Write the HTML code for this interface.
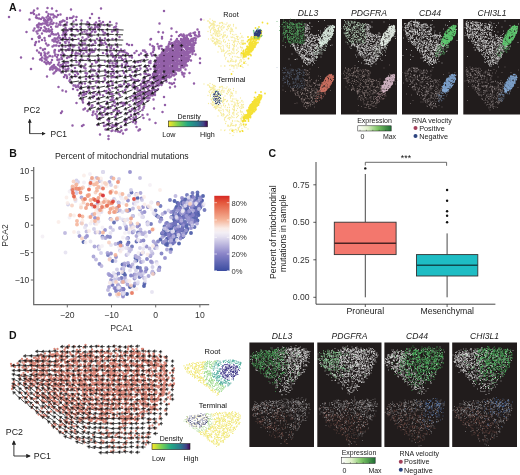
<!DOCTYPE html>
<html><head><meta charset="utf-8"><style>
html,body{margin:0;padding:0;background:#fff;width:520px;height:475px;overflow:hidden}
svg{display:block;font-family:"Liberation Sans",sans-serif;filter:blur(0.3px)}
</style></head><body>
<svg width="520" height="475" viewBox="0 0 520 475">
<defs>
<linearGradient id="vir" x1="0" x2="1" y1="0" y2="0"><stop offset="0" stop-color="#fde725"/><stop offset="0.25" stop-color="#7ad151"/><stop offset="0.5" stop-color="#22a884"/><stop offset="0.75" stop-color="#2a788e"/><stop offset="0.9" stop-color="#414487"/><stop offset="1" stop-color="#440154"/></linearGradient>
<linearGradient id="grn" x1="0" x2="1" y1="0" y2="0"><stop offset="0" stop-color="#ffffff"/><stop offset="0.3" stop-color="#dff0c8"/><stop offset="0.6" stop-color="#7cc464"/><stop offset="1" stop-color="#1f6e34"/></linearGradient>
<linearGradient id="rdbu" x1="0" x2="0" y1="0" y2="1"><stop offset="0.000" stop-color="rgb(215,40,36)"/><stop offset="0.091" stop-color="rgb(228,88,60)"/><stop offset="0.205" stop-color="rgb(236,133,105)"/><stop offset="0.318" stop-color="rgb(245,178,150)"/><stop offset="0.432" stop-color="rgb(250,236,231)"/><stop offset="0.489" stop-color="rgb(243,239,245)"/><stop offset="0.545" stop-color="rgb(228,224,240)"/><stop offset="0.659" stop-color="rgb(183,178,220)"/><stop offset="0.773" stop-color="rgb(138,132,200)"/><stop offset="0.886" stop-color="rgb(98,104,180)"/><stop offset="1.000" stop-color="rgb(59,76,160)"/></linearGradient>
<marker id="ah" viewBox="0 0 6 6" refX="5" refY="3" markerWidth="5" markerHeight="5" orient="auto"><path d="M0 0L6 3L0 6Z" fill="#222"/></marker>
</defs>
<text x="9" y="10.6" font-size="10.5" font-weight="bold" fill="#111">A</text>
<path transform="scale(.5)" d="M262 230h0M165 120h0M352 100h0M188 103h0M385 104h0M143 112h0M223 187h0M196 238h0M185 230h0M281 206h0M222 96h0M384 78h0M325 131h0M190 83h0M222 109h0M238 222h0M301 156h0M199 134h0M220 134h0M100 35h0M144 58h0M140 97h0M128 154h0M254 227h0M265 144h0M218 243h0M321 92h0M289 147h0M78 37h0M90 47h0M362 69h0M324 140h0M241 170h0M226 114h0M217 170h0M312 124h0M186 60h0M225 144h0M235 94h0M246 211h0M100 112h0M104 68h0M107 131h0M194 198h0M287 193h0M221 216h0M272 244h0M189 58h0M194 124h0M123 43h0M130 62h0M194 223h0M120 141h0M267 235h0M201 225h0M201 85h0M98 126h0M206 164h0M362 89h0M191 63h0M213 108h0M282 107h0M146 178h0M381 67h0M192 45h0M157 78h0M189 48h0M170 167h0M95 91h0M193 147h0M278 213h0M224 63h0M365 119h0M368 82h0M225 126h0M164 167h0M338 88h0M259 221h0M166 97h0M166 205h0M185 193h0M104 64h0M134 36h0M308 100h0M176 208h0M337 126h0M120 76h0M231 89h0M174 184h0M221 102h0M143 57h0M267 239h0M147 53h0M333 163h0M188 192h0M99 128h0M143 62h0M324 98h0M97 62h0M151 153h0M223 228h0M256 132h0M162 173h0M103 68h0M285 230h0M242 99h0M391 81h0M225 261h0M215 68h0M126 137h0M357 91h0M224 200h0M184 103h0M191 86h0M235 59h0M332 159h0M308 110h0M261 196h0M171 188h0M221 200h0M158 95h0M307 97h0M186 225h0M120 44h0M366 87h0M82 56h0M238 171h0M178 205h0M374 71h0M291 184h0M105 80h0M128 64h0M232 231h0M201 212h0M244 118h0M160 187h0M202 82h0M323 170h0M132 49h0M170 87h0M159 155h0M151 171h0M235 222h0M176 176h0M355 134h0M77 74h0M104 59h0M267 168h0M185 176h0M371 106h0M315 140h0M319 121h0M239 104h0M176 173h0M114 114h0M277 228h0M246 110h0M194 236h0M96 39h0M303 164h0M318 97h0M173 99h0M294 108h0M113 84h0M269 160h0M297 181h0M276 124h0M171 98h0M161 177h0M197 117h0M166 198h0M316 178h0M231 115h0M147 93h0M230 205h0M315 165h0M247 206h0M75 54h0M195 174h0M209 50h0M272 161h0M253 106h0M225 153h0M210 159h0M218 171h0M167 187h0M387 77h0M223 92h0M225 127h0M301 126h0M225 250h0M89 111h0M252 245h0M373 105h0M323 92h0M138 91h0M216 71h0M202 85h0M134 38h0M178 119h0M122 79h0M220 103h0M214 249h0M199 42h0M210 66h0M172 188h0M168 135h0M293 188h0M190 121h0M116 67h0M115 119h0M306 172h0M295 202h0M369 71h0M211 229h0M209 156h0M157 174h0M133 50h0M314 115h0M232 154h0M129 125h0M144 36h0M343 146h0M263 111h0M308 94h0M89 54h0M300 190h0M156 62h0M270 125h0M112 53h0M126 76h0M153 124h0M252 129h0M151 108h0M241 173h0M132 64h0M292 148h0M164 100h0M100 36h0M347 123h0M251 179h0M238 115h0M331 104h0M261 238h0M177 68h0M151 117h0M250 250h0M347 132h0M103 134h0M93 120h0M200 76h0M205 231h0M178 181h0M286 173h0M385 96h0M256 108h0M278 110h0M178 210h0M301 138h0M177 74h0M296 141h0M249 101h0M238 188h0M122 110h0M122 130h0M178 47h0M311 147h0M324 105h0M265 192h0M345 149h0M122 99h0M224 195h0M177 109h0M92 87h0M208 252h0M272 238h0M196 55h0M144 106h0M292 185h0M105 81h0M241 226h0M297 190h0M222 162h0M182 82h0M270 228h0M236 108h0M281 137h0M210 140h0M197 139h0M105 113h0M225 188h0M235 209h0M90 62h0M165 88h0M267 133h0M228 205h0M105 139h0M241 206h0M127 64h0M275 226h0M261 223h0M226 111h0M160 108h0M109 105h0M314 171h0M225 169h0M158 87h0M183 103h0M112 91h0M211 251h0M280 181h0M139 58h0M332 136h0M264 115h0M147 171h0M114 137h0M156 107h0M150 143h0M374 85h0M256 168h0M298 125h0M281 149h0M294 137h0M165 86h0M283 173h0M236 263h0M234 126h0M363 134h0M79 72h0M165 75h0M271 124h0M184 151h0M137 98h0M318 170h0M246 184h0M367 86h0M235 64h0M184 99h0M250 209h0M212 88h0M153 50h0M309 155h0M214 94h0M133 69h0M162 103h0M251 151h0M251 131h0M200 53h0M300 187h0M136 132h0M285 220h0M153 59h0M242 253h0M248 168h0M247 103h0M230 119h0M139 162h0M325 165h0M218 80h0M230 220h0M190 64h0M254 126h0M249 242h0M186 186h0M258 235h0M187 140h0M213 208h0M187 103h0M78 76h0M224 107h0M275 180h0M342 97h0M206 191h0M338 120h0M219 251h0M184 211h0M90 98h0M302 171h0M231 127h0M267 217h0M274 138h0M169 63h0M171 97h0M99 112h0M191 228h0M216 217h0M223 155h0M218 239h0M150 72h0M167 107h0M219 52h0M205 87h0M170 99h0M240 264h0M281 123h0M173 67h0M330 158h0M173 49h0M341 141h0M219 126h0M133 151h0M225 210h0M88 41h0M97 105h0M244 129h0M250 206h0M212 218h0M125 93h0M206 63h0M140 159h0M111 134h0M149 91h0M299 182h0M272 234h0M99 72h0M119 141h0M246 120h0M304 183h0M243 261h0M269 174h0M120 86h0M212 228h0M228 147h0M233 47h0M341 109h0M85 35h0M130 58h0M215 240h0M367 106h0M306 104h0M214 204h0M332 100h0M279 214h0M232 133h0M101 45h0M364 83h0M128 66h0M201 236h0M144 154h0M108 69h0M339 85h0M226 195h0M108 69h0M214 259h0M152 112h0M221 96h0M96 62h0M185 211h0M213 186h0M228 252h0M276 160h0M239 74h0M131 86h0M188 185h0M193 189h0M173 95h0M288 213h0M111 109h0M264 218h0M174 61h0M240 152h0M96 32h0M195 150h0M184 63h0M357 106h0M334 119h0M318 142h0M287 166h0M220 44h0M145 90h0M143 166h0M361 100h0M308 159h0M116 110h0M269 172h0M230 212h0M209 222h0M298 132h0M282 192h0M224 110h0M310 150h0M183 214h0M86 47h0M192 125h0M174 147h0M334 145h0M156 148h0M228 98h0M229 205h0M185 104h0M206 106h0M168 190h0M363 129h0M115 120h0M111 137h0M145 103h0M317 93h0M253 173h0M210 123h0M347 91h0M392 77h0M344 89h0M269 106h0M103 40h0M249 104h0M131 93h0M224 254h0M113 47h0M331 99h0M214 102h0M194 232h0M220 188h0M165 201h0M164 65h0M360 70h0M251 260h0M207 69h0M152 174h0M214 166h0M132 131h0M82 38h0M180 99h0M146 93h0M74 51h0M146 70h0M213 182h0M153 34h0M230 234h0M222 148h0M269 222h0M204 229h0M201 131h0M156 171h0M391 86h0M271 221h0M101 136h0M152 105h0M231 262h0M107 46h0M278 188h0M293 111h0M248 146h0M155 180h0M190 58h0M152 40h0M228 134h0M352 148h0M184 128h0M207 246h0M221 121h0M159 125h0M102 125h0M187 177h0M352 114h0M100 72h0M306 177h0M171 129h0M389 76h0M99 49h0M191 98h0M161 54h0M123 145h0M91 44h0M269 228h0M200 189h0M261 152h0M183 55h0M97 58h0M120 133h0M266 244h0M132 101h0M210 85h0M104 120h0M183 91h0M243 206h0M176 118h0M354 79h0M139 149h0M190 50h0M89 105h0M220 132h0M210 217h0M235 248h0M168 186h0M358 72h0M132 143h0M202 47h0M347 113h0M280 180h0M335 139h0M139 76h0M220 181h0M291 104h0M147 43h0M185 150h0M272 190h0M132 125h0M195 207h0M181 154h0M110 111h0M194 189h0M224 189h0M175 44h0M239 151h0M155 61h0M272 150h0M192 165h0M129 42h0M385 79h0M378 69h0M183 139h0M232 78h0M118 102h0M261 135h0M143 141h0M187 223h0M79 49h0M91 57h0M215 145h0M236 180h0M329 140h0M173 104h0M310 190h0M206 44h0M377 90h0M275 161h0M354 78h0M134 156h0M259 210h0M121 45h0M89 62h0M290 155h0M227 132h0M250 180h0M136 125h0M258 169h0M366 100h0M235 145h0M304 111h0M162 134h0M339 116h0M108 130h0M125 105h0M253 259h0M251 118h0M194 78h0M311 122h0M240 191h0M130 150h0M94 50h0M227 141h0M158 191h0M195 162h0M225 78h0M117 130h0M243 173h0M225 176h0M172 152h0M197 156h0M186 89h0M180 107h0M198 183h0M205 214h0M186 195h0M273 140h0M339 84h0M210 77h0M173 78h0M254 239h0M232 252h0M388 102h0M93 115h0M115 85h0M171 137h0M225 166h0M277 219h0M131 86h0M365 72h0M204 60h0M181 167h0M228 154h0M380 71h0M325 113h0M285 204h0M357 115h0M177 54h0M95 107h0M163 132h0M322 132h0M228 201h0M223 262h0M127 66h0M306 150h0M196 49h0M249 162h0M244 134h0M169 80h0M358 83h0M133 50h0M171 146h0M297 162h0M154 145h0M186 158h0M271 247h0M250 240h0M249 124h0M102 54h0M211 144h0M183 72h0M224 138h0M259 138h0M123 115h0M230 121h0M228 55h0M299 123h0M175 70h0M82 48h0M218 178h0M277 162h0M301 122h0M279 132h0M180 156h0M145 131h0M97 58h0M246 142h0M93 47h0M197 198h0M95 45h0M163 41h0M150 136h0M90 108h0M294 196h0M308 97h0M270 142h0M140 36h0M232 130h0M328 116h0M227 221h0M234 226h0M89 76h0M268 193h0M77 61h0M262 154h0M211 150h0M163 119h0M228 61h0M159 99h0M244 103h0M135 139h0M316 159h0M293 114h0M256 173h0M165 191h0M265 173h0M159 167h0M90 40h0M209 182h0M307 100h0M232 247h0M96 124h0M158 129h0M181 67h0M214 107h0M146 80h0M265 158h0M190 55h0M202 90h0M164 91h0M242 114h0M150 150h0M147 33h0M167 183h0M323 169h0M197 49h0M382 72h0M200 218h0M204 80h0M325 125h0M216 227h0M82 107h0M162 60h0M360 111h0M99 63h0M230 54h0M148 171h0M170 99h0M338 151h0M270 178h0M194 53h0M189 141h0M81 96h0M279 216h0M259 113h0M172 158h0M328 117h0M232 53h0M134 154h0M260 150h0M317 125h0M305 154h0M109 32h0M109 103h0M101 38h0M80 119h0M110 100h0M77 55h0M106 68h0M78 47h0M131 139h0M125 70h0M80 75h0M138 85h0M93 35h0M127 108h0M105 48h0M138 92h0M139 79h0M75 67h0M96 51h0M130 133h0M69 57h0M110 77h0M84 67h0M116 30h0M86 99h0M111 81h0M116 75h0M88 37h0M130 72h0M94 41h0M109 77h0M136 99h0M73 31h0M137 114h0M126 128h0M114 77h0M119 119h0M92 58h0M136 138h0M109 101h0M118 101h0M117 81h0M108 91h0M74 101h0M95 125h0M72 84h0M101 61h0M124 43h0M115 53h0M91 119h0M113 141h0M116 129h0M137 91h0M103 42h0M98 72h0M138 91h0M89 124h0M135 61h0M106 29h0M112 69h0M78 83h0M80 60h0M131 76h0M107 35h0M97 28h0M98 37h0M137 137h0M77 61h0M102 61h0M118 71h0M138 100h0M84 115h0M130 84h0M132 59h0M73 63h0M86 47h0M97 40h0M134 116h0M124 132h0M134 81h0M97 90h0M90 81h0M101 47h0M82 110h0M118 125h0M75 50h0M102 29h0M105 93h0M109 145h0M89 117h0M129 68h0M92 126h0M125 133h0M71 86h0M139 114h0M84 80h0M131 86h0M126 41h0M86 100h0M129 110h0M87 61h0M121 29h0M108 83h0M113 91h0M125 92h0M118 49h0M82 118h0M74 36h0M107 136h0M107 35h0M118 92h0M78 29h0M91 112h0M134 45h0M100 139h0M107 147h0M112 142h0M131 56h0M77 54h0M117 139h0M124 118h0M113 34h0M121 50h0M83 49h0M95 115h0M127 51h0M104 133h0M133 79h0M119 139h0M93 63h0M344 135h0M317 133h0M325 143h0M340 124h0M372 117h0M355 109h0M343 107h0M364 100h0M340 104h0M357 122h0M344 114h0M337 140h0M376 118h0M322 118h0M325 123h0M337 108h0M330 132h0M316 143h0M371 128h0M321 125h0M329 128h0M362 106h0M349 99h0M333 103h0M352 134h0M383 81h0M362 78h0M351 147h0M336 124h0M352 89h0M319 132h0M334 102h0M379 82h0M329 113h0M355 115h0M343 113h0M322 131h0M336 131h0M334 132h0M341 111h0M345 110h0M311 154h0M379 82h0M385 103h0M368 93h0M356 115h0M316 150h0M367 80h0M316 153h0M375 116h0M359 99h0M329 137h0M328 101h0M323 139h0M366 133h0M360 100h0M339 145h0M351 146h0M350 109h0M308 153h0M345 103h0M347 88h0M313 123h0M369 118h0M370 116h0M327 158h0M359 110h0M334 148h0M343 113h0M319 114h0M337 91h0M370 76h0M331 99h0M338 106h0M336 132h0M376 121h0M361 86h0M324 111h0M345 140h0M365 88h0M348 92h0M323 125h0M324 120h0M382 98h0M361 133h0M333 116h0M329 123h0M356 112h0M345 126h0M369 118h0M382 83h0M326 128h0M347 130h0M326 120h0M315 118h0M361 137h0M360 94h0M377 106h0M366 79h0M320 115h0M371 83h0M329 110h0M326 130h0M374 95h0M333 135h0M336 143h0M358 85h0M347 119h0M330 102h0M360 140h0M372 110h0M315 145h0M361 130h0M371 115h0M367 115h0M356 92h0M309 138h0M329 106h0M335 131h0M322 113h0M316 151h0M357 85h0M322 134h0M372 78h0M376 81h0M386 101h0M380 105h0M373 119h0M372 98h0M340 138h0M347 89h0M367 81h0M356 141h0M356 95h0M369 132h0M370 123h0M322 154h0M317 116h0M344 88h0M328 135h0M379 89h0M318 155h0M374 92h0M332 110h0M311 139h0M317 136h0M351 126h0M366 93h0M330 136h0M373 77h0M322 117h0M376 97h0M354 123h0M316 134h0M321 112h0M337 128h0M328 110h0M358 139h0M342 127h0M310 128h0M370 90h0M319 124h0M334 152h0M373 123h0M350 95h0M334 125h0M311 148h0M331 133h0M378 105h0M348 111h0M364 107h0M371 127h0M325 109h0M343 123h0M314 145h0M338 106h0M376 84h0M337 93h0M357 121h0M353 108h0M352 135h0M381 102h0M357 138h0M373 96h0M326 122h0M376 122h0M329 103h0M355 96h0M331 155h0M383 99h0M374 105h0M311 129h0M342 127h0M326 109h0M324 127h0M365 91h0M383 89h0M373 108h0M327 154h0M356 82h0M359 87h0M342 135h0M347 94h0M371 83h0M348 117h0M367 129h0M383 82h0M349 125h0M377 114h0M339 114h0M350 134h0M363 113h0M352 136h0M337 111h0M379 88h0M377 81h0M374 102h0M379 85h0M354 127h0M370 119h0M343 127h0M355 138h0M358 84h0M346 87h0M363 99h0M324 151h0M370 87h0M339 117h0M335 101h0M349 119h0M319 143h0M330 114h0M321 115h0M350 114h0M362 96h0M330 148h0M315 144h0M382 99h0M364 84h0M341 142h0M333 136h0M365 91h0M380 113h0M316 157h0M338 122h0M323 157h0M329 118h0M350 114h0M353 118h0M319 119h0M344 86h0M383 95h0M384 97h0M326 123h0M374 110h0M368 110h0M368 102h0M342 153h0M351 84h0M352 108h0M340 104h0M327 137h0M310 135h0M313 123h0M380 87h0M372 105h0M308 132h0M333 118h0M334 100h0M344 99h0M316 122h0M336 154h0M349 84h0M364 92h0M368 117h0M342 123h0M332 141h0M317 125h0M359 101h0M378 115h0M321 139h0M336 117h0M344 95h0M337 111h0M365 100h0M337 100h0M378 86h0M348 87h0M314 129h0M359 107h0M371 117h0M342 88h0M365 83h0M334 103h0M362 94h0M320 134h0M378 86h0M310 127h0M349 143h0M342 137h0M347 112h0M319 160h0M307 151h0M363 91h0M358 113h0M372 97h0M311 125h0M352 140h0M333 122h0M359 128h0M342 126h0M355 84h0M343 119h0M373 100h0M325 112h0M338 129h0M355 134h0M332 151h0M352 126h0M339 138h0M341 109h0M362 110h0M334 99h0M366 87h0M357 85h0M373 116h0M371 75h0M368 110h0M350 94h0M348 114h0M355 84h0M346 140h0M365 84h0M350 104h0M316 119h0M322 158h0M330 110h0M367 91h0M358 84h0M368 106h0M361 92h0M357 87h0M366 87h0M309 129h0M364 129h0M346 119h0M370 86h0M370 110h0M320 143h0M347 116h0M324 124h0M356 103h0M367 81h0M320 145h0M333 154h0M328 145h0M362 79h0M338 139h0M324 151h0M318 142h0M321 132h0M323 124h0M329 159h0M318 157h0M333 133h0M347 131h0M312 126h0M344 141h0M332 143h0M340 140h0M347 133h0M362 92h0M343 122h0M374 104h0M354 136h0M369 120h0M372 82h0M339 105h0M374 102h0M361 114h0M332 155h0M331 112h0M331 132h0M338 116h0M350 119h0M332 114h0M334 151h0M336 153h0M366 131h0M384 91h0M316 123h0M360 99h0M372 96h0M333 118h0M338 146h0M347 115h0M315 118h0M312 159h0M361 99h0M332 152h0M388 90h0M336 153h0M374 87h0M337 129h0M345 94h0M365 115h0M354 93h0M363 120h0M309 156h0M312 154h0M356 138h0M336 94h0M335 124h0M365 106h0M332 99h0M317 129h0M330 152h0M372 80h0M315 139h0M341 144h0M364 114h0M378 119h0M316 135h0M347 144h0M355 85h0M387 85h0M375 88h0M367 83h0M325 126h0M323 156h0M370 131h0M339 138h0M317 151h0M359 96h0M317 118h0M340 147h0M361 140h0M314 138h0M369 122h0M310 138h0M355 132h0M325 150h0M312 145h0M352 81h0M332 101h0M359 141h0M320 112h0M323 154h0M342 153h0M314 145h0M309 134h0M363 125h0M327 156h0M385 81h0M346 104h0M328 142h0M308 145h0M312 148h0M319 119h0M326 136h0M353 96h0M340 128h0M332 140h0M335 117h0M358 111h0M347 115h0M325 108h0M350 108h0M317 151h0M370 104h0M339 140h0M353 105h0M361 133h0M313 154h0M363 97h0M341 146h0M312 159h0M332 152h0M374 108h0M347 128h0M357 139h0M357 123h0M321 121h0M345 123h0M306 148h0M332 158h0M332 100h0M341 147h0M342 145h0M348 136h0M323 108h0M356 139h0M320 151h0M327 132h0M333 108h0M361 87h0M348 137h0M340 113h0M342 115h0M382 91h0M359 123h0M350 104h0M333 154h0M321 141h0M369 111h0M351 117h0M365 114h0M343 125h0M352 112h0M320 141h0M327 129h0M335 139h0M335 109h0M376 96h0M326 149h0M336 151h0M342 146h0M361 90h0M314 120h0M327 114h0M380 112h0M334 115h0M363 118h0M362 104h0M360 99h0M336 111h0M331 140h0M375 95h0M361 140h0M359 89h0M376 96h0M325 114h0M375 92h0M342 122h0M333 129h0M350 85h0M369 121h0M361 86h0M327 116h0M362 87h0M370 84h0M312 133h0M362 97h0M321 146h0M320 111h0M377 91h0M320 157h0M315 129h0M323 136h0M349 150h0M376 89h0M350 108h0M362 118h0M329 123h0M371 110h0M333 131h0M337 97h0M335 116h0M367 103h0M363 81h0M334 137h0M312 128h0M373 81h0M366 112h0M374 102h0M357 99h0M349 121h0M369 80h0M374 122h0M348 91h0M337 95h0M340 102h0M315 151h0M329 129h0M365 121h0M335 147h0M346 103h0M366 82h0M368 76h0M385 106h0M332 122h0M373 105h0M337 151h0M319 114h0M328 131h0M346 115h0M355 91h0M312 154h0M367 78h0M325 117h0M378 88h0M353 115h0M341 141h0M336 100h0M338 100h0M354 90h0M376 106h0M312 147h0M323 154h0M358 121h0M348 106h0M337 125h0M343 112h0M349 117h0M342 153h0M349 124h0M369 131h0M347 108h0M315 143h0M387 98h0M339 155h0M350 109h0M364 82h0M338 129h0M370 105h0M310 155h0M311 147h0M309 143h0M350 92h0M324 114h0M372 125h0M361 113h0M323 127h0M332 139h0M365 90h0M352 82h0M370 95h0M361 123h0M347 108h0M328 129h0M350 127h0M330 105h0M321 129h0M362 133h0M313 157h0M341 98h0M351 120h0M330 152h0M369 106h0M336 96h0M386 96h0M352 92h0M327 134h0M313 135h0M320 159h0M334 124h0M310 134h0M331 141h0M338 111h0M386 81h0M287 120h0M402 39h0M378 99h0M355 98h0M305 92h0M391 109h0M348 166h0M367 147h0M343 116h0M343 72h0M352 130h0M336 136h0M302 107h0M362 80h0M323 125h0M352 105h0M365 124h0M271 174h0M376 109h0M361 113h0M339 135h0M374 111h0M349 130h0M363 133h0M356 101h0M326 103h0M340 175h0M359 124h0M377 104h0M342 79h0M330 152h0M349 92h0M311 144h0M384 89h0M351 127h0M343 114h0M313 157h0M377 96h0M263 160h0M367 69h0M338 106h0M361 105h0M390 70h0M350 159h0M382 79h0M324 105h0M358 107h0M317 64h0M390 65h0M270 162h0M348 151h0M368 153h0M318 130h0M335 95h0M345 150h0M353 120h0M316 146h0M307 151h0M314 146h0M345 105h0M358 128h0M385 108h0M357 112h0M362 129h0M358 114h0M360 86h0M387 95h0M355 123h0M339 166h0M328 123h0M340 122h0M360 124h0M333 115h0M347 142h0M352 102h0M381 96h0M374 131h0M398 64h0M335 113h0M349 139h0M381 99h0M376 116h0M361 94h0M329 123h0M400 117h0M374 75h0M382 121h0M328 122h0M271 199h0M335 118h0M367 135h0M347 124h0M375 100h0M319 111h0M329 127h0M361 113h0M333 94h0M364 145h0M367 102h0M369 147h0M326 158h0M377 107h0M371 139h0M362 108h0M344 93h0M321 145h0M322 147h0M312 123h0M326 125h0M276 197h0M368 124h0M334 137h0M350 126h0M388 167h0M311 159h0M352 135h0M369 133h0M354 117h0M365 149h0M362 -12h0M347 122h0M370 94h0M307 166h0M374 105h0M315 88h0M388 87h0M342 132h0M291 132h0M287 216h0M366 129h0M343 57h0M328 108h0M323 115h0M346 150h0M367 128h0M333 123h0M336 144h0M363 101h0M322 117h0M342 102h0M376 78h0M331 127h0M399 72h0M314 165h0M298 188h0M300 150h0M305 167h0M316 169h0M266 200h0M325 156h0M296 150h0M299 196h0M293 196h0M285 163h0M295 162h0M317 171h0M322 154h0M276 187h0M303 182h0M289 157h0M281 191h0M300 157h0M296 186h0M297 149h0M301 165h0M310 185h0M320 160h0M290 169h0M270 195h0M322 147h0M319 167h0M292 171h0M300 172h0M269 187h0M306 179h0M325 150h0M312 161h0M273 191h0M288 172h0M320 165h0M280 186h0M287 160h0M314 161h0M298 150h0M305 154h0M306 148h0M290 174h0M307 154h0M275 210h0M277 206h0M274 190h0M284 199h0M315 146h0M315 159h0M284 196h0M289 186h0M283 176h0M309 166h0M289 183h0M277 208h0M279 181h0M314 158h0M302 183h0M298 171h0M301 191h0M292 169h0M297 197h0M278 190h0M293 175h0M307 149h0M290 190h0M278 204h0M311 173h0M322 143h0M324 153h0M317 161h0M307 189h0M281 170h0M279 197h0M300 187h0M310 180h0M276 209h0M295 165h0M312 152h0M282 168h0M287 199h0M297 195h0M322 165h0M304 171h0M314 180h0M317 142h0M295 189h0M295 174h0M304 154h0M299 187h0M321 141h0M321 161h0M275 176h0M283 203h0M322 156h0M320 145h0M305 191h0M303 184h0M300 186h0M282 207h0M273 199h0M281 189h0M305 177h0M270 187h0M299 173h0M296 178h0M284 184h0M302 187h0M306 171h0M282 185h0M284 196h0M266 201h0M289 185h0M314 164h0M313 170h0M289 163h0M270 196h0M272 205h0M124 223h0M289 101h0M78 105h0M319 47h0M387 66h0M62 26h0M153 206h0M167 250h0M246 267h0M400 126h0M198 36h0M328 22h0M104 17h0M217 278h0M396 73h0M307 199h0M62 138h0M264 90h0M258 90h0M279 259h0M18 34h0M328 194h0M302 78h0M273 102h0M94 153h0M170 217h0M395 59h0M392 71h0M167 219h0M311 246h0M84 121h0M350 173h0M353 64h0M164 252h0M70 90h0M200 269h0M95 16h0M273 254h0M308 217h0M145 251h0M53 64h0M326 65h0M211 259h0M180 36h0M325 224h0M73 31h0M277 261h0M125 181h0M78 105h0M66 117h0M68 21h0M109 145h0M175 222h0M64 78h0M132 183h0M66 25h0M344 168h0M280 259h0M93 24h0M324 77h0M301 79h0M330 210h0M68 28h0M195 250h0M67 61h0M40 21h0M59 39h0M93 128h0M202 17h0M300 89h0M122 226h0M295 229h0M142 19h0M299 239h0M217 272h0M72 35h0M42 115h0M324 74h0M117 174h0M379 146h0M184 28h0M75 17h0M286 101h0M287 236h0M343 167h0M398 68h0M113 22h0M93 24h0M254 88h0M370 131h0" stroke="#874f9f" stroke-opacity="0.9" stroke-width="5" stroke-linecap="round" fill="none"/><path transform="scale(.5)" d="M346 101h0M363 100h0M328 111h0M345 113h0M363 111h0M328 122h0M346 121h0M363 121h0M328 132h0M345 132h0M364 131h0" stroke="#2a1030" stroke-opacity="0.9" stroke-width="3" stroke-linecap="round" fill="none"/><path d="M66.5 24.8L65.3 24.8M78.1 24.2L72.5 24.1M88.2 24.1L81.8 23.9M96.5 24.9L89.9 24.7M104.2 25L99.7 24.9M112.7 25L108.2 24.9M68.6 30.1L63.6 29.9M78.4 29.6L72.2 29.5M86.1 29.7L81.7 29.6M95.9 29.4L90.5 29.2M104.5 29.7L99.9 29.6M114.6 29.8L108 29.6M123.6 30L116.4 29.7M66.8 34.6L65.7 34.6M78.4 35L72.2 34.8M87.9 34.3L81 34.1M95.7 35.1L90.5 35M105.7 35.1L98.9 34.8M113.7 34.5L108.4 34.3M123 34.8L117.6 34.7M69 39.6L63.2 39.5M77.3 39.6L72.8 39.4M86.4 40.9L82 40.8M95.7 40.2L90.7 40M105.1 40.4L100.5 40.2M114.2 40.2L108.5 40M123.3 40.1L116.8 39.9M68.6 45.4L62.7 45.2M78.2 45.2L71.3 45M87.9 45.1L81.3 44.9M95.9 45.4L89.5 45.2M104.5 45.2L100 45M114.1 45L109.6 44.9M122.2 45L117.6 44.9M173.6 45.6L172.7 45.6M183.2 45.5L181.9 45.5M69.7 50.1L62.8 49.8M78.1 50.3L73 50.2M86.8 50.7L80.6 50.5M95.8 50.3L90 50.1M106.3 50.1L99.5 49.9M114.4 50.3L107.5 50.1M124.1 50.8L116.9 50.6M164.5 50.2L163.8 50.2M68.6 55.8L64.3 55.7M78.6 55.7L72 55.5M87.1 56.1L82.2 56M96 56.1L89.6 55.9M104.9 55.7L98.7 55.5M114.9 56L108.3 55.8M123.3 55.8L116.8 55.6M132.8 55.7L126.1 55.5M148.7 55.4L146.3 55.3M157.3 55.4L156 55.3M68.7 61.3L64.3 61.4M76.9 60.5L72.3 60.6M87.4 60.4L80.8 60.4M95.5 60.5L90.4 60.6M105.5 60.2L99.3 60.2M114.9 61L108.7 61.1M123.2 60.5L117.6 60.9M132 60.5L127 61.2M142.2 59.9L135.1 61.3M148.5 59.6L144.8 60.5M156.8 60.4L155.5 60.7M69.1 66.2L63.7 66.5M78.8 65.1L71.8 65.3M85.7 65.9L81.3 66.1M96.2 66L91.5 66.2M105.4 65.4L99.5 65.6M114.7 65.7L108.1 66M122.9 65.6L118.1 66.2M132.3 65.8L125.8 67M142 65L135.2 66.6M148.9 65.1L145.8 66M156.6 65.5L155.1 66M69.4 70.9L63.4 71.4M78 71.1L73.2 71.5M86.8 70.9L81.1 71.4M96 70.8L90.7 71.2M106.3 70.8L99.7 71.3M114.1 71.4L108.9 71.8M122.9 70.6L117.5 71.4M132.1 69.9L126.8 71M140.5 70.1L136.2 71.3M148.9 69.9L145.7 71M157.3 70.4L155.7 71M165.5 71L164.5 71.4M174.5 70.9L173.7 71.3M77.7 76.1L72.2 76.8M87.3 76.5L80.7 77.3M95.7 75.9L89.9 76.6M105.4 75.5L98.6 76.3M113.5 75.7L108.6 76.3M122.9 76L117.7 77M132.4 75.4L125.9 77M140.6 73.9L135.6 75.5M149.8 75.1L144.8 77.1M157.8 75.7L154.7 77M167 75.6L164 76.9M79.1 81L72 82.1M87.3 81.1L81.3 82.1M96.6 80.8L90.4 81.8M105.3 80.9L99.6 81.8M113.9 81L108.9 81.8M123.1 80.7L116.9 82.1M131.9 80L126.3 81.6M140.6 80.1L135 82.1M149.9 79.8L144.8 82.1M159.1 79.8L153.4 82.5M167.2 79.9L162.3 82.2M86.9 86.7L81.8 87.8M96.1 85.9L89.7 87.2M105 86.2L99.2 87.4M113.9 85.3L108.2 86.4M123.2 85.8L116.7 87.5M131.7 84.9L127.3 86.4M140.5 84.8L135 87M149.8 85.4L144.1 88.2M158.6 84.9L153.7 87.4M87.4 91.3L81.3 92.8M96.4 91.3L90.7 92.7M105.1 90.8L99.5 92.2M113.6 91.5L109.1 92.6M123.2 90.7L117.2 92.6M132.5 89.8L126 92.3M141.2 90.1L135.2 92.9M150.1 90L144.1 93.2M158.9 89.5L153.1 92.8M87.2 96.4L81.5 98.1M95.1 96.4L90.5 97.7M105.4 96.4L99.3 98.2M114.6 95.4L108.3 97.2M122.8 96.5L117.5 98.4M131.8 95.7L126.9 97.8M140.8 95L136.1 97.4M148.5 95.5L144.7 97.8M96.2 101.1L89.6 103.2M105.5 101.1L99.1 103.1M114 101.2L108 103M122.3 101.7L118.2 103.2M131.5 100.5L127 102.5M141.1 100.4L135.3 103.5M149.7 100.2L144.4 103.4M95.9 107L90.5 108.7M105.3 106.6L98.9 108.6M113.6 105.7L108.9 107.1M123.5 105.8L117.3 108.1M131.8 106L126.2 108.5M140.7 105.1L135.4 107.9M104.7 112.1L100.3 113.4M114.5 111.6L107.7 113.7M122.4 111.9L117.9 113.6M132.6 110.4L126.2 113.3M141.4 110.8L135.6 113.9M104.4 117.1L99.9 118.5M113.9 117L109.5 118.3M122.5 116.5L116.7 118.7M132.1 116L125.8 118.9M141.4 116.4L135.5 119.6M104.5 122.2L99.1 123.9M113.1 122.6L108.9 123.9M122.9 121.8L116.7 124.1M131.7 121.7L126.3 124.1M113.5 127.5L108.9 128.9M122.3 127.1L117.7 128.8" stroke="#1a1a1a" stroke-width="0.85" fill="none"/><path d="M63.6 24.8L65.3 23.4L65.3 26.3ZM70 24L72.5 22.6L72.4 25.5ZM79.3 23.9L81.8 22.5L81.7 25.4ZM87.4 24.6L90 23.2L89.9 26.1ZM97.2 24.8L99.7 23.4L99.7 26.3ZM105.7 24.8L108.2 23.4L108.2 26.3ZM61.2 29.9L63.7 28.5L63.6 31.4ZM69.7 29.4L72.3 28L72.2 30.9ZM79.2 29.5L81.7 28.1L81.7 31ZM88 29.1L90.6 27.8L90.5 30.7ZM97.4 29.5L99.9 28.2L99.8 31.1ZM105.5 29.5L108 28.2L108 31.1ZM113.9 29.7L116.4 28.3L116.3 31.2ZM64 34.6L65.7 33.2L65.6 36.1ZM69.7 34.7L72.3 33.3L72.2 36.2ZM78.5 34L81 32.6L80.9 35.5ZM88 34.9L90.5 33.5L90.5 36.4ZM96.4 34.8L98.9 33.4L98.8 36.3ZM105.9 34.3L108.4 32.9L108.3 35.8ZM115.1 34.6L117.6 33.2L117.5 36.1ZM60.7 39.4L63.3 38L63.2 40.9ZM70.3 39.4L72.9 38L72.8 40.9ZM79.5 40.7L82 39.3L81.9 42.2ZM88.2 40L90.8 38.6L90.7 41.5ZM98 40.2L100.5 38.8L100.4 41.7ZM106 39.9L108.5 38.6L108.4 41.5ZM114.3 39.8L116.8 38.4L116.7 41.3ZM60.2 45.1L62.7 43.8L62.6 46.7ZM68.8 44.9L71.3 43.6L71.2 46.5ZM78.8 44.8L81.3 43.4L81.2 46.3ZM87 45.1L89.6 43.7L89.5 46.6ZM97.5 45L100.1 43.6L100 46.5ZM107.2 44.8L109.7 43.5L109.6 46.4ZM115.1 44.8L117.7 43.4L117.6 46.3ZM171.5 45.6L172.8 44.2L172.7 47.1ZM180 45.4L182 44L181.9 46.9ZM60.3 49.8L62.8 48.4L62.7 51.3ZM70.5 50.1L73.1 48.7L73 51.6ZM78.1 50.4L80.6 49L80.5 51.9ZM87.5 50.1L90 48.7L90 51.6ZM97 49.8L99.5 48.5L99.4 51.3ZM105 50L107.5 48.6L107.4 51.5ZM114.4 50.5L117 49.2L116.9 52.1ZM162.6 50.1L163.8 48.7L163.7 51.6ZM61.8 55.6L64.3 54.2L64.2 57.1ZM69.5 55.4L72.1 54.1L72 57ZM79.7 55.9L82.3 54.5L82.2 57.4ZM87.1 55.9L89.7 54.5L89.6 57.4ZM96.2 55.4L98.8 54.1L98.7 57ZM105.8 55.7L108.4 54.4L108.3 57.3ZM114.3 55.6L116.8 54.2L116.7 57.1ZM123.6 55.4L126.2 54.1L126.1 57ZM143.8 55.3L146.3 53.9L146.2 56.8ZM154 55.3L156 53.9L155.9 56.8ZM61.8 61.4L64.3 59.9L64.3 62.8ZM69.8 60.6L72.3 59.1L72.3 62ZM78.3 60.4L80.8 59L80.8 61.9ZM87.9 60.6L90.4 59.1L90.5 62ZM96.8 60.2L99.3 58.8L99.3 61.7ZM106.2 61.1L108.7 59.6L108.8 62.5ZM115.1 61.1L117.5 59.5L117.7 62.3ZM124.5 61.5L126.8 59.8L127.2 62.6ZM132.6 61.8L134.8 59.9L135.4 62.7ZM142.4 61.2L144.5 59.1L145.2 61.9ZM153.7 61.3L155.1 59.3L155.9 62.1ZM61.2 66.6L63.6 65L63.7 67.9ZM69.3 65.4L71.8 63.9L71.9 66.8ZM78.8 66.2L81.3 64.7L81.4 67.6ZM89 66.3L91.4 64.7L91.5 67.6ZM97 65.7L99.5 64.2L99.6 67.1ZM105.6 66.2L108.1 64.6L108.2 67.5ZM115.6 66.4L118 64.7L118.3 67.6ZM123.4 67.4L125.6 65.6L126.1 68.4ZM132.8 67.2L134.9 65.2L135.6 68.1ZM143.4 66.8L145.3 64.6L146.2 67.4ZM152.8 66.8L154.6 64.6L155.5 67.4ZM61 71.7L63.3 70L63.6 72.9ZM70.7 71.7L73 70.1L73.3 73ZM78.6 71.6L81 70L81.2 72.8ZM88.2 71.4L90.6 69.8L90.8 72.7ZM97.2 71.5L99.6 69.9L99.8 72.8ZM106.4 72.1L108.7 70.4L109 73.3ZM115 71.8L117.3 70L117.7 72.9ZM124.3 71.5L126.5 69.6L127.1 72.4ZM133.8 72L135.8 69.9L136.6 72.7ZM143.3 71.8L145.2 69.6L146.1 72.4ZM153.4 71.9L155.2 69.7L156.2 72.4ZM163.1 71.9L164 70L165 72.7ZM172.4 71.7L173.1 69.9L174.2 72.6ZM69.7 77.1L72 75.4L72.3 78.3ZM78.2 77.7L80.5 75.9L80.9 78.8ZM87.5 76.9L89.8 75.1L90.1 78ZM96.1 76.6L98.4 74.8L98.8 77.7ZM106.1 76.6L108.4 74.9L108.7 77.8ZM115.2 77.5L117.4 75.6L117.9 78.5ZM123.5 77.6L125.6 75.6L126.3 78.4ZM133.2 76.2L135.1 74.1L136 76.9ZM142.5 78.1L144.3 75.8L145.3 78.5ZM152.4 78L154.1 75.7L155.2 78.4ZM161.7 77.9L163.4 75.6L164.6 78.3ZM69.5 82.5L71.7 80.7L72.2 83.6ZM78.8 82.6L81.1 80.7L81.6 83.6ZM87.9 82.2L90.2 80.4L90.6 83.2ZM97.1 82.2L99.3 80.4L99.8 83.3ZM106.4 82.2L108.6 80.4L109.1 83.2ZM114.5 82.6L116.6 80.7L117.3 83.5ZM123.9 82.3L125.9 80.2L126.7 83ZM132.7 83L134.5 80.7L135.5 83.5ZM142.5 83.1L144.2 80.8L145.4 83.4ZM151.2 83.6L152.8 81.2L154 83.8ZM160 83.2L161.6 80.9L162.9 83.5ZM79.3 88.3L81.5 86.3L82.1 89.2ZM87.3 87.7L89.4 85.8L90 88.6ZM96.7 87.9L98.9 86L99.5 88.8ZM105.8 86.9L108 85L108.5 87.8ZM114.3 88.1L116.4 86.1L117.1 88.9ZM124.9 87.2L126.8 85L127.7 87.8ZM132.7 88L134.5 85.7L135.6 88.4ZM141.9 89.3L143.5 86.9L144.7 89.5ZM151.5 88.6L153 86.1L154.4 88.7ZM78.8 93.4L80.9 91.4L81.6 94.2ZM88.2 93.3L90.3 91.3L91 94.1ZM97 92.8L99.1 90.8L99.8 93.6ZM106.7 93.2L108.8 91.2L109.5 94ZM114.8 93.3L116.7 91.2L117.6 93.9ZM123.6 93.2L125.4 91L126.5 93.7ZM132.9 93.9L134.6 91.6L135.8 94.2ZM141.9 94.4L143.4 91.9L144.8 94.5ZM150.9 94.1L152.4 91.6L153.8 94.1ZM79.1 98.8L81.1 96.7L81.9 99.5ZM88.1 98.4L90.1 96.3L90.9 99.1ZM96.8 98.9L98.8 96.8L99.7 99.6ZM105.9 97.9L107.9 95.8L108.7 98.6ZM115.1 99.2L117 97L118 99.8ZM124.6 98.8L126.3 96.5L127.4 99.2ZM133.8 98.6L135.4 96.1L136.7 98.7ZM142.5 99L144 96.5L145.4 99ZM87.2 103.9L89.2 101.8L90 104.5ZM96.7 103.8L98.6 101.7L99.5 104.5ZM105.7 103.8L107.6 101.6L108.5 104.4ZM115.9 104.1L117.7 101.9L118.7 104.6ZM124.7 103.6L126.4 101.2L127.6 103.9ZM133.1 104.6L134.6 102.2L136 104.7ZM142.3 104.7L143.6 102.2L145.1 104.7ZM88.1 109.5L90 107.3L90.9 110.1ZM96.5 109.3L98.4 107.2L99.3 110ZM106.5 107.9L108.4 105.7L109.3 108.5ZM114.9 109L116.8 106.8L117.8 109.5ZM123.9 109.5L125.6 107.2L126.8 109.8ZM133.2 109.1L134.7 106.6L136.1 109.2ZM97.9 114.2L99.9 112.1L100.8 114.8ZM105.3 114.4L107.3 112.3L108.1 115.1ZM115.6 114.5L117.4 112.3L118.5 115ZM124 114.3L125.6 112L126.8 114.6ZM133.4 115.1L134.9 112.6L136.3 115.2ZM97.5 119.2L99.5 117.1L100.3 119.9ZM107.1 119.1L109.1 117L109.9 119.7ZM114.3 119.6L116.2 117.4L117.2 120.1ZM123.6 119.9L125.3 117.5L126.4 120.2ZM133.3 120.8L134.8 118.3L136.2 120.9ZM96.7 124.6L98.7 122.5L99.5 125.2ZM106.5 124.6L108.5 122.5L109.3 125.2ZM114.4 124.9L116.2 122.7L117.3 125.4ZM124 125.2L125.7 122.8L126.9 125.5ZM106.5 129.7L108.4 127.5L109.3 130.3ZM115.3 129.7L117.2 127.4L118.2 130.2Z" fill="#1a1a1a" stroke="#1a1a1a" stroke-width="0.4" stroke-linecap="round"/>
<path d="M29.7 133.6V119.5M29.7 133.6H45" stroke="#222" stroke-width="0.8" fill="none" marker-end="url(#ah)"/>
<path d="M29.7 133.6V119.5" stroke="#222" stroke-width="0.8" fill="none" marker-end="url(#ah)"/>
<text x="23.8" y="113" font-size="8.4" text-anchor="start" fill="#1a1a1a" >PC2</text>
<text x="50.6" y="136.8" font-size="8.4" text-anchor="start" fill="#1a1a1a" >PC1</text>
<text x="189.2" y="119" font-size="7" text-anchor="middle" fill="#111" >Density</text>
<rect x="168.3" y="121" width="39.2" height="5.8" fill="url(#vir)" stroke="#222" stroke-width="0.6"/>
<text x="162.3" y="137.2" font-size="7.2" text-anchor="start" fill="#111" >Low</text>
<text x="200" y="137.2" font-size="7.2" text-anchor="start" fill="#111" >High</text>
<text x="231" y="16.7" font-size="7.3" text-anchor="middle" fill="#111" >Root</text>
<text x="231.3" y="81.7" font-size="7.5" text-anchor="middle" fill="#111" >Terminal</text>
<path transform="scale(.5)" d="M480 124h0M468 106h0M455 123h0M468 70h0M468 75h0M467 85h0M442 55h0M437 93h0M482 89h0M421 46h0M474 100h0M466 99h0M456 56h0M472 69h0M428 76h0M430 84h0M484 129h0M458 81h0M437 56h0M434 88h0M461 121h0M427 82h0M464 75h0M443 103h0M458 50h0M457 51h0M426 68h0M486 117h0M469 82h0M449 70h0M456 108h0M439 46h0M452 115h0M434 62h0M452 105h0M442 54h0M443 53h0M456 108h0M442 56h0M427 56h0M468 123h0M448 101h0M488 123h0M465 59h0M455 72h0M472 55h0M451 106h0M447 70h0M456 121h0M473 100h0M429 63h0M471 124h0M475 79h0M461 64h0M438 51h0M447 94h0M472 120h0M429 55h0M455 102h0M473 73h0M432 77h0M475 75h0M426 47h0M483 95h0M485 81h0M448 102h0M449 111h0M470 77h0M470 113h0M475 114h0M459 101h0M484 96h0M468 92h0M466 100h0M468 82h0M468 131h0M477 129h0M465 60h0M439 47h0M435 63h0M465 131h0M464 58h0M450 85h0M457 80h0M433 79h0M464 123h0M446 101h0M437 81h0M483 82h0M436 62h0M477 83h0M474 100h0M428 46h0M477 103h0M453 59h0M477 132h0M429 85h0M460 62h0M453 104h0M486 75h0M473 107h0M435 83h0M481 108h0M435 71h0M453 75h0M463 132h0M459 53h0M473 122h0M467 96h0M483 123h0M487 86h0M459 87h0M468 107h0M425 56h0M482 85h0M430 87h0M436 57h0M480 121h0M447 74h0M447 66h0M432 68h0M486 104h0M443 100h0M446 74h0M487 101h0M471 82h0M421 60h0M483 81h0M440 71h0M475 105h0M472 57h0M477 115h0M445 51h0M465 69h0M448 73h0M477 84h0M488 119h0M474 132h0M475 73h0M441 96h0M466 63h0M457 57h0M476 128h0M479 125h0M465 114h0M421 62h0M485 103h0M462 108h0M466 132h0M424 71h0M470 82h0M484 86h0M451 70h0M457 123h0M468 93h0M444 60h0M467 52h0M451 71h0M487 81h0M438 92h0M424 48h0M474 83h0M464 119h0M462 57h0M431 85h0M428 60h0M475 79h0M474 136h0M434 66h0M469 90h0M438 55h0M465 113h0M486 117h0M428 49h0M437 58h0M442 93h0M431 59h0M445 76h0M426 56h0M465 106h0M485 95h0M438 66h0M458 107h0M481 119h0M473 92h0M459 91h0M467 49h0M442 98h0M483 100h0M463 120h0M487 108h0M423 50h0M452 90h0M446 91h0M470 113h0M462 74h0M431 86h0M464 81h0M483 74h0M476 73h0M468 133h0M458 124h0M449 112h0M462 59h0M465 98h0M422 47h0M443 69h0M443 59h0M445 45h0M467 91h0M461 123h0M446 100h0M483 120h0M445 73h0M430 50h0M446 103h0M445 47h0M462 130h0M447 81h0M456 102h0M428 60h0M451 83h0M428 51h0M448 53h0M425 49h0M460 107h0M455 53h0M434 85h0M438 72h0M429 79h0M474 114h0M457 51h0M467 84h0M472 130h0M461 50h0M486 103h0M440 62h0M455 91h0M438 81h0M454 93h0M458 107h0M452 49h0M446 56h0M458 97h0M455 87h0M434 72h0M442 88h0M421 51h0M465 89h0M480 115h0M424 56h0M469 84h0M440 82h0M436 73h0M477 79h0M437 92h0M469 88h0M459 96h0M433 83h0M468 102h0M459 94h0M454 74h0M462 117h0M484 87h0M463 62h0M478 127h0M433 65h0M468 98h0M438 66h0M462 56h0M469 93h0M426 74h0M468 136h0M476 96h0M450 64h0M439 52h0M456 95h0M477 128h0M428 53h0M455 60h0M479 87h0M470 80h0M422 51h0M485 96h0M486 84h0M443 84h0M475 88h0M459 111h0M448 48h0M425 75h0M441 46h0M471 122h0M482 109h0M481 93h0M448 79h0M447 71h0M439 87h0M449 108h0M447 98h0M463 104h0M471 130h0M447 83h0M465 74h0M481 95h0M461 67h0M474 77h0M443 45h0M462 63h0M466 122h0M448 55h0M427 56h0M443 100h0M458 53h0M422 70h0M480 76h0M439 93h0M431 44h0M428 47h0M431 71h0M430 59h0M438 87h0M421 61h0M426 46h0M430 50h0M440 63h0M426 52h0M418 54h0M423 58h0M423 71h0M433 62h0M437 60h0M431 62h0M419 44h0M436 83h0M434 79h0M440 87h0M434 72h0M430 68h0M426 82h0M428 56h0M433 52h0M432 88h0M440 68h0M427 60h0M424 81h0M430 43h0M421 65h0M438 62h0M427 43h0M440 86h0M428 56h0M440 71h0M438 65h0M419 56h0M427 48h0M435 84h0M427 67h0M428 50h0M434 81h0M429 43h0M431 90h0M437 59h0M436 85h0M440 77h0M438 66h0M423 71h0M424 56h0M430 65h0M436 68h0M422 78h0M430 86h0M434 68h0M425 76h0M428 87h0M432 88h0M420 53h0M435 79h0M435 51h0M426 77h0M429 85h0M434 87h0M481 95h0M483 111h0M482 111h0M487 108h0M483 109h0M486 106h0M485 115h0M484 108h0M488 110h0M487 102h0M486 104h0M486 110h0M487 99h0M487 113h0M487 114h0M487 107h0M483 106h0M487 106h0M482 112h0M484 114h0M415 42h0M450 132h0M466 143h0M481 67h0M486 135h0M484 72h0M451 118h0M496 130h0M449 132h0M460 139h0M484 133h0M442 132h0M454 46h0M419 44h0M436 104h0M417 78h0M431 89h0M416 63h0M417 42h0M486 135h0M459 131h0M408 40h0M425 83h0M491 123h0M492 127h0M419 46h0M420 38h0M489 126h0M425 41h0" stroke="#f0e060" stroke-opacity="0.6" stroke-width="2.6" stroke-linecap="round" fill="none"/><path transform="scale(.5)" d="M496 94h0M505 85h0M497 105h0M501 102h0M505 96h0M510 75h0M507 95h0M506 88h0M507 78h0M489 107h0M512 69h0M496 94h0M491 112h0M507 81h0M492 110h0M491 100h0M518 75h0M500 96h0M503 102h0M491 103h0M510 87h0M505 100h0M492 112h0M494 98h0M502 97h0M508 79h0M504 93h0M504 95h0M514 66h0M510 86h0M488 106h0M505 97h0M504 89h0M512 81h0M516 78h0M521 61h0M494 93h0M502 79h0M498 109h0M494 108h0M514 72h0M504 78h0M521 73h0M515 78h0M510 88h0M506 83h0M492 110h0M502 99h0M516 73h0M510 94h0M506 82h0M496 102h0M521 64h0M499 87h0M493 99h0M499 88h0M510 93h0M505 97h0M500 85h0M512 89h0M515 72h0M494 106h0M501 100h0M501 86h0M514 73h0M504 92h0M519 76h0M511 70h0M512 81h0M494 104h0M500 85h0M522 69h0M489 113h0M501 101h0M503 101h0M522 62h0M518 72h0M506 96h0M502 89h0M499 96h0M513 80h0M522 69h0M492 113h0M490 109h0M498 103h0M495 99h0M507 92h0M503 103h0M510 85h0M500 103h0M508 76h0M510 87h0M510 70h0M488 114h0M516 74h0M498 100h0M487 112h0M491 110h0M492 112h0M494 107h0M499 91h0M487 110h0M491 108h0M512 78h0M522 64h0M516 69h0M499 92h0M518 76h0M504 85h0M496 110h0M503 85h0M516 64h0M488 108h0M519 73h0M499 100h0M510 91h0M496 109h0M512 86h0M510 76h0M516 68h0M504 99h0M522 71h0M498 88h0M509 91h0M502 94h0M513 74h0M496 105h0M519 76h0M512 79h0M507 74h0M496 96h0M512 74h0M501 81h0M523 63h0M519 62h0M495 93h0M509 73h0M501 102h0M501 93h0M501 99h0M513 77h0M523 63h0M503 89h0M501 93h0M500 102h0M518 77h0M492 104h0M511 70h0M509 92h0M496 105h0M500 104h0M521 67h0M514 71h0M495 98h0M516 66h0M513 68h0M508 87h0M501 84h0M501 102h0M510 92h0M508 87h0M505 86h0M516 68h0M508 77h0M509 83h0M498 101h0M500 99h0M491 113h0M518 79h0M513 86h0M507 91h0M496 97h0M506 92h0M507 96h0M498 106h0M494 97h0M516 74h0M503 94h0M492 100h0M508 76h0M498 106h0M512 85h0M499 105h0M497 97h0M510 72h0M522 66h0M511 78h0M518 64h0M510 91h0M498 94h0M522 65h0M506 99h0M516 70h0M496 103h0M506 95h0M512 78h0M504 88h0M493 104h0M514 70h0M514 70h0M492 109h0M535 47h0M497 117h0M487 102h0M506 77h0M509 91h0M521 63h0M502 111h0M502 89h0M499 85h0M486 107h0M511 56h0M502 81h0M503 90h0M504 99h0M463 148h0M499 79h0M488 126h0M495 97h0M496 74h0M490 87h0M487 102h0M481 132h0M500 98h0M516 85h0M492 99h0M511 71h0M503 74h0M501 109h0M486 88h0M502 76h0M518 54h0M492 113h0M525 45h0M490 107h0M495 83h0M483 106h0M497 80h0M501 99h0M509 74h0" stroke="#f3dc12" stroke-opacity="0.85" stroke-width="3.6" stroke-linecap="round" fill="none"/><path transform="scale(.5)" d="M524 71h0M514 69h0M522 73h0M514 64h0M519 68h0M518 69h0M513 67h0M516 67h0M513 70h0M516 57h0M521 62h0M509 68h0M509 75h0M516 61h0M512 65h0M514 60h0M512 76h0M516 75h0M518 75h0M508 68h0M508 64h0M517 70h0M517 64h0M521 59h0M520 65h0M521 61h0M521 61h0M508 62h0M507 61h0M518 63h0M515 76h0M509 76h0M510 70h0M517 76h0M510 72h0M518 73h0M523 72h0M514 59h0M517 64h0M507 64h0" stroke="#4fb86a" stroke-opacity="0.8" stroke-width="2.6" stroke-linecap="round" fill="none"/><path transform="scale(.5)" d="M517 62h0M514 68h0M511 66h0M515 69h0M515 71h0M514 63h0M516 70h0M514 68h0M514 68h0M519 66h0M513 61h0M522 61h0M509 70h0M521 64h0M512 67h0M516 60h0M516 72h0M519 60h0M519 65h0M516 65h0M517 65h0M509 70h0M509 71h0M519 62h0M517 61h0M516 72h0M510 68h0M517 66h0M509 67h0M516 69h0M511 69h0M518 62h0M510 65h0M515 67h0M516 66h0M519 69h0M512 68h0M518 63h0M518 66h0M517 64h0M522 66h0M512 71h0M518 67h0M515 64h0M512 63h0M520 63h0M514 70h0M518 62h0M515 72h0M517 71h0M513 69h0M511 66h0M518 72h0M512 67h0M519 71h0M517 72h0M521 67h0M521 66h0M514 64h0M520 64h0" stroke="#26327a" stroke-opacity="0.95" stroke-width="3" stroke-linecap="round" fill="none"/>
<path transform="scale(.5)" d="M480 252h0M468 235h0M455 252h0M468 198h0M468 204h0M467 214h0M442 183h0M437 221h0M482 217h0M421 175h0M474 228h0M466 228h0M456 184h0M472 198h0M428 205h0M430 212h0M484 257h0M458 210h0M437 185h0M434 216h0M461 250h0M427 210h0M464 203h0M443 231h0M458 178h0M457 179h0M426 196h0M486 245h0M469 210h0M449 199h0M456 237h0M439 174h0M452 243h0M434 190h0M452 233h0M442 183h0M443 181h0M456 237h0M442 185h0M427 185h0M468 251h0M448 229h0M488 252h0M465 187h0M455 201h0M472 183h0M451 235h0M447 198h0M456 250h0M473 228h0M429 192h0M471 252h0M475 207h0M461 193h0M438 179h0M447 222h0M472 249h0M429 183h0M455 230h0M473 201h0M432 205h0M475 204h0M426 175h0M483 224h0M485 210h0M448 230h0M449 239h0M470 206h0M470 242h0M475 242h0M459 229h0M484 224h0M468 221h0M466 228h0M468 211h0M468 260h0M477 258h0M465 188h0M439 175h0M435 191h0M465 259h0M464 186h0M450 214h0M457 208h0M433 207h0M464 251h0M446 229h0M437 210h0M483 210h0M436 190h0M477 211h0M474 229h0M428 174h0M477 231h0M453 187h0M477 260h0M429 214h0M460 190h0M453 232h0M486 204h0M473 235h0M435 212h0M481 237h0M435 199h0M453 203h0M463 261h0M459 182h0M473 250h0M467 225h0M483 251h0M487 215h0M459 215h0M468 235h0M425 184h0M482 213h0M430 215h0M436 185h0M480 249h0M447 203h0M447 195h0M432 196h0M486 232h0M443 228h0M446 202h0M487 229h0M471 210h0M421 189h0M483 209h0M440 199h0M475 233h0M472 186h0M477 243h0M445 180h0M465 198h0M448 201h0M477 212h0M488 248h0M474 261h0M475 201h0M441 225h0M466 192h0M457 185h0M476 256h0M479 254h0M465 243h0M421 190h0M485 232h0M462 236h0M466 260h0M424 199h0M470 210h0M484 215h0M451 199h0M457 251h0M468 222h0M444 189h0M467 181h0M451 199h0M487 209h0M438 220h0M424 176h0M474 212h0M464 247h0M462 185h0M431 213h0M428 189h0M475 208h0M474 264h0M434 194h0M469 219h0M438 183h0M465 241h0M486 245h0M428 178h0M437 186h0M442 221h0M431 187h0M445 205h0M426 185h0M465 234h0M485 224h0M438 194h0M458 235h0M481 247h0M473 221h0M459 220h0M467 177h0M442 226h0M483 229h0M463 249h0M487 236h0M423 179h0M452 219h0M446 219h0M470 242h0M462 202h0M431 215h0M464 209h0M483 202h0M476 201h0M468 261h0M458 253h0M449 240h0M462 187h0M465 226h0M422 175h0M443 197h0M443 188h0M445 173h0M467 219h0M461 252h0M446 228h0M483 248h0M445 202h0M430 178h0M446 232h0M445 176h0M462 258h0M447 210h0M456 231h0M428 189h0M451 211h0M428 180h0M448 181h0M425 177h0M460 235h0M455 182h0M434 213h0M438 200h0M429 208h0M474 242h0M457 180h0M467 213h0M472 259h0M461 179h0M486 232h0M440 190h0M455 220h0M438 210h0M454 221h0M458 236h0M452 177h0M446 184h0M458 226h0M455 215h0M434 201h0M442 216h0M421 179h0M465 218h0M480 244h0M424 184h0M469 213h0M440 210h0M436 202h0M477 207h0M437 220h0M469 216h0M459 225h0M433 212h0M468 230h0M459 222h0M454 203h0M462 246h0M484 216h0M463 191h0M478 255h0M433 194h0M468 226h0M438 194h0M462 184h0M469 221h0M426 203h0M468 265h0M476 225h0M450 192h0M439 180h0M456 223h0M477 256h0M428 181h0M455 188h0M479 215h0M470 208h0M422 179h0M485 224h0M486 213h0M443 212h0M475 217h0M459 239h0M448 176h0M425 203h0M441 174h0M471 250h0M482 237h0M481 221h0M448 207h0M447 199h0M439 215h0M449 236h0M447 227h0M463 232h0M471 259h0M447 211h0M465 202h0M481 223h0M461 196h0M474 206h0M443 173h0M462 192h0M466 251h0M448 184h0M427 185h0M443 228h0M458 181h0M422 198h0M480 205h0M439 222h0M431 173h0M428 175h0M431 200h0M430 187h0M438 215h0M421 190h0M426 174h0M430 179h0M440 191h0M426 180h0M418 183h0M423 186h0M423 199h0M433 190h0M437 189h0M431 191h0M419 172h0M436 211h0M434 207h0M440 215h0M434 200h0M430 196h0M426 210h0M428 184h0M433 181h0M432 216h0M440 196h0M427 189h0M424 209h0M430 172h0M421 193h0M438 190h0M427 171h0M440 215h0M428 184h0M440 200h0M438 193h0M419 185h0M427 176h0M435 213h0M427 196h0M428 178h0M434 210h0M429 171h0M431 218h0M437 187h0M436 213h0M440 205h0M438 194h0M423 200h0M424 184h0M430 193h0M436 197h0M422 207h0M430 214h0M434 196h0M425 205h0M428 215h0M432 217h0M420 181h0M435 207h0M435 180h0M426 206h0M429 213h0M434 215h0M481 224h0M483 239h0M482 240h0M487 236h0M483 238h0M486 234h0M485 244h0M484 236h0M488 238h0M487 230h0M486 232h0M486 238h0M487 227h0M487 241h0M487 243h0M487 235h0M483 234h0M487 234h0M482 240h0M484 242h0M415 170h0M450 260h0M466 271h0M481 196h0M486 263h0M484 201h0M451 247h0M496 258h0M449 261h0M460 267h0M484 261h0M442 260h0M454 174h0M419 172h0M436 232h0M417 207h0M431 218h0M416 191h0M417 170h0M486 263h0M459 260h0M408 168h0M425 211h0M491 251h0M492 255h0M419 174h0M420 167h0M489 254h0M425 169h0" stroke="#f0e060" stroke-opacity="0.6" stroke-width="2.6" stroke-linecap="round" fill="none"/><path transform="scale(.5)" d="M504 221h0M521 199h0M504 220h0M500 232h0M518 202h0M506 221h0M503 214h0M508 211h0M513 210h0M519 194h0M504 209h0M510 215h0M496 230h0M509 202h0M499 234h0M500 223h0M503 210h0M490 230h0M501 218h0M492 236h0M503 219h0M494 234h0M495 221h0M510 200h0M498 215h0M504 210h0M489 241h0M504 215h0M500 217h0M506 224h0M495 221h0M517 210h0M491 242h0M511 200h0M509 204h0M490 230h0M510 217h0M504 224h0M518 190h0M519 197h0M493 230h0M500 211h0M509 211h0M519 201h0M501 225h0M490 234h0M499 217h0M510 207h0M498 228h0M512 202h0M501 210h0M505 209h0M512 205h0M516 203h0M503 208h0M496 229h0M499 225h0M517 198h0M514 210h0M499 232h0M500 224h0M511 217h0M502 220h0M511 204h0M497 238h0M495 237h0M503 208h0M516 194h0M508 201h0M512 218h0M495 230h0M506 204h0M522 197h0M515 206h0M506 216h0M507 220h0M497 221h0M516 210h0M500 233h0M502 218h0M523 192h0M501 219h0M502 211h0M515 202h0M507 213h0M508 214h0M495 223h0M507 207h0M498 224h0M494 221h0M513 208h0M505 210h0M523 194h0M495 232h0M498 215h0M512 197h0M516 208h0M498 219h0M504 211h0M495 233h0M512 213h0M506 212h0M506 212h0M496 227h0M510 215h0M510 213h0M499 219h0M499 218h0M519 190h0M517 208h0M506 204h0M509 218h0M499 231h0M507 208h0M501 212h0M521 199h0M497 220h0M495 229h0M500 219h0M499 216h0M503 208h0M500 230h0M504 227h0M501 214h0M509 203h0M505 204h0M512 209h0M498 220h0M509 223h0M512 203h0M496 230h0M509 214h0M498 232h0M523 191h0M508 210h0M512 204h0M508 214h0M512 214h0M498 216h0M505 208h0M519 205h0M522 191h0M496 234h0M490 234h0M489 236h0M491 233h0M503 212h0M511 220h0M504 209h0M505 213h0M501 229h0M500 217h0M501 233h0M521 191h0M495 234h0M513 198h0M510 205h0M504 215h0M512 198h0M488 237h0M499 217h0M500 216h0M504 226h0M518 200h0M511 213h0M504 215h0M491 234h0M503 213h0M505 216h0M518 193h0M493 237h0M513 201h0M515 201h0M512 212h0M519 191h0M496 226h0M488 239h0M498 215h0M488 242h0M511 210h0M500 212h0M517 199h0M509 212h0M492 231h0M492 232h0M502 226h0M497 229h0M489 238h0M509 200h0M511 202h0M508 204h0M512 219h0M516 206h0M506 219h0M505 204h0M501 232h0M491 235h0M503 218h0M503 228h0M516 206h0M498 234h0M518 193h0M509 208h0M519 202h0M509 195h0M485 242h0M530 187h0M518 203h0M480 263h0M515 194h0M498 223h0M511 185h0M503 221h0M501 218h0M489 233h0M501 211h0M497 242h0M505 217h0M505 225h0M522 184h0M501 235h0M492 249h0M505 222h0M506 214h0M520 195h0M487 249h0M485 262h0M490 234h0M503 220h0M514 212h0M519 199h0M498 215h0M505 226h0M503 218h0M491 231h0M487 235h0M515 198h0M499 226h0M465 262h0M495 237h0" stroke="#f3dc12" stroke-opacity="0.85" stroke-width="3.6" stroke-linecap="round" fill="none"/><path transform="scale(.5)" d="M441 189h0M435 187h0M432 181h0M435 186h0M428 201h0M432 204h0M431 186h0M432 209h0M434 182h0M437 202h0M430 187h0M427 200h0M441 195h0M440 201h0M434 184h0M434 197h0M439 204h0M435 205h0M425 196h0M439 192h0M438 205h0M443 202h0M426 190h0M440 188h0M432 198h0" stroke="#4fb86a" stroke-opacity="0.6" stroke-width="2" stroke-linecap="round" fill="none"/><path transform="scale(.5)" d="M434 206h0M429 196h0M440 207h0M437 187h0M435 205h0M435 202h0M438 201h0M429 188h0M432 189h0M438 204h0M436 186h0M438 200h0M433 197h0M432 206h0M431 199h0M436 193h0M441 191h0M433 200h0M433 207h0M435 190h0M436 183h0M439 188h0M431 203h0M438 203h0M427 188h0M439 200h0M434 192h0M431 202h0M431 207h0M428 189h0M433 183h0M439 205h0M439 195h0M437 189h0M436 184h0M433 193h0M427 193h0M431 193h0M430 186h0M435 198h0M428 192h0M429 189h0M438 195h0M431 183h0M430 186h0M429 200h0M427 198h0M442 202h0M441 197h0M431 185h0M431 197h0M430 192h0M437 209h0M438 201h0M437 197h0" stroke="#26327a" stroke-opacity="0.95" stroke-width="2.2" stroke-linecap="round" fill="none"/>
<rect x="280" y="19" width="56" height="95.5" fill="#211c1c"/><path transform="scale(.5)" d="M601 96h0M611 126h0M610 48h0M623 77h0M619 63h0M622 82h0M615 70h0M611 115h0M616 59h0M622 121h0M621 95h0M606 101h0M626 87h0M617 83h0M619 87h0M584 89h0M610 88h0M631 80h0M623 88h0M615 81h0M606 117h0M621 90h0M630 76h0M611 62h0M643 93h0M615 63h0M592 102h0M616 119h0M617 124h0M619 100h0M616 126h0M616 119h0M612 85h0M618 103h0M641 66h0M622 100h0M611 108h0M589 97h0M632 71h0M613 86h0M626 99h0M605 115h0M612 86h0M612 116h0M584 88h0M601 101h0M614 124h0M626 110h0M588 92h0M633 93h0M632 97h0M624 89h0M590 98h0M620 58h0M634 113h0M612 101h0M623 91h0M634 102h0M614 117h0M599 106h0M615 91h0M617 88h0M631 109h0M664 60h0M595 95h0M619 125h0M661 60h0M636 77h0M625 105h0M628 105h0M614 74h0M610 124h0M618 93h0M631 96h0M631 81h0M614 62h0M638 108h0M615 120h0M611 71h0M618 57h0M644 98h0M627 125h0M621 96h0M614 109h0M629 101h0M612 60h0M616 96h0M622 73h0M606 99h0M619 128h0M630 89h0M615 83h0M637 71h0M619 93h0M623 108h0M587 91h0M632 89h0M629 84h0M639 92h0M622 93h0M614 90h0M599 106h0M616 93h0M622 69h0M586 92h0M633 75h0M625 121h0M598 107h0M634 79h0M608 92h0M623 114h0M610 81h0M611 90h0M613 102h0M631 103h0M631 86h0M615 92h0M615 112h0M596 101h0M603 116h0M618 83h0M623 123h0M623 106h0M600 103h0M633 71h0M613 104h0M610 89h0M637 79h0M611 126h0M613 57h0M628 91h0M626 83h0M613 70h0M621 108h0M623 104h0M603 97h0M627 75h0M627 74h0M610 69h0M611 95h0M622 120h0M629 91h0M603 90h0M595 98h0M586 88h0M617 76h0M587 88h0M667 67h0M621 100h0M615 51h0M628 76h0M620 126h0M635 109h0M637 105h0M631 114h0M638 73h0M616 78h0M616 128h0M611 57h0M627 75h0M606 111h0M621 69h0M625 110h0M594 101h0M614 108h0M624 119h0M613 54h0M602 113h0M633 103h0M619 120h0M613 98h0M613 118h0M641 93h0M625 78h0M623 107h0M625 70h0M637 95h0M625 110h0M634 93h0M602 98h0M602 93h0M618 88h0M625 107h0M637 77h0M643 86h0M629 81h0M621 96h0M635 94h0M603 100h0M623 80h0M614 90h0M625 88h0M638 85h0M592 100h0M629 109h0M591 97h0M599 106h0M628 90h0M613 70h0M611 61h0M614 80h0M626 72h0M617 119h0M636 101h0M637 101h0M617 102h0M609 119h0M627 123h0M619 54h0M594 105h0M627 102h0M620 94h0M613 119h0M611 121h0M611 90h0M615 54h0M635 91h0M637 80h0M587 91h0M625 122h0M634 115h0M619 98h0M639 78h0M632 94h0M631 96h0M602 113h0M636 81h0M604 118h0M620 96h0M628 112h0M606 110h0M634 113h0M631 80h0M615 56h0M613 80h0M623 109h0M611 93h0M607 124h0M605 98h0M644 92h0M597 99h0M612 72h0M630 97h0M623 106h0M615 82h0M602 103h0M621 121h0M612 54h0M602 110h0M627 110h0M634 90h0M607 114h0M620 72h0M626 76h0M596 102h0M612 86h0M629 118h0M634 89h0M607 123h0M612 85h0M598 103h0M631 103h0M595 98h0M617 98h0M620 71h0M608 119h0M610 117h0M614 116h0M595 88h0M631 91h0M608 125h0M612 80h0M614 50h0M640 85h0M621 108h0M611 55h0M605 105h0M621 75h0M614 117h0M623 98h0M592 92h0M621 126h0M638 106h0M612 105h0M619 110h0M638 73h0M609 111h0M606 109h0M615 105h0M609 113h0M615 71h0M618 80h0M616 116h0M605 112h0M635 99h0M630 98h0M610 50h0M595 90h0M640 79h0M633 90h0M614 118h0M623 82h0M613 59h0M626 103h0M634 105h0M615 75h0M615 105h0M611 110h0M631 95h0M633 112h0M606 92h0M610 65h0M664 58h0M595 95h0M619 80h0M640 77h0M600 103h0M619 107h0M623 95h0M630 75h0M610 110h0M645 93h0M596 95h0M658 58h0M611 117h0M625 117h0M615 76h0M613 107h0M622 117h0M631 91h0M624 114h0M624 98h0M621 124h0M626 83h0M620 122h0M617 78h0M642 89h0M598 110h0M599 106h0M617 121h0M587 90h0M637 85h0M637 97h0M609 103h0M612 101h0M643 98h0M623 83h0M624 70h0M634 93h0M632 113h0M633 117h0M600 110h0M628 121h0M616 75h0M625 117h0M636 79h0M625 110h0M641 85h0M633 96h0M612 101h0M616 73h0M588 92h0M608 88h0M628 107h0M633 70h0M620 119h0M628 116h0M596 106h0M622 97h0M625 77h0M611 87h0M627 99h0M627 118h0M611 58h0M613 102h0M601 104h0M623 89h0M623 106h0M628 105h0M609 118h0M609 88h0M607 89h0M610 68h0M629 112h0M609 100h0M628 93h0M620 119h0M612 64h0M665 63h0M616 82h0M621 103h0M605 97h0M639 81h0M609 99h0M640 90h0M639 79h0M632 114h0M615 119h0M621 83h0M597 91h0M603 99h0M607 121h0M626 91h0M609 115h0M623 99h0M628 72h0M603 114h0M618 103h0M617 118h0M635 101h0M591 99h0M589 90h0M611 116h0M605 93h0M620 74h0M607 96h0M615 58h0M609 94h0M618 66h0M624 122h0M617 108h0M610 86h0M638 81h0M620 75h0M616 51h0M619 85h0M628 77h0M635 75h0M610 71h0M633 108h0M636 79h0M602 107h0M629 95h0M598 99h0M626 116h0M616 94h0M614 98h0M611 100h0M633 88h0M630 71h0M623 68h0M665 60h0M612 48h0M661 60h0M609 111h0M635 92h0M630 77h0M635 88h0M611 127h0M620 110h0M620 103h0M637 69h0M624 80h0M626 116h0M615 49h0M617 118h0M629 84h0M631 104h0M608 99h0M637 80h0M620 81h0M626 119h0M615 119h0M605 112h0M603 111h0M589 92h0M604 109h0M591 99h0M607 112h0M627 90h0M606 115h0M601 113h0M616 87h0M624 118h0M623 113h0M614 82h0M603 99h0M608 113h0M590 95h0M642 86h0M615 103h0M617 120h0M609 121h0M616 90h0M629 77h0M617 79h0M605 96h0M614 63h0M622 102h0M611 106h0M616 92h0M636 106h0M632 98h0M628 71h0M632 74h0M621 85h0M609 111h0M617 78h0M596 94h0M589 95h0M618 58h0M616 68h0M591 100h0M618 86h0M610 78h0M641 95h0M594 96h0M617 125h0M586 93h0M639 74h0M586 87h0M623 100h0M612 52h0M614 81h0M614 129h0M612 115h0M603 109h0M606 117h0M619 117h0M636 101h0M643 95h0M613 78h0M616 55h0M639 74h0M585 89h0M604 94h0M615 120h0M619 76h0M638 79h0M617 51h0M624 94h0M611 64h0M605 97h0M635 108h0M613 129h0M619 106h0M625 91h0M615 118h0M614 117h0M615 130h0M581 92h0M649 41h0M629 127h0M584 108h0M644 108h0M605 132h0M566 91h0M664 90h0M620 46h0M591 119h0M661 91h0M625 130h0M642 102h0M619 46h0M619 65h0M642 114h0M590 119h0M649 58h0M571 94h0M656 51h0M637 61h0M578 118h0M651 92h0M651 101h0M594 118h0M651 55h0M637 43h0M624 53h0M641 62h0M632 121h0" stroke="#e4e4e4" stroke-opacity="0.8" stroke-width="1.8" stroke-linecap="round" fill="none"/><path transform="scale(.5)" d="M596 83h0M587 74h0M597 55h0M601 60h0M590 67h0M577 82h0M574 57h0M568 67h0M575 76h0M587 84h0M586 73h0M585 46h0M591 74h0M588 62h0M581 61h0M587 70h0M595 65h0M577 78h0M583 48h0M579 49h0M565 49h0M607 59h0M585 69h0M582 73h0M586 52h0M594 85h0M596 77h0M598 76h0M602 67h0M598 62h0M586 84h0M593 48h0M606 59h0M581 67h0M606 53h0M579 70h0M577 55h0M571 67h0M596 67h0M588 55h0M595 59h0M608 52h0M602 70h0M579 61h0M576 73h0M595 52h0M576 56h0M605 70h0M582 52h0M601 80h0M596 47h0M571 63h0M596 65h0M585 77h0M599 85h0M608 64h0M608 60h0M579 42h0M609 47h0M605 78h0M591 81h0M583 77h0M594 84h0M587 76h0M607 57h0M593 56h0M599 58h0M569 70h0M603 55h0M580 78h0M604 77h0M591 60h0M603 77h0M580 76h0M591 70h0M568 52h0M599 47h0M578 78h0M594 57h0M602 75h0M567 66h0M599 86h0M595 80h0M585 52h0M599 54h0M590 80h0M589 86h0M602 56h0M571 43h0M583 74h0M582 49h0M595 60h0M577 82h0M604 73h0M595 63h0M594 53h0M598 78h0M589 49h0M580 55h0M580 79h0M589 58h0M588 69h0M594 55h0M586 64h0M580 78h0M575 51h0M569 65h0M583 59h0M607 70h0M601 87h0M607 87h0M602 85h0M593 50h0M586 62h0M584 86h0M569 69h0M568 53h0M596 50h0M568 56h0M578 83h0M576 78h0M575 75h0M582 54h0M587 49h0M587 75h0M580 47h0M600 58h0M606 58h0M595 82h0M578 84h0M597 69h0M574 72h0M579 63h0M575 69h0M583 58h0M574 65h0M592 67h0M592 78h0M595 50h0M590 71h0M570 45h0M582 62h0M572 61h0M579 53h0M589 75h0M573 62h0M575 75h0M580 74h0M606 60h0M594 65h0M609 81h0M603 49h0M602 82h0M605 55h0M596 62h0M573 61h0M593 78h0M606 70h0M585 67h0M579 84h0M593 63h0M581 65h0M607 53h0M601 84h0M593 85h0M594 48h0M586 77h0M596 60h0M591 48h0M570 57h0M583 63h0M602 72h0M597 61h0M596 82h0M592 73h0M590 73h0M578 56h0M574 45h0M574 61h0M584 79h0M607 66h0M568 45h0M609 54h0M584 68h0M571 75h0M601 63h0M575 52h0M595 55h0M606 48h0M583 69h0M572 48h0M582 86h0M602 49h0M608 84h0M587 82h0M580 51h0M598 53h0M571 64h0M581 84h0M604 74h0M600 80h0M587 62h0M579 60h0M584 67h0M603 86h0M602 78h0M600 82h0M595 61h0M595 61h0M581 45h0M574 62h0M585 78h0M579 78h0M602 64h0M587 74h0M594 68h0M606 82h0M575 55h0M576 53h0M574 63h0M605 82h0M568 59h0M588 57h0M595 68h0M604 81h0M591 80h0M608 54h0M591 52h0M597 86h0M591 84h0M599 55h0M586 80h0M601 72h0M603 62h0M575 78h0M596 74h0M582 56h0M576 53h0M605 65h0M604 50h0M576 73h0M606 74h0M608 78h0M601 83h0M570 68h0M587 80h0M579 65h0M594 75h0M567 62h0M580 57h0M585 49h0M583 81h0M605 86h0M601 83h0M595 54h0M602 48h0M598 67h0M579 49h0M604 74h0M590 54h0M592 68h0M597 77h0M566 54h0M596 47h0M579 78h0M566 46h0M575 53h0M585 57h0M591 82h0M603 49h0M570 74h0M596 64h0M572 61h0M588 53h0M569 53h0M595 69h0M586 68h0M591 66h0M568 45h0M594 55h0M575 71h0M597 72h0M567 44h0M580 75h0M593 70h0M595 71h0M576 73h0M594 76h0M576 48h0M572 52h0M600 83h0M601 54h0M592 66h0M578 54h0M580 46h0M570 60h0M589 82h0M600 61h0M584 46h0M605 61h0M604 72h0M603 48h0M599 50h0M600 72h0M572 65h0M587 47h0M593 52h0M582 54h0M601 54h0M575 74h0M600 47h0M607 69h0M585 48h0M606 81h0M578 53h0M593 77h0M596 67h0M583 68h0M570 73h0M593 49h0M590 67h0M576 55h0M572 48h0M583 46h0M579 57h0M596 57h0M571 54h0M578 84h0M578 65h0M580 86h0M597 63h0M575 47h0M575 69h0M604 77h0M609 74h0M583 55h0M587 49h0M593 52h0M581 84h0M600 48h0M587 49h0M578 65h0M554 43h0M591 40h0M566 70h0M564 49h0M566 82h0M559 61h0M566 67h0M571 85h0M581 38h0M567 78h0M598 45h0M604 44h0M568 75h0M567 40h0M567 65h0M560 53h0" stroke="#55a862" stroke-opacity="0.85" stroke-width="1.9" stroke-linecap="round" fill="none"/><path transform="scale(.5)" d="M648 80h0M630 107h0M630 107h0M645 87h0M653 87h0M634 115h0M646 101h0M641 87h0M644 105h0M636 91h0M641 93h0M645 91h0M634 97h0M634 102h0M635 90h0M635 96h0M627 106h0M635 106h0M647 84h0M628 105h0M638 102h0M636 103h0M650 78h0M639 99h0M647 99h0M634 115h0M648 99h0M630 97h0M642 106h0M648 94h0M654 83h0M635 114h0M641 90h0M634 109h0M629 113h0M647 85h0M650 98h0M640 82h0M630 104h0M652 92h0M653 93h0M633 94h0M651 97h0M635 92h0M628 101h0M640 100h0M634 95h0M632 106h0M635 102h0M653 81h0M647 89h0M650 79h0M640 104h0M639 93h0M641 99h0M633 115h0M643 101h0M642 92h0M652 85h0M635 104h0M645 84h0M638 96h0M629 101h0M655 89h0M630 105h0M649 101h0M653 92h0M630 108h0M629 101h0M638 92h0M644 97h0M648 86h0M640 98h0M641 84h0M637 99h0M640 94h0M642 81h0M640 106h0M649 101h0M645 86h0M642 108h0M635 108h0M646 87h0M633 108h0M642 85h0M638 105h0M640 86h0M633 96h0M645 89h0M646 89h0" stroke="#cfe8d4" stroke-opacity="0.6" stroke-width="1.8" stroke-linecap="round" fill="none"/><path transform="scale(.5)" d="M654 61h0M656 77h0M649 71h0M650 77h0M664 60h0M644 84h0M659 76h0M660 59h0M665 63h0M665 66h0M665 63h0M656 59h0M651 85h0M644 81h0M646 69h0M665 59h0M662 65h0M646 81h0M666 52h0M657 67h0M651 61h0M660 79h0M639 87h0M659 62h0M643 84h0M664 55h0M650 75h0M658 56h0M661 65h0M642 79h0M667 55h0M669 53h0M663 74h0M659 79h0M657 70h0M654 79h0M643 88h0M661 69h0M646 77h0M664 56h0M662 62h0M664 54h0M652 83h0M654 67h0M660 65h0M643 87h0M654 86h0M654 57h0M656 81h0M651 69h0M650 83h0M656 72h0M659 67h0M649 83h0M652 71h0M651 66h0M641 83h0M653 86h0M644 90h0M651 71h0M669 55h0M654 60h0M652 69h0M664 69h0M652 68h0M656 75h0M665 57h0M667 52h0M662 57h0M656 59h0M650 68h0M652 84h0M664 63h0M660 55h0M659 64h0M651 76h0M641 84h0M651 70h0M650 88h0M657 65h0M640 84h0M644 82h0M653 74h0M652 59h0M652 77h0M648 83h0M656 78h0M655 83h0M647 74h0M645 70h0M650 68h0M653 84h0M666 52h0M650 88h0M651 81h0M655 68h0M659 54h0M643 91h0M649 66h0M653 61h0M648 66h0M650 88h0M663 53h0M659 64h0M662 73h0M667 55h0M659 61h0M655 64h0M646 68h0M665 51h0M651 61h0M652 77h0M642 85h0M644 70h0M650 83h0M656 77h0M649 79h0M658 75h0M651 64h0M660 67h0M658 54h0M650 71h0M663 66h0M650 66h0M654 57h0M659 69h0M662 62h0M651 69h0M652 61h0M656 56h0M666 55h0M653 60h0M654 79h0M660 52h0M647 88h0M652 62h0M665 55h0M648 86h0M643 84h0M660 67h0M662 52h0M658 77h0M650 75h0M651 62h0M641 77h0M653 68h0M643 84h0M662 73h0M653 70h0M658 64h0M654 80h0M654 76h0M645 86h0M650 62h0M653 61h0M665 51h0M655 78h0M663 55h0M654 66h0M647 83h0M652 81h0M664 66h0M653 80h0M664 67h0M658 75h0M649 67h0M645 87h0M650 68h0M641 76h0M654 61h0M659 54h0M640 81h0M662 67h0M645 87h0M652 61h0M660 71h0M642 87h0M650 87h0M650 81h0M653 71h0M667 62h0M663 53h0M649 83h0M653 61h0M641 91h0M647 66h0M649 76h0M646 73h0M667 60h0M649 85h0M646 79h0M645 85h0M647 66h0M647 73h0M642 90h0M663 54h0M656 56h0M645 82h0M669 55h0M659 63h0M659 61h0M656 59h0M652 72h0M641 87h0M660 68h0M649 65h0M654 61h0M649 82h0M653 80h0M652 64h0M658 77h0M647 70h0M647 66h0M643 73h0M663 71h0M653 58h0M660 73h0M661 58h0M647 77h0M662 73h0M653 58h0M648 66h0M655 65h0M648 74h0M639 86h0M655 83h0M653 77h0M654 68h0M666 59h0M665 68h0M663 70h0M655 67h0M662 64h0M663 61h0M657 56h0M647 65h0M643 73h0M665 70h0M664 62h0M653 63h0M652 64h0M661 75h0M646 71h0M661 57h0M659 59h0M655 79h0M640 81h0M654 76h0M663 58h0M660 74h0M665 58h0M664 66h0M667 62h0M649 64h0M639 82h0M647 89h0M664 67h0M654 64h0M651 80h0M654 73h0" stroke="#e4f6ea" stroke-opacity="0.9" stroke-width="2.6" stroke-linecap="round" fill="none"/><path transform="scale(.5)" d="M601 185h0M610 139h0M619 154h0M615 160h0M616 150h0M621 184h0M626 177h0M619 177h0M610 177h0M623 178h0M606 205h0M630 166h0M643 182h0M592 191h0M617 211h0M616 213h0M612 175h0M641 157h0M611 196h0M632 161h0M626 188h0M612 176h0M584 177h0M614 211h0M588 181h0M632 186h0M590 187h0M634 201h0M623 180h0M614 205h0M615 181h0M631 198h0M595 184h0M661 151h0M625 194h0M614 164h0M618 182h0M631 171h0M638 196h0M611 161h0M644 187h0M621 185h0M629 190h0M616 186h0M606 188h0M630 178h0M637 161h0M623 196h0M632 178h0M639 181h0M614 180h0M616 182h0M586 181h0M625 209h0M634 169h0M623 202h0M611 180h0M631 192h0M615 181h0M596 190h0M618 173h0M623 195h0M633 162h0M610 178h0M611 213h0M628 181h0M613 161h0M623 193h0M627 165h0M610 159h0M622 208h0M603 179h0M586 178h0M587 177h0M621 189h0M628 166h0M635 197h0M631 202h0M616 168h0M611 149h0M606 200h0M625 198h0M614 197h0M613 146h0M633 191h0M613 187h0M641 182h0M623 195h0M637 184h0M634 182h0M602 182h0M625 196h0M643 176h0M621 185h0M603 189h0M614 179h0M638 175h0M629 197h0M599 195h0M613 161h0M614 170h0M617 207h0M637 190h0M609 207h0M619 145h0M627 191h0M613 207h0M611 180h0M635 180h0M587 180h0M634 203h0M639 168h0M631 185h0M636 171h0M620 185h0M606 198h0M631 170h0M613 170h0M611 182h0M605 187h0M597 188h0M630 186h0M615 172h0M621 209h0M602 198h0M634 180h0M620 162h0M596 191h0M629 206h0M607 210h0M598 192h0M595 187h0M620 161h0M610 205h0M595 178h0M608 213h0M614 141h0M621 196h0M605 194h0M614 205h0M592 181h0M638 194h0M619 198h0M609 200h0M615 193h0M615 161h0M616 204h0M635 188h0M610 141h0M640 169h0M614 206h0M613 150h0M634 194h0M615 194h0M631 184h0M606 181h0M664 150h0M619 170h0M600 192h0M623 184h0M610 198h0M596 184h0M611 205h0M615 166h0M622 204h0M624 202h0M621 212h0M620 210h0M642 179h0M599 194h0M587 180h0M637 186h0M612 190h0M623 173h0M634 182h0M633 205h0M628 208h0M625 205h0M625 198h0M633 185h0M616 164h0M608 178h0M633 160h0M628 204h0M622 186h0M611 177h0M627 206h0M613 191h0M623 178h0M628 193h0M609 177h0M610 159h0M609 188h0M620 207h0M665 154h0M621 192h0M639 171h0M640 180h0M632 202h0M621 173h0M603 188h0M626 180h0M623 188h0M603 202h0M617 206h0M591 188h0M611 204h0M620 164h0M615 149h0M618 156h0M617 197h0M638 171h0M616 142h0M628 167h0M610 162h0M636 169h0M629 184h0M626 204h0M614 187h0M633 178h0M623 159h0M612 140h0M609 200h0M630 167h0M611 214h0M620 192h0M624 170h0M615 141h0M629 174h0M608 188h0M620 171h0M615 207h0M603 199h0M604 197h0M607 200h0M606 203h0M616 176h0M623 201h0M603 188h0M590 184h0M615 192h0M609 208h0M629 167h0M605 185h0M622 190h0M616 181h0M632 187h0M632 164h0M609 199h0M596 183h0M618 149h0M591 189h0M610 168h0M594 185h0M586 182h0M586 177h0M612 144h0M614 216h0M603 197h0M619 205h0M643 184h0M616 147h0M585 179h0M615 207h0M638 169h0M624 183h0M605 186h0M613 217h0M625 181h0M614 205h0M581 182h0M629 214h0M644 197h0M566 180h0M620 138h0M661 181h0M642 191h0M619 156h0M590 207h0M571 183h0M637 152h0M651 182h0M594 206h0M637 135h0M641 153h0" stroke="#c8b4b0" stroke-opacity="0.5" stroke-width="1.8" stroke-linecap="round" fill="none"/><path transform="scale(.5)" d="M596 172h0M597 146h0M590 158h0M574 148h0M575 166h0M586 164h0M591 164h0M581 152h0M595 156h0M583 140h0M565 141h0M585 159h0M586 144h0M596 167h0M602 158h0M586 174h0M606 150h0M606 144h0M577 146h0M596 158h0M595 150h0M602 161h0M576 163h0M576 148h0M582 143h0M596 138h0M596 156h0M599 175h0M608 151h0M609 139h0M591 171h0M594 173h0M607 148h0M599 149h0M603 147h0M604 167h0M603 167h0M591 160h0M599 139h0M594 148h0M567 157h0M595 170h0M599 145h0M589 175h0M571 135h0M582 141h0M577 172h0M595 154h0M598 168h0M580 146h0M589 149h0M594 147h0M580 168h0M569 156h0M607 160h0M607 176h0M593 141h0M584 176h0M568 145h0M568 147h0M576 168h0M582 145h0M587 166h0M600 149h0M595 172h0M597 160h0M579 154h0M583 149h0M592 158h0M595 141h0M570 137h0M572 152h0M589 166h0M575 165h0M606 151h0M609 171h0M602 172h0M596 152h0M593 168h0M585 157h0M593 154h0M607 144h0M593 175h0M586 167h0M591 140h0M583 154h0M597 152h0M592 164h0M578 147h0M574 152h0M607 157h0M609 146h0M571 165h0M575 144h0M606 140h0M572 140h0M602 141h0M587 172h0M598 145h0M581 174h0M600 170h0M579 151h0M603 176h0M600 172h0M595 152h0M574 153h0M579 168h0M587 164h0M606 172h0M576 144h0M605 171h0M588 148h0M604 171h0M608 145h0M597 176h0M599 146h0M601 163h0M575 168h0M582 148h0M605 156h0M576 163h0M608 168h0M570 159h0M579 156h0M567 153h0M585 141h0M605 176h0M595 145h0M598 157h0M604 164h0M592 158h0M566 145h0M579 168h0M575 145h0M591 171h0M570 165h0M572 152h0M569 145h0M586 158h0M568 137h0M575 161h0M567 136h0M593 160h0M576 163h0M576 140h0M600 173h0M592 156h0M580 138h0M589 172h0M584 138h0M604 162h0M599 142h0M572 156h0M593 143h0M601 145h0M600 139h0M585 140h0M578 144h0M596 158h0M570 164h0M590 158h0M572 140h0M579 148h0M571 145h0M578 155h0M597 154h0M575 160h0M609 164h0M587 140h0M581 174h0M587 140h0M554 135h0M566 161h0M566 172h0M566 158h0M581 130h0M598 137h0M568 166h0M567 156h0" stroke="#7a90b0" stroke-opacity="0.5" stroke-width="1.8" stroke-linecap="round" fill="none"/><path transform="scale(.5)" d="M651 188h0M643 191h0M631 202h0M642 194h0M650 184h0M640 183h0M638 189h0M652 175h0M647 177h0M646 194h0M637 182h0M648 190h0M652 177h0M642 186h0M650 181h0M643 198h0M642 191h0M632 203h0M646 176h0M642 195h0M636 196h0M642 190h0M635 185h0M650 186h0M640 181h0M635 193h0M643 183h0M635 183h0M635 197h0M652 180h0M642 196h0M647 193h0M638 183h0M635 203h0M639 184h0M642 194h0M642 196h0M651 188h0M635 197h0M650 185h0M632 193h0M634 189h0M638 188h0M642 195h0M636 182h0M649 187h0M651 182h0M646 178h0M631 197h0M641 178h0M640 180h0M640 188h0M643 193h0M637 193h0M641 177h0M632 202h0M633 198h0M633 196h0M650 179h0M639 201h0" stroke="#c87a70" stroke-opacity="0.55" stroke-width="1.8" stroke-linecap="round" fill="none"/><path transform="scale(.5)" d="M656 169h0M665 158h0M662 152h0M651 167h0M646 182h0M654 178h0M644 179h0M666 153h0M646 181h0M642 183h0M659 169h0M661 161h0M657 152h0M659 160h0M641 175h0M653 159h0M660 151h0M649 160h0M661 150h0M658 153h0M647 167h0M662 168h0M647 181h0M660 163h0M649 167h0M648 183h0M659 158h0M663 158h0M644 166h0M651 181h0M657 173h0M659 174h0M651 179h0M653 163h0M653 180h0M651 177h0M659 167h0M659 161h0M654 166h0M658 159h0M648 178h0M663 157h0M662 155h0M644 181h0M648 175h0M646 178h0M655 167h0M659 156h0M650 168h0M652 179h0M657 162h0M654 176h0M661 154h0M662 154h0M659 166h0M645 183h0M641 176h0M644 169h0M651 178h0M664 155h0M649 181h0M644 173h0M648 176h0M657 154h0M647 169h0M665 162h0M667 155h0M654 153h0M666 154h0M656 170h0M665 160h0M650 167h0M646 165h0M658 150h0M644 179h0M664 151h0M653 164h0M647 166h0M643 170h0M659 159h0M659 151h0M651 157h0M656 152h0M649 163h0M652 172h0M656 163h0M647 176h0M661 153h0M651 174h0M649 177h0M654 158h0M650 182h0M649 182h0M660 163h0M642 172h0M651 158h0M654 156h0M643 172h0M652 157h0M646 166h0M667 152h0M647 179h0M659 155h0M665 155h0M653 169h0M659 166h0M653 155h0M650 167h0M651 156h0M661 166h0M648 174h0M645 170h0M650 164h0M656 170h0M656 176h0M660 149h0M666 160h0M652 179h0M659 156h0M664 159h0M660 171h0M658 168h0M659 161h0M662 151h0M659 165h0M663 158h0M663 150h0M659 162h0M647 182h0M667 159h0M664 153h0M645 181h0M642 176h0M655 157h0M653 160h0M660 165h0M662 168h0M644 170h0M646 182h0M655 159h0M657 172h0M643 172h0M661 156h0M658 169h0M648 180h0M644 176h0M655 161h0M663 163h0M644 177h0M660 169h0M658 168h0M660 169h0M646 180h0M642 180h0M658 174h0M651 171h0M656 171h0M656 167h0M641 179h0M663 149h0M654 172h0M650 163h0M649 161h0M646 183h0M651 159h0M662 150h0M653 161h0M658 167h0M648 175h0M643 170h0M648 169h0M648 175h0M659 164h0M663 166h0M648 168h0M648 164h0M646 171h0M645 171h0M647 179h0M655 165h0M648 183h0M643 182h0M653 171h0M649 182h0M653 176h0M646 166h0M657 165h0M664 157h0M647 169h0M658 161h0M664 151h0M655 167h0M664 153h0M645 179h0M647 164h0M657 175h0M651 170h0M642 173h0M652 166h0M649 175h0M649 169h0M657 174h0M659 165h0M651 164h0M649 181h0M655 161h0M645 177h0M650 169h0M645 166h0M651 164h0M648 178h0M655 172h0M655 162h0M658 170h0M654 178h0M662 165h0M661 164h0M652 173h0M661 153h0M664 163h0" stroke="#e27a68" stroke-opacity="0.85" stroke-width="2.6" stroke-linecap="round" fill="none"/><rect x="341" y="19" width="56" height="95.5" fill="#211c1c"/><path transform="scale(.5)" d="M748 123h0M732 60h0M716 91h0M734 88h0M716 95h0M732 80h0M755 97h0M748 101h0M742 128h0M754 75h0M737 128h0M755 114h0M744 99h0M742 82h0M734 111h0M720 95h0M706 88h0M753 86h0M737 129h0M754 113h0M756 111h0M753 116h0M762 78h0M760 72h0M757 85h0M723 95h0M734 79h0M730 116h0M737 50h0M741 96h0M746 98h0M716 93h0M740 123h0M769 95h0M714 94h0M732 106h0M779 57h0M718 91h0M737 121h0M734 65h0M754 84h0M732 69h0M763 90h0M782 59h0M741 101h0M709 91h0M741 67h0M743 127h0M739 89h0M738 108h0M730 105h0M755 80h0M725 96h0M742 105h0M734 60h0M786 59h0M716 101h0M752 118h0M745 79h0M737 108h0M733 54h0M754 90h0M714 102h0M738 72h0M757 79h0M744 79h0M738 87h0M745 117h0M709 88h0M734 73h0M763 88h0M733 94h0M729 93h0M743 72h0M720 98h0M767 96h0M759 76h0M748 105h0M740 52h0M763 91h0M730 115h0M741 87h0M736 101h0M734 121h0M751 101h0M738 58h0M716 98h0M756 73h0M733 74h0M736 58h0M736 114h0M758 82h0M735 79h0M750 112h0M753 70h0M718 106h0M734 75h0M718 93h0M722 104h0M724 94h0M766 91h0M753 96h0M732 66h0M745 127h0M748 94h0M725 91h0M743 105h0M759 94h0M734 120h0M743 73h0M742 70h0M744 96h0M750 118h0M743 87h0M758 111h0M785 60h0M734 79h0M727 89h0M736 83h0M728 98h0M753 121h0M734 96h0M739 101h0M756 113h0M727 90h0M728 101h0M750 80h0M732 119h0M757 72h0M746 104h0M721 102h0M762 87h0M746 98h0M758 105h0M738 101h0M733 92h0M732 119h0M714 88h0M731 107h0M726 111h0M736 54h0M745 122h0M752 122h0M741 114h0M735 61h0M749 106h0M728 97h0M744 97h0M746 119h0M753 97h0M717 106h0M747 109h0M753 89h0M741 124h0M736 89h0M742 108h0M756 72h0M734 76h0M749 71h0M739 119h0M716 96h0M788 61h0M752 94h0M748 71h0M738 63h0M723 104h0M717 91h0M758 90h0M734 120h0M744 83h0M746 83h0M761 104h0M763 95h0M751 108h0M751 122h0M737 79h0M732 82h0M735 93h0M714 92h0M735 105h0M751 93h0M759 73h0M715 99h0M725 110h0M753 71h0M734 91h0M758 104h0M770 89h0M737 109h0M736 84h0M744 112h0M723 94h0M734 48h0M752 94h0M741 91h0M732 100h0M738 121h0M748 96h0M720 97h0M732 74h0M742 68h0M729 104h0M732 123h0M749 97h0M752 73h0M715 97h0M710 89h0M746 110h0M746 99h0M760 94h0M732 51h0M753 118h0M740 52h0M748 105h0M728 96h0M737 95h0M726 109h0M741 109h0M730 102h0M712 93h0M743 115h0M741 95h0M729 100h0M748 110h0M737 49h0M744 102h0M723 108h0M736 110h0M752 72h0M750 96h0M754 88h0M744 77h0M718 101h0M727 116h0M742 125h0M732 107h0M771 92h0M744 68h0M764 95h0M755 105h0M739 108h0M754 76h0M747 95h0M764 97h0M735 87h0M788 65h0M735 68h0M739 94h0M769 88h0M748 95h0M760 76h0M706 91h0M722 112h0M749 79h0M761 81h0M750 81h0M756 69h0M741 130h0M715 94h0M737 72h0M735 53h0M748 116h0M730 92h0M719 101h0M760 100h0M738 108h0M738 50h0M740 96h0M721 108h0M735 102h0M754 99h0M736 116h0M745 80h0M744 79h0M733 124h0M736 98h0M747 83h0M721 89h0M730 105h0M704 89h0M744 128h0M752 97h0M765 95h0M761 87h0M765 88h0M760 68h0M736 68h0M716 92h0M759 73h0M753 87h0M781 57h0M733 127h0M736 65h0M722 108h0M719 90h0M735 97h0M751 88h0M760 104h0M741 73h0M732 100h0M715 89h0M748 125h0M739 81h0M737 125h0M732 83h0M759 102h0M748 90h0M760 80h0M745 74h0M751 119h0M734 128h0M732 69h0M755 84h0M732 50h0M726 89h0M736 65h0M757 74h0M737 85h0M760 73h0M739 100h0M721 111h0M737 82h0M747 84h0M755 84h0M727 100h0M766 97h0M735 78h0M743 120h0M757 113h0M739 67h0M733 99h0M751 93h0M753 75h0M754 83h0M754 117h0M744 100h0M757 92h0M726 97h0M739 121h0M763 91h0M732 97h0M724 87h0M732 59h0M720 103h0M740 107h0M741 72h0M759 80h0M733 102h0M734 121h0M750 92h0M724 114h0M731 95h0M738 58h0M730 120h0M722 91h0M746 114h0M788 59h0M741 122h0M726 105h0M753 110h0M734 89h0M728 113h0M738 60h0M737 70h0M739 75h0M734 57h0M755 110h0M724 97h0M752 120h0M746 123h0M747 117h0M788 57h0M763 98h0M758 78h0M722 107h0M730 107h0M719 89h0M729 119h0M740 117h0M756 108h0M754 99h0M751 104h0M721 106h0M726 97h0M746 77h0M744 92h0M745 92h0M748 124h0M719 105h0M742 77h0M747 72h0M741 83h0M736 72h0M738 55h0M710 91h0M753 91h0M756 85h0M789 63h0M727 100h0M749 83h0M738 66h0M742 94h0M707 88h0M753 94h0M736 120h0M749 114h0M734 68h0M739 79h0M746 69h0M725 106h0M723 103h0M732 127h0M751 78h0M736 68h0M736 67h0M729 87h0M730 91h0M719 108h0M725 95h0M713 93h0M725 107h0M755 117h0M751 92h0M744 123h0M752 111h0M706 87h0M729 97h0M746 126h0M755 113h0M715 94h0M733 92h0M734 63h0M739 129h0M709 92h0M736 128h0M759 97h0M740 99h0M746 115h0M740 70h0M735 56h0M750 89h0M742 114h0M734 50h0M746 121h0M746 73h0M715 88h0M762 101h0M754 113h0M709 89h0M752 85h0M732 113h0M736 110h0M730 121h0M741 55h0M740 70h0M746 69h0M736 127h0M740 120h0M720 102h0M718 95h0M734 101h0M740 53h0M724 104h0M751 98h0M728 112h0M759 100h0M744 74h0M742 91h0M737 97h0M706 89h0M741 96h0M744 118h0M739 75h0M741 82h0M736 53h0M727 109h0M788 64h0M737 72h0M755 118h0M739 106h0M737 56h0M721 109h0M758 89h0M743 91h0M734 49h0M749 114h0M739 120h0M740 122h0M735 55h0M720 103h0M733 58h0M740 106h0M737 59h0M746 84h0M706 88h0M758 98h0M736 68h0M714 94h0M749 116h0M760 104h0M742 105h0M744 82h0M757 100h0M732 92h0M743 113h0M741 119h0M747 99h0M749 74h0M728 121h0M754 100h0M719 105h0M736 49h0M733 110h0M733 82h0M740 69h0M723 88h0M760 84h0M745 115h0M732 86h0M762 83h0M760 80h0M753 74h0M735 118h0M748 72h0M738 124h0M746 110h0M755 98h0M742 110h0M720 110h0M746 95h0M720 98h0M729 102h0M733 72h0M761 88h0M744 92h0M736 59h0M749 93h0M743 74h0M761 73h0M748 92h0M733 90h0M736 72h0M749 107h0M762 87h0M736 79h0M747 107h0M738 71h0M746 71h0M762 91h0M748 90h0M736 93h0M735 84h0M730 110h0M736 82h0M730 99h0M761 90h0M739 120h0M744 79h0M734 83h0M771 96h0M779 38h0M763 107h0M696 88h0M765 110h0M790 73h0M758 66h0M751 69h0M768 44h0M702 97h0M791 77h0M713 114h0M795 70h0M771 104h0M716 135h0M700 94h0M716 110h0M744 44h0M752 128h0M744 54h0M756 117h0M741 66h0M758 66h0M703 90h0M711 110h0M703 91h0M742 133h0M703 92h0M761 118h0M723 126h0M779 49h0M717 123h0M771 111h0M764 121h0M730 128h0" stroke="#e4e4e4" stroke-opacity="0.8" stroke-width="1.8" stroke-linecap="round" fill="none"/><path transform="scale(.5)" d="M695 60h0M718 81h0M715 61h0M692 67h0M715 76h0M709 56h0M722 82h0M694 76h0M730 49h0M715 50h0M718 64h0M700 51h0M721 48h0M709 56h0M700 50h0M720 66h0M719 50h0M718 48h0M709 48h0M707 56h0M706 60h0M706 44h0M713 49h0M697 57h0M725 56h0M728 60h0M697 75h0M707 53h0M711 60h0M712 65h0M713 64h0M717 45h0M699 59h0M698 47h0M705 44h0M704 62h0M692 48h0M721 58h0M698 69h0M719 46h0M728 63h0M720 60h0M723 67h0M726 55h0M705 81h0M709 80h0M701 49h0M712 71h0M728 53h0M725 84h0M699 56h0M724 59h0M726 83h0M731 85h0M726 83h0M702 60h0M729 85h0M729 59h0M708 66h0M690 66h0M731 66h0M705 61h0M731 77h0M727 62h0M713 75h0M721 54h0M713 70h0M728 62h0M710 45h0M718 51h0M701 59h0M697 79h0M697 50h0M725 54h0M725 86h0M730 72h0M707 86h0M700 47h0M700 70h0M709 73h0M713 83h0M705 83h0M727 81h0M716 56h0M696 65h0M714 52h0M693 73h0M704 56h0M701 80h0M720 58h0M693 67h0M709 65h0M693 56h0M722 71h0M725 64h0M714 85h0M718 58h0M705 76h0M729 49h0M729 74h0M712 75h0M730 74h0M728 50h0M707 54h0M718 76h0M695 65h0M712 62h0M694 61h0M720 76h0M721 58h0M720 68h0M726 62h0M716 84h0M713 82h0M712 79h0M714 64h0M725 57h0M731 76h0M710 75h0M696 62h0M704 56h0M715 73h0M703 85h0M708 54h0M725 63h0M700 52h0M709 68h0M700 60h0M707 84h0M697 46h0M692 66h0M693 57h0M695 71h0M692 56h0M695 76h0M704 80h0M725 47h0M721 67h0M695 65h0M694 72h0M698 72h0M711 44h0M690 67h0M702 42h0M723 77h0M687 56h0M704 66h0M721 86h0M723 77h0M706 59h0M696 42h0M725 81h0M711 73h0M695 54h0M694 61h0M711 53h0M717 79h0M698 61h0M689 59h0M727 86h0M693 66h0M696 49h0M712 57h0M727 78h0M694 44h0M698 44h0M711 79h0M713 62h0M725 83h0M723 74h0M708 55h0M727 50h0M725 71h0M725 63h0M721 79h0M717 51h0M709 54h0M691 53h0M697 45h0M695 53h0M703 83h0M697 72h0M697 58h0M730 57h0M715 80h0M724 55h0M699 81h0M706 62h0M687 53h0M724 78h0M694 47h0M698 70h0M719 79h0M697 44h0M708 72h0M703 43h0M714 54h0M710 52h0M713 69h0M716 65h0M709 70h0M716 54h0M694 66h0M726 63h0M703 77h0M727 68h0M699 71h0M688 53h0M716 73h0M709 45h0M731 72h0M691 72h0M691 44h0M709 72h0M729 74h0M707 70h0M704 47h0M714 52h0M726 70h0M698 51h0M703 77h0M692 64h0M729 62h0M692 70h0M710 66h0M706 86h0M706 77h0M707 76h0M712 54h0M731 69h0M716 51h0M726 48h0M699 59h0M720 80h0M718 68h0M727 72h0M709 57h0M721 70h0M728 68h0M691 44h0M726 62h0M709 61h0M722 61h0M723 51h0M707 83h0M703 66h0M709 43h0M706 78h0M727 85h0M689 49h0M700 75h0M696 67h0M694 59h0M728 59h0M701 63h0M717 62h0M721 76h0M693 61h0M695 66h0M708 52h0M713 49h0M708 80h0M722 62h0M707 69h0M704 87h0M694 56h0M697 80h0M715 48h0M694 59h0M724 49h0M730 74h0M726 53h0M731 47h0M717 80h0M704 66h0M704 73h0M705 71h0M705 58h0M694 71h0M721 70h0M697 64h0M690 57h0M712 64h0M725 70h0M700 52h0M703 45h0M731 76h0M727 60h0M708 74h0M699 83h0M707 46h0M717 73h0M708 69h0M719 84h0M692 54h0M696 56h0M697 59h0M715 45h0M727 51h0M724 51h0M729 80h0M715 48h0M719 80h0M725 59h0M690 68h0M714 65h0M717 64h0M715 72h0M726 64h0M701 83h0M689 51h0M712 84h0M723 55h0M717 51h0M727 52h0M720 79h0M721 50h0M689 41h0M688 66h0M682 57h0M695 85h0M710 38h0M692 84h0" stroke="#c0dcc4" stroke-opacity="0.8" stroke-width="1.9" stroke-linecap="round" fill="none"/><path transform="scale(.5)" d="M770 84h0M762 106h0M769 101h0M770 93h0M773 96h0M752 111h0M761 106h0M758 95h0M759 88h0M764 97h0M770 84h0M770 93h0M756 102h0M773 95h0M752 97h0M765 104h0M773 98h0M755 93h0M774 84h0M753 114h0M758 106h0M760 105h0M752 100h0M772 83h0M760 94h0M772 86h0M759 101h0M763 94h0M758 95h0M751 104h0M753 99h0M758 112h0M770 93h0M771 80h0M769 92h0M750 111h0M756 97h0M770 101h0M763 96h0M760 99h0M753 97h0M768 98h0M761 108h0M752 108h0M773 87h0M748 107h0M758 88h0M753 99h0M760 98h0M757 93h0M759 92h0M762 86h0M753 108h0M761 85h0M760 97h0M771 94h0M750 102h0M757 99h0M767 84h0M770 89h0M772 91h0M764 84h0M765 89h0M750 100h0M775 91h0M767 88h0M754 101h0M754 105h0M770 82h0M749 104h0M764 86h0M756 103h0M770 88h0M774 83h0M777 84h0M756 92h0M775 87h0M760 113h0M751 113h0M754 104h0M763 95h0M775 81h0M769 89h0M770 84h0M769 83h0M768 80h0M765 109h0M770 83h0M761 88h0M759 104h0" stroke="#dde8de" stroke-opacity="0.6" stroke-width="1.8" stroke-linecap="round" fill="none"/><path transform="scale(.5)" d="M780 70h0M771 68h0M786 72h0M785 70h0M783 68h0M763 80h0M764 80h0M783 61h0M769 88h0M777 59h0M778 76h0M775 80h0M788 60h0M780 55h0M761 87h0M774 83h0M781 73h0M786 52h0M781 65h0M781 67h0M772 67h0M783 52h0M787 54h0M767 77h0M766 77h0M786 56h0M772 77h0M764 91h0M761 87h0M764 83h0M768 75h0M780 64h0M770 80h0M781 78h0M773 80h0M782 67h0M784 61h0M789 52h0M771 89h0M774 78h0M771 67h0M785 62h0M784 56h0M767 68h0M777 63h0M764 77h0M765 91h0M786 53h0M790 60h0M765 88h0M787 70h0M780 81h0M770 79h0M780 67h0M767 72h0M776 84h0M785 62h0M781 70h0M779 76h0M784 68h0M767 73h0M766 90h0M762 86h0M789 63h0M779 80h0M769 89h0M773 73h0M770 89h0M763 86h0M784 64h0M783 62h0M773 83h0M777 80h0M781 61h0M770 73h0M772 71h0M785 63h0M781 60h0M780 71h0M787 60h0M783 73h0M767 69h0M785 56h0M777 63h0M785 66h0M789 55h0M773 88h0M774 83h0M768 70h0M767 79h0M773 83h0M778 57h0M770 74h0M767 69h0M777 80h0M776 63h0M787 64h0M777 63h0M780 73h0M783 74h0M773 69h0M780 65h0M788 56h0M778 82h0M780 69h0M785 56h0M777 61h0M782 64h0M778 77h0M767 77h0M766 80h0M775 81h0M769 80h0M779 81h0M780 68h0M774 86h0M785 59h0M774 67h0M788 54h0M770 81h0M789 56h0M782 62h0M765 87h0M773 62h0M774 83h0M772 83h0M788 64h0M780 70h0M785 64h0M776 76h0M774 74h0M788 60h0M779 59h0M785 72h0M765 75h0M788 59h0M782 75h0M765 73h0M784 62h0M775 63h0M788 67h0M779 60h0M778 58h0M782 53h0M782 57h0M764 83h0M778 82h0M784 61h0M767 70h0M788 58h0M781 67h0M777 81h0M773 79h0M785 72h0M780 60h0M770 74h0M768 71h0M772 64h0M763 83h0M776 73h0M781 56h0M772 71h0M784 57h0M770 88h0M785 53h0M767 72h0M765 80h0M779 56h0M787 61h0M776 60h0M788 68h0M769 79h0M767 76h0M775 69h0M771 83h0M781 77h0M780 75h0M780 80h0M771 87h0M787 53h0M787 51h0M774 78h0M774 79h0M776 79h0M785 68h0M773 72h0M784 66h0M772 72h0M764 89h0M773 62h0M790 63h0M764 83h0M781 66h0M772 67h0M783 71h0M769 84h0M763 84h0M787 66h0M778 60h0M764 82h0M765 80h0M771 88h0M765 89h0M769 80h0M784 70h0M786 54h0M774 86h0M780 61h0M772 84h0M787 56h0M776 85h0M781 57h0M782 60h0M785 70h0M778 54h0M780 63h0M771 84h0M769 75h0M775 72h0M779 66h0M784 64h0M767 69h0M768 67h0M780 53h0M776 58h0M781 74h0M774 69h0M778 76h0M771 81h0M776 68h0M765 85h0M785 71h0M779 65h0M777 63h0M764 91h0M767 79h0M777 68h0M782 64h0M776 70h0M789 53h0M781 64h0M781 55h0M778 65h0M778 69h0M783 57h0M764 78h0M769 90h0M779 55h0M763 78h0M781 65h0M763 82h0M788 67h0M787 56h0M775 83h0M777 62h0M786 55h0M780 57h0M783 69h0M770 65h0M770 83h0" stroke="#eef8f0" stroke-opacity="0.9" stroke-width="2.6" stroke-linecap="round" fill="none"/><path transform="scale(.5)" d="M748 211h0M716 181h0M718 171h0M716 184h0M755 186h0M715 152h0M692 157h0M737 216h0M755 202h0M742 171h0M720 184h0M722 171h0M730 140h0M753 175h0M754 202h0M753 204h0M715 142h0M700 142h0M757 175h0M734 169h0M737 141h0M721 140h0M746 187h0M716 183h0M769 184h0M714 184h0M779 148h0M718 140h0M737 209h0M754 174h0M709 140h0M782 150h0M707 148h0M741 158h0M706 151h0M713 141h0M739 178h0M725 147h0M697 165h0M755 170h0M742 194h0M786 150h0M752 206h0M707 145h0M711 151h0M754 180h0M738 162h0M744 169h0M738 177h0M709 178h0M763 177h0M713 155h0M699 150h0M743 162h0M698 139h0M705 136h0M759 166h0M748 194h0M763 180h0M698 159h0M741 176h0M736 189h0M734 209h0M738 149h0M723 158h0M716 187h0M733 164h0M705 171h0M736 203h0M701 140h0M712 161h0M728 144h0M753 160h0M699 147h0M718 183h0M724 183h0M724 150h0M726 173h0M726 173h0M702 151h0M729 174h0M729 150h0M725 180h0M759 183h0M743 163h0M690 157h0M705 152h0M731 168h0M727 153h0M758 200h0M734 169h0M736 173h0M728 187h0M734 185h0M739 190h0M713 161h0M728 153h0M728 189h0M718 142h0M757 163h0M701 150h0M697 142h0M725 145h0M730 162h0M762 177h0M758 193h0M733 182h0M714 178h0M731 195h0M726 199h0M709 163h0M752 210h0M705 172h0M716 147h0M741 202h0M735 152h0M728 186h0M746 207h0M704 147h0M717 194h0M747 198h0M720 149h0M736 179h0M756 163h0M693 158h0M749 161h0M693 147h0M716 185h0M725 155h0M748 161h0M738 154h0M717 180h0M718 150h0M734 208h0M744 173h0M761 193h0M712 165h0M751 197h0M737 169h0M732 172h0M714 181h0M751 182h0M707 145h0M695 155h0M715 188h0M753 161h0M712 153h0M770 178h0M736 173h0M694 152h0M720 166h0M720 158h0M716 173h0M734 140h0M741 180h0M712 169h0M714 155h0M748 185h0M732 164h0M729 193h0M731 166h0M749 186h0M715 186h0M704 147h0M715 163h0M708 145h0M746 188h0M725 154h0M753 206h0M748 193h0M709 159h0M728 185h0M707 174h0M697 138h0M692 157h0M695 162h0M695 166h0M730 191h0M743 203h0M741 184h0M729 189h0M694 163h0M748 199h0M711 136h0M723 196h0M752 162h0M750 185h0M744 167h0M727 204h0M732 195h0M723 167h0M744 159h0M755 194h0M687 147h0M721 175h0M706 150h0M754 166h0M747 184h0M735 176h0M788 156h0M739 183h0M769 178h0M711 144h0M760 166h0M722 201h0M761 171h0M698 152h0M689 150h0M741 217h0M727 176h0M696 141h0M737 162h0M735 144h0M730 181h0M760 189h0M738 142h0M721 196h0M735 191h0M736 204h0M745 170h0M713 153h0M733 211h0M747 173h0M721 179h0M704 179h0M708 146h0M727 142h0M752 186h0M721 169h0M717 143h0M761 176h0M697 137h0M760 158h0M716 181h0M695 144h0M697 162h0M781 149h0M697 149h0M730 148h0M719 180h0M735 186h0M699 171h0M706 152h0M760 192h0M741 163h0M694 139h0M748 213h0M698 160h0M737 213h0M732 173h0M748 179h0M708 163h0M745 164h0M710 143h0M751 207h0M732 160h0M732 142h0M736 156h0M737 175h0M760 163h0M721 199h0M716 146h0M747 174h0M755 174h0M726 154h0M766 186h0M743 208h0M739 157h0M751 182h0M754 173h0M744 188h0M726 186h0M727 159h0M732 186h0M732 150h0M740 196h0M759 170h0M734 209h0M688 144h0M750 181h0M731 184h0M730 208h0M709 137h0M788 150h0M741 210h0M753 199h0M728 201h0M738 151h0M739 166h0M755 198h0M691 136h0M709 162h0M747 205h0M729 164h0M763 187h0M758 168h0M714 143h0M730 196h0M719 178h0M703 167h0M692 155h0M729 153h0M751 193h0M726 186h0M746 167h0M744 181h0M706 176h0M719 193h0M707 167h0M747 162h0M736 162h0M738 147h0M731 159h0M756 174h0M726 139h0M789 154h0M718 158h0M749 173h0M727 163h0M707 178h0M753 183h0M721 161h0M734 159h0M691 136h0M746 159h0M723 191h0M732 215h0M709 152h0M736 158h0M730 181h0M725 184h0M725 196h0M751 181h0M744 211h0M723 142h0M729 186h0M746 213h0M709 135h0M715 183h0M727 175h0M700 165h0M696 158h0M739 217h0M728 150h0M709 181h0M721 166h0M693 152h0M740 188h0M740 160h0M750 178h0M734 141h0M746 163h0M715 177h0M754 201h0M752 175h0M736 198h0M741 146h0M746 159h0M708 143h0M720 190h0M713 140h0M740 144h0M724 192h0M722 153h0M759 189h0M704 176h0M744 164h0M737 186h0M706 178h0M744 206h0M741 172h0M736 144h0M727 198h0M788 155h0M755 206h0M737 147h0M758 178h0M743 181h0M731 139h0M749 203h0M740 209h0M720 192h0M704 157h0M740 195h0M704 163h0M706 178h0M705 161h0M714 183h0M749 204h0M694 161h0M697 155h0M742 193h0M757 189h0M725 161h0M732 182h0M703 137h0M731 166h0M727 151h0M728 208h0M719 193h0M736 141h0M733 198h0M740 159h0M717 164h0M760 174h0M745 203h0M719 173h0M692 145h0M696 147h0M735 206h0M738 212h0M715 137h0M755 187h0M742 198h0M746 184h0M724 142h0M715 140h0M725 151h0M729 191h0M733 162h0M717 154h0M736 150h0M743 164h0M748 182h0M733 180h0M736 162h0M689 142h0M762 177h0M747 196h0M738 161h0M762 180h0M748 180h0M727 143h0M735 174h0M736 172h0M720 169h0M761 180h0M744 169h0M771 186h0M779 130h0M696 178h0M790 163h0M688 157h0M768 136h0M791 168h0M795 161h0M716 222h0M716 198h0M682 148h0M752 215h0M756 205h0M710 131h0M703 179h0M703 180h0M703 181h0M723 213h0M717 211h0M692 174h0M730 215h0" stroke="#c8b4b0" stroke-opacity="0.5" stroke-width="1.8" stroke-linecap="round" fill="none"/><path transform="scale(.5)" d="M763 190h0M756 194h0M764 182h0M767 177h0M759 196h0M767 184h0M767 189h0M757 185h0M762 187h0M768 184h0M758 187h0M771 182h0M768 197h0M761 189h0M756 193h0M767 185h0M757 200h0M765 186h0M760 190h0M762 183h0M759 197h0M763 179h0M769 188h0M771 173h0M759 195h0M758 204h0M771 190h0M771 187h0M766 185h0M764 188h0M754 188h0M766 199h0M755 200h0M766 197h0M772 192h0M757 192h0M757 188h0M756 193h0M769 192h0M763 195h0M775 179h0M753 195h0M754 199h0M770 176h0M774 181h0M761 183h0M765 191h0M763 178h0M764 177h0M769 189h0M765 183h0M758 187h0M766 197h0M762 198h0M759 203h0M753 195h0M765 190h0M765 176h0M768 182h0M752 197h0" stroke="#c8a0a8" stroke-opacity="0.5" stroke-width="1.8" stroke-linecap="round" fill="none"/><path transform="scale(.5)" d="M782 169h0M765 181h0M767 176h0M771 165h0M767 181h0M785 167h0M774 173h0M769 163h0M781 161h0M785 168h0M771 158h0M782 151h0M780 165h0M785 156h0M781 157h0M783 162h0M770 176h0M767 183h0M764 172h0M779 175h0M772 161h0M785 156h0M775 180h0M770 181h0M777 157h0M772 169h0M781 167h0M774 157h0M768 165h0M779 167h0M777 167h0M770 174h0M765 176h0M779 156h0M777 155h0M768 163h0M785 161h0M779 165h0M774 172h0M785 160h0M785 161h0M775 165h0M774 168h0M770 175h0M771 171h0M788 161h0M784 151h0M783 166h0M777 169h0M775 155h0M784 168h0M773 174h0M771 175h0M767 176h0M784 155h0M771 174h0M766 180h0M769 168h0M769 170h0M764 175h0M777 162h0M764 173h0M779 155h0M767 174h0M773 174h0M777 160h0M774 164h0M778 174h0M776 156h0M777 177h0M786 151h0M765 174h0M771 163h0M787 160h0M774 181h0M773 172h0M767 184h0M782 166h0M767 175h0M778 160h0M766 171h0M777 169h0M787 159h0M787 156h0M770 165h0M776 158h0M776 167h0M778 161h0M782 154h0M788 160h0M773 162h0M765 175h0M767 171h0M774 159h0M779 161h0M775 165h0M769 167h0M784 150h0M783 159h0M789 150h0M767 176h0M770 183h0M769 183h0M784 150h0M780 172h0M768 180h0M785 165h0M789 155h0M780 158h0M784 158h0M780 170h0M786 154h0M772 164h0M765 180h0M786 153h0M781 172h0M786 162h0M772 171h0M774 173h0M788 156h0M779 155h0M774 163h0M775 159h0M777 167h0M768 172h0M777 160h0M770 177h0M767 174h0M783 159h0M784 156h0M770 166h0M778 173h0M772 162h0M789 155h0M777 168h0M787 153h0M778 165h0M775 170h0M776 176h0M776 177h0M783 167h0M769 176h0M784 165h0M788 157h0M767 170h0M784 154h0M788 149h0M776 168h0M785 153h0M777 166h0M775 176h0M772 158h0M780 166h0M775 177h0M784 164h0M786 150h0M766 174h0M786 155h0M764 182h0M780 175h0M788 158h0M783 162h0M779 165h0M773 167h0M772 174h0M771 165h0M773 156h0M781 170h0M783 170h0M785 166h0M773 171h0M783 156h0M772 181h0M765 176h0M764 171h0M775 177h0M772 157h0M767 173h0M789 152h0M780 168h0M777 158h0M779 165h0M787 153h0M779 173h0M776 176h0M778 165h0M780 171h0M767 172h0M765 181h0M779 170h0M777 152h0M764 176h0M773 157h0M780 173h0M776 166h0M770 172h0M782 161h0M782 159h0M777 157h0M780 157h0M769 164h0M772 165h0M769 166h0M783 166h0M781 161h0M778 168h0M780 157h0M776 165h0M780 164h0M773 175h0M781 154h0M777 177h0M765 172h0M771 178h0M776 172h0M779 162h0M778 167h0M764 176h0M777 163h0M772 177h0" stroke="#e8c8d8" stroke-opacity="0.85" stroke-width="2.6" stroke-linecap="round" fill="none"/><rect x="402" y="19" width="56" height="95.5" fill="#211c1c"/><path transform="scale(.5)" d="M855 125h0M855 124h0M882 106h0M875 89h0M861 77h0M851 121h0M826 76h0M826 60h0M847 49h0M838 48h0M885 93h0M857 69h0M854 94h0M845 50h0M837 48h0M867 107h0M894 90h0M849 82h0M871 107h0M839 77h0M854 49h0M859 100h0M871 71h0M831 64h0M847 50h0M818 67h0M862 124h0M868 71h0M872 98h0M870 112h0M850 50h0M841 92h0M854 55h0M860 118h0M887 93h0M838 82h0M825 76h0M864 89h0M838 70h0M847 75h0M834 44h0M825 62h0M840 94h0M867 121h0M877 97h0M860 62h0M822 77h0M870 100h0M837 95h0M854 73h0M860 84h0M811 63h0M812 58h0M873 88h0M872 125h0M870 77h0M861 73h0M834 85h0M865 129h0M836 91h0M846 53h0M842 102h0M816 71h0M861 81h0M871 74h0M829 79h0M852 66h0M882 90h0M819 45h0M842 67h0M868 105h0M817 59h0M839 87h0M827 67h0M827 45h0M816 51h0M875 108h0M857 54h0M855 99h0M873 83h0M854 87h0M856 113h0M854 94h0M826 75h0M829 60h0M859 62h0M855 78h0M813 64h0M847 110h0M819 63h0M828 60h0M865 112h0M817 48h0M860 79h0M847 64h0M878 112h0M850 107h0M820 82h0M854 64h0M845 85h0M834 63h0M831 69h0M830 65h0M824 84h0M854 95h0M817 49h0M826 71h0M858 54h0M834 97h0M835 52h0M886 86h0M840 84h0M865 115h0M836 54h0M863 68h0M834 55h0M827 43h0M848 114h0M818 67h0M870 123h0M839 61h0M843 70h0M872 98h0M809 47h0M828 59h0M814 52h0M852 93h0M870 86h0M864 97h0M814 65h0M879 101h0M845 106h0M814 67h0M844 83h0M854 77h0M845 60h0M842 55h0M829 56h0M834 44h0M865 113h0M874 96h0M831 45h0M864 129h0M834 84h0M844 68h0M858 97h0M844 64h0M850 59h0M861 121h0M911 60h0M822 73h0M848 71h0M825 85h0M874 72h0M845 67h0M816 66h0M846 103h0M876 95h0M872 85h0M858 116h0M862 119h0M859 83h0M829 88h0M831 62h0M828 59h0M877 88h0M852 89h0M819 69h0M820 63h0M850 64h0M876 109h0M876 71h0M821 73h0M835 96h0M863 117h0M882 86h0M826 89h0M860 63h0M871 124h0M858 114h0M872 108h0M814 74h0M882 92h0M848 61h0M878 100h0M878 90h0M869 91h0M881 78h0M876 84h0M850 119h0M831 89h0M829 82h0M830 43h0M857 88h0M845 103h0M858 126h0M862 102h0M850 120h0M844 76h0M821 43h0M852 101h0M880 109h0M862 104h0M853 110h0M878 98h0M885 91h0M873 104h0M825 63h0M876 78h0M868 92h0M861 50h0M851 121h0M869 101h0M860 84h0M857 80h0M877 108h0M816 51h0M851 89h0M830 52h0M839 69h0M858 90h0M845 95h0M869 112h0M843 78h0M830 61h0M828 80h0M855 113h0M871 76h0M867 83h0M861 120h0M862 108h0M884 94h0M821 79h0M830 68h0M882 103h0M833 65h0M861 83h0M812 55h0M814 55h0M811 47h0M874 70h0M837 51h0M860 63h0M870 100h0M863 101h0M869 74h0M889 89h0M839 65h0M857 94h0M890 88h0M828 91h0M821 77h0M847 70h0M814 48h0M822 49h0M871 101h0M868 125h0M837 82h0M862 51h0M878 89h0M814 72h0M835 80h0M872 90h0M865 85h0M877 114h0M845 102h0M847 86h0M855 55h0M844 68h0M861 55h0M818 48h0M871 98h0M822 47h0M868 98h0M834 50h0M851 95h0M840 49h0M868 122h0M842 108h0M859 125h0M857 98h0M837 46h0M815 59h0M844 50h0M856 67h0M862 117h0M839 59h0M858 60h0M874 101h0M869 85h0M845 64h0M879 89h0M878 112h0M876 71h0M874 70h0M906 57h0M871 119h0M843 65h0M875 92h0M838 70h0M905 60h0M856 116h0M863 82h0M811 57h0M838 71h0M816 69h0M850 95h0M865 95h0M816 55h0M843 52h0M858 122h0M878 79h0M832 51h0M873 95h0M837 48h0M835 61h0M830 47h0M839 102h0M840 53h0M855 107h0M862 116h0M820 75h0M855 112h0M860 104h0M878 102h0M850 108h0M853 56h0M876 94h0M871 94h0M811 52h0M832 76h0M867 118h0M834 46h0M836 78h0M874 104h0M854 103h0M867 76h0M857 116h0M871 120h0M831 63h0M855 63h0M823 83h0M854 125h0M811 54h0M835 101h0M824 63h0M868 78h0M861 109h0M846 116h0M839 53h0M887 85h0M839 60h0M823 51h0M869 72h0M875 87h0M863 89h0M855 77h0M852 98h0M827 83h0M883 73h0M880 94h0M858 64h0M834 94h0M881 99h0M813 66h0M859 78h0M831 87h0M852 82h0M872 101h0M841 97h0M871 70h0M829 79h0M837 88h0M851 94h0M824 64h0M860 121h0M861 83h0M818 75h0M862 81h0M869 101h0M844 56h0M840 79h0M866 71h0M826 67h0M810 55h0M873 92h0M812 64h0M817 45h0M842 74h0M831 95h0M884 87h0M874 93h0M862 96h0M831 65h0M829 79h0M839 66h0M845 99h0M837 84h0M826 69h0M874 73h0M812 56h0M874 71h0M837 71h0M872 107h0M811 61h0M873 113h0M880 92h0M855 51h0M835 60h0M834 48h0M861 120h0M875 90h0M821 71h0M873 76h0M884 97h0M857 100h0M872 89h0M858 91h0M877 71h0M859 63h0M857 79h0M844 49h0M857 89h0M820 75h0M864 122h0M839 88h0M812 51h0M842 51h0M830 45h0M866 95h0M825 85h0M820 61h0M873 93h0M856 63h0M826 85h0M817 79h0M859 124h0M847 110h0M840 59h0M884 78h0M814 71h0M887 96h0M858 114h0M820 64h0M866 100h0M829 50h0M856 95h0M871 85h0M850 103h0M865 105h0M834 50h0M813 67h0M860 86h0M853 70h0M837 91h0M837 83h0M864 123h0M870 70h0M810 55h0M846 94h0M816 56h0M848 73h0M812 60h0M849 87h0M842 65h0M827 63h0M844 56h0M872 97h0M860 111h0M827 87h0M832 68h0M876 90h0M850 106h0M860 121h0M818 46h0M867 99h0M836 93h0M817 71h0M844 97h0M825 71h0M838 93h0M862 106h0M832 79h0M840 87h0M835 86h0M858 119h0M842 72h0M869 90h0M861 80h0M824 55h0M829 85h0M814 68h0M862 91h0M837 96h0M851 64h0M847 91h0M893 90h0M851 50h0M884 87h0M837 67h0M840 75h0M846 115h0M854 84h0M862 105h0M869 70h0M879 73h0M886 98h0M819 61h0M861 115h0M836 95h0M828 69h0M844 91h0M838 89h0M864 101h0M835 98h0M835 45h0M850 114h0M866 72h0M889 91h0M849 67h0M828 49h0M828 49h0M852 97h0M862 127h0M865 107h0M861 96h0M851 117h0M841 88h0M894 91h0M835 47h0M865 84h0M873 89h0M850 101h0M854 118h0M827 45h0M868 121h0M871 98h0M809 48h0M850 53h0M842 61h0M821 63h0M824 63h0M863 82h0M822 82h0M822 58h0M853 88h0M835 45h0M831 83h0M832 85h0M869 127h0M860 120h0M872 122h0M856 69h0M857 128h0M853 101h0M880 74h0M851 103h0M846 90h0M828 50h0M879 89h0M857 115h0M849 104h0M849 86h0M851 102h0M864 97h0M855 84h0M867 109h0M839 45h0M818 49h0M824 59h0M843 100h0M862 61h0M888 92h0M844 53h0M861 67h0M867 113h0M858 74h0M824 72h0M817 56h0M875 119h0M825 73h0M874 108h0M860 88h0M866 90h0M882 88h0M818 47h0M843 96h0M874 91h0M849 48h0M846 84h0M880 109h0M829 63h0M826 83h0M820 62h0M880 73h0M815 54h0M873 101h0M838 48h0M860 101h0M868 100h0M853 76h0M879 71h0M848 109h0M880 101h0M843 89h0M835 98h0M854 64h0M829 49h0M834 79h0M833 88h0M847 61h0M845 50h0M877 104h0M826 89h0M835 68h0M812 64h0M851 113h0M835 53h0M877 80h0M872 70h0M865 73h0M882 86h0M862 58h0M839 56h0M833 77h0M853 51h0M863 104h0M848 82h0M877 91h0M852 72h0M880 80h0M823 86h0M847 59h0M861 66h0M853 92h0M824 57h0M855 73h0M865 129h0M880 106h0M848 75h0M867 81h0M851 73h0M868 124h0M815 67h0M835 68h0M852 102h0M839 87h0M834 73h0M873 85h0M871 107h0M859 123h0M858 66h0M879 101h0M867 119h0M853 48h0M848 87h0M851 63h0M860 80h0M821 56h0M861 68h0M846 53h0M863 60h0M850 112h0M832 59h0M829 82h0M842 102h0M861 72h0M879 89h0M850 100h0M850 103h0M830 49h0M847 76h0M855 52h0M816 78h0M843 50h0M823 76h0M822 61h0M859 69h0M818 47h0M852 55h0M861 127h0M831 64h0M839 101h0M866 122h0M840 81h0M820 44h0M902 57h0M875 99h0M835 100h0M836 44h0M849 85h0M862 123h0M835 65h0M849 61h0M852 73h0M838 57h0M886 90h0M879 75h0M858 93h0M843 58h0M818 63h0M863 124h0M833 45h0M863 92h0M865 129h0M863 119h0M866 98h0M849 114h0M855 116h0M853 87h0M839 102h0M842 92h0M871 121h0M840 61h0M869 101h0M879 104h0M882 89h0M878 96h0M859 66h0M823 83h0M866 72h0M816 65h0M812 69h0M877 77h0M846 102h0M834 51h0M846 74h0M825 77h0M873 73h0M858 86h0M850 81h0M864 129h0M833 53h0M859 89h0M820 69h0M865 109h0M835 63h0M829 88h0M867 120h0M862 57h0M863 107h0M835 66h0M830 53h0M873 81h0M868 116h0M857 123h0M824 86h0M903 57h0M835 63h0M847 115h0M843 82h0M868 99h0M845 73h0M862 55h0M842 82h0M867 126h0M850 60h0M859 115h0M826 65h0M883 91h0M854 91h0M881 71h0M870 70h0M871 116h0M845 92h0M855 77h0M874 75h0M850 59h0M852 114h0M852 94h0M846 88h0M849 121h0M883 103h0M844 103h0M852 95h0M863 58h0M829 82h0M844 76h0M879 96h0M845 105h0M872 82h0M851 48h0M848 82h0M864 109h0M861 108h0M879 94h0M872 115h0M876 84h0M857 109h0M844 97h0M849 69h0M817 54h0M867 119h0M876 105h0M864 88h0M839 60h0M844 84h0M846 109h0M857 62h0M836 54h0M853 85h0M840 105h0M878 110h0M859 69h0M878 95h0M857 115h0M846 110h0M867 95h0M847 48h0M835 66h0M831 64h0M881 72h0M847 112h0M870 94h0M831 91h0M872 102h0M855 97h0M839 99h0M846 102h0M814 65h0M828 60h0M863 68h0M812 68h0M862 91h0M886 93h0M828 50h0M862 87h0M838 79h0M858 108h0M848 90h0M887 93h0M823 64h0M862 88h0M872 97h0M872 98h0M831 67h0M883 83h0M851 112h0M828 70h0M867 110h0M824 43h0M881 70h0M903 58h0M833 76h0M871 94h0M822 48h0M870 105h0M820 51h0M830 58h0M857 118h0M851 101h0M851 69h0M863 73h0M842 55h0M849 108h0M833 75h0M848 55h0M837 97h0M868 125h0M866 123h0M846 56h0M819 53h0M854 118h0M861 59h0M819 78h0M865 93h0M815 50h0M851 116h0M823 52h0M861 74h0M829 45h0M837 47h0M830 46h0M825 58h0M823 75h0M859 130h0M854 111h0M857 101h0M875 98h0M856 74h0M850 85h0M850 48h0M844 69h0M865 107h0M839 60h0M876 118h0M836 69h0M830 43h0M864 49h0M821 110h0M879 68h0M869 66h0M887 58h0M831 40h0M913 59h0M886 102h0M813 99h0M865 41h0M898 55h0M806 111h0M893 103h0M870 62h0M826 113h0M880 65h0M804 54h0M866 135h0M873 126h0M916 48h0M817 83h0M895 51h0M807 76h0M823 42h0M823 101h0M847 122h0M821 119h0M891 50h0M910 54h0M894 102h0M884 126h0M894 95h0M800 68h0M808 60h0M842 116h0M831 42h0M878 123h0M899 43h0M896 94h0M868 54h0" stroke="#e4e4e4" stroke-opacity="0.8" stroke-width="1.8" stroke-linecap="round" fill="none"/><path transform="scale(.5)" d="M872 106h0M881 100h0M896 91h0M887 92h0M887 103h0M898 81h0M876 100h0M892 78h0M888 85h0M874 101h0M887 102h0M877 94h0M878 91h0M875 93h0M885 91h0M874 112h0M873 111h0M872 110h0M874 107h0M883 86h0M881 97h0M882 109h0M891 83h0M874 113h0M894 95h0M878 100h0M882 99h0M889 84h0M891 93h0M892 87h0M883 95h0M891 86h0M890 82h0M890 105h0M896 85h0M890 82h0M892 98h0M888 109h0M886 92h0M897 95h0M886 106h0M887 103h0M883 87h0M888 105h0M889 107h0M882 102h0M888 90h0M894 93h0M894 96h0M876 107h0M880 95h0M874 100h0M881 94h0M897 92h0M895 91h0M880 98h0M875 97h0M878 103h0M897 83h0M885 107h0M885 98h0M871 111h0M896 78h0M888 105h0M878 92h0M881 108h0M893 88h0M891 89h0M874 105h0M884 102h0M871 106h0M876 105h0M876 112h0M897 91h0M888 99h0M886 91h0M886 103h0M888 80h0M886 108h0M879 96h0M890 92h0M893 83h0M880 109h0M881 111h0M898 81h0M882 109h0M884 85h0M881 102h0M878 100h0M876 108h0" stroke="#5cb86a" stroke-opacity="0.6" stroke-width="1.8" stroke-linecap="round" fill="none"/><path transform="scale(.5)" d="M894 62h0M884 84h0M891 81h0M896 66h0M888 73h0M905 56h0M894 70h0M908 52h0M896 84h0M902 74h0M903 68h0M893 84h0M906 59h0M883 86h0M897 78h0M897 78h0M910 56h0M890 71h0M898 82h0M885 83h0M895 69h0M902 78h0M890 75h0M911 66h0M907 53h0M904 59h0M898 59h0M903 55h0M893 73h0M892 86h0M894 64h0M896 83h0M909 56h0M883 87h0M900 80h0M900 80h0M887 80h0M895 81h0M899 81h0M908 71h0M887 82h0M901 65h0M911 59h0M885 78h0M891 72h0M901 69h0M898 72h0M899 73h0M895 73h0M891 70h0M904 67h0M908 66h0M887 74h0M898 72h0M889 79h0M884 81h0M893 77h0M910 68h0M911 62h0M900 80h0M890 70h0M892 73h0M896 60h0M900 75h0M907 55h0M902 69h0M910 67h0M902 81h0M891 80h0M900 78h0M892 75h0M907 61h0M897 72h0M902 63h0M898 84h0M900 67h0M905 74h0M891 87h0M899 69h0M900 79h0M900 57h0M898 72h0M897 72h0M900 55h0M898 65h0M897 76h0M898 72h0M889 87h0M912 53h0M909 63h0M898 66h0M900 77h0M887 83h0M910 59h0M907 51h0M904 64h0M901 80h0M911 54h0M904 60h0M899 70h0M901 67h0M897 59h0M901 77h0M901 63h0M903 78h0M905 65h0M910 51h0M892 71h0M905 61h0M894 72h0M889 82h0M887 79h0M903 75h0M892 73h0M889 69h0M905 56h0M907 61h0M892 82h0M897 70h0M894 84h0M903 79h0M891 82h0M906 51h0M900 64h0M890 73h0M895 63h0M899 79h0M912 52h0M900 68h0M890 71h0M889 83h0M901 55h0M905 69h0M890 80h0M909 55h0M891 64h0M891 85h0M895 63h0M886 77h0M905 59h0M903 76h0M896 72h0M905 60h0M887 84h0M902 56h0M885 80h0M904 66h0M901 66h0M894 64h0M896 62h0M889 81h0M884 89h0M899 84h0M897 82h0M898 84h0M905 75h0M908 57h0M907 71h0M898 69h0M888 81h0M892 83h0M904 55h0M897 81h0M896 76h0M890 86h0M899 77h0M886 91h0M884 82h0M898 82h0M896 77h0M903 77h0M897 78h0M902 69h0M906 52h0M899 65h0M901 66h0M910 51h0M902 68h0M884 79h0M904 58h0M905 59h0M906 51h0M910 55h0M884 88h0M889 68h0M898 72h0M890 71h0M901 80h0M897 72h0M891 68h0M906 65h0M892 84h0M903 65h0M907 63h0M892 70h0M903 53h0M910 57h0M896 60h0M902 67h0M897 61h0M911 64h0M900 61h0M890 67h0M905 77h0M908 59h0M904 79h0M896 71h0M891 83h0M908 68h0M899 81h0M905 75h0M887 78h0M909 56h0M895 86h0M905 76h0M891 75h0M894 87h0M896 87h0M906 57h0M898 75h0M893 81h0M888 80h0M894 84h0M906 53h0M893 77h0M888 85h0M900 74h0M891 70h0M896 59h0M892 77h0M896 67h0M900 69h0M887 82h0M910 52h0M889 84h0M896 82h0M903 72h0M897 74h0M895 76h0M901 72h0M892 75h0M902 79h0M904 58h0M901 80h0M894 69h0M907 62h0M899 82h0M911 59h0M887 91h0M909 71h0M900 75h0M911 52h0M908 66h0M909 70h0M896 67h0M911 54h0M906 62h0M888 90h0M905 70h0M899 82h0" stroke="#62d474" stroke-opacity="0.9" stroke-width="2.6" stroke-linecap="round" fill="none"/><path transform="scale(.5)" d="M855 213h0M882 195h0M861 167h0M826 166h0M847 141h0M885 182h0M854 183h0M837 139h0M894 180h0M871 196h0M854 141h0M871 162h0M847 142h0M862 211h0M872 187h0M850 142h0M854 146h0M887 182h0M825 166h0M838 161h0M834 136h0M840 183h0M877 186h0M822 167h0M837 184h0M860 174h0M812 150h0M872 213h0M861 163h0M865 216h0M846 144h0M816 162h0M871 165h0M852 157h0M819 137h0M868 194h0M839 176h0M827 137h0M875 197h0M855 188h0M854 177h0M854 183h0M829 151h0M855 168h0M847 198h0M828 151h0M817 140h0M847 155h0M850 196h0M854 155h0M834 154h0M830 156h0M854 184h0M826 162h0M834 186h0M886 175h0M865 203h0M863 159h0M827 135h0M818 158h0M839 152h0M872 187h0M828 150h0M852 182h0M864 186h0M879 190h0M814 158h0M854 167h0M842 146h0M834 136h0M874 185h0M864 216h0M844 159h0M844 155h0M861 209h0M822 163h0M825 174h0M845 157h0M846 191h0M872 175h0M862 207h0M829 178h0M828 150h0M852 179h0M820 154h0M876 197h0M821 163h0M863 205h0M826 178h0M871 212h0M872 197h0M882 181h0M878 189h0M869 181h0M876 174h0M831 179h0M830 135h0M845 192h0M862 191h0M844 166h0M852 190h0M862 193h0M878 187h0M873 193h0M876 168h0M861 142h0M869 190h0M857 170h0M816 143h0M830 143h0M858 180h0M869 200h0M830 152h0M855 202h0M867 173h0M862 196h0M821 169h0M882 192h0M861 173h0M814 146h0M874 160h0M860 154h0M863 190h0M889 178h0M857 183h0M828 180h0M847 160h0M822 141h0M868 212h0M862 143h0M814 162h0M872 179h0M877 203h0M847 175h0M844 158h0M818 140h0M822 138h0M834 142h0M840 140h0M842 196h0M857 187h0M815 150h0M856 158h0M839 150h0M874 190h0M845 155h0M878 201h0M874 161h0M871 207h0M875 182h0M905 151h0M863 172h0M838 162h0M850 184h0M816 146h0M858 209h0M832 143h0M837 140h0M830 139h0M840 144h0M862 204h0M855 200h0M878 190h0M853 147h0M871 183h0M832 166h0M834 138h0M874 192h0M867 166h0M871 207h0M855 154h0M854 212h0M835 189h0M868 168h0M846 204h0M887 175h0M823 143h0M875 177h0M855 167h0M827 173h0M880 183h0M834 184h0M813 157h0M831 176h0M872 190h0M871 160h0M837 178h0M824 155h0M861 173h0M862 171h0M844 147h0M866 162h0M810 146h0M812 154h0M842 165h0M884 176h0M862 185h0M829 169h0M845 188h0M826 160h0M812 147h0M837 161h0M811 152h0M880 181h0M835 151h0M861 207h0M821 161h0M884 186h0M872 178h0M877 162h0M857 169h0M857 178h0M864 209h0M812 142h0M830 137h0M825 174h0M873 183h0M826 174h0M859 211h0M840 150h0M814 162h0M858 202h0M866 188h0M856 184h0M850 192h0M834 141h0M860 175h0M837 180h0M864 210h0M810 146h0M816 147h0M812 151h0M842 156h0M844 147h0M860 200h0M832 158h0M850 194h0M818 138h0M836 182h0M844 186h0M838 183h0M832 169h0M835 176h0M842 163h0M861 170h0M829 174h0M862 180h0M851 155h0M893 180h0M884 177h0M840 166h0M854 174h0M869 160h0M886 187h0M861 204h0M828 159h0M838 179h0M835 187h0M850 202h0M889 181h0M828 141h0M852 186h0M865 196h0M851 205h0M894 180h0M865 173h0M850 190h0M827 137h0M871 187h0M850 145h0M821 153h0M863 172h0M822 149h0M835 137h0M832 174h0M860 208h0M856 159h0M853 190h0M851 192h0M828 142h0M857 203h0M849 176h0M864 186h0M867 197h0M818 141h0M843 189h0M888 182h0M861 157h0M858 164h0M817 148h0M825 163h0M860 177h0M882 178h0M843 185h0M849 140h0M880 197h0M826 173h0M880 164h0M873 190h0M860 190h0M853 167h0M848 197h0M843 179h0M854 155h0M834 169h0M847 152h0M877 193h0M835 159h0M851 202h0M877 170h0M865 163h0M862 150h0M833 167h0M863 192h0M877 180h0M880 170h0M847 150h0M853 182h0M855 164h0M880 194h0M867 171h0M868 211h0M835 159h0M839 176h0M873 174h0M859 210h0M879 189h0M853 140h0M851 154h0M821 147h0M846 145h0M850 200h0M829 172h0M861 162h0M850 189h0M830 141h0M855 143h0M843 142h0M822 152h0M818 139h0M861 214h0M839 190h0M840 170h0M902 149h0M835 189h0M849 175h0M835 156h0M852 163h0M886 179h0M858 182h0M818 154h0M833 137h0M865 216h0M866 187h0M855 204h0M839 191h0M871 209h0M869 190h0M882 178h0M859 157h0M866 162h0M812 160h0M846 191h0M846 164h0M873 163h0M850 171h0M833 144h0M820 159h0M835 153h0M867 207h0M863 195h0M830 144h0M868 204h0M824 175h0M835 154h0M843 172h0M845 163h0M842 171h0M850 151h0M826 156h0M854 181h0M870 160h0M845 181h0M874 165h0M852 202h0M846 177h0M883 192h0M852 184h0M829 172h0M879 185h0M872 172h0M848 172h0M861 196h0M872 203h0M857 198h0M849 159h0M867 207h0M864 177h0M844 173h0M857 153h0M853 174h0M878 199h0M878 184h0M846 199h0M847 140h0M831 154h0M847 200h0M831 180h0M855 186h0M846 191h0M828 151h0M812 158h0M886 182h0M862 176h0M858 197h0M887 182h0M862 178h0M872 187h0M883 173h0M828 161h0M824 135h0M903 149h0M871 184h0M870 193h0M830 149h0M851 189h0M863 163h0M849 197h0M848 146h0M868 213h0M846 147h0M854 206h0M819 169h0M815 142h0M823 143h0M829 137h0M830 138h0M823 165h0M854 199h0M875 187h0M850 175h0M844 159h0M839 151h0M836 160h0M864 140h0M879 159h0M887 149h0M913 150h0M813 188h0M898 146h0M893 192h0M826 201h0M804 145h0M873 214h0M817 173h0M807 166h0M823 190h0M821 207h0M910 145h0M884 214h0M800 158h0M842 204h0M878 211h0M896 183h0" stroke="#c8bcbc" stroke-opacity="0.5" stroke-width="1.8" stroke-linecap="round" fill="none"/><path transform="scale(.5)" d="M896 182h0M892 182h0M880 200h0M883 200h0M884 191h0M881 199h0M884 187h0M880 192h0M894 176h0M885 197h0M885 187h0M894 179h0M887 184h0M881 186h0M877 202h0M897 179h0M882 184h0M879 204h0M877 191h0M888 198h0M884 201h0M883 185h0M883 194h0M887 197h0M890 176h0M897 183h0M883 186h0M888 176h0M879 197h0M879 191h0M883 202h0M889 184h0M877 195h0M891 174h0M888 191h0M887 191h0M886 179h0M890 174h0M878 201h0M876 189h0M895 184h0M876 190h0M890 176h0M890 180h0M880 192h0M894 185h0M881 196h0M898 182h0M888 182h0M891 187h0M891 187h0M893 174h0M894 189h0M886 186h0M882 191h0M893 182h0M883 193h0M880 192h0M882 191h0M892 174h0" stroke="#7f9fc8" stroke-opacity="0.5" stroke-width="1.8" stroke-linecap="round" fill="none"/><path transform="scale(.5)" d="M893 182h0M900 157h0M890 174h0M892 173h0M906 151h0M910 150h0M896 167h0M888 176h0M906 160h0M900 171h0M907 164h0M903 150h0M905 171h0M899 165h0M909 154h0M888 173h0M896 163h0M895 169h0M896 181h0M892 177h0M905 154h0M903 163h0M894 176h0M896 169h0M886 179h0M905 164h0M900 169h0M892 179h0M886 179h0M900 175h0M887 173h0M894 171h0M906 152h0M885 181h0M887 177h0M895 181h0M901 161h0M904 155h0M894 161h0M901 155h0M889 179h0M899 156h0M904 151h0M910 157h0M911 157h0M891 174h0M894 174h0M895 174h0M893 183h0M895 163h0M897 168h0M889 165h0M897 168h0M897 171h0M892 180h0M900 152h0M903 174h0M906 157h0M903 161h0M902 159h0M899 152h0M893 161h0M892 165h0M899 158h0M911 159h0M890 179h0M910 157h0M890 166h0M889 169h0M896 175h0M894 164h0M890 167h0M908 156h0M906 169h0M892 183h0M888 181h0M893 170h0M897 160h0M899 174h0M896 172h0M904 150h0M900 169h0M905 149h0M893 169h0M892 167h0M895 170h0M902 167h0M896 165h0M908 154h0M895 157h0M897 164h0M898 171h0M894 157h0M888 179h0M889 168h0M903 150h0M908 164h0M906 151h0M893 170h0M907 150h0M885 181h0M900 164h0M908 164h0M894 167h0M909 149h0M900 176h0M908 150h0M886 176h0M903 167h0M903 157h0M906 165h0M902 160h0M901 162h0M909 164h0M905 156h0M890 179h0M908 151h0M910 155h0M901 172h0M909 164h0M909 161h0M901 154h0M890 183h0M894 174h0M885 179h0M905 161h0M894 180h0M889 167h0M907 158h0M897 156h0M893 164h0M887 179h0M899 158h0M894 179h0M893 159h0M910 159h0M897 175h0M899 159h0M890 181h0M895 159h0M893 175h0M901 158h0M897 179h0M895 159h0M909 155h0M891 184h0M886 181h0M889 171h0M907 156h0M906 158h0M886 183h0M891 177h0M909 157h0M906 153h0M889 180h0M899 161h0M909 155h0M895 165h0M896 179h0M894 160h0M895 161h0M899 168h0M900 177h0M906 164h0M888 177h0M906 160h0M888 177h0M889 170h0M897 166h0M895 171h0M906 151h0M903 172h0M901 157h0M903 150h0M889 184h0M885 173h0M899 165h0M902 158h0M893 164h0M885 180h0M902 169h0M900 156h0M908 163h0M892 162h0M887 175h0M886 176h0M911 151h0M892 167h0M891 181h0M890 176h0M900 175h0M892 183h0M897 166h0M888 172h0M888 167h0M909 163h0M892 180h0M909 154h0M899 159h0M899 166h0M899 169h0M887 171h0M886 175h0M905 155h0M908 155h0M900 155h0M889 182h0M903 154h0M895 173h0M901 156h0M902 152h0M903 171h0M897 158h0M901 158h0M898 168h0M901 171h0M903 155h0M889 173h0M886 174h0M897 173h0" stroke="#8ab4e4" stroke-opacity="0.85" stroke-width="2.6" stroke-linecap="round" fill="none"/><rect x="463.3" y="19" width="57" height="95.5" fill="#211c1c"/><path transform="scale(.5)" d="M999 118h0M937 50h0M984 93h0M959 103h0M963 61h0M969 78h0M949 67h0M942 53h0M978 49h0M971 94h0M985 94h0M986 81h0M955 64h0M954 44h0M957 49h0M1002 90h0M957 60h0M994 71h0M992 110h0M932 48h0M1011 93h0M953 66h0M973 82h0M1032 64h0M985 120h0M969 85h0M997 81h0M943 82h0M985 97h0M994 92h0M946 84h0M989 111h0M1001 75h0M993 126h0M985 94h0M986 90h0M985 54h0M1003 95h0M950 85h0M982 91h0M936 55h0M963 83h0M1013 93h0M995 91h0M956 88h0M947 82h0M967 84h0M971 82h0M989 84h0M962 82h0M939 64h0M1013 92h0M991 117h0M968 58h0M950 90h0M961 68h0M959 56h0M980 107h0M993 109h0M941 51h0M971 111h0M979 103h0M975 70h0M989 85h0M995 103h0M971 88h0M946 72h0M933 57h0M977 109h0M964 81h0M996 96h0M976 124h0M986 91h0M1000 94h0M997 92h0M959 101h0M970 62h0M1000 95h0M977 104h0M970 91h0M985 83h0M974 87h0M965 83h0M985 99h0M1002 101h0M977 123h0M999 99h0M1002 98h0M1006 78h0M935 63h0M984 99h0M979 50h0M981 84h0M956 51h0M988 108h0M944 83h0M956 89h0M954 47h0M984 88h0M1003 75h0M946 63h0M971 73h0M967 92h0M977 87h0M944 47h0M979 53h0M1000 115h0M990 78h0M949 49h0M983 55h0M961 60h0M1003 80h0M964 68h0M1005 69h0M962 69h0M1000 108h0M984 82h0M1002 113h0M959 91h0M967 96h0M946 51h0M962 92h0M965 60h0M969 51h0M995 96h0M963 78h0M997 85h0M960 77h0M957 78h0M991 107h0M972 50h0M940 69h0M975 106h0M980 71h0M989 104h0M963 99h0M959 71h0M1002 99h0M951 68h0M968 105h0M938 54h0M967 91h0M992 106h0M993 97h0M955 86h0M1002 97h0M940 69h0M973 99h0M980 69h0M967 79h0M948 72h0M966 69h0M973 102h0M985 105h0M998 100h0M979 99h0M956 76h0M953 77h0M975 117h0M944 67h0M971 73h0M977 115h0M992 127h0M989 84h0M976 59h0M995 105h0M997 75h0M960 84h0M998 84h0M969 112h0M982 83h0M997 114h0M976 102h0M977 90h0M953 48h0M984 114h0M958 99h0M992 100h0M987 108h0M969 57h0M983 88h0M995 118h0M987 129h0M972 103h0M960 52h0M963 70h0M960 90h0M970 47h0M998 100h0M994 122h0M1011 90h0M970 60h0M935 68h0M950 89h0M950 58h0M986 79h0M962 94h0M975 70h0M1003 96h0M934 54h0M1001 75h0M962 58h0M960 53h0M966 65h0M936 71h0M979 49h0M998 114h0M955 73h0M956 81h0M1002 112h0M958 45h0M943 45h0M998 90h0M995 81h0M971 52h0M978 122h0M942 58h0M999 99h0M973 82h0M986 104h0M954 96h0M965 50h0M982 104h0M981 106h0M984 61h0M961 78h0M996 98h0M970 98h0M1004 99h0M949 58h0M986 85h0M965 47h0M941 57h0M992 94h0M1002 92h0M968 87h0M953 85h0M966 97h0M937 73h0M939 71h0M983 107h0M988 113h0M972 75h0M935 62h0M993 115h0M997 82h0M951 70h0M933 56h0M1011 92h0M954 56h0M995 85h0M940 63h0M1005 75h0M939 56h0M971 55h0M1004 109h0M967 100h0M1010 93h0M984 92h0M965 81h0M979 105h0M973 67h0M985 84h0M967 106h0M971 81h0M948 67h0M941 60h0M988 108h0M969 61h0M974 106h0M958 102h0M999 96h0M998 88h0M995 116h0M1011 91h0M999 100h0M933 47h0M989 94h0M940 42h0M993 117h0M945 66h0M945 65h0M961 46h0M956 66h0M963 103h0M961 72h0M938 64h0M973 74h0M989 90h0M962 58h0M951 75h0M984 101h0M974 94h0M998 86h0M980 103h0M947 75h0M1005 90h0M980 72h0M961 62h0M935 61h0M984 104h0M985 95h0M973 91h0M969 115h0M1003 112h0M999 100h0M951 59h0M954 57h0M963 49h0M946 65h0M956 53h0M1000 88h0M957 79h0M935 64h0M982 124h0M979 77h0M1003 111h0M951 73h0M958 96h0M986 97h0M971 117h0M974 113h0M944 52h0M985 115h0M960 101h0M975 81h0M972 113h0M933 47h0M1002 92h0M952 56h0M965 82h0M996 104h0M952 90h0M1006 92h0M954 73h0M993 106h0M973 123h0M944 76h0M957 86h0M977 114h0M952 85h0M1000 110h0M1007 83h0M1033 64h0M942 64h0M983 77h0M944 82h0M967 91h0M1008 95h0M952 84h0M955 63h0M934 50h0M977 48h0M968 88h0M983 61h0M985 82h0M968 83h0M1000 83h0M982 50h0M979 65h0M984 73h0M971 85h0M957 55h0M984 59h0M976 55h0M1006 99h0M1009 92h0M1006 80h0M972 92h0M995 117h0M963 65h0M983 89h0M997 118h0M995 113h0M957 99h0M956 72h0M959 56h0M980 97h0M1002 71h0M971 95h0M970 95h0M1027 59h0M937 50h0M946 59h0M941 56h0M948 50h0M961 56h0M963 99h0M1006 103h0M987 78h0M1002 106h0M960 68h0M950 64h0M992 71h0M979 85h0M979 103h0M968 113h0M948 57h0M949 80h0M961 74h0M960 87h0M971 90h0M985 115h0M941 54h0M938 60h0M956 95h0M968 67h0M1001 84h0M937 70h0M1002 84h0M986 126h0M935 67h0M934 49h0M946 49h0M956 72h0M957 59h0M976 78h0M1006 101h0M949 56h0M933 46h0M977 49h0M984 122h0M942 47h0M962 50h0M947 71h0M965 101h0M954 45h0M991 89h0M955 98h0M977 99h0M1000 99h0M982 98h0M968 93h0M1004 81h0M998 113h0M980 130h0M955 82h0M945 51h0M951 84h0M1000 74h0M998 100h0M986 84h0M971 93h0M952 45h0M936 60h0M969 69h0M981 125h0M1005 100h0M956 82h0M1007 67h0M964 109h0M991 114h0M980 121h0M1010 96h0M945 70h0M982 70h0M994 87h0M954 50h0M985 92h0M975 58h0M974 84h0M966 72h0M975 114h0M937 75h0M994 102h0M973 83h0M1028 59h0M935 69h0M954 51h0M992 102h0M956 92h0M944 58h0M980 110h0M1007 82h0M934 51h0M966 68h0M942 60h0M946 50h0M980 59h0M971 92h0M955 56h0M941 68h0M939 57h0M946 43h0M951 88h0M953 72h0M977 109h0M938 76h0M965 61h0M951 60h0M991 91h0M965 92h0M980 92h0M934 57h0M982 68h0M985 104h0M965 110h0M960 55h0M970 119h0M952 64h0M985 123h0M996 86h0M981 105h0M971 107h0M982 124h0M976 63h0M1002 109h0M977 77h0M972 86h0M941 46h0M1005 93h0M1007 83h0M979 60h0M991 127h0M942 45h0M966 63h0M1002 85h0M994 123h0M951 58h0M954 95h0M976 87h0M983 56h0M973 101h0M937 45h0M968 61h0M967 73h0M978 129h0M933 49h0M977 58h0M1008 91h0M970 53h0M953 67h0M985 111h0M978 101h0M981 50h0M992 76h0M952 64h0M944 75h0M957 89h0M980 106h0M942 74h0M972 65h0M963 82h0M935 53h0M975 57h0M960 99h0M1002 94h0M933 57h0M991 72h0M958 97h0M956 81h0M1034 62h0M982 114h0M1023 57h0M932 50h0M970 65h0M933 58h0M971 59h0M953 94h0M1011 97h0M993 99h0M977 128h0M995 106h0M933 51h0M948 59h0M990 96h0M958 82h0M961 47h0M988 125h0M957 55h0M983 117h0M963 89h0M967 96h0M983 72h0M980 59h0M966 90h0M946 45h0M945 77h0M984 121h0M986 101h0M1001 90h0M979 55h0M948 83h0M990 126h0M974 105h0M962 78h0M977 116h0M958 92h0M1002 90h0M981 92h0M973 85h0M986 120h0M946 74h0M970 65h0M960 59h0M938 54h0M938 69h0M1004 102h0M951 85h0M937 48h0M986 128h0M1013 90h0M1003 79h0M961 46h0M981 80h0M949 90h0M951 51h0M938 77h0M946 48h0M979 67h0M989 87h0M932 46h0M957 70h0M939 69h0M998 109h0M991 84h0M957 54h0M975 107h0M1001 78h0M992 102h0M987 120h0M956 91h0M973 69h0M981 122h0M971 109h0M991 88h0M1001 78h0M991 69h0M970 97h0M1012 95h0M957 51h0M960 78h0M988 95h0M970 75h0M971 82h0M990 89h0M996 120h0M991 125h0M1012 96h0M945 59h0M952 44h0M986 113h0M968 61h0M979 53h0M998 118h0M955 49h0M969 65h0M990 111h0M958 91h0M946 68h0M935 63h0M951 51h0M968 82h0M948 56h0M998 78h0M980 129h0M941 54h0M960 49h0M943 47h0M941 70h0M965 76h0M979 94h0M964 108h0M973 94h0M945 43h0M1015 93h0M973 82h0M963 51h0M992 87h0M952 50h0M943 69h0M958 58h0M995 74h0M996 117h0M948 81h0M979 92h0M988 101h0M986 123h0M974 74h0M988 118h0M958 52h0M982 103h0M980 100h0M1002 108h0M953 53h0M996 98h0M1000 92h0M968 109h0M936 53h0M985 101h0M992 84h0M998 98h0M983 115h0M959 82h0M976 99h0M936 73h0M1000 90h0M975 55h0M964 101h0M961 51h0M954 50h0M954 89h0M980 108h0M954 58h0M942 60h0M977 114h0M940 76h0M952 66h0M974 53h0M1010 86h0M948 69h0M996 104h0M945 51h0M984 119h0M953 65h0M983 129h0M968 81h0M991 122h0M981 98h0M961 74h0M1013 89h0M999 81h0M994 90h0M982 70h0M965 59h0M976 124h0M978 126h0M945 54h0M963 65h0M946 53h0M978 57h0M980 92h0M964 73h0M988 125h0M945 62h0M966 86h0M986 86h0M1028 57h0M934 61h0M949 59h0M1000 103h0M953 53h0M954 59h0M965 86h0M1001 112h0M949 63h0M984 102h0M984 98h0M946 87h0M994 114h0M937 75h0M955 91h0M955 73h0M968 81h0M968 99h0M986 96h0M1011 91h0M1000 117h0M958 100h0M945 68h0M945 79h0M995 124h0M981 127h0M964 94h0M991 72h0M1025 57h0M996 80h0M962 77h0M974 65h0M976 58h0M946 47h0M953 72h0M995 118h0M937 45h0M976 53h0M936 54h0M984 84h0M996 75h0M986 118h0M980 52h0M978 121h0M950 44h0M972 106h0M986 101h0M979 55h0M951 46h0M994 76h0M1032 57h0M981 99h0M997 122h0M962 60h0M973 56h0M1005 86h0M1005 108h0M964 75h0M980 127h0M1005 82h0M984 52h0M976 90h0M934 69h0M982 65h0M978 87h0M987 73h0M998 103h0M996 114h0M982 77h0M943 72h0M976 95h0M977 76h0M941 58h0M984 89h0M954 58h0M982 75h0M1031 60h0M986 125h0M951 69h0M956 58h0M940 62h0M987 114h0M981 112h0M989 87h0M998 77h0M1012 93h0M980 98h0M968 55h0M989 115h0M968 74h0M949 79h0M985 95h0M977 84h0M1007 104h0M984 114h0M1002 96h0M1001 105h0M979 56h0M988 121h0M954 71h0M960 79h0M956 91h0M962 74h0M980 59h0M996 79h0M999 77h0M1001 80h0M984 74h0M1032 63h0M960 77h0M998 82h0M962 101h0M983 93h0M958 68h0M992 119h0M1032 59h0M972 47h0M975 121h0M974 54h0M951 50h0M1003 107h0M997 89h0M970 74h0M935 46h0M986 121h0M994 110h0M955 75h0M957 77h0M971 55h0M986 74h0M965 67h0M984 102h0M979 69h0M980 120h0M1011 90h0M994 116h0M1004 86h0M980 83h0M958 96h0M933 54h0M968 105h0M997 116h0M979 51h0M950 45h0M975 91h0M986 106h0M1003 85h0M956 45h0M985 108h0M939 73h0M947 70h0M935 52h0M1005 98h0M981 65h0M988 121h0M975 81h0M975 69h0M935 58h0M982 68h0M969 92h0M993 75h0M1033 66h0M971 125h0M1036 85h0M1020 51h0M993 51h0M935 42h0M980 133h0M997 46h0M933 43h0M951 100h0M1019 98h0M930 55h0M1004 54h0M950 100h0M935 113h0M989 63h0M1021 92h0M983 132h0M1037 48h0M1008 103h0M930 71h0M1023 56h0M1022 54h0M969 124h0M934 71h0M980 44h0M988 47h0M1007 62h0M1010 42h0M914 81h0M1003 115h0M979 131h0M991 55h0M948 95h0M995 128h0M997 134h0M996 64h0M983 46h0M937 83h0M931 66h0" stroke="#e4e4e4" stroke-opacity="0.8" stroke-width="1.8" stroke-linecap="round" fill="none"/><path transform="scale(.5)" d="M1009 89h0M1017 81h0M1009 86h0M1012 97h0M1014 98h0M1002 104h0M1014 104h0M998 95h0M999 94h0M1017 99h0M1008 99h0M1012 99h0M1018 93h0M1001 113h0M1005 95h0M998 101h0M1007 85h0M1016 79h0M1010 94h0M1016 84h0M1006 96h0M1012 78h0M1016 95h0M1004 104h0M1013 78h0M1000 90h0M1001 108h0M994 108h0M1020 93h0M1013 81h0M1001 111h0M996 110h0M1009 92h0M1008 86h0M997 113h0M998 110h0M1021 87h0M1017 78h0M1010 102h0M1009 98h0M1019 79h0M1013 79h0M1020 86h0M1010 91h0M1011 93h0M1005 106h0M1020 85h0M1019 79h0M997 104h0M1009 96h0M1011 92h0M1005 86h0M1004 90h0M1007 82h0M1013 84h0M1002 98h0M1007 86h0M995 107h0M1015 97h0M1013 105h0M1000 111h0M1013 102h0M1003 106h0M1010 97h0M1001 106h0M1012 95h0M1006 92h0M1013 89h0M1014 99h0M1001 107h0M1020 81h0M1010 94h0M1010 91h0M1011 86h0M995 99h0M1005 88h0M1018 89h0M1014 98h0M1010 82h0M1020 94h0M1010 97h0M1019 80h0M1021 81h0M1018 89h0M1011 102h0M1008 97h0M1000 91h0M1017 96h0M998 111h0M997 98h0" stroke="#5cb86a" stroke-opacity="0.6" stroke-width="1.8" stroke-linecap="round" fill="none"/><path transform="scale(.5)" d="M1018 68h0M1030 71h0M1022 71h0M1016 62h0M1019 86h0M1021 78h0M1034 53h0M1011 71h0M1027 66h0M1012 69h0M1027 63h0M1029 74h0M1026 76h0M1018 62h0M1016 75h0M1020 83h0M1024 55h0M1030 65h0M1017 72h0M1024 59h0M1011 83h0M1028 74h0M1016 69h0M1008 77h0M1022 76h0M1021 85h0M1017 82h0M1013 77h0M1008 81h0M1013 73h0M1013 86h0M1020 59h0M1025 56h0M1012 86h0M1019 63h0M1021 84h0M1017 76h0M1015 72h0M1023 78h0M1023 61h0M1017 82h0M1018 79h0M1007 83h0M1015 79h0M1016 66h0M1023 80h0M1019 80h0M1022 83h0M1027 62h0M1031 60h0M1017 73h0M1022 58h0M1022 75h0M1022 57h0M1012 86h0M1029 71h0M1011 75h0M1016 83h0M1012 83h0M1024 65h0M1017 76h0M1009 82h0M1029 71h0M1027 77h0M1018 83h0M1021 84h0M1008 82h0M1009 86h0M1025 63h0M1033 66h0M1031 60h0M1030 53h0M1026 69h0M1026 71h0M1009 77h0M1018 66h0M1028 57h0M1008 88h0M1006 87h0M1028 73h0M1021 64h0M1013 86h0M1028 70h0M1022 84h0M1014 74h0M1029 69h0M1028 56h0M1029 55h0M1015 88h0M1022 67h0M1021 59h0M1019 71h0M1016 89h0M1024 78h0M1031 55h0M1012 88h0M1010 79h0M1008 83h0M1026 71h0M1013 85h0M1029 67h0M1015 77h0M1021 69h0M1027 67h0M1010 77h0M1022 60h0M1033 65h0M1029 65h0M1023 65h0M1024 69h0M1009 82h0M1017 72h0M1022 81h0M1018 65h0M1029 53h0M1021 73h0M1012 84h0M1019 67h0M1027 76h0M1010 75h0M1014 88h0M1029 68h0M1014 78h0M1010 72h0M1025 80h0M1016 80h0M1017 70h0M1028 52h0M1022 66h0M1026 66h0M1010 87h0M1034 53h0M1030 55h0M1020 71h0M1016 83h0M1019 68h0M1025 75h0M1023 77h0M1012 70h0M1010 76h0M1020 82h0M1017 66h0M1034 58h0M1022 67h0M1035 53h0M1022 67h0M1035 56h0M1017 67h0M1017 84h0M1018 84h0M1034 55h0M1020 64h0M1014 66h0M1027 56h0M1028 60h0M1031 53h0M1029 67h0M1014 86h0M1021 83h0M1024 60h0M1010 72h0M1020 71h0M1020 68h0M1018 79h0M1007 87h0M1015 82h0M1031 66h0M1027 62h0M1026 54h0M1011 87h0M1015 70h0M1010 74h0M1031 60h0M1030 68h0M1034 62h0M1014 90h0M1023 71h0M1017 61h0M1007 89h0M1021 66h0M1015 69h0M1020 63h0M1030 65h0M1034 56h0M1032 65h0M1024 61h0M1015 82h0M1018 71h0M1033 63h0M1020 81h0M1031 68h0M1029 57h0M1022 65h0M1019 59h0M1023 57h0M1022 58h0M1029 71h0M1034 59h0M1030 68h0M1025 60h0M1032 53h0M1026 79h0M1014 72h0M1027 74h0M1026 67h0M1025 56h0M1016 69h0M1029 66h0M1012 85h0M1032 62h0M1008 79h0M1016 86h0M1014 86h0M1016 87h0M1032 57h0M1029 56h0M1029 72h0M1027 59h0M1019 64h0M1016 63h0M1007 86h0M1009 88h0M1025 63h0M1017 80h0M1027 53h0M1017 71h0M1027 61h0M1024 58h0M1016 70h0M1013 80h0M1016 67h0M1025 53h0M1011 83h0M1007 81h0M1011 91h0M1026 76h0M1016 72h0M1014 79h0M1009 83h0M1017 83h0M1021 72h0M1022 68h0M1024 63h0M1029 72h0M1032 65h0M1018 72h0M1021 79h0M1010 91h0M1021 80h0M1025 78h0M1026 60h0M1015 89h0M1018 65h0M1026 63h0M1030 67h0M1024 59h0M1029 51h0M1023 60h0M1030 59h0M1013 76h0" stroke="#62d474" stroke-opacity="0.9" stroke-width="2.6" stroke-linecap="round" fill="none"/><path transform="scale(.5)" d="M999 205h0M984 182h0M963 152h0M949 157h0M978 141h0M985 183h0M955 155h0M957 140h0M957 151h0M992 198h0M1011 183h0M973 172h0M985 208h0M997 171h0M985 186h0M946 173h0M1001 166h0M985 183h0M985 146h0M950 174h0M936 146h0M1013 182h0M956 177h0M967 174h0M989 174h0M939 155h0M991 205h0M950 180h0M959 147h0M993 197h0M971 199h0M975 160h0M995 192h0M946 163h0M977 197h0M996 185h0M986 180h0M997 182h0M970 153h0M977 193h0M985 173h0M965 173h0M1002 189h0M999 188h0M1006 168h0M984 188h0M981 174h0M988 196h0M956 178h0M984 178h0M946 154h0M967 181h0M944 139h0M1000 203h0M949 141h0M961 151h0M964 159h0M962 159h0M984 172h0M959 181h0M946 143h0M965 151h0M995 185h0M997 174h0M957 168h0M972 142h0M975 194h0M989 193h0M959 162h0M951 158h0M938 146h0M992 195h0M955 176h0M940 159h0M980 160h0M948 163h0M973 191h0M998 188h0M956 166h0M975 205h0M971 164h0M992 214h0M976 150h0M997 165h0M998 174h0M982 173h0M976 190h0M953 140h0M958 188h0M987 196h0M983 178h0M987 217h0M960 143h0M960 179h0M998 189h0M1011 180h0M935 158h0M950 149h0M962 184h0M1003 185h0M1001 165h0M960 144h0M936 161h0M998 202h0M956 171h0M958 136h0M998 179h0M971 144h0M942 149h0M973 172h0M954 185h0M982 193h0M984 152h0M996 187h0M1004 188h0M986 174h0M941 149h0M1002 181h0M953 175h0M937 163h0M983 196h0M972 165h0M993 203h0M951 161h0M1011 181h0M995 174h0M1005 165h0M971 146h0M967 189h0M984 181h0M979 194h0M985 174h0M971 171h0M941 151h0M969 152h0M958 191h0M998 177h0M1011 180h0M933 139h0M940 134h0M945 156h0M961 138h0M963 192h0M938 155h0M989 179h0M951 165h0M974 183h0M980 192h0M1005 180h0M961 153h0M984 192h0M973 180h0M1003 200h0M951 150h0M963 141h0M956 145h0M957 169h0M982 212h0M1003 200h0M958 185h0M971 205h0M944 143h0M960 190h0M972 201h0M1002 182h0M965 172h0M952 179h0M954 164h0M973 210h0M957 176h0M952 175h0M1007 173h0M942 154h0M944 172h0M1008 184h0M955 154h0M977 139h0M983 152h0M968 173h0M982 141h0M984 163h0M957 146h0M976 147h0M1009 182h0M972 181h0M963 156h0M997 206h0M957 188h0M959 148h0M1002 161h0M970 184h0M937 142h0M941 147h0M961 148h0M1006 192h0M1002 195h0M950 155h0M979 175h0M968 201h0M949 170h0M960 177h0M985 203h0M938 151h0M968 158h0M937 161h0M986 213h0M934 141h0M956 163h0M976 168h0M949 147h0M977 141h0M942 139h0M947 161h0M954 137h0M955 187h0M1000 188h0M968 182h0M998 201h0M955 172h0M951 174h0M998 189h0M971 182h0M936 151h0M981 212h0M956 172h0M964 198h0M980 209h0M945 160h0M994 176h0M985 182h0M974 173h0M975 202h0M994 191h0M1028 151h0M954 143h0M956 182h0M980 199h0M934 143h0M942 151h0M980 150h0M955 147h0M939 148h0M951 177h0M977 198h0M965 152h0M991 180h0M980 182h0M982 159h0M965 199h0M970 206h0M985 210h0M981 193h0M982 211h0M1002 197h0M972 176h0M1005 182h0M979 151h0M942 137h0M1002 175h0M951 149h0M976 176h0M973 190h0M968 152h0M978 216h0M977 149h0M970 144h0M985 200h0M981 141h0M952 155h0M957 178h0M942 164h0M963 172h0M975 149h0M1002 183h0M991 162h0M956 171h0M982 202h0M932 142h0M933 149h0M953 183h0M993 188h0M995 194h0M948 150h0M958 172h0M988 213h0M983 205h0M967 185h0M980 151h0M946 137h0M984 209h0M1001 179h0M948 173h0M974 194h0M977 204h0M1002 180h0M973 175h0M946 164h0M960 150h0M938 160h0M951 175h0M986 215h0M1003 169h0M981 170h0M951 142h0M946 140h0M989 177h0M957 160h0M998 197h0M957 145h0M1001 168h0M987 208h0M973 160h0M971 197h0M1001 168h0M970 186h0M957 142h0M988 184h0M971 172h0M996 208h0M1012 185h0M952 136h0M968 152h0M998 206h0M969 156h0M958 180h0M935 153h0M968 172h0M998 168h0M941 146h0M943 139h0M965 166h0M964 197h0M945 135h0M973 172h0M992 177h0M943 160h0M995 164h0M948 171h0M988 190h0M974 164h0M958 144h0M980 189h0M953 145h0M1000 182h0M936 144h0M992 174h0M983 203h0M976 188h0M1000 179h0M964 190h0M954 142h0M980 197h0M942 151h0M940 166h0M974 144h0M948 160h0M945 142h0M953 156h0M968 171h0M981 187h0M1013 179h0M994 180h0M965 150h0M978 214h0M963 155h0M978 149h0M964 163h0M945 153h0M986 175h0M934 152h0M1000 192h0M954 150h0M1001 201h0M984 190h0M946 176h0M937 165h0M955 163h0M968 188h0M1011 181h0M958 189h0M945 169h0M981 215h0M991 163h0M996 170h0M974 156h0M946 139h0M995 205h0M976 145h0M984 174h0M986 206h0M978 209h0M972 194h0M979 146h0M994 166h0M981 188h0M962 151h0M1005 176h0M964 165h0M1005 172h0M976 180h0M982 156h0M987 163h0M996 202h0M943 162h0M977 167h0M984 178h0M982 165h0M986 212h0M956 150h0M987 202h0M989 177h0M1012 183h0M968 146h0M968 164h0M985 185h0M1007 193h0M1002 186h0M979 148h0M954 161h0M956 180h0M980 151h0M999 167h0M984 164h0M960 167h0M962 190h0M958 159h0M1032 150h0M975 209h0M951 141h0M997 179h0M935 138h0M994 198h0M957 167h0M986 164h0M984 190h0M980 207h0M994 204h0M980 173h0M933 146h0M997 204h0M950 137h0M986 195h0M956 137h0M939 163h0M935 143h0M981 156h0M975 171h0M935 149h0M969 181h0M1033 156h0M1036 175h0M993 142h0M980 220h0M933 135h0M1019 187h0M1004 145h0M935 201h0M1021 182h0M1037 140h0M930 162h0M1022 145h0M934 161h0M988 139h0M1010 134h0M1003 203h0M991 146h0M995 215h0M996 154h0M937 173h0" stroke="#c8bcbc" stroke-opacity="0.5" stroke-width="1.8" stroke-linecap="round" fill="none"/><path transform="scale(.5)" d="M1013 186h0M1018 179h0M1017 180h0M1002 186h0M999 199h0M1020 177h0M1017 175h0M1003 188h0M1002 200h0M999 187h0M1020 181h0M1015 187h0M1014 177h0M1017 177h0M997 192h0M1005 200h0M1015 179h0M1011 187h0M1005 189h0M1008 189h0M1017 172h0M1005 189h0M1001 189h0M1020 183h0M1016 188h0M1014 182h0M1006 190h0M997 200h0M1008 196h0M1006 191h0M999 197h0M1016 182h0M1007 198h0M1008 176h0M1014 186h0M1002 198h0M998 198h0M1004 203h0M1000 201h0M997 197h0M998 190h0M1009 192h0M1012 185h0M1005 201h0M1003 185h0M1009 182h0M1005 197h0M1004 195h0M1019 185h0M1019 188h0M1007 189h0M1016 181h0M1013 175h0M1005 184h0M1001 190h0M1010 185h0M1001 198h0M1007 190h0M1001 191h0M998 194h0" stroke="#7f9fc8" stroke-opacity="0.5" stroke-width="1.8" stroke-linecap="round" fill="none"/><path transform="scale(.5)" d="M1021 173h0M1030 167h0M1013 170h0M1014 164h0M1020 162h0M1032 158h0M1019 158h0M1024 165h0M1033 153h0M1016 165h0M1021 164h0M1019 176h0M1026 166h0M1023 157h0M1013 184h0M1025 169h0M1013 180h0M1022 172h0M1018 171h0M1011 170h0M1020 179h0M1018 162h0M1030 160h0M1014 174h0M1017 163h0M1009 176h0M1010 173h0M1020 158h0M1022 167h0M1023 154h0M1010 184h0M1030 163h0M1020 167h0M1022 155h0M1017 162h0M1023 159h0M1033 152h0M1026 153h0M1023 162h0M1029 164h0M1017 173h0M1026 164h0M1023 171h0M1009 179h0M1017 166h0M1032 155h0M1023 173h0M1010 168h0M1017 181h0M1018 167h0M1023 172h0M1009 176h0M1020 164h0M1020 170h0M1027 170h0M1010 174h0M1020 157h0M1016 161h0M1027 158h0M1021 166h0M1018 166h0M1010 170h0M1016 169h0M1011 177h0M1030 149h0M1018 162h0M1015 166h0M1013 182h0M1033 159h0M1030 156h0M1016 180h0M1009 175h0M1023 152h0M1023 177h0M1014 167h0M1020 175h0M1021 176h0M1029 163h0M1014 163h0M1015 171h0M1025 168h0M1021 169h0M1015 159h0M1027 172h0M1033 152h0M1024 154h0M1033 154h0M1029 149h0M1008 177h0M1018 155h0M1012 178h0M1010 172h0M1011 179h0M1023 163h0M1016 161h0M1010 180h0M1014 181h0M1025 156h0M1022 177h0M1023 160h0M1019 168h0M1023 160h0M1025 153h0M1034 155h0M1014 172h0M1012 165h0M1025 171h0M1022 165h0M1013 169h0M1027 172h0M1017 167h0M1019 171h0M1024 159h0M1019 177h0M1030 156h0M1012 183h0M1028 166h0M1023 166h0M1016 162h0M1027 156h0M1020 157h0M1023 174h0M1018 177h0M1026 162h0M1013 168h0M1013 172h0M1032 152h0M1020 166h0M1014 176h0M1018 173h0M1023 167h0M1015 173h0M1027 149h0M1027 167h0M1011 172h0M1012 183h0M1026 167h0M1015 171h0M1014 163h0M1018 162h0M1022 160h0M1031 154h0M1025 158h0M1025 157h0M1029 156h0M1029 156h0M1013 173h0M1010 183h0M1029 163h0M1029 161h0M1019 164h0M1020 174h0M1029 163h0M1018 170h0M1024 173h0M1009 175h0M1011 182h0M1020 177h0M1016 167h0M1021 165h0M1027 169h0M1014 166h0M1024 158h0M1014 163h0M1030 155h0M1019 174h0M1025 163h0M1023 169h0M1011 181h0M1020 160h0M1017 173h0M1020 177h0M1024 152h0M1024 171h0M1018 163h0M1021 153h0M1032 160h0M1011 183h0M1026 153h0M1021 152h0M1029 159h0M1030 165h0M1019 177h0M1028 157h0M1027 164h0M1018 177h0M1019 170h0M1021 156h0M1027 164h0M1025 173h0M1010 178h0M1024 175h0M1029 154h0M1016 177h0M1018 158h0M1016 180h0M1017 180h0M1020 160h0M1016 177h0M1025 163h0M1021 178h0M1014 163h0M1018 157h0M1029 154h0M1015 168h0M1020 158h0M1029 166h0M1010 184h0M1014 163h0M1017 175h0M1022 171h0M1015 174h0M1016 176h0M1017 175h0M1032 157h0M1027 153h0M1024 175h0M1010 180h0M1012 182h0M1032 159h0" stroke="#8ab4e4" stroke-opacity="0.85" stroke-width="2.6" stroke-linecap="round" fill="none"/>
<text x="308" y="16.2" font-size="8.6" text-anchor="middle" fill="#222" font-style="italic">DLL3</text>
<text x="369" y="16.2" font-size="8.6" text-anchor="middle" fill="#222" font-style="italic">PDGFRA</text>
<text x="430" y="16.2" font-size="8.6" text-anchor="middle" fill="#222" font-style="italic">CD44</text>
<text x="492" y="16.2" font-size="8.6" text-anchor="middle" fill="#222" font-style="italic">CHI3L1</text>
<text x="374.5" y="123" font-size="7" text-anchor="middle" fill="#222" >Expression</text>
<rect x="357.8" y="125.8" width="33.4" height="5.2" fill="url(#grn)" stroke="#222" stroke-width="0.5"/>
<path d="M360.0 131V129.8M366.4 131V129.8M372.8 131V129.8M379.2 131V129.8M385.6 131V129.8" stroke="#333" stroke-width="0.5"/>
<text x="362.5" y="138.5" font-size="7" text-anchor="middle" fill="#222" >0</text>
<text x="389.5" y="138.5" font-size="7" text-anchor="middle" fill="#222" >Max</text>
<text x="412" y="123.4" font-size="7" text-anchor="start" fill="#222" >RNA velocity</text>
<circle cx="415.5" cy="128" r="2" fill="#a3405a"/>
<circle cx="415.5" cy="136" r="2" fill="#2d4580"/>
<text x="419.2" y="130.7" font-size="7.3" text-anchor="start" fill="#222" >Positive</text>
<text x="419.2" y="138.7" font-size="7.3" text-anchor="start" fill="#222" >Negative</text>
<text x="9.3" y="157" font-size="10.5" font-weight="bold" fill="#111">B</text>
<text x="121.8" y="159" font-size="8.7" text-anchor="middle" fill="#222" >Percent of mitochondrial mutations</text>
<path transform="scale(.5)" d="M365 437h0M365 408h0M372 406h0M399 417h0M246 589h0M368 411h0M381 427h0M349 446h0M369 431h0M381 426h0M345 451h0M234 422h0M349 402h0M353 414h0M358 459h0M275 535h0M368 406h0M322 437h0M392 404h0M374 408h0M369 433h0M393 416h0M370 427h0M353 461h0M362 436h0M349 469h0M368 422h0M374 430h0M389 443h0M340 457h0M370 418h0M384 432h0M246 546h0M378 406h0M373 462h0M365 435h0M392 437h0M271 516h0M246 539h0M383 450h0M351 427h0M225 522h0M275 396h0M370 399h0M391 428h0M358 468h0M404 401h0M355 442h0M167 484h0M349 441h0M364 461h0M382 394h0M398 410h0M339 467h0M373 450h0M362 438h0M370 444h0M397 430h0M273 521h0M348 479h0M382 466h0M379 446h0M342 499h0M373 421h0M257 531h0M395 391h0M385 451h0M254 588h0M324 467h0M372 452h0M338 455h0M358 487h0M321 479h0M355 406h0M328 460h0M334 486h0M373 453h0M248 547h0M385 409h0M394 422h0M365 436h0M377 410h0M353 441h0M368 423h0M366 473h0M376 424h0M370 463h0M362 447h0M373 399h0M388 406h0M341 468h0M375 458h0M375 418h0M282 551h0M250 550h0M406 392h0M365 455h0M359 428h0M356 430h0M364 404h0M348 429h0M390 417h0M355 468h0M375 404h0M393 425h0M241 485h0M369 463h0M388 415h0M363 444h0M326 485h0M334 478h0M377 422h0M351 444h0M343 457h0M393 402h0M367 461h0M330 462h0M394 395h0M338 455h0M260 574h0M343 434h0M388 434h0M288 572h0M371 429h0M365 443h0M332 489h0M341 472h0M332 467h0M395 441h0" stroke="rgb(59,76,160)" stroke-opacity="0.85" stroke-width="7.8" stroke-linecap="round" fill="none"/><path transform="scale(.5)" d="M390 423h0M228 445h0M380 429h0M390 421h0M351 450h0M345 470h0M360 444h0M232 550h0M329 453h0M343 469h0M345 487h0M360 415h0M389 454h0M350 482h0M383 442h0M340 455h0M263 385h0M335 477h0M353 464h0M387 419h0M313 431h0M366 435h0M396 421h0M353 477h0M378 399h0M289 567h0M371 466h0M322 437h0M316 433h0M273 483h0M396 425h0M335 490h0M223 562h0M342 474h0M373 433h0M245 529h0M293 538h0M332 468h0M359 432h0M360 427h0M268 572h0M401 414h0M403 401h0M334 446h0M395 385h0M349 473h0M365 474h0M259 420h0M378 428h0M373 408h0M398 407h0M257 485h0M375 437h0M357 463h0M394 420h0" stroke="rgb(78,90,170)" stroke-opacity="0.85" stroke-width="7.8" stroke-linecap="round" fill="none"/><path transform="scale(.5)" d="M361 424h0M349 435h0M382 431h0M224 568h0M392 441h0M333 468h0M264 493h0M397 411h0M359 436h0M360 471h0M355 419h0M216 510h0M345 452h0M318 540h0M279 554h0M328 471h0M385 393h0M357 409h0M276 465h0M351 418h0M390 401h0M307 547h0M342 480h0M356 436h0M380 424h0M347 423h0M359 429h0M384 438h0M366 399h0M355 432h0M374 390h0M386 429h0M311 421h0M385 386h0M205 473h0M340 449h0M280 536h0M403 409h0M381 444h0M340 400h0M346 434h0M383 413h0M247 579h0M243 556h0M346 435h0M350 444h0M375 406h0M356 468h0M382 434h0M347 437h0M393 433h0M374 458h0M302 448h0M329 484h0M367 463h0M374 414h0M237 578h0M381 424h0M383 439h0M367 467h0M367 472h0M378 422h0M245 578h0M321 412h0M384 441h0M398 415h0M392 427h0M360 460h0M403 406h0M231 577h0M382 410h0M341 466h0M409 420h0" stroke="rgb(98,104,180)" stroke-opacity="0.85" stroke-width="7.8" stroke-linecap="round" fill="none"/><path transform="scale(.5)" d="M280 419h0M316 483h0M363 437h0M282 508h0M376 440h0M346 470h0M330 425h0M237 547h0M356 459h0M387 406h0M247 578h0M256 476h0M225 570h0M220 474h0M369 428h0M353 434h0M262 551h0M215 473h0M232 582h0M397 414h0M387 412h0M296 414h0M287 481h0M348 485h0M282 543h0M345 448h0M379 437h0M375 427h0M313 492h0M351 435h0M341 471h0M341 485h0M388 408h0M401 395h0M364 445h0M237 487h0M255 489h0M367 436h0M319 535h0M253 458h0M316 406h0M294 518h0M379 448h0M389 442h0M323 507h0M359 463h0M236 571h0M377 406h0M358 442h0M370 446h0M360 435h0M371 428h0M364 458h0M220 589h0M278 450h0M337 454h0M392 421h0M360 469h0M338 474h0M398 415h0M371 435h0M358 407h0M351 446h0M199 528h0M221 438h0M367 429h0M362 471h0" stroke="rgb(118,118,190)" stroke-opacity="0.85" stroke-width="7.8" stroke-linecap="round" fill="none"/><path transform="scale(.5)" d="M362 443h0M266 464h0M291 543h0M289 424h0M347 471h0M355 466h0M219 550h0M246 563h0M269 557h0M281 482h0M379 409h0M293 493h0M275 453h0M282 465h0M386 430h0M369 424h0M385 446h0M351 457h0M246 578h0M340 477h0M268 552h0M240 580h0M377 438h0M246 593h0M366 451h0M262 533h0M159 472h0M229 576h0M295 445h0M249 531h0M299 464h0M283 397h0M330 516h0M362 419h0M282 542h0M224 552h0M392 405h0M387 395h0M377 423h0M337 469h0M383 415h0M341 452h0M248 441h0M210 460h0M386 410h0M342 424h0M282 524h0M269 549h0M302 523h0M332 447h0M361 437h0M256 401h0M232 514h0M383 413h0M382 456h0M234 416h0M222 507h0M286 414h0M239 574h0M190 436h0M325 465h0M361 477h0M301 512h0M380 434h0M174 472h0M364 396h0M260 344h0M283 551h0M200 362h0M357 417h0" stroke="rgb(138,132,200)" stroke-opacity="0.85" stroke-width="7.8" stroke-linecap="round" fill="none"/><path transform="scale(.5)" d="M379 444h0M252 453h0M266 432h0M218 574h0M292 536h0M334 499h0M320 443h0M187 513h0M197 493h0M317 540h0M373 432h0M249 527h0M240 456h0M394 447h0M215 506h0M331 481h0M327 484h0M263 448h0M256 422h0M400 399h0M341 504h0M297 552h0M357 453h0M384 411h0M234 439h0M217 548h0M222 560h0M271 512h0M163 395h0M310 496h0M273 472h0M244 538h0M256 526h0M376 439h0M199 465h0M307 483h0M323 439h0M372 461h0M265 465h0M237 405h0M379 422h0M250 556h0M380 410h0M325 474h0M281 386h0M211 476h0M238 558h0M351 428h0M377 437h0M333 455h0M171 475h0M270 567h0M219 364h0M384 441h0M311 487h0M367 406h0M344 464h0M366 426h0M284 426h0M273 388h0M189 493h0M395 404h0M277 515h0M343 477h0M377 401h0M195 408h0M244 538h0M241 579h0M367 467h0M355 421h0M304 525h0M362 426h0M337 450h0M287 468h0M255 569h0" stroke="rgb(160,155,210)" stroke-opacity="0.85" stroke-width="7.8" stroke-linecap="round" fill="none"/><path transform="scale(.5)" d="M192 519h0M259 503h0M279 517h0M173 463h0M318 540h0M374 405h0M250 563h0M351 392h0M262 450h0M281 459h0M354 437h0M273 514h0M290 465h0M347 473h0M384 406h0M304 546h0M216 580h0M284 468h0M368 413h0M236 569h0M278 547h0M240 421h0M191 465h0M386 421h0M244 564h0M203 532h0M382 400h0M230 560h0M406 410h0M253 510h0M193 356h0M130 466h0M268 407h0M367 471h0M266 417h0M334 461h0M383 446h0M272 549h0M275 480h0M342 481h0M231 488h0M299 497h0M244 492h0M265 529h0M223 355h0M317 434h0M300 511h0M201 423h0M185 429h0M363 441h0M221 455h0M206 344h0M246 586h0M305 543h0M231 554h0M262 499h0M305 507h0M325 428h0M280 356h0M288 556h0M263 455h0" stroke="rgb(183,178,220)" stroke-opacity="0.85" stroke-width="7.8" stroke-linecap="round" fill="none"/><path transform="scale(.5)" d="M313 524h0M219 406h0M257 497h0M270 523h0M172 451h0M153 361h0M284 400h0M295 449h0M398 418h0M272 541h0M238 358h0M238 406h0M234 539h0M337 421h0M305 534h0M163 446h0M266 453h0M286 434h0M280 496h0M205 476h0M248 586h0M190 447h0M201 375h0M231 522h0M252 421h0M286 505h0M188 458h0M286 547h0M220 517h0M202 506h0M271 555h0M247 538h0M385 451h0M230 559h0M151 399h0M136 409h0M143 380h0M275 567h0M236 576h0M228 398h0M222 370h0M329 457h0M375 406h0M152 379h0M198 498h0M240 501h0M286 523h0M265 432h0M309 428h0M230 549h0M282 550h0M247 535h0M197 419h0M226 460h0M268 462h0M183 360h0M342 435h0M303 503h0M262 380h0M254 477h0M153 386h0M258 391h0M156 364h0M232 423h0M145 376h0" stroke="rgb(205,201,230)" stroke-opacity="0.85" stroke-width="7.8" stroke-linecap="round" fill="none"/><path transform="scale(.5)" d="M202 362h0M314 496h0M222 439h0M254 561h0M377 395h0M197 443h0M243 498h0M290 562h0M230 401h0M353 434h0M341 491h0M252 496h0M227 546h0M278 468h0M284 434h0M197 424h0M268 535h0M245 439h0M157 465h0M212 368h0M152 366h0M252 440h0M249 448h0M260 541h0M182 361h0M181 483h0M287 497h0M236 592h0M276 564h0M186 414h0M221 466h0M296 446h0M381 406h0M303 405h0M291 556h0M256 508h0M307 426h0M242 393h0M227 564h0M166 375h0M345 463h0M203 424h0M271 390h0M170 455h0M131 505h0M258 465h0M206 344h0M223 402h0M220 565h0M222 490h0M357 470h0M180 370h0M255 439h0M269 403h0M275 403h0M246 588h0M371 411h0M365 423h0M239 436h0M304 584h0M292 472h0M187 412h0M245 424h0M236 436h0M151 402h0" stroke="rgb(228,224,240)" stroke-opacity="0.85" stroke-width="7.8" stroke-linecap="round" fill="none"/><path transform="scale(.5)" d="M238 494h0M187 359h0M304 419h0M176 392h0M408 408h0M262 585h0M234 373h0M271 409h0M238 575h0M249 398h0M366 421h0M241 387h0M392 407h0M171 485h0M223 411h0M243 397h0M200 494h0M245 498h0M168 365h0M194 413h0M180 348h0M231 552h0M279 429h0M198 430h0M204 492h0M266 579h0M277 480h0M181 447h0M300 370h0M246 406h0M173 410h0M288 489h0M203 373h0M205 455h0M250 466h0M280 416h0M302 405h0M277 506h0M354 480h0M139 383h0M139 435h0M246 475h0M85 473h0M314 528h0" stroke="rgb(243,239,245)" stroke-opacity="0.85" stroke-width="7.8" stroke-linecap="round" fill="none"/><path transform="scale(.5)" d="M259 458h0M273 578h0M244 544h0M241 503h0M165 441h0M153 376h0M297 412h0M193 448h0M195 464h0M133 395h0M214 368h0M306 492h0M275 389h0M288 394h0M202 357h0M285 505h0M198 424h0M307 458h0M178 462h0M220 566h0M266 455h0M184 442h0M320 380h0M168 351h0M239 388h0M162 410h0M205 366h0M295 509h0M190 361h0M192 423h0M178 434h0M135 406h0M259 562h0M250 441h0M289 409h0M148 464h0M117 444h0M300 414h0M148 431h0M213 372h0" stroke="rgb(250,236,231)" stroke-opacity="0.85" stroke-width="7.8" stroke-linecap="round" fill="none"/><path transform="scale(.5)" d="M218 485h0M224 382h0M191 415h0M233 421h0M150 398h0M212 368h0M166 375h0M164 477h0M141 430h0M147 391h0M219 519h0M234 589h0M275 447h0M262 571h0M252 396h0M380 408h0M151 371h0M167 405h0M191 385h0M203 420h0M195 413h0M209 414h0M261 445h0M231 374h0M164 447h0M204 406h0M147 363h0M277 415h0M150 376h0M210 399h0M223 439h0M199 406h0M232 564h0M162 415h0M144 411h0M210 366h0M306 548h0" stroke="rgb(247,207,190)" stroke-opacity="0.85" stroke-width="7.8" stroke-linecap="round" fill="none"/><path transform="scale(.5)" d="M253 410h0M192 368h0M166 399h0M226 416h0M163 377h0M238 588h0M206 465h0M245 388h0M181 400h0M233 417h0M188 369h0M189 428h0M234 437h0M154 442h0M147 376h0M231 510h0M221 386h0M232 385h0M194 381h0M165 433h0M227 357h0M153 369h0M194 366h0M197 374h0M175 391h0M230 424h0M196 357h0M254 421h0M246 564h0M216 403h0M194 377h0M154 449h0M190 442h0M145 373h0M316 408h0" stroke="rgb(245,178,150)" stroke-opacity="0.85" stroke-width="7.8" stroke-linecap="round" fill="none"/><path transform="scale(.5)" d="M262 437h0M214 412h0M201 389h0M176 392h0M219 425h0M181 434h0M197 396h0M228 424h0M200 420h0M172 416h0M159 377h0M221 418h0M219 407h0M178 390h0M208 404h0M196 437h0M219 405h0M305 459h0M175 409h0M241 491h0M184 356h0" stroke="rgb(240,155,127)" stroke-opacity="0.85" stroke-width="7.8" stroke-linecap="round" fill="none"/><path transform="scale(.5)" d="M153 377h0M187 398h0M157 378h0M221 384h0M236 364h0M161 385h0" stroke="rgb(236,133,105)" stroke-opacity="0.85" stroke-width="7.8" stroke-linecap="round" fill="none"/><path transform="scale(.5)" d="M206 377h0M264 586h0M159 431h0M214 411h0M204 414h0M224 406h0M145 380h0M238 412h0M170 398h0" stroke="rgb(232,110,82)" stroke-opacity="0.85" stroke-width="7.8" stroke-linecap="round" fill="none"/><path transform="scale(.5)" d="M181 366h0M190 400h0M148 393h0M146 386h0M178 379h0M183 409h0" stroke="rgb(228,88,60)" stroke-opacity="0.85" stroke-width="7.8" stroke-linecap="round" fill="none"/><path transform="scale(.5)" d="M268 398h0M226 403h0M189 413h0" stroke="rgb(220,58,45)" stroke-opacity="0.85" stroke-width="7.8" stroke-linecap="round" fill="none"/><path transform="scale(.5)" d="M196 403h0M206 391h0" stroke="rgb(212,28,30)" stroke-opacity="0.85" stroke-width="7.8" stroke-linecap="round" fill="none"/>
<path d="M33.7 167V304.7H209.2" stroke="#6a6a6a" stroke-width="1.25" fill="none"/>
<path d="M30.8 170.6H33.7" stroke="#6a6a6a" stroke-width="1"/>
<text x="29.3" y="173.6" font-size="8.6" text-anchor="end" fill="#333" >10</text>
<path d="M30.8 197.9H33.7" stroke="#6a6a6a" stroke-width="1"/>
<text x="29.3" y="200.9" font-size="8.6" text-anchor="end" fill="#333" >5</text>
<path d="M30.8 225.2H33.7" stroke="#6a6a6a" stroke-width="1"/>
<text x="29.3" y="228.2" font-size="8.6" text-anchor="end" fill="#333" >0</text>
<path d="M30.8 252.6H33.7" stroke="#6a6a6a" stroke-width="1"/>
<text x="29.3" y="255.6" font-size="8.6" text-anchor="end" fill="#333" >−5</text>
<path d="M30.8 280H33.7" stroke="#6a6a6a" stroke-width="1"/>
<text x="29.3" y="283" font-size="8.6" text-anchor="end" fill="#333" >−10</text>
<path d="M67.3 304.5V307.4" stroke="#6a6a6a" stroke-width="1"/>
<text x="67.3" y="317.8" font-size="8.6" text-anchor="middle" fill="#333" >−20</text>
<path d="M111.5 304.5V307.4" stroke="#6a6a6a" stroke-width="1"/>
<text x="111.5" y="317.8" font-size="8.6" text-anchor="middle" fill="#333" >−10</text>
<path d="M155.7 304.5V307.4" stroke="#6a6a6a" stroke-width="1"/>
<text x="155.7" y="317.8" font-size="8.6" text-anchor="middle" fill="#333" >0</text>
<path d="M199.9 304.5V307.4" stroke="#6a6a6a" stroke-width="1"/>
<text x="199.9" y="317.8" font-size="8.6" text-anchor="middle" fill="#333" >10</text>
<text x="121.6" y="330.6" font-size="8.7" text-anchor="middle" fill="#333" >PCA1</text>
<text transform="translate(8.2 235.5) rotate(-90)" font-size="8.6" text-anchor="middle" fill="#333">PCA2</text>
<rect x="214.3" y="195.8" width="15.2" height="75.2" fill="url(#rdbu)"/>
<path d="M214.3 202.7H217M226.8 202.7H229.5" stroke="#fff" stroke-width="0.6"/>
<text x="231.5" y="205.6" font-size="7.6" text-anchor="start" fill="#333" >80%</text>
<path d="M214.3 220H217M226.8 220H229.5" stroke="#fff" stroke-width="0.6"/>
<text x="231.5" y="222.9" font-size="7.6" text-anchor="start" fill="#333" >60%</text>
<path d="M214.3 237.3H217M226.8 237.3H229.5" stroke="#fff" stroke-width="0.6"/>
<text x="231.5" y="240.20000000000002" font-size="7.6" text-anchor="start" fill="#333" >40%</text>
<path d="M214.3 254H217M226.8 254H229.5" stroke="#fff" stroke-width="0.6"/>
<text x="231.5" y="256.9" font-size="7.6" text-anchor="start" fill="#333" >20%</text>
<path d="M214.3 270.6H217M226.8 270.6H229.5" stroke="#fff" stroke-width="0.6"/>
<text x="231.5" y="273.5" font-size="7.6" text-anchor="start" fill="#333" >0%</text>
<text x="268.6" y="157.3" font-size="10.5" font-weight="bold" fill="#111">C</text>
<path d="M316 162V304.2H495.4" stroke="#333" stroke-width="0.9" fill="none"/>
<path d="M313.3 297.3H316" stroke="#333" stroke-width="0.8"/>
<text x="309.5" y="300.3" font-size="8.6" text-anchor="end" fill="#333" >0.00</text>
<path d="M313.3 259.8H316" stroke="#333" stroke-width="0.8"/>
<text x="309.5" y="262.8" font-size="8.6" text-anchor="end" fill="#333" >0.25</text>
<path d="M313.3 222.3H316" stroke="#333" stroke-width="0.8"/>
<text x="309.5" y="225.3" font-size="8.6" text-anchor="end" fill="#333" >0.50</text>
<path d="M313.3 184.8H316" stroke="#333" stroke-width="0.8"/>
<text x="309.5" y="187.8" font-size="8.6" text-anchor="end" fill="#333" >0.75</text>
<path d="M365.3 304.2V307M447.1 304.2V307" stroke="#333" stroke-width="0.8"/>
<text x="365.3" y="313.6" font-size="8.7" text-anchor="middle" fill="#222" >Proneural</text>
<text x="447.2" y="313.6" font-size="8.7" text-anchor="middle" fill="#222" >Mesenchymal</text>
<text transform="translate(276.3 232.2) rotate(-90)" font-size="8.7" text-anchor="middle" fill="#222">Percent of mitochondrial</text>
<text transform="translate(286.3 233.4) rotate(-90)" font-size="8.7" text-anchor="middle" fill="#222">mutations in sample</text>
<path d="M365.3 174V222.2M365.3 254.6V297.3" stroke="#333" stroke-width="0.9"/>
<rect x="334.3" y="222.2" width="61.8" height="32.4" fill="#f3776d" stroke="#333" stroke-width="0.9"/>
<path d="M334.3 243.3H396.1" stroke="#4a2222" stroke-width="1.5"/>
<circle cx="365.3" cy="168.4" r="1.2" fill="#111"/>
<path d="M447.1 233.4V254.6M447.1 276V297.3" stroke="#333" stroke-width="0.9"/>
<rect x="416.5" y="254.6" width="61.3" height="21.4" fill="#1ebdc4" stroke="#333" stroke-width="0.9"/>
<path d="M416.5 265.2H477.8" stroke="#0f4a4e" stroke-width="1.5"/>
<circle cx="447.1" cy="190" r="1.2" fill="#111"/>
<circle cx="447.1" cy="200.8" r="1.2" fill="#111"/>
<circle cx="447.1" cy="211.2" r="1.2" fill="#111"/>
<circle cx="447.1" cy="215.8" r="1.2" fill="#111"/>
<circle cx="447.1" cy="222.2" r="1.2" fill="#111"/>
<path d="M365.3 165.5V162.3H446.6V165.8" stroke="#444" stroke-width="0.8" fill="none"/>
<text x="406" y="161" font-size="8.8" text-anchor="middle" fill="#111" >***</text>
<text x="9" y="338.5" font-size="10.5" font-weight="bold" fill="#111">D</text>
<path transform="scale(.5)" d="M120 815h0M169 885h0M120 863h0M204 868h0M155 795h0M145 776h0M30 734h0M176 848h0M84 751h0M316 732h0M299 868h0M211 832h0M24 778h0M156 828h0M149 790h0M159 877h0M133 862h0M278 871h0M149 776h0M120 789h0M131 696h0M270 770h0M121 703h0M284 835h0M319 710h0M231 752h0M27 766h0M23 732h0M146 819h0M267 745h0M167 814h0M223 883h0M84 711h0M232 698h0M251 846h0M160 708h0M229 721h0M61 726h0M275 891h0M28 730h0M92 767h0M105 813h0M237 812h0M251 851h0M71 715h0M73 804h0M195 702h0M242 833h0M319 837h0M177 727h0M119 716h0M183 753h0M316 772h0M251 825h0M287 883h0M218 805h0M247 839h0M209 735h0M320 833h0M206 792h0M275 705h0M227 901h0M54 718h0M149 837h0M258 868h0M98 760h0M262 863h0M62 742h0M312 752h0M204 757h0M218 832h0M234 868h0M224 764h0M201 895h0M68 771h0M240 801h0M100 759h0M204 700h0M272 862h0M155 756h0M272 819h0M181 753h0M134 766h0M216 731h0M213 776h0M224 719h0M230 738h0M64 733h0M71 764h0M167 722h0M330 821h0M185 786h0M223 783h0M136 817h0M317 775h0M183 710h0M273 698h0M227 736h0M219 892h0M286 753h0M144 748h0M264 809h0M44 718h0M123 815h0M210 838h0M284 775h0M135 802h0M274 762h0M132 841h0M187 731h0M252 730h0M155 796h0M318 849h0M275 828h0M125 731h0M299 852h0M215 861h0M292 889h0M52 723h0M126 813h0M135 837h0M74 792h0M270 871h0M201 733h0M262 837h0M201 719h0M112 820h0M113 804h0M138 820h0M310 813h0M182 711h0M64 816h0M129 755h0M169 862h0M341 793h0M191 886h0M321 792h0M63 797h0M290 797h0M185 801h0M135 766h0M249 729h0M244 711h0M255 800h0M194 837h0M224 820h0M236 758h0M296 742h0M127 821h0M149 693h0M120 716h0M276 840h0M260 877h0M195 818h0M290 756h0M137 856h0M233 782h0M134 804h0M43 786h0M339 785h0M253 834h0M45 795h0M222 903h0M279 819h0M130 852h0M299 858h0M256 699h0M307 707h0M239 736h0M147 759h0M68 727h0M48 752h0M331 716h0M155 779h0M303 784h0M294 882h0M305 773h0M247 889h0M135 836h0M119 740h0M249 901h0M126 825h0M235 765h0M191 743h0M265 698h0M253 882h0M83 816h0M139 830h0M179 779h0M225 879h0M256 734h0M249 869h0M108 847h0M149 801h0M141 874h0M304 796h0M219 773h0M139 824h0M167 879h0M348 768h0M185 788h0M121 713h0M36 727h0M129 700h0M329 714h0M186 799h0M145 793h0M138 755h0M160 836h0M189 784h0M166 713h0M90 831h0M247 852h0M146 721h0M274 753h0M86 726h0M312 741h0M316 800h0M273 714h0M102 823h0M71 727h0M177 834h0M230 784h0M304 729h0M228 836h0M236 734h0M22 728h0M104 763h0M30 770h0M286 698h0M111 766h0M76 724h0M178 776h0M64 737h0M61 796h0M203 715h0M348 767h0M198 861h0M26 774h0M329 803h0M216 872h0M112 788h0M89 780h0M243 865h0M153 878h0M134 845h0M70 726h0M117 757h0M199 705h0M161 770h0M267 771h0M175 819h0M54 783h0M238 759h0M147 770h0M231 723h0M218 868h0M345 774h0M108 763h0M322 763h0M295 869h0M270 840h0M207 883h0M121 864h0M65 763h0M217 707h0M292 784h0M252 793h0M341 768h0M193 787h0M77 713h0M53 805h0M126 760h0M289 803h0M84 738h0M228 892h0M236 895h0M191 793h0M311 798h0M131 844h0M185 747h0M73 822h0M221 789h0M248 794h0M157 815h0M274 727h0M277 878h0M102 755h0M278 749h0M104 851h0M90 707h0M89 715h0M263 834h0M283 731h0M186 870h0M102 750h0M335 758h0M287 755h0M57 787h0M277 710h0M246 847h0M231 871h0M290 723h0M56 744h0M274 750h0M252 887h0M116 722h0M54 794h0M160 700h0M257 793h0M222 747h0M327 790h0M308 713h0M254 825h0M224 749h0M218 698h0M79 756h0M236 781h0M311 857h0M297 840h0M137 806h0M214 718h0M251 811h0M206 886h0M240 859h0M171 784h0M261 789h0M166 817h0M159 778h0M345 770h0M67 745h0M189 703h0M284 809h0M286 823h0M200 834h0M62 759h0M320 723h0M311 818h0M250 722h0M312 843h0M149 726h0M332 821h0M176 794h0M260 839h0M226 726h0M268 818h0M51 777h0M97 799h0M279 705h0M51 797h0M345 756h0M257 693h0M89 736h0M146 791h0M93 832h0M216 741h0M280 731h0M89 815h0M291 796h0M128 798h0M159 844h0M218 873h0M303 784h0M254 741h0M310 720h0M184 808h0M239 748h0M141 735h0M27 773h0M123 850h0M259 846h0M106 741h0M204 757h0M149 767h0M28 763h0M292 813h0M144 723h0M126 866h0M315 820h0M285 802h0M268 701h0M328 785h0M57 733h0M180 809h0M302 825h0M202 840h0M305 802h0M108 808h0M274 707h0M294 721h0M225 727h0M203 881h0M131 843h0M120 753h0M118 816h0M244 771h0M236 874h0M65 749h0M262 871h0M179 756h0M257 876h0M301 813h0M148 853h0M262 769h0M141 766h0M265 794h0M150 860h0M78 792h0M115 707h0M86 834h0M201 711h0M41 759h0M284 728h0M114 724h0M72 797h0M171 690h0M203 764h0M189 831h0M153 816h0M338 771h0M218 787h0M114 705h0M197 692h0M184 706h0M161 729h0M66 761h0M143 862h0M57 722h0M131 707h0M85 803h0M301 839h0M283 809h0M346 745h0M81 823h0M242 705h0M112 718h0M135 747h0M305 776h0M140 833h0M130 861h0M219 867h0M261 846h0M107 741h0M281 805h0M261 709h0M312 732h0M250 861h0M151 867h0M129 841h0M256 698h0M162 841h0M82 709h0M235 772h0M212 832h0M146 844h0M138 845h0M137 754h0M322 781h0M179 707h0M114 744h0M35 727h0M245 816h0M174 711h0M120 850h0M145 731h0M143 840h0M305 744h0M330 765h0M240 694h0M134 830h0M294 823h0M96 776h0M57 804h0M267 742h0M299 777h0M84 817h0M334 761h0M140 705h0M222 867h0M177 834h0M165 826h0M338 808h0M245 843h0M258 716h0M318 732h0M307 735h0M157 825h0M202 767h0M149 815h0M263 730h0M143 710h0M123 779h0M92 714h0M133 841h0M83 753h0M253 825h0M98 754h0M188 782h0M169 715h0M159 880h0M202 701h0M110 848h0M76 774h0M184 699h0M167 879h0M182 774h0M308 708h0M94 824h0M270 741h0M176 754h0M68 739h0M243 895h0M236 780h0M213 861h0M217 745h0M284 873h0M120 852h0M240 771h0M238 866h0M119 751h0M149 863h0M239 854h0M196 748h0M200 785h0M333 742h0M291 703h0M109 698h0M202 811h0M271 705h0M305 851h0M215 717h0M299 820h0M330 746h0M154 700h0M322 736h0M114 858h0M252 888h0M70 743h0M287 831h0M251 731h0M263 727h0M251 840h0M228 881h0M161 822h0M254 729h0M311 737h0M275 730h0M115 822h0M161 770h0M321 749h0M137 760h0M299 710h0M172 856h0M131 825h0M212 811h0M284 797h0M82 831h0M327 741h0M292 874h0M115 804h0M131 704h0M94 796h0M198 780h0M169 752h0M116 772h0M340 746h0M173 773h0M85 716h0M57 759h0M234 728h0M278 740h0M147 752h0M61 741h0M250 859h0M242 876h0M262 782h0M267 705h0M98 825h0M348 757h0M124 744h0M290 719h0M266 876h0M221 726h0M207 869h0M100 706h0M111 850h0M218 894h0M81 744h0M150 755h0M182 880h0M222 743h0M250 771h0M153 875h0M68 798h0M109 734h0M49 721h0M180 808h0M244 814h0M140 768h0M249 759h0M187 740h0M192 767h0M47 746h0M266 759h0M129 809h0M158 798h0M179 716h0M147 790h0M66 768h0M288 797h0M283 760h0M190 747h0M215 801h0M93 747h0M131 802h0M184 795h0M71 754h0M280 826h0M250 725h0M271 836h0M84 769h0M231 706h0M112 722h0M164 821h0M216 705h0M168 767h0M223 813h0M148 726h0M136 792h0M318 775h0M259 833h0M181 761h0M145 814h0M93 769h0M68 789h0M246 786h0M216 741h0M195 742h0M79 747h0M281 707h0M96 772h0M232 718h0M198 820h0M216 783h0M110 778h0M237 789h0M285 753h0M200 753h0M299 790h0M87 747h0M175 803h0M70 731h0M263 706h0M112 751h0M127 782h0M323 745h0M171 736h0M145 807h0M169 762h0M139 806h0M252 732h0M114 708h0M280 765h0M215 827h0M230 733h0M230 800h0M77 717h0M268 758h0M114 790h0M147 814h0M161 760h0M72 724h0M182 779h0M328 760h0M129 711h0M269 822h0M217 766h0M325 791h0M103 710h0M233 809h0M73 744h0M206 831h0M174 817h0M234 832h0M103 752h0M239 728h0M65 772h0M289 823h0M167 815h0M95 747h0M232 817h0M274 738h0M202 839h0M185 837h0M234 800h0M64 729h0M286 708h0M103 796h0M88 757h0M102 796h0M189 770h0M216 836h0M130 760h0M212 832h0M86 711h0M48 729h0M170 795h0M268 810h0M268 760h0M249 751h0M141 748h0M241 803h0M109 740h0M256 746h0M107 776h0M325 777h0M217 808h0M148 723h0M209 811h0M225 836h0M284 798h0M282 730h0M251 734h0M147 800h0M209 776h0M228 747h0M128 793h0M172 798h0M104 772h0M305 768h0M263 795h0M122 756h0M91 792h0M243 790h0M257 815h0M143 737h0M109 726h0M127 817h0M160 771h0M211 735h0M190 767h0M96 763h0M158 812h0M209 705h0M228 726h0M295 727h0M328 772h0M208 784h0M296 807h0M101 792h0M329 741h0M66 731h0M199 759h0M125 707h0M241 798h0M160 711h0M113 710h0M101 795h0M328 734h0M319 754h0M159 823h0M246 754h0M258 820h0M200 769h0M154 805h0M76 794h0M305 816h0M140 733h0M225 738h0M222 728h0M191 844h0M155 828h0M242 837h0M150 761h0M331 730h0M289 709h0M267 753h0M157 776h0M302 802h0M318 722h0M175 782h0M133 737h0M57 776h0M287 806h0M186 761h0M164 791h0M124 757h0M150 828h0M254 704h0M325 759h0M117 721h0M174 770h0M221 708h0M217 716h0M310 762h0M249 779h0M289 776h0M276 833h0M52 739h0M157 721h0M252 821h0M72 785h0M317 728h0M98 717h0M212 808h0M245 716h0M150 757h0M154 725h0M167 799h0M283 753h0M194 752h0M221 824h0M53 760h0M290 799h0M277 801h0M282 733h0M309 771h0M100 769h0M269 753h0M328 757h0M229 800h0M146 755h0M161 763h0M107 772h0M316 796h0M209 798h0M292 809h0M283 788h0M299 778h0M222 709h0M287 785h0M106 794h0M314 810h0M287 782h0M209 794h0M200 828h0M152 709h0M289 801h0M298 707h0M111 785h0M165 762h0M220 771h0M311 773h0M283 824h0M313 726h0M278 832h0M264 757h0M82 766h0M138 772h0M93 760h0M190 715h0M172 768h0M104 758h0M302 726h0M276 763h0M153 737h0M182 755h0M187 711h0M272 705h0M69 754h0M107 763h0M112 767h0M178 807h0M98 810h0M275 713h0M146 761h0M213 845h0M209 826h0M133 706h0M53 754h0M272 733h0M319 773h0M301 816h0M245 825h0M173 769h0M134 705h0M183 705h0M302 760h0M267 726h0M219 820h0M217 706h0M125 707h0M119 747h0M236 775h0M164 808h0M270 768h0M202 767h0M227 728h0M306 748h0M280 804h0M300 730h0M246 792h0M53 737h0M226 767h0M134 799h0M99 710h0M280 709h0M60 772h0M168 798h0M174 779h0M243 766h0M87 789h0M198 739h0M118 768h0M153 715h0M168 809h0M175 829h0M109 742h0M284 772h0M303 753h0M251 842h0M277 781h0M267 813h0M246 752h0M217 753h0M232 734h0M238 796h0M299 746h0M251 791h0M239 737h0M137 795h0M179 743h0M329 768h0M79 791h0M328 773h0M184 785h0M240 772h0M161 716h0M283 715h0M218 765h0M226 758h0M158 839h0M114 708h0M122 797h0M178 840h0M270 816h0M275 705h0M84 749h0M155 706h0M196 838h0M133 784h0M223 758h0M333 769h0M84 747h0M131 817h0M298 739h0M125 714h0M264 830h0M93 727h0M263 706h0M257 823h0M90 753h0M150 813h0M200 835h0M303 794h0M86 792h0M166 781h0M258 766h0M155 735h0M275 802h0M110 758h0M131 746h0M61 756h0M277 744h0M332 747h0M279 783h0M255 706h0M258 761h0M297 790h0M207 844h0M248 840h0M195 764h0M207 841h0M100 796h0M91 735h0M248 707h0M309 804h0M199 802h0M289 801h0M250 752h0M327 778h0M164 836h0M210 747h0M69 738h0M293 741h0M152 775h0M217 735h0M289 764h0M177 777h0M135 810h0M231 807h0M118 766h0M86 787h0M119 821h0M307 711h0M252 705h0M120 711h0M202 719h0M47 734h0M290 770h0M153 724h0M171 719h0M87 741h0M154 783h0M187 743h0M117 809h0M177 776h0M137 753h0M75 752h0M136 777h0M291 810h0M194 806h0M253 765h0M233 782h0M130 760h0M163 759h0M237 815h0M304 727h0M79 771h0M203 760h0M194 766h0M301 765h0M164 763h0M275 739h0M134 743h0M257 791h0M257 762h0M50 724h0M207 838h0M257 796h0M53 723h0M96 780h0M221 814h0M199 839h0M126 762h0M250 709h0M59 723h0M74 780h0M65 748h0M187 767h0M184 746h0M317 721h0M281 786h0M53 761h0M108 800h0M285 717h0M319 787h0M163 709h0M197 715h0M158 745h0M167 802h0M273 776h0M77 766h0M306 779h0M308 815h0M124 747h0M257 819h0M307 812h0M136 765h0M50 758h0M90 792h0M288 824h0M203 758h0M294 810h0M168 749h0M64 724h0M45 725h0M164 771h0M48 770h0M229 793h0M160 731h0M161 748h0M212 785h0M112 731h0M103 814h0M178 727h0M231 782h0M313 783h0M87 729h0M137 788h0M266 838h0M171 837h0M184 723h0M286 791h0M194 803h0M115 720h0M224 758h0M180 715h0M109 803h0M67 760h0M288 750h0M79 712h0M180 839h0M164 825h0M287 716h0M95 779h0M198 777h0M136 780h0M167 792h0M143 719h0M127 744h0M166 798h0M110 745h0M48 766h0M148 749h0M275 759h0M95 779h0M305 765h0M84 764h0M173 775h0M134 725h0M277 708h0M310 802h0M136 820h0M302 737h0M194 727h0M155 798h0M159 820h0M140 720h0M101 731h0M303 751h0M172 788h0M80 781h0M121 752h0M292 785h0M84 759h0M180 784h0M122 773h0M202 820h0M217 790h0M155 747h0M121 759h0M305 717h0M211 844h0M292 789h0M287 813h0M235 745h0M299 781h0M198 729h0M144 773h0M205 836h0M226 810h0M181 726h0M97 752h0M217 777h0M91 784h0M106 794h0M171 785h0M123 751h0M56 743h0M311 773h0M139 745h0M183 710h0M153 815h0M168 817h0M256 792h0M193 716h0M151 762h0M277 812h0M250 784h0M114 768h0M121 793h0M208 794h0M111 808h0M242 711h0M126 778h0M128 773h0M323 751h0M172 753h0M227 797h0M223 761h0M232 810h0M170 772h0M288 756h0M173 802h0M218 797h0M231 800h0M58 758h0M170 765h0M329 737h0M226 818h0M212 824h0M86 774h0M235 709h0M234 787h0M56 763h0M174 753h0M168 729h0M287 741h0M275 786h0M265 713h0M271 763h0M285 737h0M325 753h0M76 786h0M186 751h0M84 715h0M232 749h0M126 772h0M269 815h0M288 710h0M163 840h0M309 781h0M210 776h0M162 756h0M248 784h0M183 842h0M206 791h0M329 743h0M313 786h0M165 776h0M114 721h0M173 836h0M168 712h0M79 730h0M136 806h0M287 736h0M270 794h0M171 765h0M167 718h0M229 780h0M322 789h0M246 724h0M241 723h0M225 806h0M298 777h0M306 764h0M201 720h0M202 706h0M318 792h0M270 776h0M188 786h0M210 726h0M162 823h0M255 839h0M111 795h0M110 802h0M260 711h0M147 766h0M153 705h0M118 758h0M113 793h0M146 796h0M220 750h0M268 731h0M203 758h0M232 774h0M53 759h0M225 748h0M231 734h0M169 744h0M122 755h0M227 749h0M295 778h0M75 751h0M150 725h0M210 718h0M193 782h0M111 708h0M239 793h0M228 759h0M237 787h0M120 789h0M253 818h0M154 796h0M265 709h0M136 759h0M225 779h0M168 837h0M183 716h0M225 826h0M276 709h0M184 839h0M122 734h0M159 763h0M304 800h0M295 813h0M279 781h0M139 803h0M218 766h0M184 720h0M100 784h0M304 804h0M93 804h0M123 800h0M184 779h0M84 728h0M51 769h0M226 755h0M254 732h0M140 792h0M253 833h0M166 706h0M80 742h0M210 706h0M98 717h0M291 773h0M68 751h0M249 722h0M257 834h0M72 720h0M147 828h0M223 816h0M132 732h0M164 838h0M331 742h0M288 817h0M254 835h0M292 794h0M314 715h0M235 712h0M173 719h0M213 705h0M250 773h0M229 741h0M112 772h0M138 753h0M88 804h0M214 801h0M113 761h0M247 783h0M227 827h0M314 798h0M84 717h0M312 748h0M246 732h0M271 749h0M98 769h0M274 705h0M254 771h0M191 809h0M89 736h0M223 817h0M158 746h0M123 733h0M285 723h0M210 718h0M111 728h0M153 765h0M105 758h0M179 703h0M233 713h0M217 836h0M185 811h0M83 745h0M256 806h0M111 787h0M119 751h0M268 811h0M276 714h0M144 801h0M171 822h0M240 768h0M195 809h0M212 715h0M247 774h0M123 797h0M94 746h0M154 783h0M291 771h0M266 756h0M245 758h0M116 733h0M251 826h0M80 750h0M159 752h0M177 836h0M267 715h0M187 837h0M51 757h0M94 741h0M102 808h0M174 801h0M321 772h0M73 785h0M317 748h0M297 729h0M300 711h0M248 795h0M324 786h0M175 835h0M84 801h0M100 789h0M270 718h0M211 819h0M128 779h0M164 719h0M74 791h0M67 732h0M181 818h0M214 798h0M202 791h0M162 820h0M288 718h0M97 778h0M220 737h0M284 754h0M297 780h0M190 766h0M215 732h0M166 785h0M154 782h0M258 735h0M132 826h0M199 833h0M182 800h0M247 718h0M133 782h0M314 721h0M130 719h0M280 783h0M104 739h0M150 717h0M327 789h0M302 725h0M181 717h0M157 753h0M310 801h0M201 811h0M142 730h0M180 770h0M60 761h0M174 712h0M192 744h0M151 832h0M203 731h0M130 811h0M179 720h0M222 726h0M76 729h0M185 736h0M182 746h0M89 740h0M283 735h0M107 816h0M271 790h0M87 720h0M322 729h0M278 780h0M292 797h0M180 775h0M313 772h0M194 714h0M191 820h0M142 780h0M148 748h0M85 736h0M166 808h0M272 728h0M98 712h0M263 837h0M184 836h0M222 776h0M82 752h0M162 815h0M136 827h0M227 759h0M296 779h0M299 751h0M311 760h0M314 754h0M77 733h0M220 754h0M259 788h0M220 727h0M40 755h0M248 794h0M267 746h0M280 734h0M124 763h0M186 719h0M135 748h0M145 748h0M304 777h0M120 735h0M326 731h0M308 719h0M316 797h0M128 800h0M202 763h0M220 736h0M214 762h0M122 741h0M154 810h0M169 795h0M202 732h0M304 766h0M258 741h0M181 842h0M178 757h0M225 819h0M69 769h0M146 757h0M150 737h0M326 771h0M289 715h0M332 727h0M117 822h0M119 817h0M203 712h0M252 803h0M318 757h0M306 814h0M304 819h0M137 722h0M89 751h0M178 836h0M76 756h0M210 732h0M162 730h0M275 758h0M92 743h0M298 713h0M108 797h0M167 779h0M157 721h0M104 783h0M298 783h0M181 828h0M112 778h0M232 730h0M96 720h0M201 807h0M213 716h0M105 714h0M230 794h0M169 788h0M188 776h0M218 833h0M262 722h0M314 761h0M268 770h0M294 793h0M259 775h0M294 808h0M178 735h0M113 755h0M276 829h0M240 785h0M274 816h0M277 784h0M251 817h0M244 826h0M318 748h0M69 750h0M303 724h0M179 815h0M265 812h0M77 722h0M62 722h0M155 756h0M87 721h0M274 745h0M285 717h0M188 745h0M311 726h0M291 798h0M226 769h0M213 775h0M109 772h0M245 745h0M128 819h0M118 774h0M164 808h0M224 803h0M292 767h0M113 712h0M74 767h0M322 778h0M306 763h0M162 770h0M130 818h0M293 725h0M329 725h0M199 788h0M211 809h0M63 720h0M291 795h0M230 744h0M243 796h0M155 809h0M175 708h0M256 837h0M232 749h0M274 715h0M260 725h0M170 730h0M223 810h0M261 775h0M162 773h0M196 803h0M178 825h0M293 776h0M180 823h0M294 768h0M80 736h0M74 718h0M250 837h0M137 739h0M50 750h0M200 734h0M87 760h0M60 760h0M302 797h0M247 770h0M170 709h0M266 727h0M329 733h0M180 795h0M108 769h0M122 784h0M101 749h0M212 819h0M116 709h0M229 720h0M283 777h0M267 766h0M217 776h0M312 763h0M163 761h0M303 790h0M288 789h0M222 751h0M193 842h0M204 820h0M153 808h0M103 724h0M211 767h0M199 812h0M89 723h0M254 807h0M108 712h0M163 757h0M125 749h0M70 762h0M205 817h0M211 746h0M304 770h0M281 762h0M176 827h0M254 806h0M257 766h0M211 845h0M260 829h0M285 725h0M282 732h0M321 758h0M38 735h0M309 793h0M196 741h0M296 758h0M220 714h0M66 725h0M330 775h0M66 771h0M116 773h0M140 774h0M309 798h0M125 707h0M173 784h0M138 819h0M264 716h0M289 772h0M240 835h0M132 747h0M257 781h0M88 739h0M252 757h0M155 768h0M180 743h0M271 784h0M89 778h0M293 775h0M132 758h0M99 795h0M178 735h0M161 806h0M326 778h0M85 800h0M195 801h0M254 840h0M133 812h0M270 760h0M246 832h0M118 728h0M314 729h0M226 721h0M222 720h0M68 716h0M227 731h0M316 718h0M97 760h0M196 818h0M277 749h0M80 722h0M180 706h0M80 782h0M200 724h0M161 712h0M171 826h0M208 732h0M318 766h0M192 739h0M200 778h0M247 757h0M174 793h0M275 760h0M328 749h0M133 716h0M139 826h0M239 835h0M237 754h0M151 813h0M59 772h0M148 802h0M242 772h0M177 728h0M159 813h0M78 717h0M210 829h0M149 776h0M212 735h0M53 759h0M250 803h0M268 708h0M145 711h0M178 740h0M309 714h0M100 803h0M289 777h0M274 723h0M119 793h0M249 728h0M325 782h0M329 730h0M282 765h0M76 735h0M85 734h0M164 808h0M73 784h0M127 789h0M185 766h0M259 792h0M90 719h0M195 766h0M259 824h0M112 752h0M109 784h0M331 763h0M195 808h0M126 719h0M287 743h0M204 735h0M276 736h0M224 729h0M69 759h0M76 786h0M120 776h0M75 735h0M237 784h0M230 726h0M206 777h0M68 727h0M110 771h0M160 763h0M257 835h0M199 765h0M227 831h0M275 809h0M220 755h0M155 730h0M89 803h0M117 798h0M223 707h0M290 761h0M128 780h0M249 834h0M184 813h0M304 743h0M139 735h0M128 766h0M68 749h0M237 774h0M168 759h0M256 715h0M186 738h0M285 750h0M79 723h0M85 794h0M268 743h0M173 735h0M274 791h0M199 735h0M115 781h0M193 751h0M51 764h0M138 737h0M138 796h0M199 770h0M212 842h0M269 804h0M171 725h0M284 833h0M81 765h0M222 847h0M230 736h0M174 827h0M137 805h0M247 788h0M308 789h0M271 834h0M120 736h0M282 753h0M126 750h0M260 813h0M198 819h0M280 719h0M290 795h0M55 743h0M310 809h0M191 844h0M245 839h0M99 728h0M196 767h0M302 815h0M218 732h0M251 837h0M65 724h0M137 756h0M133 738h0M144 826h0M167 814h0M128 813h0M194 804h0M131 800h0M238 811h0M147 793h0M96 735h0M64 731h0M188 742h0M251 735h0M284 793h0M177 802h0M317 747h0M219 744h0M93 761h0M303 775h0M239 817h0M131 713h0M126 794h0M201 733h0M238 837h0M270 835h0M202 832h0M243 786h0M131 726h0M74 758h0M122 724h0M295 778h0M326 736h0M39 741h0M277 715h0M196 726h0M304 793h0M175 714h0M141 708h0M161 802h0M218 707h0M229 748h0M271 804h0M50 758h0M181 755h0M268 778h0M234 811h0M145 789h0M54 742h0M166 824h0M252 705h0M86 715h0M181 770h0M148 781h0M120 761h0M268 729h0M236 778h0M176 730h0M160 766h0M96 729h0M168 751h0M185 817h0M158 765h0M225 745h0M213 788h0M140 820h0M130 753h0M115 730h0M306 731h0M293 745h0M151 828h0M241 722h0M153 729h0M177 831h0M251 732h0M304 793h0M206 855h0M99 793h0M241 717h0M213 768h0M166 779h0M306 818h0M58 721h0M234 810h0M296 776h0M324 738h0M262 774h0M329 760h0M281 716h0M263 742h0M189 737h0M182 716h0M256 771h0M194 774h0M203 779h0M99 792h0M195 796h0M298 724h0M140 772h0M177 715h0M204 769h0M164 740h0M100 788h0M274 843h0M105 709h0M234 775h0M215 745h0M242 854h0M337 755h0M122 716h0M283 790h0M149 793h0M192 796h0M182 747h0M310 786h0M124 744h0M221 738h0M228 753h0M186 778h0M232 734h0M245 725h0M206 710h0M125 848h0M221 769h0M257 832h0M131 754h0M197 795h0M221 727h0M290 793h0M211 819h0M77 748h0M292 786h0M246 808h0M250 796h0M236 752h0M149 791h0M165 780h0M238 766h0M197 754h0M240 735h0M169 789h0M146 763h0M329 785h0M189 815h0M317 796h0M92 796h0M255 739h0M144 775h0M137 797h0M171 744h0M257 784h0M276 742h0M168 774h0M127 781h0M236 762h0M296 771h0M114 734h0M332 753h0M175 775h0M237 804h0M333 716h0M107 709h0M268 780h0M180 795h0M330 780h0M178 803h0M217 784h0M109 790h0M120 840h0M226 797h0M247 833h0M135 749h0M272 767h0M115 698h0M182 743h0M303 723h0M325 736h0M206 760h0M249 753h0M180 730h0M337 756h0M235 788h0M206 746h0M277 763h0M248 748h0M299 731h0M316 717h0M229 746h0M265 773h0M241 795h0M176 738h0M198 736h0M138 746h0M173 747h0M175 760h0M219 784h0M165 767h0M237 699h0M203 823h0M267 755h0M90 768h0M155 756h0M108 779h0M204 720h0M204 812h0M321 799h0M309 731h0M315 774h0M216 821h0M261 713h0M114 721h0M234 801h0M143 804h0M127 733h0M230 740h0M206 732h0M262 808h0M76 806h0M249 787h0M207 757h0M176 814h0M178 728h0M116 781h0M321 746h0M280 785h0M138 752h0M89 751h0M143 835h0M262 798h0M185 759h0M254 779h0M345 740h0M122 805h0M256 743h0M153 852h0M206 772h0M183 763h0M250 799h0M199 736h0M201 816h0M124 766h0M122 843h0M259 739h0M121 750h0M250 773h0M135 829h0M201 761h0M102 765h0M222 768h0M249 732h0M219 787h0M232 750h0M151 720h0M210 738h0M280 802h0M198 758h0M232 731h0M191 755h0M329 747h0M139 766h0M172 746h0M194 776h0M319 720h0M207 746h0M84 789h0M160 740h0M213 773h0M150 758h0M200 726h0M294 798h0M253 774h0M270 751h0M121 756h0M253 762h0M131 784h0M284 698h0M199 782h0M37 769h0M208 729h0M170 766h0M168 761h0M234 787h0M173 820h0M61 766h0M191 816h0M84 733h0M144 747h0M96 765h0M336 795h0M250 771h0M240 778h0M139 765h0M203 774h0M161 766h0M87 746h0M264 796h0M37 768h0M206 841h0M152 821h0M247 835h0M264 779h0M311 781h0M91 813h0M212 746h0M194 779h0M202 762h0M116 793h0M209 768h0M165 772h0M215 753h0M239 793h0M200 790h0M170 805h0M136 696h0M291 804h0M161 769h0M251 813h0M101 794h0M169 756h0M137 748h0M138 691h0M312 736h0M239 803h0M144 850h0M240 758h0M96 727h0M164 814h0M197 752h0M125 749h0M138 848h0M151 788h0M212 811h0M224 740h0M341 798h0M203 718h0M274 746h0M253 748h0M210 801h0M313 810h0M326 781h0M128 819h0M348 737h0M258 786h0M169 770h0M130 724h0M322 714h0M231 814h0M92 715h0M148 812h0M258 784h0M294 725h0M263 774h0M201 719h0M179 742h0M251 752h0M154 827h0M206 804h0M247 756h0M289 785h0M271 767h0M260 760h0M156 795h0M266 808h0M158 819h0M262 787h0M205 766h0M287 812h0M204 780h0M154 826h0M49 738h0M155 725h0M210 792h0M337 787h0M223 801h0M298 743h0M25 772h0M216 813h0M152 802h0M220 771h0M187 769h0M95 721h0M185 768h0M148 817h0M273 778h0M85 731h0M224 799h0M87 830h0M287 768h0M176 753h0M306 716h0M292 788h0M160 754h0M242 775h0M188 749h0M77 829h0M176 745h0M170 732h0M163 746h0M182 786h0M129 851h0M314 802h0M184 838h0M183 759h0M191 741h0M207 802h0M304 731h0M232 763h0M186 809h0M154 779h0M243 782h0M213 743h0M167 695h0M212 808h0M234 789h0M265 809h0M186 817h0M215 821h0M121 769h0M199 764h0M143 789h0M135 759h0M147 718h0M110 766h0M290 797h0M227 779h0M214 791h0M252 747h0M260 775h0M130 819h0M214 802h0M241 743h0M217 791h0M160 753h0M66 759h0M108 756h0M77 777h0M310 726h0M118 742h0M270 765h0M205 730h0M189 754h0M105 802h0M287 753h0M168 722h0M259 753h0M246 757h0M66 810h0M229 750h0M229 751h0M118 746h0M43 750h0M230 795h0M250 765h0M156 757h0M204 759h0M155 742h0M124 709h0M210 786h0M227 778h0M90 795h0M256 729h0M246 746h0M163 821h0M63 760h0M288 822h0M290 776h0M177 744h0M195 722h0M198 753h0M216 785h0M302 772h0M136 725h0M108 780h0M136 816h0M198 776h0M253 748h0M161 710h0M185 777h0M256 719h0M203 824h0M170 741h0M169 853h0M57 790h0M133 770h0M74 720h0M118 767h0M184 711h0M259 769h0M221 748h0M235 825h0M254 776h0M226 762h0M183 785h0M168 736h0M278 730h0M277 775h0M341 770h0M262 798h0M174 789h0M150 741h0M143 816h0M124 747h0M226 786h0M263 795h0M276 817h0M276 855h0M284 749h0M328 767h0M226 771h0M122 761h0M148 751h0M208 796h0M294 793h0M124 758h0M137 756h0M206 824h0M108 817h0M156 787h0M265 764h0M192 717h0M279 717h0M210 789h0M226 790h0M228 692h0M200 737h0M329 765h0M139 728h0M235 745h0M249 782h0M191 836h0M229 792h0M45 735h0M208 750h0M260 791h0M206 767h0M219 775h0M196 766h0" stroke="#d57464" stroke-opacity="0.85" stroke-width="4.6" stroke-linecap="round" fill="none"/><path d="M64.8 346.2L62.7 346.5M70.2 346.7L68 346.8M76.2 346.8L74 346.7M82 346.5L79.8 346.5M88 346.8L85.8 346.8M93.9 346.4L91.7 346.5M99.2 346.5L97 346.3M104.7 346.5L102.5 346.6M111.4 346.6L109.2 346.7M116.7 345.8L114.5 346.1M122.4 346.8L120.2 346.7M128.2 347.1L126 347M133.8 346.4L131.6 346.3M140 345.9L137.8 346.1M41.9 351.6L37.8 351.3M47.4 351.2L43.7 351.4M53.2 351.2L50.1 351.3M58.4 351.5L55.7 351.1M65 351.7L62.8 351.7M70.2 351.8L68 351.9M76 351.2L73.8 351.2M81.3 351.5L79.1 351.6M87.8 352.1L85.6 351.9M93.6 351.7L91.4 351.7M99.3 351.6L97.1 351.5M105 351.5L102.8 351.4M110.9 351.1L108.7 351.1M117 350.5L114.8 350.8M122.7 351L120.5 350.9M128.3 351.7L126.1 351.7M133.9 351.6L131.8 351.4M140.3 351.2L138.1 351.2M145.9 351L143.7 350.9M151.5 351L149.3 351.1M157.1 351.1L154.9 351.1M162.2 351.8L161 351.7M31 355.7L25.7 355.8M36.8 355.9L32 355.8M42.6 354.8L38.4 355.2M48.1 355.8L44.3 356.1M53.4 356.5L50.1 356.4M58.8 355.9L56 355.9M64.5 356.4L62.2 356.2M70.1 356.2L67.9 356.4M75.8 356.1L73.6 356.1M81.8 356.4L79.6 356.5M88 355.8L85.8 355.8M93.2 356.2L91 355.9M99.3 357L97.2 356.8M105 356.5L102.8 356.3M111.2 356.3L109 356.3M116.5 356.4L114.3 356.2M122.8 356.3L120.6 356.2M128.2 355.8L126 355.7M133.8 355.9L131.6 355.8M140.1 356.1L138 356.2M145.9 356L143.7 356M152.1 356.1L149.9 356M157.3 356.1L155.1 356.2M162.2 356.3L161 356.3M167.9 356.7L166.7 356.7M26.1 360.3L20.6 361M31.6 361L26.2 360.8M36.7 360.7L31.8 360.8M42.6 360.8L38.2 361M47.4 360.8L43.4 361M53.7 361.4L50.3 361.4M58.9 361L55.9 361.1M64.8 360L62.3 360M70.3 361.4L68.1 361.6M76 360.9L73.8 360.9M81.9 361.1L79.7 360.9M87.7 361.3L85.5 361.2M94 361.4L91.8 361.2M98.6 360.8L96.4 360.9M105.4 360.8L103.2 360.9M111 360.6L108.8 360.7M116.9 360.5L114.7 360.5M122.2 360.5L120 360.7M127.8 360.2L125.7 360.4M134.2 360.9L132 360.9M140 361.1L137.8 361.1M145.8 360.5L143.6 360.4M151.3 360.7L149.1 360.7M157.7 360.7L155.5 360.9M162.2 360.7L161 360.7M168.3 360.8L167.1 360.7M174.2 361L173 361M19.6 365.7L14.1 365.5M25.6 365.4L20 365.2M31.6 365.1L26.1 365.7M36.7 366.1L31.7 365.3M42.4 365.8L37.8 365.8M47.9 365.3L43.8 365.5M53.3 365.2L49.7 365.5M58.7 365L55.5 365.3M64.7 366.1L62 365.8M70.5 365.8L68.3 365.6M75.9 365.8L73.7 365.8M81.6 366.2L79.4 366.2M87.5 366L85.3 366.1M93.1 365.9L90.9 365.8M99.5 366L97.3 365.9M104.8 366L102.6 366M110.6 366.1L108.4 365.9M116.2 366.3L114 366.2M122.5 365.2L120.3 365.2M128.7 365.7L126.5 365.6M134.2 365.8L132 365.8M139.9 365.9L137.7 366M145.6 365.5L143.4 365.8M151.4 365.4L149.2 365.3M157.2 365.2L155 365.1M162.8 366.5L161.6 366.5M168 365.6L166.8 365.6M173.8 365.5L172.7 365.7M20.1 371.1L14.5 370.5M25.4 370.5L19.9 370.2M31.4 370.9L25.9 370.1M36.9 370.6L31.7 370.3M42.1 370.9L37.4 370.3M48 371.1L43.7 370.5M53.6 371L49.8 370.4M59 370.9L55.6 370.5M64.8 371.1L61.9 370.7M70.7 370.6L68.2 370.5M76.4 371.2L74.2 371M81.4 370.8L79.3 370.5M88.2 370.7L86 370.7M93.6 370.3L91.4 370.2M99.4 370.2L97.2 370.2M105.2 370.5L103.1 370.2M110.6 370.6L108.4 370.7M117.1 370.5L114.9 370.7M122.4 370.5L120.2 370.4M128.2 370.5L126 370.6M133.7 370.3L131.5 370.4M139.5 370.8L137.3 370.8M145.7 370.5L143.5 370.7M151.7 370.2L149.5 370.3M157.5 371.1L155.3 371M162.2 370.3L161 370.3M168.2 370.6L167 370.7M174.5 370.6L173.3 370.6M19.6 376.2L14.2 374.5M25 377L19.7 375.5M31 376.7L25.6 375.2M37.1 376.8L32 375M42.1 375.5L37.2 374.7M48.2 375.7L43.8 374.8M53.9 375.4L50 374.6M59.6 376.2L56.2 375.1M65.1 376.1L62 375.3M70.9 376.9L68.3 375.8M76.3 375.4L73.9 375.2M81.5 375.4L79.3 375M87.4 376.1L85.3 375.6M93.3 375.8L91.2 375.2M99.3 375.8L97.1 375.6M105.4 375.9L103.2 375.7M111.1 375.3L109 375.2M116.9 375.7L114.7 375.5M122.7 375.4L120.5 375.5M128.5 376.2L126.3 376.2M134.3 375.7L132.1 375.4M140.2 375.2L138 375.2M145.3 374.5L143.1 374.6M151.2 375.7L149 375.6M157.6 375.4L155.4 375.4M162.3 375.3L161.1 375.4M168 375.3L166.8 375.2M173.8 375.7L172.6 375.7M19.3 381.7L14.1 379.5M25.7 381.5L20.5 379.4M30.5 381.9L25.7 379.1M36.4 381.3L31.2 379.2M42.7 381.6L37.9 379.7M48.3 381.8L43.8 380.3M53.8 381.8L49.8 380.1M59.2 380.7L55.4 379.8M65.1 381.2L61.8 380M70.4 381.1L67.2 380.6M76.6 381L73.9 380.4M82.4 381L80.1 380.3M88.1 380.1L86 379.6M93.1 380.3L90.9 379.8M99 380.5L96.8 380.1M105.1 379.8L102.9 379.8M110.5 380.3L108.3 380M116.8 380.1L114.6 380.2M122.1 380.1L119.9 380M128 379.9L125.8 379.8M134.1 380.4L131.9 380.2M140.1 379.8L137.9 380M146.1 380.5L143.9 380.4M151.9 379.8L149.7 379.8M157.5 380L155.3 380.3M162.1 380.6L160.9 380.6M168.4 379.7L167.2 379.8M174 380.3L172.8 380.3M19 387L14.1 384.4M25.2 387L20.5 383.9M30.6 387.3L25.9 384.2M36.7 387L31.8 384.4M43 386L38.2 383.8M48 387L43.6 384.6M53.8 386.4L49.6 384.7M59.6 385.8L55.8 384.3M65 386.1L61.6 384.6M70.9 386L67.8 384.6M76.3 386.5L73.5 385M82.4 385.5L79.7 384.9M87.4 385.5L85.1 384.7M92.6 385.5L90.4 385M99.2 385.1L97 384.8M105.3 385L103.1 384.7M111.1 385L108.9 385M116.5 384.7L114.3 384.7M121.9 384.5L119.7 384.5M128.5 384.8L126.3 384.6M134.6 384.4L132.4 384.5M140 385.4L137.8 385.2M145.7 384.7L143.5 384.7M151.5 384.6L149.3 384.5M157 385L154.8 385.1M162.9 384.5L161.7 384.5M168.2 384.8L167 384.8M174.1 385.4L172.9 385.5M18.6 392.1L14.5 388.3M25.1 392.6L20.7 389.1M31.5 391.4L26.9 388.2M36 392.2L31.6 388.7M42.4 391L37.6 388.2M48 391.4L43.5 388.7M53.7 391L49.5 388.6M59.3 391.3L55.4 389.1M64.9 390.9L61.2 389.2M71.2 391.1L67.8 389.6M76 391L72.9 389.7M82 390.9L79.2 389.5M88 390.7L85.3 389.8M93.4 390.9L90.9 390M99.6 390.4L97.2 390M104.7 390.3L102.5 390M110.9 390.1L108.7 389.9M116.8 389.2L114.6 389.3M122.5 390.3L120.3 390.3M128.6 390.2L126.4 390.1M134.4 389L132.2 389.1M140.6 390L138.4 390.1M145.6 389.8L143.4 389.7M151.7 389.5L149.5 389.5M157.3 389.9L155.1 389.8M162.6 389.3L161.4 389.4M168.5 388.9L167.3 389.1M173.9 389.5L172.7 389.5M18.5 397.1L14.6 393.1M24 397.1L20.2 393M30.5 397.2L26.2 393.6M36.3 397.1L31.9 393.7M42.4 396.8L38 393.4M48.2 397.1L43.8 393.8M53.6 396.6L49.4 393.6M58.8 396.6L55 393.8M65.4 395.9L61.6 393.8M70.5 395.9L66.7 394.3M76.3 396.5L73.2 394.4M82.3 396.2L79.1 394.6M88.1 395.7L85.1 394.6M94.2 395.3L91.4 394.4M99.5 394.3L96.8 393.7M105 395.2L102.5 394.6M110.5 394.5L108 394.4M116.2 394.5L113.9 394.7M122.6 394.6L120.4 394.7M128.6 394L126.3 394.1M133.7 394.2L131.5 394.3M139.6 394.8L137.4 394.6M145.8 394.1L143.6 394.1M152 394.5L149.8 394.5M156.9 394.4L154.7 394.4M162.3 394.2L161.1 394.2M168 394L166.8 394M173.7 394.9L172.5 394.9M24.4 402.4L20.4 398.5M30 402.2L26 398.3M35.8 403L32.1 398.8M42.2 401.9L38.1 398.1M48.1 401.5L43.8 397.9M53.1 401.7L48.8 398.4M59.7 400.6L55.3 398.1M65.3 401.5L61.6 398.6M71 401.4L67.2 399.1M76.7 401L73.1 399M82.5 400.9L79.1 399M88.6 400.3L85.2 399.1M94 400.2L90.7 399.2M99.8 400.5L96.7 399.6M105.4 399.6L102.5 399M111.3 400.2L108.6 399.8M117.1 399.2L114.6 399.2M122.4 399.3L119.9 399.3M128.5 399.3L126.2 399.2M133.8 399.6L131.6 399.7M139.9 399.5L137.7 399.6M145.5 399.1L143.3 399M151.3 399.5L149.1 399.3M157 399.1L154.8 399.2M162.2 399.9L161 399.7M167.8 399.2L166.6 399.1M174.2 399.3L173 399.2M30 407.1L26.6 402.6M35.5 407.6L31.6 403.5M41.2 406.9L37.6 402.7M48.1 406.8L43.8 403.2M53.5 406.9L49.7 402.7M59.3 406.8L54.9 403.6M64.7 406.6L61 403.1M70.7 406.8L67.1 403.7M76.6 405.6L72.6 403.6M82.9 406.2L79.2 404.2M88.4 405.7L84.8 404M94.1 405.2L90.5 404.1M100.1 404.2L96.6 403.8M106 404.1L102.8 403.6M111.3 404.4L108.3 404.1M116.5 403.9L113.7 403.8M122.5 403.3L120 403.7M128.6 403.9L126.3 403.8M134.2 404.3L132 404.2M139.4 403.9L137.2 403.7M146 403.9L143.8 403.9M151.1 404.3L148.9 404.3M157.3 404.5L155.1 404.5M162.5 403.5L161.3 403.5M168.3 404.5L167.1 404.5M36.3 411.3L32.2 407.6M41.8 411.8L37.5 408.2M47.8 410.6L43.6 406.9M53.6 411.1L49.2 407.7M59.3 411.1L54.9 407.6M65.3 411.3L60.7 408.3M71.3 410.5L67 407.8M76.9 410.9L72.8 408.4M82.7 410L78.4 408.2M88.1 410.5L84.2 408.5M94.4 410.1L90.4 408.9M100.5 409.8L96.6 408.8M105.9 409.3L102.2 409M111.1 409.2L107.8 408.6M117.3 409.4L114.4 408.9M122.9 408.3L120.2 408.5M128.9 409L126.5 409.2M134.1 408.7L131.9 408.8M139.3 409.1L137.1 409.1M145.9 408.4L143.7 408.6M151.4 409.4L149.2 409.5M157.3 409.2L155.1 409M162 408.7L160.8 408.7M168 408.8L166.8 408.8M42 416.6L37.9 412.7M47.7 416.2L43.5 412.6M53.3 416.6L48.9 413.1M59.4 416.3L54.9 413M65.6 415.9L60.8 412.9M71.4 416.1L66.7 413.2M76.8 415.4L72.2 412.9M83.2 415.9L78.8 413.6M88.7 415.4L84.3 413.6M94.4 414.9L90.2 413.1M100.3 414.3L96 413.5M106.3 414.3L102.2 413.7M111.3 413.6L107.7 413.4M117.6 414.2L114.4 414.4M123 414.1L120.2 413.9M128.3 413.5L125.8 413.5M134 414.1L131.8 414M139.6 413.8L137.4 413.8M145.7 413.7L143.5 413.9M151.5 413.7L149.3 413.6M157.3 413.5L155.1 413.5M162 413.7L160.8 413.7M168 414L166.8 414M48.2 420.8L43.8 417.5M53.6 420.5L48.8 417.6M59.3 421L55.1 417.4M65.9 421L61.3 417.7M71.8 420.2L66.7 417.8M77.3 420.2L72.4 417.6M82.8 420.5L78 418M88.7 419.3L83.8 417.8M94.7 419.3L89.9 417.7M100.4 418.9L95.7 417.8M106.8 419.2L102.4 418.5M111.6 418.5L107.7 418.4M117.4 418.2L114 418.5M122.8 418.4L119.9 418.4M128.6 418.7L126.1 418.8M134.1 418.5L131.9 418.3M140.1 418.8L137.9 418.8M145.7 417.8L143.5 418.1M151.5 419.1L149.3 418.9M157.1 418.9L154.9 419M162.6 418.6L161.4 418.6M53.8 425.7L49.4 422.2M59.4 425.7L54.8 422.5M65.6 425.3L61.2 421.9M72.1 424.9L67 422.6M77.4 424.8L72.2 422.6M83.4 424.4L78.2 422.2M88.8 424L83.6 422.2M95.2 424.4L89.9 423.1M100.7 424.6L95.6 423.2M106.1 424.2L101.2 423.6M112.1 423.4L108 423.1M117.4 423.5L113.7 423.5M123.1 423.8L120 423.4M128.5 423.4L125.9 423.4M134.3 423.4L132.1 423.6M139.1 423.5L136.9 423.4M145.5 423.2L143.3 423.3M151.3 422.5L149.1 422.5M157.5 422.8L155.3 422.8M162.8 423.6L161.6 423.5M58.9 430.7L54.5 427.3M65.6 429.9L60.6 427.4M71.1 429.9L66.2 427.1M77 430.3L72 427.8M83.1 429.9L78.2 427.1M89.5 429.2L84.3 427.2M95.3 429.4L90 427.5M101.4 428.5L95.9 427.6M106.3 428.8L101.1 427.6M111.8 428.6L107.3 427.7M117.6 428.3L113.7 428.4M123 427.7L119.8 428.1M128.2 427.7L125.6 427.9M134.2 428.1L132 428.1M139.7 428.2L137.5 428.2M145.1 427.7L142.9 427.9M152.1 428.2L149.9 428.1M157.2 427.9L155 427.8M65.6 435.1L60.6 432.6M71.5 435.1L66.7 432.2M77.1 434.3L71.9 432.3M83.2 434.5L78 432.3M89.2 434.5L84.1 432.4M94.6 434.4L89.2 432.7M100.6 433.9L95.2 432.7M106.5 433.7L101.3 432.9M112.1 433L107.4 432.9M117.6 433.3L113.7 432.8M122.9 433.1L119.6 432.8M128.8 433.2L126.1 433.2M133.7 432.9L131.5 433M139.8 433.7L137.6 433.4M145.6 433L143.5 433.1M151.4 432.6L149.2 432.6M158 433.3L155.8 433.4M71.3 439L66.1 436.9M77.4 439.8L72.6 437M83.7 438.9L78.3 437.4M89.3 439.4L84.2 437.3M94.8 439.5L89.5 437.8M100.5 438L95 437.1M106.6 438.5L101.4 437.7M112.1 437.4L107.5 437.2M116.9 437.5L112.9 437.1M123.2 437.4L119.9 437.1M128.2 438.1L125.6 438.1M134.1 438.1L131.9 437.9M139.9 437.9L137.7 437.7M145.6 437.6L143.4 437.6M151.1 437.1L148.9 437.2M83.1 444L77.8 442.1M89 443.9L83.8 441.7M95.1 443L89.6 441.9M100.5 443.1L95.1 441.5M106.7 442.9L101.5 442.7M112.1 442.5L107.5 442.4M117.4 442.7L113.4 442.7M122.7 442.5L119.3 442.4M128.5 442.7L125.8 442.7M134 442.8L131.8 442.7M140.4 441.8L138.2 441.9M146 442.7L143.8 442.9M151.1 442.4L148.9 442.4M95 448.5L89.6 446.9M100.9 448.4L95.4 447.1M106.7 447.9L101.4 447.6M112.4 446.9L107.8 446.8M117.4 447.1L113.4 447.4M123.5 447.5L120.2 447.3M128.5 447.3L125.8 447.2M134.1 446.5L131.9 446.6M140.3 447L138.1 447.1M145.5 447.1L143.3 447M106.6 453L101.3 452.6M112.2 452.6L107.6 452.3M117.5 452.4L113.5 452.1M123.3 452.2L120 452M128.4 451.7L125.8 451.6M133.9 452.1L131.7 452M140.1 452.1L137.9 452.2" stroke="#1a1a1a" stroke-width="0.75" fill="none"/><path d="M60.3 346.8L62.5 345.1L62.8 347.9ZM65.6 346.9L67.9 345.4L68 348.2ZM71.6 346.7L74.1 345.3L74 348.1ZM77.4 346.6L79.7 345.1L79.8 347.9ZM83.4 346.7L85.8 345.4L85.8 348.2ZM89.3 346.7L91.6 345.1L91.8 347.9ZM94.6 346.1L97.1 344.9L96.8 347.7ZM100.1 346.6L102.5 345.2L102.5 348ZM106.8 346.7L109.1 345.3L109.2 348.1ZM112.1 346.4L114.3 344.7L114.7 347.5ZM117.8 346.6L120.3 345.3L120.2 348.1ZM123.6 347L126 345.6L126 348.4ZM129.2 346.2L131.7 344.9L131.6 347.7ZM135.4 346.2L137.7 344.7L137.9 347.5ZM35.4 351.2L37.8 349.9L37.7 352.7ZM41.3 351.6L43.6 350L43.8 352.8ZM47.7 351.4L50 349.9L50.1 352.7ZM53.3 350.7L55.9 349.7L55.5 352.5ZM60.4 351.6L62.8 350.3L62.7 353.1ZM65.6 352L67.9 350.5L68.1 353.3ZM71.4 351.2L73.8 349.8L73.8 352.6ZM76.7 351.7L79.1 350.2L79.2 353ZM83.2 351.7L85.7 350.5L85.5 353.3ZM89 351.8L91.4 350.3L91.5 353.1ZM94.7 351.5L97.2 350.1L97.1 352.9ZM100.4 351.4L102.9 350L102.8 352.8ZM106.3 351.1L108.7 349.7L108.7 352.5ZM112.4 351.1L114.6 349.4L115 352.2ZM118.1 350.8L120.6 349.5L120.4 352.3ZM123.7 351.7L126.1 350.3L126.1 353.1ZM129.4 351.2L131.9 350L131.6 352.8ZM135.7 351.2L138.1 349.8L138.1 352.6ZM141.3 350.8L143.7 349.5L143.6 352.3ZM146.9 351.3L149.2 349.7L149.4 352.5ZM152.5 351.2L154.8 349.7L154.9 352.5ZM159.2 351.6L161.1 350.3L160.9 353.1ZM23.3 355.9L25.7 354.4L25.7 357.2ZM29.6 355.7L32 354.4L32 357.2ZM36 355.5L38.2 353.9L38.5 356.6ZM42 356.3L44.2 354.7L44.5 357.5ZM47.7 356.3L50.2 355L50 357.8ZM53.6 356L56 354.5L56 357.3ZM59.8 355.9L62.4 354.8L62 357.6ZM65.5 356.6L67.8 355L68 357.8ZM71.2 356L73.6 354.7L73.6 357.5ZM77.2 356.6L79.5 355.1L79.6 357.9ZM83.4 355.7L85.9 354.4L85.8 357.2ZM88.7 355.5L91.2 354.5L90.8 357.3ZM94.8 356.7L97.3 355.5L97 358.2ZM100.4 356L102.9 354.9L102.6 357.7ZM106.6 356.3L109 354.9L109 357.7ZM111.9 356L114.4 354.8L114.2 357.6ZM118.2 356.1L120.7 354.8L120.5 357.6ZM123.6 355.7L126 354.3L125.9 357.1ZM129.2 355.7L131.7 354.4L131.6 357.2ZM135.6 356.4L137.9 354.8L138 357.6ZM141.3 356L143.7 354.6L143.7 357.4ZM147.5 355.9L150 354.6L149.9 357.4ZM152.7 356.4L155 354.8L155.2 357.6ZM159.2 356.5L160.9 354.9L161.1 357.7ZM164.9 356.7L166.7 355.3L166.7 358.1ZM18.2 361.3L20.4 359.6L20.7 362.4ZM23.8 360.7L26.3 359.4L26.2 362.2ZM29.4 360.9L31.8 359.4L31.9 362.2ZM35.8 361.1L38.2 359.6L38.3 362.4ZM41 361.1L43.4 359.6L43.5 362.4ZM47.9 361.4L50.3 360L50.3 362.8ZM53.5 361.2L55.9 359.7L56 362.5ZM59.9 360.1L62.3 358.6L62.3 361.4ZM65.7 361.9L68 360.3L68.2 363ZM71.4 360.9L73.8 359.5L73.8 362.3ZM77.3 360.7L79.8 359.5L79.5 362.3ZM83.1 361L85.6 359.8L85.4 362.6ZM89.4 361L92 359.8L91.7 362.6ZM94 360.9L96.4 359.5L96.4 362.3ZM100.8 361.1L103.1 359.5L103.2 362.3ZM106.4 360.7L108.7 359.3L108.8 362.1ZM112.3 360.5L114.7 359.1L114.7 361.9ZM117.6 361L119.8 359.3L120.1 362.1ZM123.3 360.5L125.6 359L125.7 361.8ZM129.6 360.9L131.9 359.5L132 362.3ZM135.4 361L137.8 359.7L137.7 362.5ZM141.2 360.4L143.6 359L143.6 361.8ZM146.7 360.7L149.2 359.3L149.1 362.1ZM153.1 361.1L155.4 359.5L155.6 362.3ZM159.2 360.6L161.1 359.3L161 362.1ZM165.3 360.7L167.2 359.3L167.1 362.1ZM171.2 361.1L172.9 359.6L173 362.4ZM11.7 365.4L14.1 364.1L14 366.9ZM17.6 365.1L20.1 363.8L19.9 366.6ZM23.7 365.9L26 364.3L26.3 367.1ZM29.4 364.9L32 363.9L31.5 366.7ZM35.4 365.8L37.8 364.4L37.8 367.2ZM41.4 365.7L43.7 364.1L43.9 366.9ZM47.3 365.7L49.6 364.1L49.8 366.9ZM53.1 365.6L55.4 363.9L55.7 366.7ZM59.6 365.6L62.1 364.5L61.8 367.2ZM65.9 365.3L68.4 364.2L68.2 367ZM71.3 365.7L73.7 364.4L73.6 367.2ZM77 366.3L79.4 364.8L79.4 367.6ZM82.9 366.2L85.3 364.7L85.4 367.5ZM88.5 365.7L91 364.4L90.9 367.2ZM94.9 365.8L97.3 364.5L97.2 367.3ZM100.2 366L102.6 364.6L102.6 367.4ZM106 365.7L108.5 364.5L108.3 367.3ZM111.6 366.1L114 364.8L113.9 367.6ZM117.9 365.2L120.4 363.8L120.3 366.6ZM124.1 365.6L126.5 364.3L126.5 367ZM129.6 365.8L131.9 364.4L132 367.2ZM135.3 366.1L137.7 364.6L137.8 367.4ZM141 366L143.2 364.4L143.5 367.2ZM146.8 365.3L149.2 363.9L149.2 366.7ZM152.6 365.1L155 363.7L154.9 366.5ZM159.8 366.4L161.7 365.1L161.5 367.9ZM165 365.7L166.8 364.2L166.8 367ZM170.9 366L172.4 364.3L172.9 367ZM12.1 370.2L14.6 369.1L14.3 371.9ZM17.5 370L19.9 368.8L19.8 371.6ZM23.5 369.7L26.1 368.7L25.7 371.5ZM29.3 370.1L31.8 368.9L31.6 371.7ZM35 369.9L37.6 368.9L37.2 371.7ZM41.3 370.1L43.9 369.1L43.5 371.9ZM47.4 369.9L50 369L49.5 371.7ZM53.2 370.2L55.7 369.1L55.4 371.9ZM59.5 370.4L62.1 369.3L61.7 372.1ZM65.8 370.3L68.3 369.1L68.1 371.9ZM71.8 370.8L74.3 369.6L74 372.4ZM76.9 370.2L79.4 369.1L79.1 371.9ZM83.6 370.6L86 369.3L85.9 372.1ZM89 370.2L91.4 368.8L91.3 371.6ZM94.8 370.2L97.2 368.8L97.2 371.6ZM100.7 369.9L103.2 368.8L102.9 371.6ZM106.1 370.9L108.3 369.4L108.6 372.1ZM112.5 370.8L114.8 369.3L115 372ZM117.8 370.3L120.3 369L120.1 371.8ZM123.6 370.7L126 369.2L126.1 372ZM129.1 370.5L131.5 369L131.5 371.8ZM134.9 370.8L137.3 369.4L137.3 372.2ZM141.1 370.8L143.4 369.3L143.6 372.1ZM147.1 370.4L149.4 368.9L149.6 371.7ZM152.9 370.9L155.3 369.6L155.2 372.4ZM159.2 370.4L161 368.9L161.1 371.7ZM165.2 370.8L166.9 369.3L167.1 372.1ZM171.5 370.5L173.3 369.2L173.2 372ZM12 373.8L14.7 373.2L13.8 375.9ZM17.4 374.8L20 374.1L19.3 376.8ZM23.3 374.6L26 373.9L25.3 376.6ZM29.7 374.3L32.4 373.7L31.5 376.4ZM34.9 374.3L37.4 373.3L37 376.1ZM41.4 374.2L44.1 373.4L43.5 376.1ZM47.6 374.1L50.3 373.2L49.7 375.9ZM53.9 374.4L56.6 373.8L55.8 376.5ZM59.6 374.7L62.3 373.9L61.6 376.6ZM66.1 374.9L68.9 374.5L67.8 377.1ZM71.5 375L74 373.8L73.8 376.6ZM77 374.6L79.6 373.6L79.1 376.4ZM82.9 375L85.6 374.2L84.9 376.9ZM88.8 374.7L91.5 373.9L90.8 376.6ZM94.8 375.3L97.3 374.2L97 377ZM100.8 375.6L103.3 374.3L103.1 377.1ZM106.6 375.1L109 373.8L108.9 376.6ZM112.3 375.3L114.8 374.1L114.6 376.9ZM118.1 375.6L120.4 374.1L120.5 376.9ZM123.9 376.2L126.3 374.8L126.3 377.6ZM129.7 375.2L132.3 374.1L132 376.8ZM135.6 375.1L138 373.8L137.9 376.6ZM140.7 374.7L143.1 373.2L143.1 376ZM146.6 375.5L149 374.2L148.9 377ZM153 375.4L155.5 374L155.4 376.8ZM159.3 375.5L161 374L161.2 376.8ZM165 375.2L166.9 373.8L166.8 376.6ZM170.8 375.7L172.5 374.3L172.6 377.1ZM11.9 378.6L14.7 378.2L13.6 380.8ZM18.3 378.4L21 378.1L19.9 380.7ZM23.6 377.9L26.4 377.9L25 380.3ZM29 378.3L31.7 377.9L30.7 380.5ZM35.7 378.8L38.4 378.4L37.4 381ZM41.5 379.5L44.2 378.9L43.3 381.6ZM47.6 379.2L50.4 378.8L49.3 381.4ZM53.1 379.3L55.7 378.5L55.1 381.2ZM59.5 379.3L62.3 378.7L61.3 381.4ZM64.9 380.2L67.5 379.2L67 382ZM71.6 379.8L74.2 379L73.6 381.8ZM77.8 379.7L80.5 379L79.8 381.7ZM83.6 379.2L86.3 378.3L85.7 381ZM88.6 379.4L91.2 378.5L90.7 381.2ZM94.5 379.6L97.1 378.7L96.5 381.4ZM100.5 379.7L102.9 378.4L102.9 381.2ZM106 379.7L108.5 378.6L108.1 381.4ZM112.2 380.3L114.6 378.8L114.7 381.6ZM117.5 379.8L120 378.6L119.8 381.4ZM123.4 379.7L125.9 378.4L125.8 381.2ZM129.5 380L132 378.8L131.8 381.6ZM135.5 380.2L137.8 378.6L138 381.4ZM141.5 380.4L143.9 379L143.8 381.8ZM147.3 379.9L149.6 378.4L149.7 381.2ZM153 380.7L155.1 378.9L155.5 381.7ZM159.1 380.4L161 379.2L160.8 381.9ZM165.4 379.8L167.2 378.4L167.3 381.2ZM171 380.4L172.7 378.9L172.8 381.7ZM12 383.2L14.7 383.1L13.4 385.6ZM18.5 382.6L21.3 382.8L19.8 385.1ZM23.9 382.9L26.7 383.1L25.2 385.4ZM29.7 383.2L32.5 383.1L31.1 385.6ZM36 382.7L38.8 382.5L37.6 385ZM41.5 383.5L44.2 383.4L42.9 385.9ZM47.3 383.9L50.1 383.4L49.1 386ZM53.6 383.4L56.3 383L55.3 385.6ZM59.4 383.6L62.2 383.3L61 385.8ZM65.6 383.6L68.4 383.3L67.2 385.9ZM71.4 384L74.1 383.8L72.9 386.3ZM77.4 384.4L80 383.6L79.4 386.3ZM82.8 383.9L85.5 383.4L84.6 386ZM88.1 384.5L90.7 383.6L90.1 386.4ZM94.6 384.4L97.2 383.4L96.8 386.1ZM100.7 384.3L103.3 383.3L102.9 386.1ZM106.5 384.9L108.9 383.6L108.9 386.4ZM111.9 384.6L114.4 383.3L114.3 386.1ZM117.3 384.4L119.7 383.1L119.7 385.9ZM123.9 384.5L126.3 383.2L126.2 386ZM130 384.7L132.3 383.1L132.5 385.9ZM135.4 384.9L137.9 383.8L137.6 386.5ZM141.1 384.7L143.5 383.3L143.5 386.1ZM146.9 384.4L149.4 383.1L149.2 385.9ZM152.4 385.3L154.8 383.7L154.9 386.5ZM159.9 384.5L161.7 383.1L161.7 385.9ZM165.2 384.9L166.9 383.4L167 386.2ZM171.1 385.6L172.8 384.1L172.9 386.9ZM12.8 386.6L15.5 387.3L13.5 389.3ZM18.8 387.6L21.5 388L19.8 390.2ZM24.9 386.9L27.7 387.1L26.1 389.4ZM29.7 387.2L32.4 387.6L30.7 389.8ZM35.5 387L38.3 387L36.9 389.4ZM41.4 387.5L44.2 387.5L42.8 389.9ZM47.4 387.5L50.2 387.4L48.8 389.9ZM53.4 387.9L56.1 387.9L54.7 390.3ZM59.1 388.2L61.8 387.9L60.6 390.5ZM65.7 388.6L68.4 388.3L67.2 390.9ZM70.7 388.8L73.4 388.4L72.3 391ZM77 388.5L79.8 388.3L78.6 390.8ZM83.1 389L85.8 388.5L84.8 391.1ZM88.7 389.2L91.4 388.7L90.5 391.4ZM94.9 389.5L97.5 388.6L96.9 391.3ZM100.1 389.7L102.7 388.6L102.3 391.4ZM106.3 389.6L108.8 388.5L108.6 391.2ZM112.2 389.4L114.5 387.9L114.6 390.7ZM117.9 390.3L120.3 388.9L120.3 391.7ZM124 390L126.5 388.7L126.3 391.5ZM129.8 389.3L132.1 387.7L132.3 390.5ZM136 390.1L138.3 388.7L138.4 391.5ZM141 389.6L143.5 388.3L143.4 391.1ZM147.1 389.5L149.5 388.1L149.5 390.9ZM152.7 389.8L155.1 388.4L155 391.2ZM159.6 389.5L161.4 388L161.5 390.8ZM165.5 389.3L167.1 387.7L167.5 390.4ZM170.9 389.6L172.6 388.1L172.8 390.9ZM12.9 391.4L15.6 392.1L13.6 394.1ZM18.6 391.3L21.2 392.1L19.2 394ZM24.4 392.1L27.1 392.5L25.3 394.7ZM30 392.2L32.8 392.6L31 394.8ZM36.1 392L38.8 392.3L37.1 394.5ZM41.8 392.4L44.6 392.7L42.9 395ZM47.5 392.2L50.2 392.5L48.6 394.8ZM53.1 392.3L55.8 392.6L54.1 394.9ZM59.5 392.7L62.3 392.6L60.9 395ZM64.5 393.3L67.3 393L66.1 395.6ZM71.2 393.1L74 393.3L72.4 395.6ZM77 393.6L79.8 393.4L78.5 395.9ZM82.8 393.8L85.5 393.3L84.6 396ZM89.1 393.7L91.8 393.1L91 395.8ZM94.5 393.2L97.1 392.3L96.6 395.1ZM100.1 394L102.8 393.2L102.2 395.9ZM105.6 394.3L108.1 393L108 395.8ZM111.5 395L113.7 393.3L114 396.1ZM118 394.9L120.3 393.3L120.5 396.1ZM123.9 394.2L126.3 392.7L126.4 395.5ZM129.1 394.4L131.4 392.9L131.5 395.7ZM135 394.5L137.5 393.3L137.3 396ZM141.2 394.1L143.6 392.7L143.5 395.5ZM147.4 394.5L149.8 393.1L149.8 395.9ZM152.3 394.5L154.7 393L154.8 395.8ZM159.3 394.3L161 392.8L161.1 395.6ZM165 394L166.8 392.6L166.8 395.4ZM170.7 394.9L172.5 393.5L172.5 396.3ZM18.6 396.8L21.3 397.5L19.4 399.5ZM24.3 396.6L27 397.3L25 399.3ZM30.5 397L33.1 397.8L31 399.7ZM36.3 396.5L39 397.1L37.1 399.1ZM41.9 396.4L44.7 396.9L42.9 399ZM46.9 397L49.6 397.3L47.9 399.5ZM53.2 396.9L56 396.9L54.6 399.3ZM59.7 397.1L62.5 397.5L60.8 399.7ZM65.1 397.8L67.9 397.9L66.5 400.2ZM71.1 397.8L73.8 397.8L72.4 400.2ZM77 397.9L79.8 397.8L78.5 400.3ZM83 398.3L85.7 397.8L84.7 400.4ZM88.5 398.5L91.2 397.9L90.3 400.5ZM94.4 398.9L97.1 398.2L96.4 400.9ZM100.1 398.5L102.8 397.6L102.2 400.4ZM106.2 399.5L108.8 398.4L108.4 401.2ZM112.2 399.3L114.6 397.8L114.6 400.6ZM117.5 399.2L120 397.9L119.9 400.7ZM123.8 399.1L126.3 397.8L126.2 400.6ZM129.2 399.8L131.6 398.3L131.7 401.1ZM135.3 399.7L137.7 398.2L137.8 401ZM140.9 398.8L143.4 397.6L143.3 400.4ZM146.8 399.1L149.3 397.9L149 400.7ZM152.4 399.2L154.8 397.8L154.8 400.6ZM159.3 399.5L161.2 398.3L160.8 401.1ZM164.8 399L166.7 397.7L166.5 400.5ZM171.2 399.1L173.1 397.8L172.9 400.6ZM25.2 400.7L27.7 401.8L25.5 403.5ZM29.9 401.8L32.6 402.5L30.6 404.5ZM36 400.9L38.6 401.8L36.5 403.6ZM42 401.7L44.7 402.2L42.9 404.3ZM48.1 401L50.8 401.8L48.7 403.7ZM53 402.2L55.7 402.5L54.1 404.8ZM59.3 401.4L62 402.1L60 404.1ZM65.3 402.1L68 402.6L66.2 404.7ZM70.5 402.6L73.2 402.4L72 404.9ZM77.1 403L79.9 402.9L78.5 405.4ZM82.6 402.9L85.4 402.7L84.2 405.2ZM88.2 403.4L90.9 402.7L90 405.4ZM94.2 403.5L96.7 402.4L96.4 405.2ZM100.4 403.1L103 402.2L102.5 404.9ZM105.9 403.8L108.5 402.7L108.2 405.5ZM111.3 403.7L113.8 402.4L113.6 405.2ZM117.6 404L119.8 402.3L120.2 405ZM123.9 403.6L126.4 402.4L126.2 405.1ZM129.6 404.2L132 402.8L132 405.6ZM134.8 403.5L137.3 402.3L137.1 405.1ZM141.4 403.8L143.8 402.5L143.7 405.3ZM146.5 404.3L148.9 402.9L148.9 405.7ZM152.7 404.4L155.1 403.1L155.1 405.9ZM159.5 403.5L161.3 402.1L161.3 404.9ZM165.3 404.4L167.1 403.1L167.1 405.9ZM30.4 406L33.1 406.5L31.3 408.6ZM35.7 406.6L38.4 407.1L36.6 409.2ZM41.8 405.3L44.6 405.8L42.7 407.9ZM47.3 406.2L50 406.6L48.3 408.8ZM53 406.1L55.7 406.5L54 408.7ZM58.7 407L61.5 407.2L60 409.5ZM64.9 406.6L67.7 406.6L66.2 409ZM70.7 407.1L73.5 407.2L72.1 409.6ZM76.2 407.3L79 406.9L77.9 409.5ZM82.1 407.5L84.8 407.3L83.6 409.8ZM88.1 408.2L90.8 407.6L90 410.2ZM94.3 408.2L97 407.5L96.3 410.2ZM99.8 408.8L102.3 407.6L102.1 410.4ZM105.4 408.2L108.1 407.2L107.5 410ZM112 408.6L114.6 407.5L114.2 410.3ZM117.8 408.7L120.1 407.1L120.3 409.9ZM124.1 409.3L126.5 407.8L126.6 410.6ZM129.5 408.8L131.9 407.4L132 410.2ZM134.7 409L137.1 407.7L137 410.5ZM141.3 408.8L143.6 407.2L143.8 410ZM146.8 409.7L149.2 408.1L149.3 410.9ZM152.7 408.9L155.2 407.6L155 410.4ZM159 408.7L160.8 407.3L160.8 410.1ZM165 408.8L166.8 407.4L166.8 410.2ZM36.1 411.1L38.8 411.7L36.9 413.8ZM41.6 411.1L44.4 411.5L42.6 413.7ZM47 411.6L49.8 412L48 414.2ZM53 411.6L55.7 411.9L54 414.1ZM58.8 411.6L61.6 411.7L60.1 414ZM64.7 411.9L67.5 412L66 414.4ZM70.1 411.7L72.9 411.7L71.6 414.1ZM76.6 412.5L79.4 412.3L78.1 414.8ZM82.1 412.6L84.8 412.3L83.7 414.9ZM88 412.2L90.8 411.9L89.7 414.4ZM93.7 413L96.3 412.1L95.7 414.8ZM99.9 413.4L102.4 412.3L102 415.1ZM105.3 413.2L107.8 412L107.6 414.8ZM112 414.5L114.3 413L114.5 415.8ZM117.8 413.6L120.3 412.5L120.1 415.2ZM123.4 413.5L125.8 412.1L125.8 414.9ZM129.4 413.9L131.9 412.6L131.7 415.4ZM135 413.8L137.5 412.4L137.4 415.2ZM141.1 414L143.4 412.5L143.6 415.3ZM146.9 413.4L149.4 412.2L149.2 415ZM152.7 413.5L155.1 412.1L155.1 414.9ZM159 413.7L160.8 412.3L160.8 415.1ZM165 413.9L166.9 412.6L166.8 415.4ZM41.8 416L44.6 416.4L42.9 418.6ZM46.8 416.3L49.6 416.4L48.1 418.8ZM53.2 415.8L55.9 416.3L54.2 418.4ZM59.4 416.3L62.2 416.6L60.5 418.8ZM64.5 416.8L67.3 416.6L66.1 419.1ZM70.2 416.5L73 416.4L71.7 418.9ZM75.9 417L78.6 416.8L77.4 419.3ZM81.5 417.2L84.2 416.5L83.4 419.2ZM87.7 417L90.4 416.4L89.5 419.1ZM93.3 417.3L96 416.5L95.4 419.2ZM100 418.1L102.6 417.1L102.1 419.9ZM105.3 418.3L107.7 417L107.7 419.8ZM111.6 418.7L113.9 417.1L114.1 419.9ZM117.5 418.5L119.8 417L119.9 419.8ZM123.7 418.8L126 417.4L126.1 420.2ZM129.5 418.2L132 416.9L131.8 419.7ZM135.5 418.9L137.9 417.4L137.9 420.2ZM141.1 418.3L143.3 416.7L143.6 419.5ZM146.9 418.7L149.4 417.5L149.2 420.3ZM152.5 419.1L154.8 417.6L154.9 420.4ZM159.6 418.6L161.4 417.2L161.4 420ZM47.6 420.7L50.3 421.1L48.6 423.3ZM52.8 421.1L55.5 421.3L54 423.6ZM59.3 420.4L62 420.8L60.3 423ZM64.8 421.6L67.6 421.3L66.4 423.9ZM70 421.7L72.8 421.3L71.7 423.9ZM76 421.3L78.8 420.9L77.7 423.5ZM81.3 421.4L84.1 420.9L83.1 423.5ZM87.6 422.5L90.3 421.7L89.6 424.5ZM93.3 422.6L95.9 421.9L95.2 424.6ZM98.8 423.3L101.3 422.2L101 425ZM105.6 422.9L108.1 421.7L107.8 424.5ZM111.3 423.6L113.7 422.1L113.7 424.9ZM117.6 423L120.2 422L119.8 424.8ZM123.5 423.3L125.9 422L125.9 424.8ZM129.7 423.8L132 422.2L132.3 425ZM134.5 423.3L136.9 422L136.8 424.8ZM140.9 423.4L143.2 421.9L143.3 424.7ZM146.7 422.6L149.1 421.1L149.2 423.9ZM152.9 422.8L155.3 421.4L155.3 424.2ZM159.8 423.5L161.6 422.1L161.5 424.9ZM52.5 425.8L55.3 426.2L53.6 428.4ZM58.5 426.3L61.2 426.2L60 428.7ZM64.2 425.9L67 425.9L65.5 428.3ZM69.8 426.7L72.6 426.5L71.4 429ZM76.2 425.9L78.9 425.9L77.5 428.3ZM82 426.3L84.8 425.9L83.8 428.5ZM87.8 426.7L90.5 426.2L89.5 428.8ZM93.5 427.2L96.1 426.2L95.6 429ZM98.8 427.1L101.4 426.3L100.8 429ZM104.9 427.3L107.5 426.4L107 429.1ZM111.3 428.4L113.7 427L113.8 429.8ZM117.4 428.4L119.6 426.7L119.9 429.5ZM123.2 428.2L125.4 426.5L125.7 429.3ZM129.6 428L132 426.7L132 429.5ZM135.1 428.1L137.5 426.8L137.5 429.6ZM140.5 428.1L142.8 426.5L143 429.3ZM147.5 428L149.9 426.7L149.8 429.5ZM152.6 427.8L155.1 426.4L155 429.2ZM58.5 431.5L61.3 431.3L60 433.8ZM64.6 431L67.4 431L66 433.4ZM69.7 431.4L72.5 431L71.4 433.6ZM75.8 431.3L78.6 431L77.5 433.5ZM81.8 431.5L84.6 431.1L83.5 433.7ZM86.9 431.9L89.7 431.3L88.8 434ZM92.8 432.2L95.5 431.3L94.9 434.1ZM98.9 432.6L101.5 431.5L101.1 434.3ZM105 432.9L107.4 431.5L107.4 434.3ZM111.3 432.5L113.9 431.4L113.5 434.2ZM117.2 432.5L119.7 431.4L119.5 434.1ZM123.7 433.2L126.1 431.8L126.2 434.6ZM129.1 433.1L131.4 431.6L131.5 434.4ZM135.2 433.2L137.8 432.1L137.5 434.8ZM141.1 433.2L143.4 431.7L143.5 434.5ZM146.8 432.6L149.2 431.2L149.2 434ZM153.4 433.5L155.8 432L155.9 434.8ZM63.9 435.9L66.7 435.6L65.6 438.1ZM70.5 435.7L73.3 435.8L71.9 438.2ZM76 436.7L78.7 436L77.9 438.7ZM81.9 436.4L84.7 436L83.6 438.6ZM87.2 437L89.9 436.4L89.1 439.1ZM92.6 436.7L95.2 435.7L94.8 438.4ZM99 437.4L101.6 436.3L101.2 439.1ZM105.1 437L107.6 435.8L107.4 438.6ZM110.5 436.9L113 435.7L112.8 438.5ZM117.5 436.9L120.1 435.7L119.8 438.5ZM123.2 438L125.6 436.7L125.5 439.5ZM129.5 437.7L132.1 436.5L131.8 439.3ZM135.3 437.4L137.9 436.3L137.6 439.1ZM141 437.6L143.4 436.2L143.4 439ZM146.5 437.4L148.8 435.8L149 438.6ZM75.6 441.2L78.3 440.7L77.3 443.4ZM81.6 440.8L84.4 440.5L83.3 443ZM87.3 441.5L89.9 440.5L89.4 443.3ZM92.8 440.8L95.5 440.2L94.7 442.9ZM99.1 442.6L101.5 441.3L101.4 444.1ZM105.1 442.4L107.5 441L107.5 443.8ZM111 442.6L113.4 441.3L113.4 444.1ZM116.9 442.4L119.4 441L119.3 443.8ZM123.4 442.7L125.8 441.3L125.8 444.1ZM129.4 442.6L131.9 441.3L131.7 444.1ZM135.8 442L138.2 440.5L138.3 443.3ZM141.4 443L143.7 441.5L143.9 444.3ZM146.5 442.4L148.9 441L148.9 443.8ZM87.3 446.2L90 445.6L89.2 448.3ZM93.1 446.5L95.8 445.7L95.1 448.4ZM99 447.5L101.5 446.2L101.3 449ZM105.4 446.8L107.9 445.4L107.8 448.2ZM111 447.6L113.3 446L113.5 448.8ZM117.8 447.1L120.3 445.9L120.2 448.7ZM123.4 447L125.9 445.8L125.8 448.6ZM129.5 446.7L131.9 445.2L132 448ZM135.7 447.3L138 445.7L138.1 448.5ZM140.9 447L143.3 445.6L143.3 448.4ZM98.9 452.4L101.4 451.2L101.2 454ZM105.3 452.1L107.7 450.9L107.5 453.7ZM111.2 451.9L113.6 450.7L113.4 453.5ZM117.6 451.9L120.1 450.6L120 453.4ZM123.4 451.4L125.8 450.2L125.7 453ZM129.3 452L131.7 450.6L131.7 453.4ZM135.5 452.2L137.9 450.8L137.9 453.6Z" fill="#1c1c1c" stroke="#1c1c1c" stroke-width="0.4" stroke-linecap="round"/>
<path d="M13.9 456H30" stroke="#222" stroke-width="0.9" fill="none" marker-end="url(#ah)"/>
<path d="M13.9 456V441" stroke="#222" stroke-width="0.9" fill="none" marker-end="url(#ah)"/>
<text x="5.8" y="435.4" font-size="8.8" text-anchor="start" fill="#1a1a1a" >PC2</text>
<text x="33.8" y="459.3" font-size="8.8" text-anchor="start" fill="#1a1a1a" >PC1</text>
<text x="171.4" y="441" font-size="7" text-anchor="middle" fill="#111" >Density</text>
<rect x="152" y="443.6" width="38" height="6" fill="url(#vir)" stroke="#222" stroke-width="0.6"/>
<text x="152" y="460.6" font-size="7.2" text-anchor="start" fill="#111" >Low</text>
<text x="183.6" y="460.6" font-size="7.2" text-anchor="start" fill="#111" >High</text>
<text x="212.5" y="354.3" font-size="7.5" text-anchor="middle" fill="#111" >Root</text>
<text x="212.8" y="407.6" font-size="7.5" text-anchor="middle" fill="#111" >Terminal</text>
<path transform="scale(.5)" d="M391 746h0M406 735h0M398 747h0M383 745h0M391 732h0M394 730h0M403 739h0M390 748h0M426 783h0M389 751h0M379 745h0M375 739h0M419 774h0M422 778h0M399 758h0M371 739h0M407 756h0M389 754h0M399 731h0M408 765h0M431 784h0M401 758h0M379 728h0M374 738h0M376 731h0M437 786h0M408 762h0M383 727h0M399 732h0M410 769h0M397 727h0M398 733h0M411 723h0M400 741h0M390 733h0M395 745h0M385 729h0M383 742h0M399 754h0M391 743h0M378 729h0M430 785h0M376 734h0M394 756h0M380 744h0M405 724h0M396 737h0M371 735h0M426 784h0M403 733h0M392 741h0M380 730h0M393 737h0M413 768h0M376 746h0M393 729h0M402 753h0M394 739h0M425 781h0M385 753h0M405 725h0M406 731h0M388 737h0M391 741h0M398 740h0M404 729h0M400 755h0M401 741h0M396 742h0M391 733h0M391 755h0M380 734h0M397 755h0M395 744h0M402 761h0M401 764h0M373 730h0M398 745h0M374 742h0M395 756h0M400 752h0M397 762h0M378 737h0M409 725h0M374 729h0M414 770h0M407 759h0M386 751h0M403 728h0M425 779h0M412 772h0M392 745h0M385 736h0M402 753h0M382 741h0M395 751h0M378 746h0M405 734h0M389 739h0M389 752h0M397 734h0M402 747h0M406 739h0M407 763h0M404 755h0M416 772h0M402 739h0M384 733h0M388 743h0M397 731h0M391 727h0M388 738h0M396 731h0M385 737h0M376 735h0M396 753h0M397 738h0M396 756h0M407 760h0M379 743h0M391 752h0M429 781h0M389 756h0M395 752h0M381 748h0M397 746h0M386 727h0M374 743h0M372 737h0M392 736h0M375 737h0M406 743h0M394 725h0M431 782h0M403 757h0M401 757h0M383 731h0M386 749h0M388 734h0M398 742h0M389 727h0M397 761h0M389 737h0M377 737h0M385 730h0M408 760h0M406 756h0M379 727h0M422 781h0M382 743h0M415 770h0M419 777h0M369 736h0M400 724h0M376 740h0M407 764h0M437 789h0M392 729h0M405 732h0M412 769h0M407 732h0M393 733h0M408 760h0M407 724h0M395 740h0M386 725h0M395 753h0M385 747h0M402 765h0M408 761h0M393 726h0M394 751h0M377 735h0M406 726h0M390 747h0M381 732h0M400 729h0M405 735h0M410 762h0M413 772h0M389 752h0M400 742h0M390 747h0M394 753h0M435 788h0M368 731h0M392 731h0M407 736h0M371 734h0M393 740h0M389 745h0M435 786h0M437 785h0M409 770h0M393 746h0M374 744h0M404 766h0M421 774h0M381 749h0M390 734h0M394 743h0M375 735h0M426 780h0M405 728h0M408 730h0M403 755h0M404 757h0M402 754h0M402 725h0M408 723h0M405 744h0M397 726h0M417 774h0M407 766h0M390 735h0M407 733h0M398 755h0M413 770h0M391 744h0M402 730h0M423 781h0M410 761h0M404 733h0M380 734h0M390 745h0M390 733h0M422 778h0M396 725h0M388 749h0M390 738h0M405 738h0M408 760h0M403 735h0M435 787h0M431 784h0M393 733h0M406 756h0M378 743h0M368 732h0M388 737h0M406 736h0M399 749h0M399 761h0M382 741h0M408 769h0M405 760h0M434 791h0M394 751h0M401 758h0M404 747h0M401 761h0M407 764h0M401 735h0M398 735h0M384 749h0M385 734h0" stroke="#ece04c" stroke-opacity="0.75" stroke-width="2.2" stroke-linecap="round" fill="none"/><path transform="scale(.5)" d="M419 758h0M422 734h0M411 759h0M412 744h0M434 777h0M423 757h0M409 751h0M430 770h0M419 726h0M433 722h0M421 771h0M442 782h0M429 722h0M415 741h0M421 751h0M447 772h0M419 722h0M415 744h0M420 747h0M417 742h0M408 733h0M426 767h0M418 727h0M450 774h0M415 750h0M410 730h0M423 760h0M429 722h0M429 773h0M410 736h0M414 726h0M412 752h0M430 723h0M413 756h0M421 744h0M431 767h0M422 729h0M419 770h0M437 772h0M421 749h0M425 761h0M423 732h0M434 776h0M430 771h0M426 763h0M448 774h0M445 778h0M423 759h0M430 725h0M445 777h0M438 769h0M441 769h0M432 769h0M412 734h0M422 733h0M441 778h0M415 748h0M416 769h0M410 744h0M423 732h0M412 760h0M410 743h0M425 753h0M431 723h0M408 738h0M430 779h0M421 772h0M419 734h0M409 747h0M421 747h0M439 768h0M440 774h0M416 724h0M437 779h0M416 767h0M423 755h0M447 778h0M414 733h0M415 722h0M443 770h0M421 744h0M409 746h0M414 766h0M419 732h0M412 743h0M413 758h0M423 746h0M423 761h0M422 761h0M435 767h0M414 748h0M427 724h0M409 747h0M419 750h0M417 761h0M408 754h0M431 770h0M411 726h0M422 767h0M419 743h0M423 768h0M422 757h0M425 732h0M425 770h0M436 775h0M419 763h0M425 771h0M429 760h0M427 764h0M409 745h0M436 768h0M425 726h0M424 764h0M443 783h0M424 766h0M422 764h0M419 769h0M427 728h0M414 766h0M442 777h0M415 727h0M418 750h0M427 773h0M433 765h0M417 747h0M418 748h0M416 747h0M413 733h0M431 723h0M429 722h0M420 745h0M421 762h0M415 732h0M410 737h0M436 771h0M413 743h0M417 746h0M420 741h0M424 737h0M413 730h0M423 730h0M439 784h0M409 753h0M426 732h0M424 774h0M433 770h0M420 725h0M442 770h0M445 773h0M419 747h0M414 759h0M429 761h0M419 761h0M413 737h0M426 761h0M422 768h0M422 737h0M441 771h0M447 775h0M435 780h0M418 727h0M424 748h0M409 734h0M426 777h0M434 780h0M421 764h0M439 784h0M438 769h0M439 777h0M415 743h0M428 727h0M412 752h0M417 750h0M412 728h0M439 784h0M445 771h0M421 729h0M443 778h0M412 739h0M420 772h0M443 778h0M414 767h0M415 728h0M447 778h0M438 781h0M436 765h0M424 728h0M419 760h0M409 728h0M425 774h0M419 729h0M415 753h0M414 755h0M414 758h0M424 751h0M443 774h0M432 721h0M423 723h0M421 754h0M429 761h0M427 764h0M424 761h0M420 724h0M448 776h0M419 770h0M435 765h0M421 725h0M414 744h0M433 766h0M426 759h0M415 726h0M413 725h0M436 765h0M421 735h0M417 764h0M439 782h0M408 747h0M425 752h0M424 759h0M438 783h0M433 778h0M413 745h0M432 779h0M444 781h0M411 730h0M416 723h0M421 765h0M415 723h0" stroke="#7fcf6a" stroke-opacity="0.75" stroke-width="2.2" stroke-linecap="round" fill="none"/><path transform="scale(.5)" d="M456 772h0M451 725h0M429 734h0M430 729h0M442 763h0M434 762h0M437 728h0M477 730h0M454 723h0M457 721h0M431 749h0M429 745h0M437 727h0M434 729h0M450 764h0M480 737h0M429 752h0M480 725h0M440 722h0M461 720h0M449 761h0M449 760h0M428 737h0M430 731h0M437 744h0M431 756h0M453 766h0M439 755h0M435 742h0M439 753h0M436 733h0M476 723h0M428 748h0M437 755h0M436 721h0M448 765h0M470 721h0M450 721h0M430 753h0M442 768h0M457 725h0M429 734h0M450 760h0M439 752h0M426 733h0M443 766h0M432 736h0M433 747h0M477 724h0M432 725h0M475 732h0M435 736h0M469 724h0M447 764h0M447 725h0M445 764h0M450 759h0M435 745h0M433 756h0M434 761h0M427 741h0M437 751h0M455 761h0M428 755h0M460 724h0M436 722h0M434 758h0M426 738h0M434 753h0M460 723h0M427 748h0M428 748h0M458 770h0M480 724h0M433 725h0M476 726h0M440 752h0M445 731h0M434 730h0M452 763h0M432 727h0M447 723h0M425 746h0M436 760h0M450 767h0M459 761h0M479 729h0M438 738h0M425 750h0M443 758h0M474 727h0M434 753h0M439 738h0M459 767h0M442 764h0M480 725h0M441 764h0M446 731h0M455 723h0M481 727h0M442 753h0M448 722h0M457 765h0M441 768h0M446 767h0M454 763h0M428 747h0M456 771h0M429 733h0M463 726h0M440 740h0M434 756h0M434 741h0M467 720h0M481 726h0M433 756h0M464 722h0M437 755h0M427 754h0M440 767h0M437 763h0M438 761h0M436 730h0M464 723h0M443 765h0M468 723h0M435 750h0M436 729h0M429 734h0M455 768h0M441 726h0M446 755h0M429 753h0M462 726h0M482 727h0M429 749h0M438 726h0M428 738h0M447 722h0M458 724h0M437 742h0M436 755h0M481 730h0M451 766h0M444 764h0M435 747h0M441 766h0M448 760h0M466 721h0M435 736h0M467 760h0M473 722h0M465 720h0M452 720h0M445 769h0M437 729h0M442 765h0M466 721h0M435 743h0M476 725h0M434 726h0M435 743h0M442 729h0M459 726h0M445 767h0M451 762h0M450 765h0M449 722h0M471 727h0M466 723h0M442 725h0M432 751h0M457 761h0M477 730h0M466 726h0M479 728h0M457 766h0M458 720h0M439 767h0M434 754h0M472 724h0M440 722h0M430 730h0M440 750h0M451 772h0M433 755h0M436 756h0M426 734h0M460 768h0M440 737h0M473 727h0M468 721h0M437 731h0M481 729h0M446 722h0M460 766h0M458 768h0M454 764h0M444 757h0M450 765h0M474 731h0M478 735h0M437 747h0M474 727h0M439 761h0M440 739h0M433 760h0M457 761h0M480 736h0M434 745h0M439 743h0M442 762h0M427 753h0M439 731h0M440 726h0M476 725h0M462 766h0M435 753h0M436 753h0M440 758h0M430 728h0M456 724h0M481 728h0M463 726h0M433 749h0M480 736h0M438 731h0M465 722h0M482 725h0M479 733h0M481 730h0M439 742h0M435 722h0M440 723h0" stroke="#2c9c8a" stroke-opacity="0.8" stroke-width="2.2" stroke-linecap="round" fill="none"/><path transform="scale(.5)" d="M470 745h0M452 749h0M457 736h0M443 746h0M461 743h0M446 752h0M469 751h0M466 752h0M455 752h0M452 734h0M446 745h0M456 752h0M446 738h0M473 732h0M447 746h0M473 744h0M460 744h0M473 745h0M451 748h0M479 741h0M454 739h0M441 747h0M469 730h0M453 729h0M448 749h0M475 733h0M454 734h0M444 733h0M455 759h0M451 745h0M463 752h0M471 747h0M472 733h0M466 743h0M445 742h0M452 741h0M466 742h0M459 732h0M442 739h0M454 752h0M472 740h0M461 735h0M451 757h0M462 739h0M469 752h0M452 741h0M471 743h0M473 734h0M447 752h0M455 728h0M465 743h0M477 738h0M460 729h0M472 733h0M445 735h0M471 734h0M450 745h0M455 754h0M462 741h0M470 736h0M465 745h0M443 745h0M470 751h0M451 751h0M456 730h0M449 746h0M456 729h0M441 744h0M476 740h0M442 748h0M442 748h0M473 734h0M446 742h0M467 729h0M448 730h0M467 730h0M467 756h0M450 740h0M451 733h0M462 746h0M449 729h0M449 740h0M474 748h0M445 736h0M455 741h0M457 737h0M451 738h0M467 730h0M453 740h0M459 731h0M470 738h0M466 755h0M474 747h0M467 749h0M445 742h0M449 747h0M473 745h0M452 735h0M476 749h0M471 737h0M448 744h0M469 753h0M466 753h0M446 732h0M474 740h0M467 734h0M444 748h0M452 744h0M467 745h0M464 732h0M468 743h0M458 745h0M450 757h0M475 743h0M476 740h0M455 749h0M475 735h0M475 745h0M454 758h0M452 732h0M450 754h0M465 743h0M472 746h0M466 739h0M466 745h0M462 751h0M467 758h0M453 754h0M446 739h0M460 736h0M470 739h0M451 751h0M462 734h0M477 739h0M457 736h0M445 741h0M474 749h0M474 735h0M472 737h0M452 754h0M458 748h0M448 730h0M460 730h0M445 750h0M456 748h0M463 733h0M458 758h0M459 736h0M450 741h0M447 732h0M447 754h0M456 736h0M464 758h0M450 751h0M451 734h0M473 744h0M463 742h0M472 734h0M455 737h0M448 747h0M445 735h0M461 742h0M448 755h0M442 737h0M457 751h0M451 729h0M471 741h0M464 733h0M458 745h0M456 753h0M458 731h0M456 734h0M443 745h0M453 736h0M461 748h0M462 747h0M462 739h0M467 746h0M472 750h0M460 734h0M470 732h0M445 753h0" stroke="#3a2f86" stroke-opacity="0.9" stroke-width="2.2" stroke-linecap="round" fill="none"/><path transform="scale(.5)" d="M466 751h0M468 745h0M466 734h0M459 732h0M454 751h0M471 743h0M458 754h0M467 736h0M458 733h0M463 739h0M457 744h0M462 734h0M463 735h0M453 737h0M446 743h0M459 749h0M468 741h0M471 747h0M466 737h0M453 751h0M458 738h0M467 753h0M457 738h0M448 739h0M464 743h0M461 736h0M452 742h0M450 742h0M448 742h0M450 736h0M455 753h0M460 741h0M463 748h0M464 749h0M463 753h0M453 739h0M451 739h0M468 735h0M467 743h0M471 748h0" stroke="#2f2a78" stroke-opacity="0.9" stroke-width="2.4" stroke-linecap="round" fill="none"/>
<path transform="scale(.5)" d="M454 867h0M467 844h0M437 870h0M420 874h0M438 844h0M430 864h0M411 866h0M474 827h0M422 862h0M424 875h0M449 878h0M445 882h0M430 879h0M443 874h0M447 884h0M456 875h0M455 863h0M441 827h0M446 869h0M428 882h0M474 838h0M438 881h0M469 857h0M459 847h0M452 829h0M441 856h0M434 875h0M411 872h0M469 855h0M457 847h0M447 864h0M408 869h0M435 850h0M434 887h0M440 849h0M464 824h0M442 830h0M480 830h0M445 854h0M456 830h0M411 866h0M450 864h0M424 882h0M436 879h0M449 850h0M420 871h0M450 874h0M464 864h0M401 867h0M453 875h0M436 891h0M456 851h0M430 877h0M473 829h0M466 840h0M454 859h0M427 858h0M420 857h0M441 876h0M435 865h0M430 856h0M430 869h0M447 834h0M435 856h0M433 843h0M435 873h0M433 881h0M419 880h0M449 866h0M468 854h0M448 866h0M451 843h0M469 844h0M448 875h0M443 882h0M438 842h0M447 852h0M452 872h0M424 868h0M450 873h0M451 851h0M440 850h0M414 870h0M457 842h0M464 837h0M446 851h0M459 872h0M424 875h0M423 874h0M445 861h0M413 860h0M437 857h0M441 883h0M440 837h0M446 860h0M451 855h0M431 855h0M478 833h0M436 827h0M447 868h0M438 890h0M430 860h0M445 841h0M417 859h0M433 859h0M467 859h0M448 857h0M444 835h0M459 842h0M410 869h0M438 853h0M419 882h0M432 857h0M416 880h0M454 849h0M460 855h0M462 854h0M432 886h0M453 849h0M439 845h0M459 832h0M454 868h0M451 839h0M454 830h0M464 844h0M421 858h0M456 861h0M434 836h0M476 831h0M455 874h0M426 855h0M417 867h0M430 830h0M442 839h0M444 874h0M438 853h0M443 855h0M476 849h0M433 842h0M433 870h0M436 880h0M439 862h0M459 859h0M439 888h0M463 845h0M432 887h0M473 844h0M449 873h0M440 875h0M442 826h0M434 882h0M432 868h0M449 836h0M438 869h0M458 872h0M438 865h0M447 832h0M461 847h0M458 872h0M437 828h0M436 837h0M440 845h0M467 844h0M423 869h0M443 836h0M450 853h0M464 840h0M437 832h0M450 876h0M440 850h0M446 858h0M472 846h0M432 853h0M447 859h0M459 825h0M477 834h0M449 868h0M456 858h0M475 839h0M412 864h0M426 862h0M455 835h0M427 856h0M417 875h0M451 865h0M481 832h0M414 873h0M445 841h0M415 873h0M477 826h0M423 856h0M402 869h0M450 857h0M444 831h0M435 870h0M426 853h0M447 843h0M423 882h0M471 842h0M423 882h0M436 874h0M428 888h0M458 828h0M398 865h0M464 838h0M415 875h0M450 839h0M447 871h0M425 852h0M449 850h0M466 838h0M463 841h0M456 856h0M426 831h0M421 871h0M461 836h0M438 844h0M420 882h0M432 889h0M469 834h0M432 828h0M434 861h0M447 853h0M425 882h0M429 837h0M442 834h0M438 840h0M423 873h0M430 874h0M472 833h0M467 840h0M437 828h0M444 849h0M433 874h0M467 858h0M413 862h0M453 829h0M450 875h0M451 826h0M472 839h0M422 861h0M435 843h0M402 865h0M454 874h0M466 827h0M459 836h0M465 831h0M436 828h0M466 863h0M469 830h0M460 828h0M443 877h0M420 872h0M450 840h0M434 835h0M423 828h0M407 867h0M424 850h0M439 841h0M457 851h0M433 825h0M470 824h0M412 860h0M474 842h0M478 844h0M438 854h0M470 854h0M457 866h0M445 827h0M450 824h0M420 859h0M439 825h0M422 856h0M475 841h0M450 853h0M462 831h0M455 860h0M471 858h0M414 876h0M460 843h0M431 839h0M460 861h0M436 862h0M447 872h0M445 840h0M477 841h0M426 844h0M459 844h0M438 875h0M399 864h0M462 843h0M437 868h0M427 881h0M450 879h0M427 829h0M441 841h0M432 849h0M448 837h0M462 834h0M479 848h0M408 870h0M458 870h0M459 850h0M421 855h0M444 851h0M436 875h0M430 827h0M452 865h0M474 845h0M433 887h0M436 851h0M419 859h0M425 853h0M452 870h0M409 868h0M465 867h0M429 873h0M422 852h0M451 830h0M462 853h0M436 851h0M426 833h0M464 828h0M437 869h0M411 862h0M479 847h0M451 842h0M439 843h0M464 851h0M456 846h0M444 868h0M426 828h0M454 868h0M446 885h0M451 839h0M475 852h0M422 853h0M454 854h0M430 862h0M459 847h0M436 843h0M455 858h0M471 859h0M446 839h0M433 893h0M457 833h0M466 867h0M437 835h0M443 877h0M472 829h0M422 869h0M449 867h0M453 832h0M414 861h0M454 870h0M466 855h0M473 854h0M435 829h0M432 860h0M457 834h0M440 848h0M472 846h0M439 863h0M438 838h0M437 853h0M449 833h0M458 850h0M439 838h0M453 848h0M427 848h0M405 864h0M481 836h0M426 844h0M475 835h0M426 833h0M430 839h0M463 851h0M438 836h0M479 838h0M439 875h0M441 880h0M462 829h0M449 841h0M429 877h0M456 858h0M453 875h0M455 832h0M440 838h0M433 845h0M464 850h0M428 884h0M460 833h0M471 840h0M427 880h0M445 871h0M453 826h0M430 827h0M419 871h0M422 855h0M438 851h0M429 861h0M440 847h0M473 852h0M447 830h0M457 873h0M462 838h0M417 871h0M477 847h0M436 876h0M434 869h0M466 831h0M407 864h0M448 843h0M420 856h0M427 848h0M474 835h0M428 839h0M465 836h0M435 842h0M466 833h0M412 866h0M453 864h0M436 863h0M474 838h0M451 865h0M453 851h0M429 856h0M468 861h0M478 836h0M476 831h0M444 853h0M451 864h0M448 840h0M433 874h0M427 864h0M466 858h0M430 842h0M471 833h0M471 825h0M443 852h0M433 836h0M473 845h0M471 848h0M439 837h0M447 840h0M429 831h0M425 862h0M461 858h0M401 868h0M461 858h0M435 827h0M438 870h0M470 830h0M444 837h0M441 883h0M420 868h0M446 857h0M455 829h0M440 827h0M435 855h0M461 855h0M433 859h0M438 867h0M434 887h0M412 870h0M477 839h0M466 835h0M419 869h0M440 865h0M442 884h0M427 863h0M449 858h0M440 879h0M432 871h0M458 843h0M447 839h0M416 877h0M403 865h0M477 836h0M447 880h0M480 845h0M446 866h0M434 883h0M433 879h0M417 872h0M401 863h0M448 848h0M466 846h0M462 831h0M408 872h0M443 871h0M450 864h0M465 823h0M415 871h0M478 829h0M448 863h0M439 875h0M416 872h0M462 864h0M437 868h0M422 854h0M416 871h0M442 863h0M438 886h0M456 836h0M431 846h0M453 848h0M425 862h0M462 827h0M427 887h0M437 888h0M432 867h0M459 870h0M438 839h0M431 848h0M452 826h0M470 829h0M470 843h0M436 889h0M447 859h0M456 828h0M432 853h0M464 825h0M450 826h0M434 874h0M460 858h0M443 877h0M440 860h0M411 872h0M446 838h0M434 885h0M440 853h0M423 883h0M428 852h0M448 863h0M438 847h0M455 842h0M462 852h0M454 866h0M429 888h0M446 843h0M473 847h0M468 856h0M414 867h0M432 861h0M469 855h0M445 881h0M456 832h0M431 827h0M415 871h0M459 861h0M453 853h0M450 846h0M472 826h0M430 876h0M429 852h0M437 876h0M423 872h0M417 857h0M442 857h0M447 860h0M431 867h0M429 856h0M459 871h0M408 864h0M404 869h0M453 857h0M411 864h0M424 855h0M433 883h0M464 860h0M426 884h0M459 826h0M414 863h0M455 871h0M462 853h0M457 826h0M462 860h0M417 878h0M471 848h0M429 849h0M466 845h0M446 825h0M448 862h0M430 855h0M416 879h0M461 849h0M451 833h0M436 830h0M445 846h0M472 829h0M420 867h0M442 843h0M435 885h0M426 863h0M423 866h0M426 865h0M452 849h0M456 875h0M460 864h0M438 864h0M399 864h0M454 845h0M435 843h0M416 863h0M472 828h0M445 842h0M414 872h0M406 864h0M447 867h0M435 884h0M439 826h0M419 857h0M439 864h0M457 856h0M447 882h0M444 866h0M414 874h0M468 833h0M431 844h0M471 831h0M410 867h0M439 857h0M463 825h0M436 828h0M434 838h0M424 885h0" stroke="#ece04c" stroke-opacity="0.75" stroke-width="2.2" stroke-linecap="round" fill="none"/><path transform="scale(.5)" d="M418 841h0M407 858h0M393 856h0M394 857h0M412 855h0M420 853h0M373 833h0M413 857h0M419 837h0M421 838h0M368 842h0M394 861h0M418 842h0M399 857h0M412 859h0M419 851h0M415 834h0M402 856h0M420 849h0M416 857h0M417 856h0M403 860h0M416 837h0M373 845h0M413 828h0M419 839h0M422 834h0M370 839h0M413 827h0M417 847h0M421 843h0M390 858h0M423 839h0M368 842h0M399 861h0M425 838h0M412 829h0M418 853h0M409 853h0M406 855h0M403 859h0M416 851h0M412 859h0M417 829h0M415 846h0M423 846h0M417 849h0M390 856h0M406 858h0M416 844h0M420 829h0M415 827h0M393 857h0M405 861h0M417 849h0M397 862h0M417 843h0M418 833h0M372 843h0M407 853h0M424 847h0M421 837h0M387 857h0M418 847h0M398 862h0M422 849h0M371 839h0M418 854h0M421 832h0M417 844h0M419 842h0M405 854h0M386 855h0M400 862h0M416 842h0M417 837h0M411 855h0M396 863h0M413 829h0M418 848h0M372 842h0M398 860h0M416 827h0M394 862h0M396 859h0M422 828h0M404 861h0M379 852h0M386 856h0M422 831h0M415 844h0M417 838h0M418 840h0M409 860h0M400 862h0M420 837h0M417 846h0" stroke="#9bd27a" stroke-opacity="0.6" stroke-width="2.2" stroke-linecap="round" fill="none"/><path transform="scale(.5)" d="M375 834h0M388 846h0M395 843h0M397 843h0M402 852h0M415 834h0M386 836h0M376 841h0M404 838h0M396 833h0M402 832h0M408 836h0M403 850h0M403 853h0M395 845h0M396 846h0M413 845h0M411 844h0M413 835h0M412 842h0M399 831h0M409 849h0M380 832h0M398 833h0M407 836h0M380 848h0M414 840h0M392 849h0M390 841h0M386 835h0M377 842h0M396 830h0M405 838h0M404 847h0M400 850h0M373 843h0M384 852h0M380 845h0M388 836h0M384 838h0M400 832h0M378 841h0M410 828h0M413 840h0M397 843h0M379 836h0M385 835h0M399 854h0M378 837h0M392 853h0M383 832h0M406 831h0M390 846h0M407 848h0M416 837h0M412 834h0M399 844h0M380 836h0M413 845h0M388 853h0M383 848h0M411 847h0M410 849h0M390 832h0M389 832h0M401 831h0M406 845h0M411 831h0M389 836h0M384 850h0M400 854h0M400 845h0M400 833h0M409 835h0M412 839h0M393 852h0M415 843h0M386 835h0M402 827h0M374 838h0M395 839h0M378 839h0M395 842h0M406 829h0M399 849h0M390 835h0M384 843h0M384 847h0" stroke="#2c2f6e" stroke-opacity="0.8" stroke-width="2.2" stroke-linecap="round" fill="none"/><path transform="scale(.5)" d="M410 838h0M412 830h0M391 847h0M392 835h0M390 839h0M400 843h0M374 842h0M387 840h0M405 835h0M391 850h0M374 837h0M402 836h0M398 835h0M403 830h0M388 846h0M374 840h0M406 832h0M396 843h0M401 840h0M393 849h0M374 844h0M373 840h0M413 839h0M412 831h0M394 832h0M415 835h0M410 849h0M396 832h0M400 843h0M405 846h0M386 850h0M402 832h0M400 834h0M395 831h0M412 833h0M394 854h0M375 833h0M375 845h0M403 854h0M374 842h0M398 841h0M389 853h0M386 851h0M398 830h0M409 835h0M393 852h0M398 831h0M414 838h0M383 835h0M384 848h0M414 833h0M403 850h0M382 851h0M384 848h0M380 844h0M391 854h0M388 851h0M412 842h0M409 839h0M395 842h0M393 834h0M393 836h0M399 845h0M395 840h0M375 835h0M387 832h0M400 855h0M395 847h0M393 832h0M378 848h0M386 831h0M376 834h0M377 846h0M408 838h0M411 830h0M388 847h0M395 847h0M390 836h0M386 835h0M379 848h0M399 831h0M373 838h0M405 849h0M391 835h0M406 836h0M376 842h0M390 830h0M407 846h0" stroke="#e6e090" stroke-opacity="0.5" stroke-width="2.2" stroke-linecap="round" fill="none"/><path transform="scale(.5)" d="M396 832h0M408 841h0M400 842h0M399 848h0M394 837h0M413 845h0M408 846h0M381 845h0M393 846h0M402 840h0M397 846h0M405 842h0M390 848h0M389 848h0M396 848h0M388 846h0M378 842h0M396 847h0M381 841h0M406 849h0" stroke="#262a66" stroke-opacity="0.8" stroke-width="2" stroke-linecap="round" fill="none"/>
<rect x="249.4" y="342.5" width="64.6" height="104.5" fill="#211c1c"/><path transform="scale(.5)" d="M591 698h0M592 691h0M578 715h0M570 751h0M577 759h0M575 767h0M608 701h0M592 731h0M590 745h0M588 720h0M559 783h0M597 751h0M579 740h0M570 700h0M590 695h0M563 719h0M592 759h0M538 735h0M581 699h0M608 699h0M617 704h0M554 727h0M579 744h0M557 732h0M596 735h0M588 768h0M537 734h0M583 698h0M607 724h0M573 740h0M552 729h0M608 711h0M590 732h0M581 749h0M610 703h0M574 705h0M603 721h0M590 757h0M514 716h0M580 711h0M594 737h0M573 761h0M588 762h0M569 757h0M569 778h0M577 747h0M585 716h0M579 714h0M538 746h0M597 736h0M602 716h0M560 719h0M595 701h0M553 766h0M581 752h0M589 754h0M582 708h0M592 701h0M575 767h0M556 725h0M598 741h0M618 717h0M590 712h0M602 704h0M590 709h0M569 765h0M586 730h0M577 705h0M599 709h0M598 707h0M553 699h0M604 701h0M600 735h0M538 756h0M578 776h0M595 750h0M584 709h0M577 730h0M593 711h0M581 718h0M578 717h0M600 727h0M556 704h0M571 712h0M589 730h0M573 706h0M595 748h0M588 746h0M590 704h0M565 740h0M585 759h0M543 712h0M562 702h0M577 728h0M595 708h0M592 713h0M564 728h0M553 725h0M606 740h0M613 716h0M614 709h0M580 700h0M579 722h0M585 704h0M583 728h0M598 714h0M555 710h0M594 727h0M547 723h0M563 748h0M608 730h0M554 727h0M577 734h0M546 705h0M590 742h0M619 713h0M612 704h0M575 720h0M581 735h0M544 696h0M597 716h0M588 716h0M584 707h0M552 708h0M584 708h0M580 759h0M577 696h0M612 716h0M557 717h0M574 722h0M610 732h0M603 710h0M593 713h0M620 703h0M597 704h0M606 700h0M583 740h0M592 736h0M602 719h0M586 745h0M595 697h0M570 720h0M589 700h0M550 726h0M604 745h0M610 739h0M571 706h0M584 724h0M570 767h0M601 705h0M588 709h0M513 717h0M591 730h0M593 736h0M599 733h0M562 783h0M575 723h0M531 729h0M589 713h0M576 704h0M588 729h0M591 700h0M597 702h0M598 706h0M538 701h0M602 714h0M599 751h0M581 727h0M582 709h0M569 772h0M586 697h0M546 718h0M591 753h0M609 702h0M544 753h0M613 731h0M563 762h0M512 738h0M579 739h0M614 709h0M573 696h0M584 761h0M574 729h0M607 727h0M581 746h0M584 706h0M566 736h0M577 776h0M605 718h0M598 727h0M517 720h0M532 702h0M513 703h0M580 717h0M538 714h0M608 715h0M556 701h0M592 719h0M576 711h0M597 704h0M576 722h0M605 718h0M578 735h0M579 699h0M578 718h0M527 723h0M618 725h0M584 713h0M596 702h0M580 732h0M602 710h0M584 768h0M557 699h0M566 733h0M603 724h0M564 731h0M591 701h0M577 762h0M594 698h0M551 705h0M565 771h0M600 701h0M611 707h0M598 746h0M612 703h0M608 706h0M545 731h0M589 736h0M616 723h0M612 729h0M607 739h0M594 731h0M567 720h0M578 755h0M579 701h0M518 725h0M593 735h0M572 774h0M602 710h0M577 743h0M534 753h0M581 728h0M561 706h0M567 696h0M592 706h0M575 775h0M582 712h0M555 746h0M576 734h0M607 742h0M513 722h0M602 720h0M561 781h0M612 698h0M564 720h0M567 725h0M572 774h0M584 701h0M607 732h0M561 709h0M579 745h0M590 755h0M584 706h0M556 707h0M587 713h0M583 756h0M601 721h0M580 735h0M578 785h0M574 773h0M541 747h0M583 732h0M598 695h0M614 706h0M594 699h0M559 711h0M577 715h0M568 749h0M601 730h0M576 731h0M560 709h0M572 714h0M601 725h0M551 753h0M590 730h0M597 708h0M595 745h0M575 736h0M601 705h0M567 735h0M586 721h0M570 737h0M599 720h0M553 759h0M592 753h0M568 773h0M547 719h0M555 766h0M557 755h0M564 789h0M600 728h0M555 716h0M569 725h0M602 730h0M602 727h0M584 705h0M599 705h0M614 712h0M582 703h0M595 737h0M579 770h0M608 697h0M614 704h0M581 781h0M534 754h0M569 709h0M521 728h0M541 727h0M561 758h0M601 728h0M608 707h0M587 737h0M610 713h0M613 716h0M590 747h0M577 729h0M564 713h0M566 781h0M589 723h0M571 782h0M596 744h0M523 707h0M611 730h0M598 714h0M611 704h0M559 739h0M546 723h0M571 724h0M595 757h0M584 704h0M576 736h0M512 740h0M581 754h0M578 732h0M595 733h0M573 779h0M553 740h0M553 733h0M597 709h0M505 722h0M580 719h0M550 737h0M535 745h0M601 713h0M595 726h0M602 703h0M532 748h0M525 733h0M599 701h0M612 723h0M567 738h0M598 723h0M558 752h0M594 706h0M580 745h0M564 738h0M586 739h0M572 752h0M564 707h0M578 763h0M609 743h0M527 718h0M612 707h0M602 746h0M579 731h0M601 706h0M566 726h0M573 704h0M605 713h0M594 715h0M593 752h0M564 702h0M565 741h0M607 719h0M589 698h0M573 702h0M569 759h0M599 705h0M602 722h0M573 707h0M584 725h0M581 697h0M586 717h0M592 733h0M528 728h0M591 742h0M593 733h0M562 699h0M551 761h0M565 714h0M588 708h0M548 719h0M595 728h0M511 711h0M594 738h0M552 775h0M520 722h0M580 723h0M601 737h0M570 705h0M567 695h0M573 722h0M602 746h0M595 738h0M593 732h0M576 784h0M567 739h0M613 715h0M587 703h0M572 700h0M574 750h0M579 781h0M578 725h0M584 711h0M585 706h0M595 733h0M595 704h0M507 711h0M514 741h0M584 745h0M613 720h0M594 717h0M564 758h0M597 736h0M569 737h0M597 737h0M592 755h0M568 720h0M594 736h0M560 732h0M596 703h0M600 733h0M596 746h0M554 771h0M577 715h0M575 707h0M583 736h0M571 715h0M564 708h0M572 789h0M589 767h0M601 694h0M578 702h0M577 738h0M588 701h0M573 701h0M598 706h0M601 722h0M602 736h0M608 717h0M579 716h0M602 749h0M574 730h0M608 723h0M582 699h0M588 709h0M585 739h0M593 739h0M596 749h0M601 712h0M604 699h0M522 737h0M599 748h0M586 706h0M602 706h0M598 703h0M561 747h0M571 747h0M572 700h0M577 720h0M609 709h0M580 746h0M591 752h0M593 738h0M596 743h0M571 703h0M578 722h0M565 725h0M594 720h0M613 711h0M612 720h0M613 730h0M583 758h0M597 733h0M549 706h0M589 750h0M568 701h0M554 751h0M577 711h0M556 704h0M570 767h0M589 708h0M616 704h0M562 708h0M575 746h0M580 729h0M609 711h0M536 732h0M576 761h0M598 696h0M555 772h0M574 750h0M559 753h0M604 699h0M559 767h0M562 709h0M590 729h0M602 714h0M586 719h0M578 713h0M611 712h0M591 758h0M552 716h0M552 772h0M592 730h0M598 745h0M571 736h0M550 741h0M602 712h0M586 740h0M610 705h0M596 731h0M559 701h0M575 762h0M590 738h0M560 725h0M562 737h0M617 710h0M522 700h0M596 719h0M589 727h0M554 769h0M554 761h0M566 733h0M574 719h0M561 709h0M597 731h0M593 733h0M557 728h0M598 739h0M591 755h0M581 698h0M588 704h0M585 754h0M568 732h0M572 774h0M590 744h0M576 698h0M540 729h0M595 712h0M603 723h0M555 775h0M596 736h0M555 736h0M577 711h0M560 730h0M581 722h0M587 741h0M592 706h0M566 768h0M593 708h0M599 702h0M611 716h0M583 696h0M590 726h0M551 711h0M601 726h0M546 755h0M592 711h0M553 764h0M532 708h0M601 732h0M574 702h0M502 713h0M561 721h0M575 707h0M593 716h0M589 722h0M581 724h0M568 780h0M570 780h0M606 702h0M596 700h0M583 699h0M554 762h0M583 762h0M597 730h0M585 734h0M569 716h0M568 755h0M572 744h0M576 709h0M594 709h0M595 754h0M577 770h0M572 766h0M589 730h0M581 748h0M511 731h0M513 719h0M600 714h0M578 734h0M565 721h0M607 704h0M561 779h0M579 698h0M539 748h0M582 717h0M577 767h0M608 745h0M604 713h0M566 729h0M595 713h0M562 719h0M544 738h0M542 715h0M557 711h0M579 707h0M567 709h0M592 707h0M594 739h0M614 705h0M567 728h0M551 732h0M597 709h0M567 719h0M611 708h0M591 739h0M607 719h0M593 736h0M530 735h0M587 722h0M610 721h0M575 720h0M600 712h0M594 708h0M612 702h0M609 707h0M554 714h0M581 742h0M587 745h0M574 765h0M595 711h0M607 715h0M584 778h0M572 769h0M561 768h0M582 746h0M537 718h0M573 783h0M547 710h0M562 713h0M540 766h0M548 728h0M596 740h0M599 714h0M542 730h0M611 712h0M605 699h0M577 724h0M541 739h0M561 782h0M581 743h0M584 698h0M611 712h0M605 745h0M523 702h0M556 695h0M578 699h0M556 736h0M586 767h0M583 737h0M587 733h0M533 750h0M571 762h0M590 743h0M604 709h0M577 735h0M539 711h0M607 718h0M517 709h0M590 700h0M606 698h0M552 719h0M575 699h0M578 733h0M564 771h0M598 698h0M565 736h0M614 732h0M569 755h0M609 720h0M567 714h0M604 724h0M579 753h0M565 736h0M568 715h0M523 733h0M526 714h0M588 702h0M597 697h0M582 704h0M597 710h0M599 708h0M580 699h0M581 748h0M599 713h0M601 733h0M568 775h0M589 697h0M514 741h0M616 703h0M575 761h0M599 701h0M585 711h0M554 749h0M611 716h0M578 730h0M552 724h0M577 737h0M574 776h0M540 703h0M589 700h0M560 784h0M584 718h0M604 717h0M592 747h0M608 712h0M587 722h0M577 757h0M501 719h0M619 708h0M525 705h0M504 727h0M576 700h0M522 726h0M614 713h0M534 731h0M558 720h0M585 761h0M590 762h0M581 722h0M565 755h0M596 733h0M596 747h0M594 723h0M587 759h0M591 724h0M572 739h0M582 772h0M578 698h0M582 756h0M604 700h0M615 702h0M579 720h0M582 714h0M581 759h0M560 706h0M618 704h0M597 709h0M597 702h0M591 718h0M505 719h0M592 697h0M573 751h0M562 705h0M563 723h0M599 711h0M597 743h0M606 722h0M596 739h0M528 716h0M594 705h0M549 717h0M581 701h0M581 706h0M576 763h0M591 707h0M571 713h0M567 710h0M573 724h0M549 758h0M539 748h0M552 708h0M569 745h0M593 721h0M570 713h0M588 711h0M590 727h0M566 703h0M616 710h0M569 777h0M595 746h0M615 715h0M582 775h0M580 751h0M586 713h0M580 715h0M512 710h0M565 694h0M582 693h0M596 744h0M532 723h0M590 720h0M558 735h0M549 702h0M600 750h0M596 746h0M595 724h0M564 790h0M579 734h0M593 720h0M572 732h0M582 715h0M608 705h0M582 764h0M538 703h0M550 766h0M612 722h0M595 706h0M592 704h0M566 707h0M596 708h0M568 707h0M566 738h0M558 730h0" stroke="#ececec" stroke-opacity="0.85" stroke-width="1.7" stroke-linecap="round" fill="none"/><path transform="scale(.5)" d="M575 756h0M542 750h0M558 715h0M517 714h0M549 727h0M535 704h0M555 709h0M557 713h0M572 729h0M506 708h0M536 726h0M532 730h0M520 729h0M537 712h0M500 723h0M555 701h0M544 722h0M576 764h0M521 709h0M514 711h0M557 698h0M538 727h0M552 703h0M518 715h0M596 710h0M533 741h0M538 709h0M546 704h0M546 709h0M512 730h0M540 750h0M549 745h0M537 724h0M574 708h0M532 701h0M550 764h0M550 704h0M515 710h0M523 707h0M567 745h0M538 735h0M548 740h0M530 730h0M530 752h0M521 711h0M536 744h0M556 728h0M548 751h0M566 726h0M538 754h0M544 699h0M558 735h0M546 768h0M506 716h0M515 713h0M541 721h0M511 734h0M549 716h0M521 744h0M528 727h0M549 713h0M556 707h0M559 725h0M559 712h0M545 753h0M529 707h0M569 695h0M523 723h0M552 707h0M537 714h0M521 710h0M530 719h0M511 709h0M538 715h0M598 748h0M534 743h0M555 726h0M546 728h0M599 710h0M514 722h0M528 720h0M544 756h0M523 734h0M521 738h0M544 707h0M551 753h0M512 722h0M526 724h0M563 725h0M552 739h0M533 733h0M538 718h0M513 721h0M518 742h0M557 733h0M544 729h0M565 705h0M566 744h0M552 708h0M567 704h0M512 721h0M506 727h0M598 745h0M564 713h0M527 724h0M549 756h0M567 736h0M547 746h0M545 746h0M526 737h0M582 716h0M521 738h0M570 746h0M539 737h0M522 714h0M567 733h0M547 705h0M545 703h0M532 752h0M530 721h0M562 715h0M541 703h0M562 718h0M549 706h0M525 717h0M554 701h0M517 717h0M511 714h0M510 728h0M529 752h0M565 708h0M546 707h0M545 711h0M565 706h0M546 706h0M532 746h0M527 748h0M548 711h0M571 698h0M593 736h0M535 741h0M559 731h0M514 733h0M536 707h0M553 765h0M561 731h0M533 704h0M506 729h0M508 714h0M559 729h0M507 730h0M532 701h0M548 736h0M534 724h0M558 727h0M552 753h0M522 733h0M540 708h0M588 727h0M534 746h0M551 712h0M596 751h0M562 734h0M526 721h0M539 731h0M550 700h0M555 732h0M565 719h0M549 764h0M515 732h0M548 738h0M548 700h0M533 704h0M520 706h0M564 715h0M525 705h0M548 744h0M521 731h0M502 718h0M529 734h0M549 714h0M520 722h0M540 721h0M524 737h0M557 733h0M533 713h0M553 721h0M563 698h0M547 751h0M542 713h0M526 703h0M545 728h0M558 740h0M520 724h0M567 726h0M565 745h0M540 713h0M537 712h0M514 736h0M568 744h0M562 719h0M550 700h0M562 721h0M530 721h0M520 737h0M526 738h0M576 728h0M521 703h0M534 704h0M510 713h0M563 706h0M549 730h0M537 707h0M568 728h0M510 710h0M550 708h0M547 713h0M521 731h0M515 707h0M527 741h0M566 720h0M569 706h0M570 737h0M531 744h0M536 705h0M553 711h0M537 718h0M535 706h0M537 706h0M569 700h0M520 732h0M538 763h0M567 720h0M505 713h0M548 703h0M503 718h0M581 755h0M538 738h0M550 724h0M543 723h0M533 753h0M538 708h0M566 700h0M551 700h0M566 746h0M520 737h0M548 740h0M530 728h0M526 729h0M515 711h0M519 734h0M564 717h0M556 742h0M558 757h0M539 701h0M540 707h0M534 715h0M561 706h0M502 711h0M507 714h0M558 727h0M563 747h0M522 716h0M536 747h0M551 732h0M551 762h0M562 748h0M524 721h0M521 724h0M545 703h0M560 703h0M537 755h0M543 717h0M578 729h0M530 708h0M529 737h0M593 714h0M565 697h0M565 747h0M541 709h0M508 733h0M573 744h0M539 727h0M525 710h0M523 718h0M536 723h0M536 740h0M554 699h0M585 762h0M553 713h0M515 714h0M555 702h0M559 727h0M550 754h0M523 710h0M514 735h0M526 738h0M523 701h0M568 708h0M511 731h0M543 726h0M520 726h0M557 698h0M566 712h0M553 718h0M550 723h0M539 721h0M550 702h0M528 726h0M520 714h0M522 712h0M517 712h0M514 711h0M521 740h0M555 714h0M552 716h0M520 728h0M512 715h0M538 716h0M544 742h0M539 711h0M532 712h0M556 726h0M551 743h0M508 731h0M507 705h0M512 704h0M574 724h0M530 701h0M531 714h0M561 734h0M547 731h0M538 747h0M556 748h0M550 749h0M587 706h0M580 760h0M528 747h0M522 730h0M538 706h0M541 696h0M527 736h0M559 760h0M557 711h0M551 703h0M534 710h0M520 735h0M524 728h0M533 747h0M566 746h0M548 715h0M505 725h0M519 706h0M552 737h0M528 718h0M533 706h0M507 728h0M530 711h0M514 736h0M556 732h0M560 752h0M516 727h0M539 725h0M539 737h0M518 713h0M535 710h0M514 717h0M537 745h0M559 705h0M537 707h0M538 743h0M549 702h0M577 710h0M557 739h0M557 738h0M554 703h0M550 699h0M556 730h0M538 713h0M529 726h0M545 748h0M558 732h0M561 763h0M552 710h0M518 709h0M538 753h0M530 728h0M521 706h0M542 755h0M527 714h0M523 725h0M513 725h0M509 711h0M516 714h0M564 752h0M537 702h0M572 740h0M517 716h0M523 713h0M553 734h0M532 704h0M556 711h0M562 741h0M516 705h0M523 734h0M576 736h0M530 716h0M527 718h0M532 713h0M562 748h0M509 730h0M542 726h0M548 709h0M529 711h0M550 766h0M587 762h0M550 707h0M563 700h0M556 708h0M548 716h0M522 747h0M556 771h0M517 728h0M552 735h0M514 715h0M518 723h0M546 724h0M535 703h0M568 705h0M565 719h0M556 722h0M544 755h0M508 726h0M526 702h0M543 743h0M530 709h0M529 717h0M512 717h0M570 729h0M559 757h0M561 758h0M535 747h0M542 718h0M553 716h0M529 707h0M562 712h0M524 731h0M540 705h0M554 697h0M511 717h0M516 706h0M545 707h0M510 716h0M551 744h0M559 751h0M522 732h0M566 729h0M531 746h0M558 722h0M545 765h0M551 744h0M545 702h0M511 716h0M525 726h0M551 717h0M518 729h0M523 704h0M548 707h0M543 722h0M559 735h0M544 711h0M551 783h0M541 741h0M532 714h0M574 750h0M519 711h0M549 721h0M542 728h0M508 711h0M541 756h0M508 712h0M576 733h0M553 717h0M534 743h0M523 719h0M558 727h0M505 715h0M532 754h0M515 718h0M573 707h0M528 708h0M512 727h0M538 721h0M552 725h0M527 730h0M543 708h0M568 745h0M573 722h0M537 738h0M552 777h0M537 717h0M548 709h0M558 731h0M540 711h0M522 700h0M538 745h0M546 724h0M568 716h0M520 737h0M521 727h0M527 739h0M530 713h0M550 751h0M505 708h0M518 709h0M545 704h0M559 715h0M537 730h0M543 711h0M551 727h0M534 728h0M557 758h0M540 751h0M543 751h0M560 739h0M521 732h0M522 725h0M585 743h0M534 750h0M547 737h0M533 731h0M505 728h0M581 749h0M544 746h0M526 709h0M536 738h0M525 725h0M545 710h0M560 704h0M543 711h0M549 736h0M514 729h0M541 724h0M545 732h0M551 699h0M548 732h0M545 726h0M516 732h0M566 704h0M556 707h0M518 729h0M570 712h0M553 704h0M594 700h0M560 719h0M573 703h0M525 729h0M554 747h0M526 706h0M512 727h0M568 746h0M535 718h0M538 707h0" stroke="#48a458" stroke-opacity="0.9" stroke-width="1.7" stroke-linecap="round" fill="none"/><path transform="scale(.5)" d="M611 824h0M539 820h0M512 805h0M558 801h0M563 868h0M570 805h0M581 819h0M531 839h0M595 839h0M613 815h0M561 846h0M516 811h0M557 803h0M543 814h0M573 820h0M527 805h0M612 815h0M537 809h0M516 810h0M523 824h0M602 798h0M578 822h0M522 809h0M568 842h0M554 812h0M530 846h0M506 819h0M611 827h0M538 849h0M561 841h0M577 870h0M610 830h0M563 874h0M560 806h0M596 830h0M507 828h0M528 817h0M565 826h0M533 820h0M606 821h0M532 801h0M550 812h0M587 805h0M569 833h0M566 816h0M553 820h0M514 838h0M532 826h0M533 805h0M570 814h0M580 822h0M560 809h0M545 807h0M582 848h0M535 816h0M521 844h0M601 815h0M573 820h0M606 816h0M544 803h0M528 807h0M560 815h0M529 817h0M586 822h0M586 867h0M584 836h0M600 808h0M603 807h0M528 824h0M583 850h0M583 853h0M519 812h0M590 844h0M576 824h0M556 842h0M548 803h0M539 840h0M508 817h0M534 821h0M615 810h0M515 829h0M548 835h0M612 798h0M569 812h0M578 848h0M527 815h0M610 826h0M549 821h0M535 863h0M613 814h0M513 809h0M612 841h0M542 817h0M529 837h0M584 821h0M574 804h0M515 827h0M604 817h0M531 814h0M532 811h0M576 800h0M584 816h0M571 848h0M587 810h0M606 832h0M595 832h0M546 802h0M533 810h0M526 824h0M541 825h0M587 859h0M613 816h0M540 847h0M586 811h0M532 816h0M514 828h0M524 804h0M612 820h0M510 813h0M589 838h0M599 812h0M571 822h0M587 850h0M606 819h0M533 809h0M556 824h0M613 809h0M563 830h0M586 813h0M552 820h0M601 805h0M601 832h0M596 807h0M598 813h0M565 810h0M540 809h0M553 805h0M510 803h0M544 807h0M597 834h0M555 803h0M532 821h0M535 817h0M521 813h0M561 820h0M507 814h0M509 821h0M595 805h0M581 874h0M589 822h0M563 822h0M560 801h0M597 802h0M601 820h0M566 814h0M585 820h0M535 835h0M588 833h0M555 813h0M596 849h0M603 842h0M510 813h0M584 820h0M517 818h0M614 834h0M516 814h0M533 836h0M552 802h0M575 820h0M605 803h0M528 814h0M523 807h0M577 816h0M566 859h0M549 821h0M595 847h0M587 845h0M521 820h0M522 855h0M611 837h0M528 808h0M526 806h0M605 828h0M576 810h0M522 817h0M566 807h0M596 858h0M539 801h0M535 840h0M506 830h0M609 817h0M606 809h0M530 818h0M534 806h0M606 841h0M558 857h0M583 830h0M541 842h0M577 802h0M593 817h0M598 820h0M541 803h0M529 808h0M581 817h0M508 833h0M528 834h0M558 817h0M599 804h0M553 826h0M535 850h0M525 822h0M613 807h0M584 798h0M585 821h0M517 811h0M592 842h0M542 848h0M611 830h0M579 864h0M506 816h0M510 814h0M547 834h0M596 802h0M561 815h0M607 817h0M606 840h0M591 857h0M587 804h0M541 818h0M586 801h0M512 817h0M597 796h0M554 811h0M598 809h0M515 814h0M547 806h0M512 810h0M607 827h0M535 815h0M524 821h0M577 813h0M555 817h0M562 831h0M511 815h0M558 823h0M514 827h0M595 838h0M596 807h0M591 809h0M585 811h0M509 818h0M607 822h0M557 851h0M511 831h0M539 839h0M590 817h0M515 819h0M507 815h0M548 814h0M594 861h0M536 827h0M509 808h0M606 839h0M587 814h0M575 802h0M579 855h0M576 849h0M517 816h0M575 804h0M609 820h0M572 798h0M590 826h0M572 865h0M553 856h0M536 807h0M546 822h0M598 806h0M587 821h0M592 804h0M603 831h0M521 810h0M605 803h0M599 817h0M533 833h0M566 833h0M584 876h0M596 831h0M573 879h0M563 831h0M594 797h0M510 809h0M507 819h0M566 823h0M574 799h0M576 822h0M525 805h0M588 824h0M566 812h0M620 819h0M599 839h0M555 824h0M544 824h0M568 835h0M549 822h0M580 832h0M598 830h0M608 808h0M590 806h0M563 810h0M598 803h0M555 828h0M526 810h0M557 817h0M535 829h0M605 813h0M604 821h0M551 825h0M606 803h0M594 858h0M568 822h0M606 804h0M588 817h0M587 810h0M582 822h0M595 833h0M604 815h0M547 859h0M580 803h0M599 854h0M599 838h0M588 854h0M552 832h0M584 814h0M582 851h0M526 809h0M540 864h0M567 832h0M599 834h0M564 816h0M525 839h0M559 872h0M590 854h0M605 805h0M562 874h0M596 805h0M531 846h0M597 840h0M593 812h0M564 815h0M593 806h0M584 808h0M592 838h0M575 854h0M528 816h0M535 824h0M540 804h0M583 817h0M539 826h0M538 805h0M529 814h0M573 825h0M596 817h0M564 812h0M507 812h0M547 859h0M530 841h0M599 806h0M611 819h0M514 814h0M598 852h0M611 801h0M583 806h0M523 816h0M588 830h0M595 837h0M549 811h0M575 821h0M525 825h0M603 813h0M560 805h0M619 810h0M558 817h0M545 820h0M586 869h0M535 855h0M556 806h0M541 820h0M550 861h0M564 830h0M584 822h0M616 809h0M618 816h0M563 800h0M529 845h0M562 887h0M596 803h0M555 816h0M530 809h0M602 844h0M593 818h0M510 815h0M586 804h0M544 820h0M530 803h0M525 827h0M540 843h0M534 842h0M561 819h0M591 854h0M563 877h0M592 801h0M512 833h0M527 850h0M601 806h0M530 811h0M587 825h0M519 822h0M591 852h0M598 846h0M522 806h0M594 832h0M609 816h0M554 826h0M578 806h0M521 813h0M593 823h0M571 810h0M593 828h0M538 838h0M552 806h0M605 823h0M578 830h0M550 833h0M534 804h0M595 816h0M587 854h0M565 802h0M581 855h0M597 840h0M592 802h0M597 846h0M557 817h0M576 825h0M600 807h0M558 817h0M541 851h0M557 810h0M580 819h0M553 802h0M582 859h0M592 809h0M510 827h0M609 825h0M551 838h0M578 812h0M598 850h0M596 809h0M550 846h0M583 848h0M517 812h0M600 822h0M553 808h0M587 817h0M582 830h0M545 812h0M504 818h0M581 851h0M597 824h0M531 817h0M543 833h0M585 820h0M601 819h0M604 823h0M543 811h0M568 798h0M602 809h0M587 799h0M552 806h0M613 812h0M589 803h0M561 842h0M585 871h0M618 815h0M577 806h0M585 835h0M555 822h0M543 826h0M610 841h0M550 827h0M544 846h0M515 826h0M584 802h0M606 836h0M592 805h0M556 859h0M520 828h0M618 807h0M566 803h0M552 804h0M566 810h0M546 834h0M587 804h0M541 825h0M523 827h0M594 821h0M588 824h0M536 812h0M612 813h0M599 836h0M528 817h0M519 812h0M547 805h0M574 814h0M537 827h0M610 831h0M568 808h0M611 808h0M599 840h0M515 807h0M591 819h0M548 807h0M571 854h0M514 818h0M597 805h0M542 833h0M524 821h0M580 815h0M545 803h0M586 857h0M567 812h0M608 804h0M573 806h0M618 826h0M545 811h0M513 813h0M546 820h0M563 805h0M505 821h0M540 811h0M539 843h0M514 816h0M594 829h0M576 808h0M591 803h0M548 828h0M584 806h0M594 802h0M602 812h0M585 819h0M540 847h0M604 795h0M516 814h0M544 808h0M598 809h0M611 800h0M596 837h0M554 841h0M539 819h0M548 803h0M598 811h0M529 823h0M591 836h0M594 830h0M577 805h0M542 810h0M542 810h0M511 828h0M517 819h0M568 842h0M541 804h0M606 833h0M541 811h0M601 849h0M597 856h0M607 800h0M529 824h0M554 812h0M581 804h0M518 837h0M569 838h0" stroke="#d6d6da" stroke-opacity="0.6" stroke-width="1.5" stroke-linecap="round" fill="none"/><path transform="scale(.5)" d="M585 814h0M545 810h0M520 842h0M591 860h0M587 836h0M570 880h0M533 819h0M559 865h0M535 856h0M545 832h0M515 837h0M558 829h0M539 856h0M581 828h0M512 843h0M564 867h0M569 883h0M543 850h0M549 871h0M560 860h0M599 844h0M532 824h0M540 854h0M560 837h0M599 853h0M583 865h0M554 827h0M575 849h0M554 836h0M515 846h0M523 826h0M570 857h0M563 836h0M566 815h0M521 843h0M552 837h0M580 821h0M517 827h0M538 830h0M543 856h0M509 817h0M546 868h0M591 824h0M539 870h0M583 879h0M568 840h0M513 817h0M516 844h0M556 866h0M583 868h0M567 841h0M549 847h0M572 841h0M519 846h0M545 830h0M561 869h0M543 872h0M533 811h0M537 853h0M574 831h0M524 849h0M565 837h0M563 867h0M557 820h0M526 835h0M512 821h0M551 857h0M586 874h0M530 820h0M552 854h0M579 869h0M561 829h0M590 856h0M589 851h0M545 856h0M565 866h0M529 808h0M558 873h0M550 826h0M548 815h0M556 833h0M541 855h0M564 865h0M510 811h0M551 874h0M560 850h0M549 845h0M546 855h0M564 872h0M562 834h0M528 853h0M562 840h0M570 884h0M509 812h0M519 843h0M551 857h0M583 836h0M590 820h0M599 808h0M536 854h0M528 841h0M538 853h0M550 825h0M516 840h0M522 842h0M540 854h0M537 846h0M547 864h0M591 846h0M534 855h0M575 887h0M555 820h0M554 830h0M549 852h0M547 833h0M523 834h0M538 858h0M535 844h0M569 828h0M584 839h0M549 829h0M542 852h0M539 854h0M573 833h0M547 858h0M556 874h0M596 838h0M541 851h0M562 825h0M605 835h0M555 837h0M531 822h0M567 837h0M573 844h0M535 812h0M515 816h0M567 832h0M538 839h0M581 838h0M556 818h0M557 822h0M549 852h0M565 869h0M522 811h0M524 843h0M564 855h0M568 827h0M585 837h0M528 839h0M525 840h0M579 869h0M580 871h0M585 831h0M552 844h0M588 807h0M563 812h0M531 854h0M529 806h0M554 851h0M543 846h0M571 856h0M515 819h0M557 834h0M522 845h0M526 842h0M567 850h0M570 880h0M550 875h0M518 828h0M561 819h0M537 827h0M555 825h0M537 813h0M524 843h0M522 848h0M522 825h0M583 824h0M583 834h0M553 832h0M583 863h0M510 824h0M558 841h0M583 849h0M560 843h0M552 863h0M526 833h0M546 815h0M565 857h0M573 887h0M531 857h0M519 843h0M507 830h0M566 871h0M577 875h0M554 861h0M566 872h0M586 853h0M505 820h0M543 838h0M506 831h0M551 859h0M513 829h0" stroke="#b07468" stroke-opacity="0.55" stroke-width="1.5" stroke-linecap="round" fill="none"/><rect x="317.3" y="342.5" width="64.2" height="104.5" fill="#211c1c"/><path transform="scale(.5)" d="M723 727h0M723 765h0M682 717h0M725 707h0M710 709h0M701 735h0M693 711h0M714 694h0M709 772h0M732 723h0M712 733h0M668 730h0M705 707h0M705 731h0M729 764h0M711 726h0M688 701h0M683 722h0M717 743h0M684 776h0M712 704h0M731 752h0M697 770h0M723 712h0M685 740h0M744 703h0M726 765h0M692 753h0M732 733h0M738 724h0M745 727h0M694 711h0M747 719h0M716 708h0M750 716h0M678 760h0M711 726h0M687 722h0M694 707h0M715 710h0M717 736h0M731 706h0M673 745h0M756 710h0M727 713h0M678 725h0M686 753h0M719 737h0M719 758h0M714 700h0M713 743h0M713 721h0M732 754h0M724 716h0M688 748h0M719 718h0M679 719h0M727 744h0M677 705h0M707 758h0M700 703h0M717 762h0M703 755h0M685 749h0M685 778h0M706 715h0M705 763h0M743 704h0M706 736h0M707 709h0M694 720h0M720 728h0M686 703h0M748 729h0M738 725h0M702 700h0M696 731h0M686 705h0M742 698h0M682 733h0M734 751h0M718 726h0M732 716h0M718 754h0M667 712h0M739 736h0M691 722h0M739 743h0M668 750h0M732 700h0M712 714h0M725 719h0M711 725h0M711 767h0M713 738h0M711 733h0M713 751h0M720 713h0M728 745h0M674 726h0M728 732h0M719 713h0M736 732h0M719 718h0M700 699h0M683 702h0M719 704h0M697 732h0M703 720h0M643 718h0M733 747h0M725 724h0M744 718h0M723 758h0M672 740h0M726 758h0M706 714h0M694 749h0M681 725h0M718 737h0M694 704h0M681 716h0M670 750h0M723 706h0M691 698h0M717 704h0M672 756h0M676 734h0M735 704h0M645 716h0M688 722h0M698 781h0M641 725h0M680 735h0M721 714h0M641 728h0M674 705h0M669 751h0M715 728h0M727 698h0M706 766h0M708 731h0M716 719h0M727 744h0M737 720h0M742 725h0M698 724h0M701 750h0M707 698h0M724 756h0M679 705h0M688 764h0M745 697h0M702 753h0M696 779h0M738 745h0M698 748h0M735 703h0M686 694h0M726 702h0M710 713h0M697 761h0M664 722h0M686 724h0M650 726h0M747 707h0M715 743h0M649 733h0M748 712h0M664 701h0M680 727h0M687 736h0M678 739h0M739 748h0M676 700h0M734 738h0M676 731h0M747 699h0M695 724h0M694 726h0M694 725h0M714 726h0M753 708h0M754 706h0M728 715h0M718 763h0M725 744h0M681 711h0M693 710h0M692 694h0M743 706h0M728 707h0M710 701h0M690 737h0M663 714h0M706 709h0M661 721h0M660 706h0M730 741h0M727 716h0M679 759h0M734 757h0M697 748h0M681 744h0M648 732h0M728 702h0M675 729h0M711 760h0M733 723h0M671 750h0M721 721h0M699 740h0M685 711h0M701 702h0M753 711h0M704 760h0M732 716h0M651 720h0M716 732h0M708 780h0M676 719h0M714 733h0M699 715h0M683 733h0M704 694h0M680 715h0M712 720h0M728 743h0M720 699h0M713 696h0M743 698h0M711 695h0M737 735h0M722 736h0M673 733h0M737 704h0M729 713h0M710 698h0M679 709h0M729 730h0M724 732h0M727 737h0M717 738h0M709 699h0M734 723h0M701 738h0M707 712h0M729 706h0M708 741h0M716 761h0M675 719h0M718 728h0M697 723h0M681 736h0M730 737h0M692 706h0M722 733h0M689 719h0M636 718h0M719 742h0M732 711h0M708 780h0M695 775h0M681 734h0M704 739h0M732 748h0M723 724h0M698 740h0M750 702h0M688 753h0M702 735h0M665 700h0M698 762h0M711 709h0M736 730h0M716 713h0M723 717h0M706 708h0M690 754h0M723 715h0M721 752h0M731 729h0M669 735h0M715 711h0M751 720h0M713 752h0M685 770h0M671 718h0M704 719h0M715 704h0M682 700h0M716 773h0M678 722h0M664 761h0M675 747h0M729 699h0M722 702h0M718 746h0M715 746h0M749 718h0M677 701h0M693 746h0M718 716h0M700 700h0M732 709h0M659 714h0M730 731h0M658 707h0M700 784h0M654 720h0M704 714h0M682 722h0M733 740h0M730 701h0M725 730h0M652 735h0M697 733h0M700 775h0M690 740h0M708 763h0M684 745h0M709 757h0M649 712h0M717 750h0M681 720h0M708 742h0M656 737h0M710 732h0M723 712h0M649 708h0M737 733h0M685 749h0M681 755h0M718 718h0M672 755h0M728 703h0M732 708h0M652 723h0M663 746h0M686 703h0M683 729h0M708 717h0M658 732h0M694 728h0M660 727h0M697 697h0M723 710h0M728 749h0M726 702h0M674 705h0M698 722h0M708 723h0M703 738h0M695 769h0M736 709h0M735 733h0M700 733h0M716 740h0M701 729h0M746 721h0M655 734h0M681 714h0M690 737h0M660 738h0M700 712h0M663 712h0M704 708h0M697 736h0M744 716h0M713 749h0M704 702h0M708 756h0M682 732h0M736 727h0M741 718h0M700 735h0M741 717h0M696 698h0M681 763h0M728 738h0M716 760h0M738 704h0M721 750h0M703 709h0M734 748h0M715 759h0M685 696h0M699 718h0M698 779h0M723 735h0M726 718h0M736 723h0M727 738h0M690 713h0M704 741h0M692 730h0M736 710h0M677 712h0M683 718h0M659 727h0M707 755h0M736 702h0M705 702h0M747 703h0M712 710h0M691 723h0M697 702h0M690 715h0M692 699h0M681 700h0M715 755h0M674 725h0M733 700h0M712 696h0M719 751h0M721 704h0M689 723h0M733 698h0M727 710h0M746 729h0M736 732h0M734 720h0M745 729h0M716 715h0M701 706h0M676 766h0M710 713h0M704 735h0M726 745h0M722 699h0M742 701h0M663 729h0M749 707h0M714 713h0M687 735h0M713 774h0M696 775h0M723 699h0M705 734h0M693 765h0M668 724h0M737 745h0M720 749h0M717 732h0M682 702h0M694 725h0M669 750h0M716 711h0M710 706h0M662 710h0M680 731h0M712 750h0M689 699h0M730 732h0M726 701h0M683 727h0M711 739h0M653 733h0M718 748h0M740 730h0M724 745h0M685 703h0M722 718h0M686 723h0M679 738h0M744 735h0M689 770h0M716 703h0M714 729h0M674 743h0M724 752h0M706 783h0M660 748h0M717 741h0M747 711h0M689 725h0M690 698h0M639 727h0M686 770h0M722 746h0M717 718h0M683 719h0M698 703h0M695 753h0M748 704h0M685 745h0M717 708h0M711 743h0M717 701h0M724 764h0M748 713h0M662 736h0M680 703h0M738 737h0M702 708h0M682 715h0M732 752h0M684 714h0M689 722h0M666 735h0M720 762h0M692 747h0M732 743h0M665 747h0M728 719h0M667 706h0M671 752h0M701 725h0M694 702h0M705 753h0M745 724h0M649 719h0M719 773h0M747 718h0M670 752h0M747 706h0M691 742h0M691 760h0M689 702h0M733 724h0M687 760h0M728 736h0M726 716h0M648 725h0M727 716h0M653 728h0M663 702h0M714 725h0M707 701h0M742 738h0M719 705h0M688 707h0M722 724h0M664 731h0M736 742h0M681 717h0M730 747h0M684 735h0M665 733h0M713 724h0M686 749h0M732 709h0M702 777h0M730 704h0M696 742h0M668 732h0M717 712h0M666 741h0M748 703h0M735 719h0M732 706h0M727 764h0M714 724h0M729 722h0M692 723h0M697 759h0M723 737h0M665 718h0M711 696h0M727 712h0M695 697h0M694 711h0M685 718h0M695 692h0M703 712h0M682 712h0M714 703h0M698 703h0M654 749h0M688 710h0M701 778h0M730 732h0M653 719h0M730 702h0M712 729h0M685 723h0M703 719h0M715 728h0M720 763h0M688 729h0M729 699h0M683 721h0M699 783h0M713 703h0M696 786h0M712 710h0M725 733h0M694 736h0M696 781h0M713 770h0M702 730h0M693 754h0M722 703h0M745 710h0M668 724h0M719 719h0M737 736h0M668 736h0M751 710h0M706 733h0M719 738h0M704 722h0M700 744h0M693 713h0M730 712h0M735 715h0M667 752h0M713 731h0M692 766h0M696 712h0M700 749h0M706 738h0M729 726h0M725 730h0M736 719h0M704 757h0M722 698h0M640 721h0M688 696h0M726 731h0M742 718h0M722 729h0M706 726h0M742 725h0M688 718h0M732 735h0M684 740h0M725 733h0M676 723h0M746 720h0M687 697h0M739 740h0M710 770h0M711 726h0M696 747h0M730 755h0M706 744h0M673 712h0M707 751h0M709 728h0M698 715h0M696 758h0M679 750h0M736 704h0M755 712h0M690 739h0M743 741h0M659 738h0M731 732h0M717 729h0M726 708h0M663 735h0M739 747h0M713 746h0M739 701h0M723 701h0M725 724h0M705 719h0M663 705h0M752 724h0M699 706h0M706 730h0M702 774h0M709 752h0M697 725h0M715 730h0M687 713h0M715 716h0M690 742h0M714 726h0M695 721h0M661 736h0M688 749h0M716 727h0M742 713h0M724 702h0M662 726h0M684 750h0M724 744h0M740 716h0M706 733h0M638 719h0M686 703h0M636 708h0M697 717h0M703 774h0M703 732h0M660 732h0M714 729h0M716 731h0M688 751h0M705 698h0M719 730h0M724 747h0M670 697h0M742 719h0M659 702h0M706 715h0M691 749h0M710 717h0M707 751h0M722 717h0M715 781h0M671 760h0M683 713h0M659 712h0M730 720h0M721 711h0M705 726h0M689 772h0M697 781h0M713 750h0M695 709h0M736 717h0M675 705h0M726 721h0M691 765h0M706 701h0M710 703h0M720 751h0M711 723h0M719 704h0M697 746h0M716 697h0M684 730h0M684 704h0M735 747h0M729 731h0M695 721h0M687 716h0M740 704h0M729 708h0M660 730h0M696 700h0M696 720h0M728 724h0M740 718h0M733 709h0M716 729h0M688 699h0M674 715h0M716 714h0M731 740h0M690 748h0M676 753h0M720 761h0M715 743h0M710 718h0M713 730h0M714 723h0M700 752h0M679 721h0M675 742h0M708 741h0M664 725h0M702 785h0M704 710h0M708 743h0M720 762h0M691 716h0M692 730h0M681 713h0M712 710h0M698 764h0M753 709h0M708 713h0M694 703h0M700 730h0M715 772h0M754 714h0M712 708h0M742 715h0M702 733h0M653 721h0M680 709h0M697 747h0M685 703h0M676 733h0M722 696h0M683 730h0M715 770h0M713 720h0M743 723h0M688 756h0M749 702h0M718 702h0M700 747h0M713 714h0M714 772h0M717 773h0M737 702h0M678 766h0M692 725h0M696 747h0M714 717h0M741 729h0M732 727h0M697 750h0M718 728h0M672 752h0M697 722h0M643 733h0M745 702h0M653 718h0M657 750h0M714 731h0M702 715h0M706 699h0M657 708h0M703 718h0M702 700h0M684 706h0M706 781h0M734 721h0M700 705h0M722 705h0M677 725h0M736 740h0M723 701h0M696 735h0M719 745h0M699 709h0M710 749h0M707 709h0M691 753h0M708 708h0M678 757h0M664 711h0M730 753h0M689 696h0M739 717h0M693 701h0M736 739h0M689 715h0M716 749h0M685 766h0M677 739h0M710 709h0M739 708h0M728 700h0M752 706h0M681 750h0M659 732h0M724 757h0M685 757h0M700 738h0M736 730h0M697 743h0M653 726h0M699 743h0M726 737h0M741 731h0M664 720h0M689 764h0M650 742h0M709 730h0M680 731h0M666 713h0M683 765h0M752 715h0M713 698h0M710 714h0M726 760h0M663 725h0M703 735h0M651 732h0M715 705h0M710 776h0M738 741h0M716 728h0M707 713h0M707 732h0M716 746h0M703 702h0M682 740h0M662 741h0M703 748h0M663 721h0M700 730h0M720 720h0M708 753h0M696 710h0M722 743h0M705 747h0M702 725h0M714 704h0M726 736h0M689 751h0M738 750h0M680 753h0M711 774h0M688 749h0M712 715h0M726 730h0M694 741h0M706 698h0M707 717h0M698 783h0M652 717h0M701 731h0M667 733h0M676 709h0M681 712h0M705 746h0M663 732h0M707 706h0M655 707h0M695 709h0M735 717h0M711 703h0M721 709h0M704 768h0M737 713h0M675 750h0M643 713h0M687 768h0M703 706h0M671 761h0M648 708h0M717 764h0M691 748h0M666 715h0M696 763h0M727 727h0M730 745h0M679 751h0M650 735h0M713 710h0M694 742h0M719 742h0M652 731h0M731 717h0M684 724h0M693 725h0M670 761h0M657 724h0M684 763h0M739 706h0M658 725h0M653 725h0M714 725h0M688 761h0M715 705h0M702 701h0M724 763h0M723 719h0M723 702h0M749 708h0M738 696h0M743 732h0M689 764h0M744 724h0M677 718h0M722 701h0M697 715h0M711 714h0M719 734h0M725 737h0M693 711h0M713 726h0M746 726h0M713 715h0M706 729h0M679 722h0M723 765h0M725 724h0M682 750h0M687 704h0M737 746h0M694 761h0M704 763h0M710 705h0M744 736h0M710 775h0M704 785h0M713 700h0M718 704h0M715 719h0M673 753h0M686 756h0M740 699h0M712 772h0M646 729h0M728 705h0M735 736h0M667 749h0M685 726h0M644 728h0M717 708h0M701 702h0M722 739h0M687 711h0M685 731h0M665 747h0M683 724h0M663 713h0M696 736h0M692 701h0M745 715h0M683 714h0M719 711h0M743 703h0M692 717h0M735 700h0M685 707h0M722 751h0M695 699h0M726 731h0M741 697h0M683 724h0M714 758h0M731 731h0M729 755h0M721 714h0M707 719h0M649 726h0M693 718h0M699 788h0M659 736h0M722 728h0M665 750h0M728 717h0M720 725h0M658 711h0M705 731h0M693 776h0M722 709h0M642 726h0M718 730h0M700 708h0M673 723h0M726 739h0M719 723h0M690 718h0M691 732h0M712 705h0M718 716h0M743 704h0M680 715h0M713 716h0M707 775h0M669 749h0M682 715h0M681 736h0M697 753h0M743 731h0M742 736h0M718 734h0M704 772h0M711 723h0M729 752h0M690 710h0M673 730h0M744 733h0M718 754h0M697 705h0M708 775h0M703 703h0M694 701h0M653 719h0M696 730h0M714 733h0M684 746h0M742 746h0M702 736h0M717 716h0M668 751h0M733 748h0M739 702h0M722 730h0M722 726h0M695 699h0M724 704h0M702 726h0M714 715h0M654 734h0M674 712h0M705 749h0M724 702h0M744 704h0M700 733h0M713 710h0M689 731h0M709 710h0M668 730h0M711 754h0M670 718h0M705 753h0M747 706h0M707 733h0M750 722h0M681 726h0M733 712h0M749 708h0M713 778h0M651 736h0M712 759h0M749 722h0M733 742h0M698 714h0M716 719h0M746 712h0M697 750h0M722 706h0M690 717h0M715 706h0M691 715h0M744 712h0M687 716h0M701 734h0M690 762h0M717 700h0M741 730h0M731 737h0M696 750h0M672 718h0M705 724h0M710 752h0" stroke="#ececec" stroke-opacity="0.85" stroke-width="1.7" stroke-linecap="round" fill="none"/><path transform="scale(.5)" d="M703 755h0M659 740h0M672 734h0M660 711h0M653 709h0M665 719h0M662 711h0M669 740h0M640 721h0M646 718h0M689 708h0M656 700h0M686 734h0M673 716h0M660 706h0M688 736h0M671 717h0M698 741h0M675 729h0M682 748h0M647 701h0M652 723h0M670 713h0M650 716h0M661 723h0M666 729h0M689 711h0M659 710h0M655 714h0M674 757h0M654 708h0M674 709h0M656 711h0M668 738h0M636 712h0M678 738h0M669 705h0M671 705h0M685 752h0M678 707h0M677 725h0M682 734h0M658 702h0M667 711h0M677 713h0M668 723h0M649 714h0M648 727h0M656 719h0M659 714h0M660 727h0M654 726h0M668 739h0M709 711h0M689 742h0M665 729h0M684 737h0M642 712h0M662 720h0M680 722h0M657 740h0M647 722h0M654 722h0M678 705h0M659 730h0M672 735h0M671 720h0M651 718h0M649 723h0M655 702h0M669 734h0M685 737h0M659 730h0M636 718h0M673 736h0M663 719h0M639 717h0M667 703h0M682 709h0M653 730h0M642 733h0M666 719h0M671 720h0M643 730h0M681 733h0M659 709h0M668 719h0M657 704h0M691 696h0M670 753h0M660 728h0M680 705h0M644 731h0M648 726h0M673 725h0M673 705h0M677 724h0M659 711h0M666 702h0M659 737h0M669 731h0M661 739h0M668 717h0M647 732h0M651 718h0M660 729h0M659 729h0M672 713h0M657 724h0M648 732h0M657 736h0M696 737h0M670 706h0M649 707h0M661 717h0M664 726h0M661 713h0M672 720h0M670 755h0M691 739h0M644 713h0M663 739h0M670 708h0M664 734h0M663 755h0M689 737h0M642 707h0M728 701h0M650 735h0M661 724h0M641 721h0M659 726h0M674 741h0M677 722h0M663 718h0M651 720h0M689 731h0M667 727h0M650 726h0M684 735h0M710 730h0M665 712h0M660 708h0M677 718h0M663 702h0M659 723h0M673 705h0M647 707h0M678 703h0M649 712h0M699 711h0M663 727h0M678 721h0M670 732h0M655 707h0M655 719h0M678 746h0M648 734h0M669 742h0M646 712h0M677 716h0M667 706h0M676 711h0M664 702h0M697 705h0M654 714h0M653 725h0M643 712h0M670 726h0M645 713h0M677 727h0M647 704h0M678 708h0M674 718h0M674 739h0M652 709h0M682 737h0M668 721h0M661 712h0M663 748h0M684 752h0M668 738h0M664 722h0M639 705h0M673 753h0M700 722h0M677 708h0M692 708h0M664 725h0M667 705h0M703 736h0M670 712h0M683 708h0M677 743h0M655 722h0M657 719h0M674 705h0M657 724h0M650 720h0M686 740h0M661 744h0M675 720h0M659 740h0M668 748h0M649 732h0M657 719h0M658 704h0M648 722h0M674 728h0M650 736h0M656 721h0M671 749h0M669 718h0M664 707h0M688 730h0M651 703h0M675 730h0M672 711h0M671 708h0M669 751h0M648 721h0M652 721h0M661 747h0M673 720h0M686 719h0M671 722h0M660 733h0M653 720h0M680 711h0M656 708h0M687 736h0M672 705h0M680 707h0M677 738h0M681 711h0M656 710h0M680 705h0M730 750h0M651 717h0M651 731h0M655 704h0M656 737h0M647 721h0M664 730h0M667 708h0M663 714h0M696 743h0M655 713h0M675 729h0M645 720h0M657 740h0M654 733h0M641 729h0M652 740h0M674 710h0M649 734h0M673 736h0M661 728h0M642 717h0M665 718h0M652 736h0M676 735h0M669 719h0M668 703h0M676 723h0M658 706h0M648 712h0M665 723h0M670 725h0M695 709h0M651 734h0M647 731h0M653 720h0M675 717h0M647 706h0M674 717h0M687 737h0" stroke="#7cc488" stroke-opacity="0.9" stroke-width="1.7" stroke-linecap="round" fill="none"/><path transform="scale(.5)" d="M677 808h0M709 821h0M722 801h0M702 811h0M686 819h0M664 805h0M729 829h0M667 824h0M675 826h0M706 802h0M684 834h0M728 802h0M689 804h0M725 852h0M730 816h0M713 805h0M728 826h0M742 832h0M735 842h0M714 845h0M678 809h0M688 802h0M707 820h0M741 811h0M687 803h0M684 855h0M673 826h0M639 820h0M675 827h0M746 799h0M743 822h0M693 858h0M706 825h0M640 818h0M665 810h0M730 817h0M749 807h0M735 835h0M669 812h0M638 818h0M707 819h0M679 815h0M738 806h0M739 813h0M711 827h0M723 849h0M741 837h0M698 805h0M726 807h0M725 881h0M722 819h0M712 816h0M716 831h0M682 828h0M710 823h0M731 845h0M679 814h0M698 807h0M740 833h0M654 819h0M668 802h0M690 813h0M700 883h0M744 840h0M725 824h0M709 845h0M714 860h0M726 823h0M702 805h0M662 839h0M755 808h0M659 810h0M742 821h0M751 806h0M725 809h0M703 832h0M690 814h0M741 834h0M740 818h0M710 808h0M712 828h0M690 821h0M742 813h0M738 803h0M729 823h0M704 859h0M739 805h0M705 802h0M727 851h0M653 822h0M674 814h0M729 813h0M742 801h0M733 820h0M664 809h0M720 867h0M734 814h0M646 826h0M681 812h0M675 819h0M719 806h0M731 821h0M665 809h0M715 804h0M700 817h0M709 798h0M681 826h0M717 806h0M693 831h0M724 809h0M691 845h0M728 807h0M727 817h0M716 815h0M692 813h0M716 811h0M719 870h0M695 812h0M669 810h0M741 808h0M725 829h0M729 804h0M741 811h0M724 805h0M737 809h0M677 810h0M650 816h0M687 812h0M722 823h0M720 839h0M663 806h0M726 814h0M673 826h0M650 810h0M711 813h0M702 825h0M735 800h0M731 801h0M726 864h0M736 812h0M725 800h0M674 855h0M653 830h0M675 818h0M666 827h0M738 813h0M659 841h0M686 816h0M712 806h0M720 803h0M702 820h0M653 832h0M746 821h0M694 808h0M688 808h0M735 807h0M717 849h0M729 826h0M691 803h0M714 836h0M721 833h0M733 812h0M745 812h0M697 822h0M667 816h0M736 799h0M713 810h0M711 800h0M698 888h0M657 825h0M738 818h0M727 848h0M732 817h0M704 805h0M722 813h0M726 804h0M721 815h0M735 809h0M659 806h0M723 833h0M736 801h0M747 822h0M736 836h0M703 819h0M651 818h0M734 814h0M719 819h0M740 838h0M677 801h0M689 851h0M642 824h0M719 802h0M734 849h0M741 829h0M716 819h0M752 822h0M702 818h0M679 834h0M721 832h0M692 818h0M726 816h0M685 817h0M728 818h0M703 831h0M653 835h0M689 809h0M733 832h0M670 813h0M733 807h0M649 827h0M748 821h0M664 832h0M722 843h0M750 798h0M738 831h0M740 818h0M675 834h0M742 839h0M689 807h0M739 835h0M670 829h0M721 818h0M691 842h0M716 872h0M729 829h0M690 814h0M662 834h0M685 849h0M706 817h0M644 824h0M736 833h0M723 813h0M696 807h0M655 816h0M730 822h0M698 868h0M723 810h0M718 817h0M645 807h0M726 867h0M652 851h0M689 826h0M678 805h0M675 805h0M657 839h0M735 848h0M724 815h0M655 841h0M687 812h0M734 828h0M665 830h0M739 810h0M722 802h0M720 809h0M679 822h0M681 839h0M648 827h0M666 809h0M682 808h0M688 816h0M679 808h0M712 809h0M726 829h0M670 806h0M738 810h0M666 822h0M693 843h0M661 820h0M673 805h0M724 810h0M647 814h0M729 832h0M671 815h0M684 812h0M699 817h0M709 816h0M726 809h0M701 846h0M727 806h0M745 831h0M736 804h0M748 804h0M650 834h0M722 868h0M677 830h0M721 866h0M674 800h0M717 843h0M708 870h0M682 814h0M657 831h0M677 813h0M709 830h0M671 802h0M695 815h0M713 807h0M743 811h0M717 812h0M709 835h0M747 817h0M641 817h0M695 825h0M691 864h0M721 805h0M735 810h0M739 816h0M684 830h0M708 810h0M640 828h0M749 810h0M676 801h0M703 799h0M680 822h0M730 814h0M651 815h0M722 832h0M647 825h0M669 817h0M695 828h0M689 827h0M657 829h0M664 823h0M739 812h0M682 810h0M704 816h0M675 819h0M674 803h0M730 802h0M688 866h0M649 816h0M708 846h0M734 825h0M698 881h0M685 835h0M666 830h0M673 852h0M652 840h0M720 806h0M714 826h0M647 820h0M681 831h0M660 825h0M686 809h0M692 846h0M687 833h0M719 813h0M731 812h0M692 822h0M652 835h0M649 806h0M687 857h0M703 887h0M697 810h0M660 829h0M737 811h0M677 800h0M723 821h0M717 829h0M742 809h0M727 844h0M678 841h0M685 814h0M662 815h0M728 845h0M745 817h0M664 824h0M740 832h0M727 837h0M739 818h0M658 832h0M739 837h0M747 832h0M724 806h0M705 807h0M721 855h0M693 802h0M741 832h0M716 808h0M699 838h0M661 822h0M722 828h0M725 852h0M710 824h0M744 834h0M736 823h0M691 821h0M653 819h0M737 809h0M682 854h0M730 864h0M688 806h0M649 808h0M742 805h0M736 820h0M693 805h0M708 827h0M734 798h0M682 807h0M653 815h0M732 816h0M736 813h0M733 839h0M716 861h0M719 804h0M651 806h0M733 834h0M712 832h0M679 822h0M692 808h0M746 820h0M753 813h0M692 801h0M752 810h0M751 813h0M727 833h0M723 808h0M715 818h0M726 804h0M639 816h0M646 814h0M684 830h0M719 804h0M673 815h0M718 850h0M698 807h0M649 825h0M677 817h0M714 853h0M690 812h0M665 838h0M726 829h0M721 814h0M711 826h0M739 812h0M714 803h0M657 819h0M695 802h0M707 847h0M727 851h0M695 803h0M720 839h0M731 813h0M747 813h0M754 808h0M737 856h0M738 806h0M699 818h0M749 828h0M724 872h0M703 805h0M680 801h0M677 810h0M730 804h0M664 805h0M722 826h0M715 815h0M673 854h0M686 818h0M709 794h0M713 855h0M658 829h0M651 825h0M709 802h0M665 840h0M729 853h0M716 805h0M719 820h0M641 811h0M744 808h0M707 811h0M651 807h0M696 806h0M714 835h0M714 855h0M710 884h0M684 820h0M746 810h0M741 818h0M710 815h0M649 835h0M697 860h0M681 837h0M725 868h0M717 868h0M714 831h0M682 810h0M741 805h0M719 838h0M675 830h0M736 817h0M717 815h0M656 815h0M681 824h0M700 806h0M674 807h0M676 820h0M698 834h0M721 801h0M711 824h0M754 813h0M687 824h0M735 801h0M679 820h0M751 803h0M723 834h0M710 816h0M669 807h0M698 889h0M646 808h0M657 818h0" stroke="#d6d6da" stroke-opacity="0.6" stroke-width="1.5" stroke-linecap="round" fill="none"/><path transform="scale(.5)" d="M700 885h0M685 857h0M684 820h0M656 832h0M693 879h0M695 869h0M688 834h0M702 839h0M713 856h0M716 862h0M692 858h0M716 843h0M701 863h0M654 837h0M705 835h0M643 815h0M696 882h0M669 830h0M681 836h0M693 876h0M673 860h0M676 833h0M736 847h0M705 832h0M658 841h0M696 825h0M731 849h0M678 851h0M737 821h0M671 849h0M670 830h0M662 851h0M713 889h0M719 828h0M729 817h0M672 831h0M686 858h0M686 835h0M713 829h0M681 862h0M711 815h0M693 841h0M710 832h0M705 837h0M662 832h0M709 877h0M708 860h0M689 843h0M721 863h0M684 859h0M706 852h0M703 844h0M706 877h0M704 844h0M667 848h0M708 833h0M719 836h0M691 819h0M690 863h0M663 833h0M722 840h0M731 826h0M674 846h0M674 846h0M648 826h0M658 838h0M717 850h0M677 856h0M710 842h0M694 878h0M741 835h0M675 862h0M674 826h0M694 832h0M706 862h0M719 844h0M680 852h0M679 843h0M654 829h0M677 841h0M653 831h0M662 836h0M687 865h0M694 849h0M667 836h0M685 869h0M654 838h0M674 848h0M656 842h0M688 825h0M724 864h0M681 843h0M675 857h0M669 851h0M650 825h0M646 834h0M723 864h0M697 812h0M667 833h0M653 830h0M684 858h0M697 841h0M728 854h0M681 857h0M696 872h0M665 842h0M683 838h0M707 841h0M683 829h0M668 848h0M689 847h0M667 842h0M659 831h0M699 855h0M724 839h0M657 852h0M709 857h0M725 849h0M722 805h0M671 840h0M720 828h0M691 857h0M691 819h0M662 828h0M690 837h0M732 840h0M639 817h0M688 860h0M696 807h0M690 830h0M696 860h0M729 843h0M673 840h0M716 839h0M682 860h0M670 860h0M701 829h0M706 839h0M699 892h0M684 832h0M690 860h0M650 825h0M692 800h0M716 876h0M728 853h0M691 872h0M697 880h0M699 875h0M708 883h0M697 844h0M721 865h0M682 850h0M691 863h0M647 830h0M694 819h0M732 835h0M727 845h0M680 848h0M750 832h0M695 874h0M701 884h0M678 867h0M671 820h0M717 828h0M658 816h0M661 841h0M704 846h0M684 849h0M698 853h0M678 842h0M715 862h0M718 835h0M693 838h0M716 851h0M659 844h0M707 866h0M691 814h0M685 838h0M699 807h0M662 848h0M693 817h0M695 862h0M675 844h0M679 833h0M731 862h0M734 844h0M678 852h0M715 860h0M684 842h0M694 870h0M690 845h0M703 875h0M693 880h0M720 855h0M703 872h0M652 833h0M652 832h0M664 831h0M717 859h0M677 841h0M690 855h0M719 850h0M724 834h0M664 819h0M705 837h0M657 841h0M651 806h0M692 846h0M697 857h0M677 830h0M709 804h0M653 830h0M714 826h0M670 841h0M672 850h0M649 815h0M692 871h0M691 855h0M656 841h0M722 858h0M684 850h0M701 820h0M684 828h0M656 822h0M722 833h0M713 877h0M715 831h0M702 852h0M717 856h0M712 869h0M722 852h0M652 823h0M694 836h0M668 859h0M684 870h0M698 847h0M700 853h0M690 840h0M676 835h0M719 834h0M658 825h0M703 851h0M709 843h0M686 869h0M670 832h0M736 858h0M653 844h0M701 857h0M656 835h0M704 867h0M721 857h0M680 834h0M666 837h0M715 828h0M673 866h0M670 829h0M679 836h0M660 854h0M651 831h0M722 835h0M704 850h0M696 842h0M673 855h0M708 849h0M726 810h0M717 838h0M698 844h0M675 844h0M732 849h0M652 844h0M672 852h0M697 829h0M717 843h0M710 865h0" stroke="#b07468" stroke-opacity="0.55" stroke-width="1.5" stroke-linecap="round" fill="none"/><rect x="384.4" y="342.5" width="64.9" height="104.5" fill="#211c1c"/><path transform="scale(.5)" d="M788 708h0M778 724h0M779 722h0M859 747h0M812 714h0M785 714h0M879 712h0M825 727h0M837 754h0M847 746h0M832 774h0M831 752h0M816 698h0M802 751h0M772 725h0M777 710h0M843 756h0M818 751h0M792 741h0M828 769h0M809 713h0M808 704h0M846 735h0M848 741h0M779 712h0M799 721h0M814 763h0M793 727h0M796 710h0M806 748h0M786 736h0M771 717h0M779 714h0M854 738h0M881 701h0M785 712h0M852 750h0M786 737h0M867 753h0M862 727h0M788 722h0M836 702h0M788 713h0M879 711h0M818 745h0M849 756h0M835 777h0M795 717h0M806 720h0M848 779h0M821 711h0M799 703h0M847 775h0M857 728h0M788 705h0M855 699h0M818 754h0M785 707h0M827 718h0M889 704h0M802 718h0M803 709h0M775 710h0M813 711h0M839 719h0M803 702h0M815 746h0M845 772h0M780 717h0M783 728h0M853 759h0M804 705h0M792 741h0M836 786h0M818 708h0M816 708h0M872 744h0M822 747h0M851 760h0M799 722h0M802 739h0M835 759h0M791 743h0M856 710h0M795 700h0M795 727h0M831 775h0M790 706h0M840 732h0M796 706h0M787 704h0M847 741h0M802 709h0M800 745h0M808 731h0M801 743h0M846 732h0M833 775h0M838 773h0M855 751h0M842 762h0M822 723h0M797 726h0M859 747h0M799 718h0M783 711h0M809 708h0M790 718h0M859 713h0M856 715h0M805 736h0M774 719h0M798 729h0M843 788h0M823 754h0M823 740h0M776 713h0M784 713h0M775 724h0M820 728h0M796 703h0M774 729h0M856 777h0M799 724h0M855 735h0M781 714h0M786 736h0M798 733h0M838 735h0M864 746h0M851 714h0M789 714h0M847 764h0M815 750h0M841 740h0M803 724h0M816 756h0M818 754h0M828 776h0M845 767h0M831 774h0M831 737h0M784 728h0M787 720h0M854 751h0M793 713h0M794 729h0M813 756h0M820 709h0M784 712h0M783 716h0M844 784h0M800 717h0M783 714h0M818 735h0M808 754h0M821 755h0M840 765h0M787 721h0M799 735h0M796 717h0M872 712h0M841 757h0M850 699h0M859 721h0M785 703h0M791 733h0M783 714h0M784 715h0M802 730h0M782 726h0M814 749h0M884 705h0M784 725h0M795 732h0M782 710h0M796 740h0M809 730h0M800 714h0M812 712h0M799 715h0M802 733h0M791 744h0M806 751h0M820 737h0M800 730h0M824 726h0M787 739h0M859 747h0M777 740h0M811 763h0M785 725h0M786 720h0M808 723h0M810 760h0M786 711h0M808 727h0M806 741h0M801 720h0M827 723h0M877 720h0M846 775h0M804 714h0M811 725h0M797 704h0M775 731h0M804 710h0M773 731h0M831 759h0M804 741h0M794 720h0M817 708h0M823 709h0M807 703h0M880 694h0M861 766h0M778 724h0M807 757h0M789 743h0M836 756h0M823 740h0M886 718h0M817 732h0M804 714h0M793 738h0M815 729h0M790 705h0M792 732h0M856 696h0M804 753h0M808 717h0M778 709h0M805 717h0M799 739h0M823 744h0M808 707h0M804 749h0M788 720h0M780 713h0M816 728h0M791 736h0M833 715h0M869 722h0M855 715h0M787 732h0M811 715h0M809 760h0M823 765h0M800 720h0M870 747h0M869 737h0M827 765h0M799 731h0M821 733h0M806 730h0M806 710h0M839 767h0M804 706h0M832 697h0M806 746h0M816 770h0M830 747h0M881 730h0M818 737h0M781 715h0M790 736h0M814 745h0M815 739h0M819 702h0M853 748h0M777 717h0M801 716h0M825 747h0M788 712h0M818 704h0M823 740h0M785 729h0M803 714h0M795 727h0M862 724h0M795 734h0M800 724h0M784 700h0M821 710h0M797 726h0M820 702h0M801 713h0M816 728h0M804 715h0M862 753h0M811 710h0M787 700h0M842 751h0M800 715h0M835 771h0M775 725h0M786 735h0M830 747h0M799 725h0M806 715h0M790 735h0M794 718h0M853 760h0M806 734h0M804 733h0M793 702h0M833 779h0M838 784h0M868 703h0M836 768h0M787 737h0M863 751h0M875 705h0M789 722h0M843 701h0M815 727h0M841 776h0M803 718h0M791 715h0M797 732h0M809 711h0M884 722h0M783 708h0M823 748h0M883 713h0M803 721h0M826 745h0M821 732h0M845 728h0M811 720h0M831 779h0M864 713h0M788 738h0M776 725h0M823 774h0M863 766h0M867 724h0M809 718h0M806 725h0M817 765h0M797 707h0M805 723h0M842 758h0M785 726h0M776 712h0M873 729h0M807 711h0M793 711h0M799 721h0M793 721h0M838 732h0M811 759h0M773 719h0M854 755h0M832 753h0M819 769h0M800 736h0M796 752h0M792 743h0M844 784h0M802 707h0M807 731h0M808 724h0M832 744h0M832 756h0M814 698h0M804 713h0M846 761h0M774 724h0M770 727h0M810 718h0M866 701h0M814 707h0M824 769h0M847 729h0M830 700h0M793 735h0M814 745h0M833 709h0M877 712h0M873 730h0M782 714h0M796 711h0M809 764h0M829 746h0M844 761h0M857 757h0M807 724h0M786 713h0M771 723h0M819 720h0M796 748h0M791 708h0M795 705h0M795 732h0M794 715h0M830 716h0M844 783h0M796 713h0M803 748h0M804 709h0M785 714h0M859 746h0M846 749h0M794 739h0M842 760h0M831 699h0M793 712h0M810 756h0M803 749h0M816 742h0M881 707h0M783 733h0M834 739h0M805 726h0M795 728h0M788 721h0M848 787h0M795 737h0M793 747h0M832 737h0M788 707h0M781 716h0M816 707h0M785 709h0M783 725h0M846 763h0M806 750h0M831 730h0M820 706h0M808 746h0M815 721h0M788 710h0M872 704h0M825 749h0M856 724h0M809 739h0M804 721h0M806 717h0M806 733h0M800 726h0M811 728h0M776 734h0M830 773h0M886 716h0M830 778h0M795 710h0M795 712h0M800 750h0M801 723h0M869 726h0M776 719h0M803 746h0M777 710h0M806 758h0M784 711h0M871 749h0M839 776h0M833 765h0M819 738h0M837 772h0M841 776h0M829 776h0M798 713h0M861 763h0M778 723h0M824 772h0M795 712h0M790 715h0M825 763h0M808 753h0M874 729h0M812 752h0M832 762h0M833 757h0M773 718h0M789 703h0M816 722h0M839 787h0M798 723h0M868 697h0M852 782h0M863 743h0M861 750h0M797 754h0M842 768h0M780 724h0M827 756h0M846 776h0M775 716h0M798 723h0M803 742h0M808 723h0M841 732h0M850 750h0M789 712h0M837 777h0M790 734h0M799 711h0M778 726h0M776 721h0M803 734h0M829 753h0M789 732h0M825 707h0M864 749h0M870 706h0M799 718h0M807 710h0M814 740h0M838 716h0M797 705h0M826 720h0M785 733h0M808 718h0M805 713h0M793 733h0M841 762h0M830 768h0M869 733h0M833 709h0M798 738h0M794 737h0M783 737h0M862 756h0M862 702h0M830 773h0M789 732h0M794 719h0M788 716h0M845 720h0M795 742h0M838 737h0M801 739h0M810 739h0M791 745h0M871 744h0M840 727h0M780 732h0M837 699h0M837 712h0M814 728h0M810 730h0M842 766h0M802 731h0M796 714h0M802 741h0M826 779h0M831 750h0M792 727h0M806 759h0M812 744h0M814 703h0M843 732h0M805 703h0M808 727h0M817 738h0M847 765h0M795 744h0M782 715h0M811 752h0M855 737h0M778 728h0M806 736h0M802 719h0M847 747h0M825 723h0M793 712h0M803 706h0M831 766h0M810 710h0M829 749h0M832 770h0M815 766h0M840 769h0M820 762h0M779 727h0M831 770h0M854 726h0M814 755h0M811 752h0M794 732h0M819 707h0M806 743h0M807 722h0M827 758h0M775 715h0M790 716h0M825 760h0M807 717h0M839 753h0M842 780h0M777 724h0M804 712h0M829 776h0M803 701h0M832 748h0M770 720h0M800 749h0M784 709h0M791 704h0M854 721h0M874 719h0M796 753h0M836 761h0M806 707h0M778 723h0M805 707h0M813 740h0M792 714h0M821 708h0M782 715h0M809 736h0M859 737h0M851 703h0M883 725h0M822 764h0M796 711h0M812 716h0M853 733h0M784 724h0M844 778h0M835 720h0M861 701h0M855 708h0M831 766h0M800 733h0" stroke="#ececec" stroke-opacity="0.85" stroke-width="1.7" stroke-linecap="round" fill="none"/><path transform="scale(.5)" d="M817 746h0M863 746h0M851 733h0M835 715h0M808 716h0M856 733h0M858 712h0M824 781h0M837 744h0M818 732h0M885 710h0M850 704h0M842 718h0M836 748h0M823 729h0M829 717h0M873 712h0M823 768h0M833 702h0M861 700h0M819 744h0M839 730h0M874 727h0M856 726h0M829 771h0M823 751h0M875 709h0M835 737h0M838 712h0M808 721h0M869 731h0M856 718h0M859 714h0M830 746h0M868 720h0M833 700h0M855 725h0M864 703h0M810 706h0M886 726h0M822 728h0M852 719h0M856 705h0M845 703h0M859 726h0M834 707h0M835 739h0M811 738h0M853 703h0M870 713h0M841 707h0M840 712h0M810 762h0M823 696h0M844 744h0M837 701h0M872 737h0M823 754h0M814 724h0M805 731h0M807 710h0M820 746h0M817 727h0M868 709h0M841 720h0M878 728h0M838 742h0M838 707h0M869 706h0M834 751h0M865 696h0M802 717h0M827 704h0M846 715h0M882 713h0M834 702h0M820 738h0M831 706h0M805 725h0M829 700h0M856 725h0M871 731h0M855 716h0M824 730h0M864 753h0M831 709h0M843 705h0M845 728h0M875 729h0M817 702h0M816 707h0M869 719h0M809 732h0M813 739h0M849 718h0M838 713h0M838 707h0M800 735h0M827 707h0M833 715h0M879 719h0M858 723h0M801 738h0M868 722h0M883 710h0M837 724h0M837 705h0M811 701h0M818 761h0M813 716h0M846 718h0M870 712h0M787 710h0M843 718h0M834 740h0M844 705h0M857 739h0M828 707h0M882 713h0M839 765h0M854 731h0M876 732h0M856 702h0M881 712h0M857 726h0M847 706h0M860 731h0M853 703h0M826 765h0M856 717h0M866 723h0M861 735h0M875 705h0M853 727h0M841 724h0M874 718h0M828 709h0M879 710h0M813 705h0M872 721h0M856 754h0M816 751h0M844 731h0M841 741h0M828 725h0M872 749h0M864 738h0M859 705h0M824 751h0M829 718h0M866 727h0M824 748h0M831 752h0M836 765h0M843 733h0M855 733h0M850 741h0M866 746h0M856 727h0M834 773h0M838 754h0M813 699h0M825 717h0M817 721h0M872 698h0M802 729h0M864 717h0M853 698h0M843 729h0M864 706h0M826 725h0M801 747h0M794 704h0M857 754h0M839 737h0M834 716h0M824 706h0M839 747h0M862 719h0M837 746h0M873 713h0M883 700h0M858 721h0M879 706h0M852 717h0M830 740h0M871 745h0M852 702h0M835 726h0M853 743h0M831 700h0M857 727h0M834 756h0M820 769h0M826 692h0M862 737h0M865 719h0M850 725h0M880 714h0M884 725h0M843 756h0M804 741h0M868 733h0M834 729h0M824 710h0M855 705h0M803 714h0M841 707h0M854 739h0M884 710h0M812 704h0M856 741h0M870 738h0M828 766h0M841 706h0M881 717h0M870 727h0M836 711h0M864 715h0M843 739h0M826 717h0M860 759h0M812 722h0M830 726h0M851 759h0M856 730h0M842 744h0M858 711h0M830 738h0M856 706h0M868 737h0M853 734h0M836 709h0M832 710h0M831 754h0M860 712h0M841 754h0M827 760h0M780 714h0M827 711h0M861 697h0M874 694h0M884 714h0M828 706h0M870 715h0M870 707h0M836 742h0M814 721h0M827 726h0M887 700h0M849 711h0M876 726h0M852 723h0M830 736h0M832 703h0M830 734h0M865 703h0M820 701h0M853 748h0M875 738h0M872 718h0M831 702h0M866 752h0M856 702h0M826 716h0M869 697h0M850 760h0M854 721h0M811 707h0M830 708h0M839 759h0M868 700h0M849 720h0M873 719h0M840 750h0M824 704h0M845 716h0M826 710h0M871 732h0M845 749h0M842 749h0M815 725h0M833 769h0M877 724h0M866 730h0M854 732h0M885 713h0M857 743h0M855 715h0M844 694h0M857 758h0M836 721h0M855 706h0M867 715h0M837 721h0M831 707h0M845 749h0M850 719h0M854 699h0M847 739h0M838 759h0M878 736h0M826 742h0M816 723h0M791 740h0M878 698h0M802 726h0M853 744h0M859 751h0M825 724h0M868 719h0M841 755h0M817 715h0M846 720h0M825 724h0M860 739h0M850 723h0M852 722h0M866 716h0M826 709h0M853 718h0M846 699h0M883 699h0M840 745h0M869 718h0M884 705h0M833 725h0M835 758h0M828 730h0M836 722h0M847 733h0M815 722h0M854 727h0M847 697h0M817 724h0M873 720h0M848 722h0M806 710h0M858 696h0M871 711h0M881 708h0M884 734h0M835 741h0M875 732h0M830 763h0M860 708h0M856 709h0M850 715h0M820 731h0M821 750h0M851 740h0M849 756h0M881 697h0M816 713h0M840 722h0M864 725h0M880 713h0M860 723h0M827 714h0M856 723h0M863 744h0M872 717h0M854 735h0M846 741h0M841 737h0M818 712h0M804 719h0M840 723h0M862 711h0M871 718h0M866 700h0M841 740h0M836 713h0M809 720h0M876 715h0M842 743h0M843 764h0M812 749h0M833 702h0M872 701h0M875 728h0M837 720h0M835 722h0M815 727h0M833 700h0M863 743h0M839 719h0M856 735h0M839 737h0M821 709h0M839 708h0M869 710h0M833 719h0M828 743h0M864 701h0M840 705h0M858 745h0M846 733h0M858 760h0M819 759h0M847 709h0M871 723h0M851 734h0M873 727h0M856 755h0M856 697h0M838 715h0M798 745h0M845 735h0M876 707h0M819 727h0M818 748h0M803 732h0M851 717h0M824 719h0M887 726h0M858 713h0M849 752h0M835 742h0M837 714h0M847 758h0M821 735h0M853 728h0M835 734h0M842 702h0M851 726h0M835 723h0M857 707h0M840 782h0M862 707h0M811 728h0M827 749h0M837 710h0M859 720h0M816 732h0M812 743h0M851 713h0M855 752h0M843 703h0M871 722h0M835 733h0M808 740h0M813 748h0M828 706h0M834 757h0M867 734h0M880 708h0M843 698h0M848 741h0M851 766h0M858 710h0M838 747h0M870 737h0M858 718h0M869 739h0M835 734h0M844 731h0M833 720h0M820 698h0M853 725h0M806 721h0M873 724h0M885 715h0M841 706h0M847 744h0M834 705h0M842 700h0M845 700h0M836 716h0M815 755h0M836 702h0M836 715h0M830 736h0M874 727h0M813 751h0M862 761h0M821 700h0M828 705h0M846 698h0M864 705h0M815 728h0M816 743h0M801 702h0M853 709h0M856 752h0M870 725h0M815 705h0M852 725h0M837 754h0M864 736h0M812 741h0M846 740h0M854 717h0M830 713h0M867 735h0M844 758h0M822 736h0M863 728h0M834 703h0M813 752h0M876 726h0M835 735h0M870 721h0M839 714h0M844 732h0M839 748h0M875 705h0M840 706h0M861 696h0M827 708h0M809 738h0M811 749h0M854 732h0M836 725h0M858 744h0M850 695h0M856 719h0M829 701h0M848 703h0M868 755h0M870 713h0M836 740h0M851 714h0M879 728h0M825 709h0M814 742h0M818 741h0M840 707h0M808 717h0M876 705h0M876 737h0M881 736h0M826 731h0M806 734h0M879 704h0M863 701h0M868 722h0M830 704h0M807 724h0M849 744h0M848 702h0M812 705h0M885 708h0M826 723h0M827 718h0M831 710h0M873 740h0M880 713h0M829 733h0M872 727h0M860 721h0M873 712h0M793 712h0M847 734h0M863 732h0M790 749h0M852 719h0M883 712h0M812 710h0M856 708h0M870 745h0M865 728h0M838 706h0M836 771h0M822 737h0M835 701h0M829 754h0M835 752h0M811 725h0M824 723h0M821 728h0M871 734h0M877 737h0M831 707h0M882 726h0M812 727h0M855 716h0M868 759h0M830 734h0M808 756h0M827 701h0M852 732h0M835 735h0M827 710h0M860 718h0M842 725h0M856 711h0M866 737h0M848 743h0M832 723h0M837 733h0M833 762h0M874 694h0M783 739h0M868 704h0M842 753h0M856 761h0M838 758h0M850 728h0M835 735h0M857 712h0M854 722h0M795 725h0M805 738h0M880 720h0M880 735h0M822 718h0M860 706h0M854 758h0M822 761h0M858 761h0M873 722h0M834 738h0M865 728h0M856 702h0M872 716h0M801 729h0M869 723h0M840 715h0M851 697h0M855 737h0M828 740h0M856 723h0M878 735h0M867 736h0M842 744h0M875 713h0M844 769h0M874 702h0M816 751h0M874 708h0M804 708h0M832 718h0M839 714h0M839 715h0M875 717h0M819 698h0M869 727h0M847 700h0M797 746h0M823 749h0M867 714h0M872 704h0M847 723h0M859 703h0M858 693h0M792 715h0M882 713h0M866 737h0M879 700h0M834 750h0M870 740h0M878 733h0M846 740h0M838 757h0M864 735h0M813 697h0M839 733h0M855 757h0M884 715h0M863 730h0M838 730h0M830 701h0M870 718h0M858 707h0M839 720h0M830 728h0M871 706h0M868 752h0M786 726h0M857 745h0M848 761h0M876 701h0M853 752h0M827 753h0M820 716h0M859 740h0M838 726h0M816 731h0M847 719h0M866 704h0M859 751h0M864 715h0M820 701h0M800 735h0M801 723h0M813 712h0M878 721h0M885 705h0M852 706h0M847 701h0M851 734h0M859 703h0M854 747h0M812 716h0M860 751h0M864 699h0M849 734h0M860 748h0M852 738h0M802 745h0M859 698h0M884 718h0M853 744h0M820 718h0M870 723h0M818 744h0M808 729h0M832 718h0M831 705h0M828 706h0M815 724h0M886 713h0M844 724h0M868 739h0M874 710h0M820 728h0M847 727h0M819 729h0M842 720h0M828 709h0M856 705h0M854 706h0M848 728h0M862 738h0M812 720h0M810 711h0M834 722h0M868 705h0M847 742h0M864 738h0M848 711h0M868 729h0M832 718h0M839 765h0M876 728h0M817 757h0M829 768h0M863 716h0M831 705h0M817 749h0M878 712h0M827 710h0M840 706h0M842 734h0M819 749h0M865 745h0M839 716h0M819 748h0M825 729h0M873 740h0M828 695h0M834 749h0" stroke="#4cb860" stroke-opacity="0.9" stroke-width="1.7" stroke-linecap="round" fill="none"/><path transform="scale(.5)" d="M774 827h0M888 811h0M864 846h0M817 802h0M849 817h0M840 860h0M861 852h0M856 812h0M781 819h0M803 822h0M865 806h0M835 841h0M797 815h0M808 821h0M844 821h0M863 863h0M810 812h0M811 809h0M848 874h0M820 831h0M856 839h0M850 828h0M818 812h0M785 822h0M781 826h0M783 809h0M843 817h0M833 808h0M840 845h0M819 834h0M818 827h0M831 830h0M875 811h0M827 862h0M840 839h0M857 814h0M813 850h0M875 809h0M829 804h0M821 862h0M795 809h0M843 826h0M813 813h0M875 822h0M855 811h0M851 813h0M864 842h0M858 859h0M813 826h0M775 819h0M808 813h0M800 804h0M835 804h0M797 819h0M811 824h0M834 818h0M824 805h0M784 826h0M840 806h0M874 825h0M809 808h0M864 812h0M829 817h0M870 817h0M854 848h0M812 841h0M821 803h0M829 861h0M789 829h0M792 823h0M831 801h0M848 840h0M842 891h0M838 802h0M808 820h0M775 828h0M802 840h0M838 865h0M851 820h0M855 799h0M770 825h0M859 816h0M794 819h0M810 830h0M789 809h0M815 854h0M778 828h0M807 820h0M799 843h0M873 843h0M866 821h0M801 855h0M807 859h0M782 815h0M799 818h0M868 821h0M826 808h0M844 845h0M871 819h0M879 812h0M809 816h0M803 824h0M814 819h0M872 802h0M863 830h0M804 841h0M830 836h0M812 805h0M888 807h0M788 841h0M842 856h0M786 807h0M838 803h0M868 822h0M828 838h0M885 838h0M882 800h0M855 844h0M824 822h0M857 835h0M875 817h0M826 810h0M839 811h0M883 825h0M882 816h0M826 808h0M810 813h0M774 818h0M876 811h0M859 814h0M830 806h0M847 802h0M838 843h0M877 842h0M873 802h0M854 842h0M780 812h0M859 805h0M859 805h0M874 839h0M840 809h0M829 866h0M835 819h0M826 836h0M828 824h0M778 826h0M808 830h0M813 828h0M873 824h0M794 807h0M884 808h0M797 812h0M859 853h0M844 861h0M838 892h0M811 817h0M878 809h0M819 819h0M827 811h0M776 813h0M865 811h0M853 868h0M854 812h0M821 805h0M778 809h0M832 805h0M825 844h0M829 809h0M880 802h0M788 813h0M841 814h0M829 801h0M872 826h0M871 807h0M841 839h0M848 802h0M810 800h0M843 851h0M851 806h0M808 810h0M799 810h0M842 807h0M803 820h0M831 806h0M803 806h0M804 822h0M871 827h0M823 809h0M791 813h0M863 847h0M843 812h0M806 819h0M808 811h0M834 804h0M850 832h0M810 823h0M825 820h0M863 852h0M798 837h0M841 809h0M793 829h0M881 808h0M817 806h0M797 811h0M805 835h0M861 835h0M824 848h0M779 814h0M853 847h0M835 811h0M850 856h0M796 826h0M868 854h0M863 866h0M837 874h0M849 846h0M859 847h0M776 825h0M841 800h0M834 808h0M838 873h0M840 839h0M822 802h0M802 849h0M787 826h0M837 842h0M812 834h0M810 805h0M781 807h0M834 856h0M861 862h0M828 857h0M797 826h0M845 807h0M815 817h0M865 830h0M827 810h0M843 808h0M809 823h0M843 855h0M841 812h0M779 825h0M888 809h0M800 818h0M778 830h0M856 854h0M864 841h0M827 808h0M865 809h0M808 855h0M820 813h0M790 842h0M869 808h0M823 818h0M828 799h0M812 810h0M811 803h0M837 820h0M809 810h0M824 803h0M829 828h0M808 805h0M786 831h0M808 818h0M849 818h0M841 835h0M824 816h0M839 814h0M873 812h0M834 853h0M783 820h0M787 811h0M822 819h0M878 807h0M803 831h0M828 839h0M782 823h0M847 817h0M831 818h0M880 804h0M876 809h0M818 870h0M786 836h0M852 821h0M824 872h0M818 849h0M776 823h0M860 816h0M798 837h0M797 845h0M860 840h0M852 814h0M802 827h0M835 840h0M834 821h0M816 840h0M808 807h0M866 851h0M795 824h0M803 810h0M840 832h0M874 834h0M807 839h0M810 813h0M782 818h0M812 807h0M863 813h0M817 815h0M831 847h0M838 835h0M801 818h0M834 812h0M878 814h0M850 840h0M867 835h0M785 809h0M827 817h0M800 831h0M842 804h0M824 811h0M811 822h0M802 834h0M823 861h0M824 836h0M819 838h0M822 824h0M877 815h0M820 830h0M881 807h0M867 845h0M864 814h0M812 805h0M775 817h0M809 813h0M800 826h0M795 840h0M851 843h0M785 804h0M867 844h0M876 843h0M836 810h0M842 806h0M816 807h0M846 857h0M800 835h0M810 829h0M800 813h0M841 857h0M784 834h0M840 820h0M822 817h0M783 816h0M833 799h0M790 812h0M848 820h0M825 847h0M836 872h0M824 882h0M867 797h0M848 842h0M850 851h0M832 822h0M826 845h0M874 844h0M831 885h0M819 820h0M824 816h0M794 847h0M811 830h0" stroke="#d6d6da" stroke-opacity="0.6" stroke-width="1.5" stroke-linecap="round" fill="none"/><path transform="scale(.5)" d="M855 864h0M816 870h0M796 853h0M810 831h0M780 829h0M856 829h0M855 850h0M818 844h0M814 830h0M804 839h0M813 840h0M800 840h0M840 846h0M774 817h0M802 840h0M850 868h0M806 850h0M827 841h0M788 839h0M845 872h0M830 854h0M870 857h0M822 852h0M787 837h0M833 865h0M851 823h0M845 880h0M788 834h0M838 867h0M822 804h0M841 809h0M778 810h0M847 849h0M780 821h0M838 832h0M825 858h0M786 823h0M837 856h0M801 830h0M842 832h0M857 852h0M833 822h0M779 821h0M825 835h0M847 871h0M789 824h0M809 846h0M859 859h0M840 875h0M835 876h0M802 845h0M804 843h0M826 833h0M813 863h0M813 866h0M833 818h0M810 866h0M818 857h0M789 812h0M830 862h0M835 873h0M831 851h0M838 834h0M842 853h0M812 830h0M797 835h0M818 823h0M845 840h0M855 868h0M842 877h0M858 833h0M806 816h0M841 874h0M796 832h0M810 847h0M815 846h0M820 868h0M828 854h0M864 849h0M805 859h0M850 854h0M836 869h0M801 839h0M829 873h0M868 857h0M791 833h0M847 858h0M844 829h0M821 827h0M801 853h0M849 849h0M834 844h0M847 838h0M793 842h0M820 854h0M828 829h0M788 832h0M819 878h0M858 851h0M846 835h0M872 819h0M862 824h0M843 829h0M795 856h0M853 861h0M818 816h0M861 856h0M802 854h0M807 853h0M806 834h0M842 861h0M771 824h0M830 826h0M854 852h0M778 830h0M810 846h0M841 870h0M809 849h0M856 837h0M812 856h0M829 855h0M829 856h0M825 834h0M778 822h0M851 868h0M845 835h0M822 819h0M851 844h0M837 864h0M841 813h0M848 867h0M798 850h0M840 856h0M804 807h0M833 844h0M831 861h0M836 831h0M778 829h0M846 880h0M845 838h0M803 842h0M826 870h0M816 836h0M780 825h0M791 829h0M801 828h0M840 882h0M831 831h0M834 837h0M840 842h0M810 859h0M813 855h0M820 835h0M824 823h0M844 845h0M836 862h0M854 853h0M830 853h0M842 837h0M863 854h0M839 859h0M844 855h0M804 826h0M810 826h0M846 849h0M806 849h0M855 823h0M845 848h0M776 832h0M831 828h0M836 839h0M821 862h0M839 883h0M824 830h0M815 836h0M801 818h0M829 880h0M781 840h0M840 810h0M798 847h0M790 821h0M861 833h0M826 877h0M788 837h0M802 860h0M815 840h0M845 830h0M786 835h0M846 856h0M832 878h0M819 864h0M776 829h0M813 829h0M826 862h0M843 843h0M829 879h0M824 847h0M838 856h0M791 840h0M800 826h0M824 867h0M855 853h0M825 868h0M873 820h0M871 832h0M819 862h0M814 867h0M811 862h0M801 811h0M820 859h0M849 878h0M832 842h0M861 826h0M803 809h0M800 853h0M814 848h0M800 852h0M809 869h0M789 822h0M788 820h0M790 849h0M825 855h0M785 832h0M822 837h0M820 820h0M835 842h0M804 834h0M845 824h0M848 852h0M825 854h0M823 814h0M856 853h0M839 864h0M803 849h0M810 848h0M834 875h0M774 816h0M806 851h0M794 808h0M781 812h0M855 853h0M836 885h0M864 843h0M793 821h0M783 838h0M859 869h0M809 860h0M843 855h0M797 831h0M788 836h0M825 853h0M810 812h0M836 845h0M801 841h0M836 832h0M800 853h0M824 837h0M826 851h0M791 847h0M797 839h0M789 842h0" stroke="#b07468" stroke-opacity="0.55" stroke-width="1.5" stroke-linecap="round" fill="none"/><path transform="scale(.5)" d="M850 808h0M875 803h0M877 826h0M882 820h0M864 818h0M857 809h0M857 859h0M853 812h0M874 806h0M857 801h0M860 835h0M880 810h0M872 829h0M843 803h0M874 798h0M851 809h0M873 810h0M871 827h0M838 807h0M864 830h0M847 839h0M873 834h0M877 806h0M886 825h0M877 823h0M845 841h0M879 814h0M879 812h0M859 813h0M853 809h0M852 814h0M881 823h0M851 823h0M852 802h0M861 841h0M873 844h0M859 841h0M863 814h0M864 816h0M879 811h0M865 807h0M849 849h0M874 812h0M871 797h0M876 808h0M875 805h0M874 821h0M833 802h0M859 815h0M874 833h0M876 822h0M861 803h0M852 818h0M881 810h0M864 814h0M873 808h0M858 807h0M860 802h0M878 834h0M863 802h0M862 813h0M877 807h0M848 843h0M840 832h0M857 817h0M858 823h0M886 812h0M876 821h0M865 798h0M858 812h0M811 818h0M859 840h0M865 831h0M856 807h0M859 825h0M887 817h0M874 830h0M841 814h0M867 829h0M860 800h0M874 812h0M856 829h0M882 807h0M859 816h0M877 830h0M879 807h0M865 830h0M840 813h0M870 811h0M862 825h0M841 848h0M878 807h0M852 820h0M851 854h0M857 833h0M877 811h0M862 828h0M873 807h0M853 807h0M857 818h0M861 802h0M881 840h0M865 846h0M886 832h0M871 801h0M880 817h0M871 827h0M852 822h0M867 825h0M875 820h0M886 806h0M882 819h0M889 804h0M855 811h0M879 830h0M852 830h0M880 814h0M870 813h0M866 823h0M883 816h0M847 831h0M845 812h0M877 818h0M852 805h0M860 815h0M864 818h0M876 802h0M874 810h0M863 811h0M856 807h0M856 828h0M854 857h0M848 826h0M854 807h0M866 805h0M872 815h0M851 833h0M853 806h0M860 801h0M855 816h0M824 822h0M831 816h0" stroke="#5a82c2" stroke-opacity="0.75" stroke-width="1.5" stroke-linecap="round" fill="none"/><rect x="452.2" y="342.5" width="64.8" height="104.5" fill="#211c1c"/><path transform="scale(.5)" d="M935 709h0M911 725h0M933 704h0M995 760h0M923 709h0M939 710h0M932 717h0M983 751h0M943 702h0M983 731h0M949 712h0M933 709h0M959 752h0M965 721h0M990 765h0M910 723h0M954 757h0M933 707h0M965 717h0M910 714h0M932 724h0M935 732h0M1011 742h0M950 751h0M966 767h0M1015 725h0M924 742h0M954 706h0M920 717h0M934 726h0M956 721h0M932 752h0M1006 744h0M963 747h0M962 752h0M963 706h0M926 704h0M949 729h0M909 717h0M965 767h0M971 705h0M946 755h0M922 722h0M985 760h0M955 709h0M922 700h0M925 726h0M947 766h0M924 711h0M938 734h0M996 747h0M971 704h0M919 726h0M987 710h0M991 721h0M986 767h0M947 763h0M917 718h0M941 698h0M961 774h0M910 722h0M981 744h0M1011 703h0M1015 700h0M970 767h0M964 746h0M960 740h0M971 723h0M967 777h0M961 711h0M934 708h0M968 721h0M920 723h0M949 754h0M996 709h0M936 709h0M928 721h0M985 716h0M936 750h0M984 732h0M912 732h0M927 709h0M1005 748h0M917 716h0M978 727h0M971 714h0M984 749h0M959 725h0M916 730h0M972 731h0M957 736h0M1000 710h0M934 713h0M931 742h0M928 718h0M942 759h0M943 698h0M949 718h0M929 742h0M934 709h0M962 754h0M971 742h0M948 734h0M961 700h0M954 730h0M966 751h0M940 751h0M958 720h0M950 756h0M1021 703h0M960 723h0M939 713h0M959 760h0M942 752h0M926 705h0M934 735h0M960 748h0M924 721h0M1004 745h0M942 732h0M958 701h0M978 706h0M977 706h0M956 743h0M962 698h0M932 703h0M959 723h0M926 728h0M956 714h0M984 746h0M934 713h0M957 713h0M940 700h0M945 757h0M944 719h0M923 730h0M954 701h0M933 743h0M933 719h0M932 728h0M928 714h0M953 708h0M971 712h0M964 783h0M943 731h0M980 747h0M945 727h0M969 699h0M988 751h0M949 724h0M959 768h0M933 722h0M983 707h0M954 740h0M930 729h0M980 714h0M993 713h0M945 733h0M949 767h0M964 695h0M937 728h0M998 716h0M990 757h0M1007 730h0M954 707h0M934 737h0M914 719h0M921 705h0M954 731h0M952 708h0M932 701h0M938 755h0M935 721h0M957 702h0M913 730h0M977 775h0M947 701h0M986 750h0M964 733h0M1002 749h0M962 722h0M944 719h0M968 738h0M980 762h0M962 733h0M951 715h0M967 772h0M928 712h0M934 711h0M979 752h0M931 740h0M993 712h0M932 714h0M937 754h0M1005 724h0M963 717h0M978 753h0M958 742h0M978 761h0M1017 720h0M987 759h0M910 718h0M943 698h0M920 709h0M935 711h0M963 747h0M1013 710h0M932 748h0M934 709h0M920 715h0M994 769h0M942 749h0M1007 735h0M972 701h0M1001 753h0M949 705h0M994 733h0M958 769h0M965 731h0M954 741h0M977 715h0M930 730h0M924 709h0M978 787h0M948 734h0M962 716h0M943 727h0M943 726h0M938 716h0M971 774h0M961 777h0M1013 713h0M941 717h0M954 698h0M924 707h0M928 708h0M914 720h0M973 701h0M948 772h0M943 738h0M919 706h0M1026 701h0M1006 719h0M981 711h0M948 703h0M926 716h0M961 715h0M964 709h0M952 744h0M922 718h0M958 721h0M917 706h0M991 730h0M970 733h0M971 712h0M961 729h0M981 740h0M1002 732h0M982 707h0M925 713h0M970 715h0M919 718h0M918 711h0M956 727h0M987 716h0M928 742h0M982 769h0M960 707h0M914 718h0M917 713h0M944 717h0M971 773h0M949 742h0M964 709h0M953 721h0M960 718h0M975 745h0M944 722h0M974 731h0M941 729h0M950 731h0M914 715h0M966 702h0M923 730h0M946 761h0M963 775h0M958 729h0M963 729h0M994 726h0M930 709h0M928 722h0M932 707h0M925 707h0M960 752h0M957 724h0M961 724h0M972 720h0M982 707h0M963 719h0M927 698h0M943 720h0M1001 734h0M925 711h0M986 716h0M914 721h0M954 760h0M954 726h0M906 710h0M969 723h0M972 758h0M927 728h0M928 717h0M948 736h0M981 731h0M927 739h0M995 712h0M997 698h0M956 712h0M944 706h0M917 713h0M965 723h0M969 771h0M918 701h0M971 700h0M1011 725h0M1011 706h0M1006 720h0M955 703h0M963 713h0M986 750h0M964 700h0M922 739h0M960 701h0M966 773h0M915 716h0M933 711h0M917 710h0M941 752h0M922 727h0M933 727h0M991 754h0M922 710h0M974 697h0M933 711h0M1001 754h0M963 696h0M931 707h0M951 738h0M946 711h0M919 735h0M970 709h0M919 704h0M933 707h0M949 723h0M943 753h0M1000 729h0M916 711h0M935 717h0M951 752h0M984 767h0M1010 718h0M963 775h0M969 759h0M916 720h0M948 717h0M949 755h0M950 714h0M985 753h0M1016 718h0M959 741h0M931 710h0M946 709h0M951 707h0M922 731h0M979 735h0M926 730h0M965 745h0M914 715h0M938 724h0M955 702h0M939 721h0M916 732h0M929 734h0M938 758h0M970 711h0M923 716h0M922 711h0M944 726h0M913 712h0M968 706h0M986 716h0M969 711h0M962 751h0M963 728h0M988 737h0M926 704h0M1020 711h0M975 743h0M944 738h0M946 706h0M968 758h0M934 725h0M918 713h0M927 740h0M988 702h0M919 720h0M925 734h0M930 720h0M945 713h0M957 737h0M996 713h0M977 746h0M973 702h0M938 744h0M931 715h0M953 754h0M1001 716h0M986 711h0M944 756h0M948 763h0M929 715h0M970 728h0M956 757h0M969 741h0M917 729h0M962 747h0M986 775h0M1003 738h0M995 738h0M1004 735h0M950 715h0M937 747h0M960 767h0M968 770h0M932 718h0M932 734h0M941 721h0M926 726h0M954 726h0M910 723h0M916 722h0M988 738h0M950 717h0M918 734h0M921 742h0M974 730h0M938 724h0M991 709h0M977 736h0M954 702h0M936 732h0M998 727h0M935 729h0M962 700h0M951 700h0M944 745h0M932 698h0M1013 709h0M983 780h0M957 753h0M925 703h0M999 720h0M968 720h0M972 789h0M926 728h0M982 777h0M915 716h0M945 744h0M927 714h0M985 698h0M921 721h0M949 754h0M927 745h0M968 783h0M984 759h0M1002 762h0M976 728h0M1010 730h0M1011 724h0M1015 729h0M939 760h0M1020 716h0M957 709h0M944 756h0M927 735h0M997 705h0M991 774h0M913 726h0M921 715h0M939 714h0M929 708h0M958 710h0M978 777h0M958 706h0M956 725h0M983 704h0M950 749h0M1015 699h0M941 747h0M984 733h0M965 709h0M946 744h0M961 744h0M930 705h0M930 732h0M934 747h0M960 703h0M918 723h0M961 717h0M916 709h0M935 721h0M912 712h0M936 707h0M951 706h0M946 735h0M934 717h0M1022 715h0M956 709h0M931 720h0M928 737h0M995 759h0M954 724h0M954 758h0M909 725h0M911 721h0M936 739h0M988 754h0M938 707h0M936 729h0M973 706h0M956 715h0M989 725h0M921 735h0M972 733h0M977 775h0M966 748h0M944 707h0M948 732h0M952 742h0M1010 725h0M977 777h0M973 739h0M932 743h0M943 719h0M932 704h0M930 702h0M950 713h0M913 705h0M957 729h0M915 733h0M962 721h0M935 755h0M989 770h0M1016 716h0M990 714h0M950 705h0M1009 714h0M925 732h0M968 732h0M983 704h0M938 711h0M978 722h0M908 723h0M930 741h0M1011 707h0M976 767h0M950 760h0M1009 718h0M934 733h0M991 755h0M971 777h0M926 742h0M975 741h0M927 710h0M940 713h0M1004 752h0M934 735h0M921 709h0M932 710h0M938 752h0M931 714h0M986 764h0M985 703h0M970 735h0M959 721h0M945 746h0M939 735h0M911 705h0M976 719h0M911 709h0M912 720h0M941 698h0M968 760h0M918 745h0M927 708h0M985 757h0M958 737h0M947 726h0M920 712h0M958 711h0M961 761h0M927 744h0M951 704h0M990 727h0M946 734h0M923 718h0M910 711h0M966 728h0M974 705h0M948 741h0M949 728h0M930 720h0M945 767h0M924 741h0M940 750h0M952 736h0M914 713h0M970 753h0M940 730h0M924 719h0M1022 705h0M966 743h0M984 777h0M928 724h0M973 712h0M962 724h0M929 738h0M928 741h0M961 718h0M984 731h0M925 740h0M995 733h0M945 754h0M980 700h0M953 726h0M942 709h0M971 714h0M935 735h0M953 710h0M934 712h0M974 704h0M936 704h0M950 729h0M1002 719h0M982 745h0M1003 704h0M932 748h0M999 718h0M986 729h0M1009 733h0M954 751h0M930 726h0M919 722h0M964 705h0M934 723h0M970 782h0M945 736h0M943 710h0M985 733h0M972 761h0M993 762h0M965 743h0M982 741h0M1009 720h0M934 749h0M926 729h0M947 708h0M933 718h0M998 716h0M994 719h0M983 726h0M968 758h0M938 751h0M983 764h0M955 727h0M935 701h0M988 748h0M942 737h0M993 721h0M959 731h0M961 782h0M943 730h0M965 744h0M926 709h0M974 704h0M911 724h0M918 732h0M974 751h0M949 702h0M943 714h0M936 734h0M923 717h0M937 713h0M945 735h0M921 721h0M950 715h0M918 723h0M934 731h0M938 727h0M947 763h0M916 722h0M993 743h0M954 731h0M971 769h0M976 712h0M951 728h0M936 707h0M916 719h0M961 761h0M959 753h0M990 739h0M959 744h0M977 718h0M922 733h0M934 706h0M936 738h0M922 726h0M944 743h0M990 748h0M978 772h0M964 752h0M1023 721h0M974 731h0M972 760h0M966 738h0M986 700h0M926 724h0M939 750h0M909 724h0M946 748h0M919 730h0M975 772h0M986 766h0M956 755h0M952 707h0M943 744h0M942 728h0M951 769h0M955 718h0M924 720h0M947 749h0M931 707h0M929 709h0M958 727h0M943 734h0M953 719h0M958 734h0M955 730h0M980 767h0M929 725h0M911 714h0M977 708h0M1013 703h0M995 701h0M969 751h0M923 722h0M1002 699h0M936 711h0M935 720h0M961 758h0M968 732h0M965 759h0M955 778h0M946 708h0M981 725h0M972 773h0M979 768h0M969 769h0M983 761h0M973 708h0M977 771h0M956 749h0M991 755h0M961 738h0M950 698h0M920 733h0M927 739h0M948 719h0M992 712h0M942 707h0M943 751h0M963 776h0M1006 724h0M969 708h0M942 725h0M978 782h0M914 703h0M968 742h0M957 711h0M983 742h0M919 708h0M927 723h0M933 731h0M949 712h0M962 736h0M925 732h0M971 773h0M953 703h0M911 718h0M958 741h0M917 725h0M947 705h0M938 730h0M938 710h0M942 726h0M917 721h0M958 743h0M954 755h0M930 710h0M1001 712h0M934 709h0M938 705h0" stroke="#ececec" stroke-opacity="0.85" stroke-width="1.7" stroke-linecap="round" fill="none"/><path transform="scale(.5)" d="M1001 756h0M980 737h0M978 721h0M990 739h0M998 725h0M972 747h0M1009 711h0M970 750h0M943 737h0M1017 725h0M1022 717h0M986 738h0M990 730h0M975 693h0M965 736h0M1024 710h0M1021 700h0M975 703h0M987 747h0M994 736h0M1014 738h0M1007 747h0M1019 733h0M956 698h0M997 734h0M973 722h0M965 731h0M996 717h0M953 766h0M979 717h0M1012 699h0M974 708h0M991 735h0M1000 718h0M975 728h0M988 733h0M987 713h0M984 732h0M981 701h0M969 714h0M995 708h0M986 719h0M986 720h0M1020 713h0M974 756h0M964 708h0M1012 703h0M989 721h0M959 721h0M1020 710h0M978 699h0M1017 716h0M978 773h0M1017 730h0M1011 717h0M983 706h0M990 708h0M986 741h0M1002 730h0M985 728h0M994 738h0M972 726h0M1014 735h0M1004 706h0M1012 703h0M987 721h0M1007 716h0M1006 732h0M992 758h0M991 702h0M990 741h0M1008 742h0M981 720h0M988 705h0M998 719h0M962 702h0M978 737h0M1004 740h0M1011 712h0M989 699h0M1008 718h0M982 712h0M1011 699h0M990 722h0M949 702h0M1003 721h0M1012 712h0M974 755h0M1007 721h0M1002 712h0M1018 724h0M955 721h0M1000 695h0M960 733h0M967 700h0M959 699h0M982 751h0M958 741h0M1007 729h0M1003 732h0M977 736h0M970 720h0M975 717h0M975 759h0M1008 724h0M978 725h0M963 698h0M1007 710h0M961 716h0M1019 706h0M968 733h0M990 730h0M946 737h0M1002 707h0M979 730h0M986 702h0M1017 723h0M975 707h0M994 729h0M990 720h0M964 698h0M1010 702h0M962 748h0M1007 723h0M989 724h0M970 748h0M971 702h0M951 762h0M982 709h0M1017 700h0M1021 719h0M1024 708h0M1012 725h0M975 746h0M1016 711h0M983 759h0M978 714h0M1015 703h0M1003 724h0M992 723h0M955 711h0M1010 720h0M962 744h0M980 740h0M977 728h0M986 718h0M1018 735h0M997 716h0M1017 713h0M972 760h0M983 709h0M1000 701h0M958 756h0M996 711h0M957 718h0M968 748h0M1001 733h0M933 710h0M973 732h0M988 700h0M976 728h0M996 739h0M1012 741h0M1003 710h0M961 717h0M1008 699h0M989 732h0M1015 722h0M985 717h0M972 751h0M1009 724h0M990 722h0M992 719h0M990 718h0M962 729h0M965 696h0M968 762h0M1005 702h0M984 735h0M999 733h0M962 757h0M993 703h0M1013 706h0M1008 730h0M1012 733h0M999 699h0M981 744h0M926 711h0M977 703h0M988 739h0M991 711h0M1012 702h0M970 701h0M990 728h0M1009 749h0M959 701h0M1014 717h0M948 732h0M1002 737h0M966 699h0M976 735h0M947 734h0M930 723h0M987 696h0M1000 719h0M989 730h0M991 711h0M1023 710h0M1012 733h0M998 738h0M963 757h0M961 740h0M963 741h0M996 718h0M1011 719h0M987 702h0M957 703h0M996 709h0M967 753h0M985 712h0M985 730h0M978 694h0M997 725h0M1003 727h0M982 699h0M966 703h0M934 730h0M975 737h0M989 694h0M975 741h0M982 761h0M986 757h0M974 742h0M959 700h0M981 743h0M995 733h0M960 725h0M987 745h0M970 701h0M982 725h0M974 741h0M999 726h0M1016 718h0M998 726h0M1016 721h0M972 712h0M1018 727h0M1015 698h0M955 747h0M970 751h0M960 711h0M964 716h0M986 708h0M1001 708h0M980 744h0M992 730h0M959 754h0M1000 721h0M1010 700h0M1005 719h0M995 703h0M1020 701h0M969 740h0M990 715h0M1000 719h0M1004 738h0M976 726h0M968 716h0M989 703h0M989 711h0M990 757h0M955 717h0M968 733h0M996 713h0M1002 708h0M1012 704h0M976 699h0M998 740h0M976 700h0M963 715h0M994 714h0M951 715h0M973 724h0M1003 725h0M1013 706h0M988 727h0M996 722h0M996 721h0M990 731h0M976 727h0M980 779h0M1011 710h0M992 748h0M978 732h0M965 703h0M970 705h0M1014 721h0M971 716h0M1016 726h0M987 708h0M998 725h0M1017 713h0M993 725h0M967 715h0M973 710h0M998 700h0M955 739h0M997 722h0M981 739h0M1006 702h0M993 724h0M980 715h0M948 761h0M998 714h0M966 744h0M994 710h0M1015 698h0M962 736h0M994 705h0M953 726h0M1007 720h0M977 737h0M996 723h0M994 707h0M1002 720h0M988 702h0M969 722h0M967 704h0M982 699h0M1005 707h0M950 710h0M963 744h0M1006 730h0M992 707h0M981 744h0M986 702h0M980 712h0M971 723h0M973 727h0M980 714h0M1003 711h0M977 696h0M969 699h0M997 757h0M969 753h0M988 737h0M1019 730h0M1010 720h0M1020 721h0M963 733h0M975 759h0M981 752h0M965 714h0M1000 704h0M1000 730h0M1010 726h0M972 697h0M976 709h0M965 746h0M997 710h0M964 768h0M1010 713h0M991 722h0M973 713h0M970 710h0M1001 743h0M967 701h0M982 728h0M973 744h0M999 697h0M984 732h0M966 730h0M964 736h0M984 735h0M966 718h0M976 750h0M982 723h0M974 705h0M984 709h0M992 701h0M972 740h0M1005 728h0M979 714h0M976 731h0M974 726h0M1012 738h0M1004 742h0M976 742h0M1008 711h0M995 754h0M1000 724h0M995 699h0M960 703h0M996 700h0M1012 734h0M982 707h0M1016 720h0M1011 703h0M1002 705h0M995 707h0M973 719h0M989 702h0M976 698h0M960 704h0M980 706h0M964 718h0M974 707h0M1000 717h0M977 728h0M1002 702h0M991 750h0M989 715h0M990 724h0M1000 704h0M1018 706h0M1007 717h0M987 702h0M960 716h0M938 744h0M997 696h0M965 705h0M956 697h0M1011 743h0M1025 716h0M994 736h0M990 721h0M1005 710h0M1007 741h0M1013 701h0M977 737h0M979 717h0M990 709h0M991 698h0M982 744h0M958 705h0M1010 705h0M963 717h0M1002 718h0M1010 715h0M1011 714h0M996 707h0M1003 747h0M987 750h0M1005 702h0M971 701h0M998 723h0M1006 750h0M1014 707h0M958 701h0M968 745h0M958 730h0M990 741h0M997 703h0M971 747h0M979 718h0M1010 743h0M990 729h0M1006 753h0M1006 706h0M982 753h0M969 697h0M999 733h0M999 733h0M1006 711h0M978 726h0M974 703h0M991 709h0M980 727h0M992 765h0M963 707h0M999 748h0M962 707h0M965 739h0M980 700h0M972 775h0M1010 745h0M985 727h0M1020 725h0M1002 698h0M1009 730h0M987 708h0M977 721h0M1007 710h0M981 715h0M983 743h0M1011 705h0M976 694h0M975 723h0M972 716h0M961 735h0M1014 731h0M970 722h0M971 701h0M986 751h0M998 718h0M973 745h0M983 699h0M986 772h0M1009 713h0M965 725h0M966 715h0M1017 725h0M961 719h0M976 724h0M993 736h0M1004 708h0M952 709h0M997 747h0M1005 713h0M972 710h0M999 716h0M995 711h0M1013 717h0M1007 722h0M982 752h0M998 733h0M1003 743h0M1018 701h0M999 737h0M982 713h0M987 721h0M970 707h0M990 751h0M973 728h0M988 765h0M971 709h0M965 733h0M1002 713h0M1005 706h0M977 699h0M992 712h0M991 727h0M1009 719h0M1003 697h0M1011 741h0M998 705h0M994 720h0M1007 716h0M968 748h0M1012 733h0M985 707h0M1019 725h0M997 752h0M1017 717h0M988 708h0M990 715h0M1022 705h0M963 734h0M1010 739h0M1005 710h0M938 730h0M959 727h0M982 744h0M956 705h0M980 727h0M974 756h0M971 715h0M998 740h0M988 706h0M958 709h0M1004 730h0M1008 707h0M960 721h0M1002 703h0M982 743h0M966 753h0M989 729h0M994 725h0M963 764h0M972 721h0M1021 718h0M984 736h0M1023 715h0M993 711h0M985 716h0M1018 726h0M986 715h0M982 746h0M960 756h0M956 702h0M1011 705h0M989 757h0M984 720h0M971 725h0M984 705h0M962 721h0M982 727h0M1011 730h0M970 710h0M1004 714h0M1004 747h0M977 718h0M930 701h0M980 709h0M985 766h0M1002 739h0M979 697h0M1019 705h0M953 711h0M965 712h0M980 721h0M988 735h0M1009 738h0M972 730h0M970 699h0M974 729h0M983 706h0M995 700h0M967 716h0M1014 718h0M974 711h0M990 728h0M975 701h0M1004 724h0M1023 705h0M954 723h0M979 724h0M1014 721h0M997 724h0M975 721h0M1004 716h0M987 727h0" stroke="#4cb860" stroke-opacity="0.9" stroke-width="1.7" stroke-linecap="round" fill="none"/><path transform="scale(.5)" d="M942 863h0M989 870h0M998 827h0M985 826h0M912 835h0M992 846h0M945 813h0M958 803h0M987 841h0M1010 817h0M947 802h0M933 835h0M1013 819h0M924 808h0M916 829h0M940 852h0M990 807h0M951 827h0M915 824h0M1005 854h0M966 880h0M957 878h0M1016 832h0M998 810h0M965 843h0M1004 842h0M990 813h0M979 805h0M1019 823h0M1013 822h0M956 812h0M929 821h0M940 829h0M997 863h0M947 831h0M948 838h0M956 822h0M915 818h0M927 823h0M942 831h0M927 802h0M934 829h0M1017 828h0M960 811h0M977 891h0M1018 817h0M984 805h0M977 806h0M994 844h0M999 864h0M959 809h0M978 851h0M999 807h0M917 822h0M931 863h0M918 830h0M952 814h0M997 830h0M989 814h0M938 812h0M938 804h0M986 846h0M1008 838h0M985 805h0M961 823h0M961 814h0M941 828h0M970 888h0M989 838h0M999 815h0M1001 806h0M941 834h0M963 832h0M1016 838h0M1003 844h0M916 832h0M937 807h0M951 814h0M964 836h0M938 830h0M965 805h0M981 800h0M973 828h0M1016 811h0M985 832h0M1012 825h0M1016 818h0M965 866h0M964 816h0M955 817h0M995 848h0M949 813h0M944 819h0M993 828h0M1017 815h0M983 872h0M989 839h0M963 816h0M993 803h0M938 810h0M952 830h0M1002 805h0M974 877h0M1004 804h0M1005 801h0M967 844h0M981 878h0M946 818h0M976 802h0M947 801h0M999 862h0M993 864h0M917 821h0M997 807h0M1013 836h0M1021 830h0M961 805h0M998 834h0M965 857h0M941 811h0M957 814h0M976 819h0M957 816h0M1015 802h0M937 809h0M953 806h0M932 816h0M943 844h0M946 822h0M953 813h0M949 819h0M988 807h0M937 848h0M1006 807h0M994 868h0M953 847h0M982 828h0M996 828h0M999 844h0M962 809h0M976 880h0M989 826h0M1009 846h0M969 843h0M1000 813h0M1002 824h0M977 807h0M939 828h0M927 824h0M925 819h0M1017 808h0M922 822h0M974 828h0M981 824h0M989 855h0M981 814h0M1008 800h0M932 815h0M985 818h0M961 809h0M998 809h0M996 810h0M953 829h0M1000 835h0M927 820h0M911 821h0M988 876h0M928 819h0M1018 813h0M1017 815h0M932 817h0M930 837h0M954 836h0M988 819h0M987 825h0M986 803h0M928 806h0M944 816h0M936 815h0M1023 810h0M988 872h0M994 873h0M931 820h0M1008 833h0M974 802h0M1004 819h0M1022 820h0M945 811h0M1013 809h0M939 824h0M931 807h0M956 824h0M998 844h0M1007 841h0M922 834h0M929 805h0M987 815h0M961 835h0M956 801h0M1016 801h0M978 835h0M983 801h0M924 821h0M1016 824h0M1007 829h0M940 803h0M980 799h0M1014 807h0M945 816h0M977 839h0M965 802h0M936 811h0M921 828h0M924 827h0M1012 834h0M969 810h0M1011 811h0M946 831h0M943 808h0M954 813h0M934 821h0M940 810h0M935 812h0M928 809h0M941 818h0M969 832h0M1005 818h0M918 814h0M990 842h0M930 824h0M998 842h0M1017 804h0M930 809h0M914 826h0M982 851h0M998 808h0M1017 808h0M938 809h0M1005 808h0M986 823h0M1000 858h0M954 861h0M940 831h0M1007 841h0M922 817h0M953 823h0M1001 811h0M991 807h0M968 824h0M940 811h0M944 821h0M932 803h0M969 837h0M986 807h0M913 820h0M1014 808h0M906 821h0M952 802h0M989 823h0M929 816h0M930 811h0M920 807h0M939 809h0M956 815h0M976 813h0M968 799h0M922 835h0M917 836h0M943 810h0M1013 816h0M1001 838h0M973 833h0M997 814h0M928 809h0M997 855h0M970 832h0M972 882h0M997 851h0M1024 817h0M909 813h0M992 839h0M946 826h0M1005 819h0M1009 826h0M1019 807h0M929 821h0M956 807h0M1018 829h0M1001 843h0M923 820h0M982 808h0M999 802h0M930 848h0M985 798h0M1023 816h0M1002 840h0M978 803h0M989 827h0M997 856h0M983 806h0M997 811h0M971 805h0M1014 828h0M951 817h0M969 813h0M1013 841h0M969 827h0M937 851h0M1002 810h0M996 817h0M1012 811h0M931 848h0M1011 812h0M1013 838h0M983 834h0M1020 824h0M987 796h0M958 810h0M939 811h0M984 822h0M973 826h0M947 840h0M961 851h0M1022 813h0M995 812h0M1002 804h0M908 819h0M973 890h0M961 817h0M1000 813h0M992 823h0M922 820h0M994 853h0M941 823h0M1014 820h0M956 820h0M975 803h0M962 836h0M923 826h0M971 809h0M972 808h0M928 822h0M1023 821h0M929 833h0M1010 825h0M939 830h0M959 815h0M969 872h0M960 833h0M1019 821h0M953 845h0M1005 816h0M976 803h0M991 839h0M1017 799h0M971 823h0M938 834h0M1014 822h0M981 800h0M971 805h0M964 818h0M959 882h0M974 807h0M933 825h0M1006 843h0M935 805h0M945 806h0M942 820h0M929 806h0M953 824h0M976 840h0M949 808h0M965 834h0M959 825h0M1012 821h0M915 816h0M966 879h0M995 804h0M952 828h0M1010 836h0M972 871h0M934 823h0M930 830h0M948 847h0M956 804h0M946 861h0M949 833h0M950 829h0M915 819h0M1000 841h0M982 818h0M939 817h0M936 832h0M961 854h0M976 849h0M958 824h0M970 814h0M946 829h0M936 815h0M913 831h0M922 828h0M984 829h0M948 806h0M1007 820h0M957 859h0M1000 864h0M944 808h0M1003 823h0M970 818h0M937 831h0M957 834h0M933 827h0M971 809h0M924 816h0M954 856h0M957 827h0M983 817h0M1007 844h0M970 825h0M930 824h0M944 832h0M986 820h0M984 868h0M972 817h0M995 812h0M934 810h0M962 827h0M920 810h0M945 814h0M964 803h0M966 845h0M994 812h0M963 811h0M922 838h0" stroke="#d6d6da" stroke-opacity="0.6" stroke-width="1.5" stroke-linecap="round" fill="none"/><path transform="scale(.5)" d="M975 832h0M966 835h0M956 830h0M968 852h0M973 831h0M977 805h0M928 841h0M919 834h0M931 837h0M956 827h0M951 845h0M980 863h0M919 815h0M1016 829h0M964 842h0M959 844h0M970 845h0M913 832h0M957 850h0M956 821h0M981 812h0M967 831h0M989 814h0M956 822h0M949 833h0M971 874h0M961 859h0M997 849h0M973 864h0M989 842h0M960 882h0M965 835h0M982 833h0M978 834h0M953 838h0M909 822h0M977 838h0M936 831h0M997 840h0M978 840h0M964 816h0M988 842h0M975 798h0M962 847h0M981 879h0M967 882h0M939 851h0M939 830h0M981 855h0M985 875h0M992 830h0M933 817h0M996 826h0M936 818h0M976 857h0M974 851h0M976 866h0M933 850h0M913 815h0M947 819h0M944 870h0M955 862h0M946 834h0M926 844h0M979 819h0M949 834h0M955 829h0M928 850h0M951 845h0M921 819h0M992 854h0M979 853h0M937 841h0M926 849h0M959 865h0M998 857h0M962 850h0M911 824h0M970 840h0M986 862h0M962 830h0M970 879h0M936 845h0M966 845h0M950 844h0M1001 799h0M954 862h0M946 804h0M973 854h0M949 819h0M985 875h0M920 837h0M982 860h0M986 864h0M969 857h0M958 845h0M951 841h0M964 845h0M921 841h0M933 855h0M953 839h0M968 843h0M946 824h0M980 823h0M979 865h0M978 867h0M944 832h0M932 819h0M930 824h0M986 847h0M954 823h0M975 884h0M975 854h0M934 844h0M931 848h0M918 830h0M958 824h0M973 818h0M971 833h0M931 846h0M1008 837h0M940 832h0M948 865h0M944 829h0M982 852h0M946 850h0M993 810h0M941 823h0M917 836h0M948 844h0M941 844h0M993 866h0M922 815h0M930 827h0M912 825h0M946 829h0M955 822h0M981 847h0M928 838h0M949 864h0M951 842h0M967 857h0M955 870h0M971 862h0M925 831h0M972 852h0M970 865h0M964 852h0M963 837h0M939 851h0M984 875h0M959 847h0M967 847h0M914 829h0M918 822h0M923 815h0M967 853h0M967 864h0M977 838h0M971 841h0M944 843h0M976 808h0M962 852h0M986 849h0M957 838h0M983 831h0M981 829h0M970 875h0M926 829h0M994 856h0M1014 841h0M930 819h0M915 819h0M956 827h0M918 836h0M935 828h0M964 861h0M927 845h0M944 856h0M986 837h0M972 853h0M989 864h0M934 844h0M951 866h0M992 864h0M956 874h0M993 844h0M927 814h0M968 866h0M949 832h0M957 871h0M958 856h0M946 811h0M944 861h0M948 869h0M940 815h0M954 836h0M959 848h0M910 834h0M946 857h0M960 846h0M1010 808h0M990 810h0M956 842h0M982 848h0M970 880h0M990 865h0M940 834h0M942 850h0M979 841h0M913 832h0M984 832h0M965 859h0M989 811h0M939 847h0M992 851h0M998 830h0M938 818h0M910 824h0M954 839h0M922 824h0M948 866h0M975 849h0M944 858h0M980 820h0M952 850h0M964 831h0M982 851h0M978 849h0M944 850h0M947 860h0M916 820h0M984 845h0M965 862h0M992 828h0M940 838h0M972 833h0M942 855h0M978 867h0M1013 840h0M956 836h0M955 871h0M944 834h0M976 812h0M974 837h0M1013 833h0M941 839h0M961 829h0M969 871h0M974 861h0M923 841h0M959 831h0M957 868h0M975 857h0M959 841h0M917 833h0M946 822h0M958 877h0M938 849h0" stroke="#b07468" stroke-opacity="0.55" stroke-width="1.5" stroke-linecap="round" fill="none"/><path transform="scale(.5)" d="M987 805h0M972 804h0M993 806h0M1006 825h0M982 819h0M1008 810h0M1006 812h0M954 818h0M981 810h0M997 821h0M998 814h0M994 812h0M984 809h0M1005 813h0M1015 807h0M973 819h0M1017 811h0M1014 807h0M1009 833h0M993 809h0M995 800h0M999 808h0M999 805h0M1002 811h0M1011 803h0M994 813h0M977 826h0M982 804h0M976 847h0M939 815h0M981 823h0M1012 823h0M992 800h0M1018 824h0M999 812h0M1011 808h0M976 837h0M989 844h0M1010 805h0M1000 825h0M977 851h0M1019 819h0M1013 835h0M1006 807h0M992 804h0M1006 807h0M997 825h0M986 807h0M1021 810h0M983 830h0M1007 823h0M1025 804h0M1008 811h0M969 821h0M1016 800h0M1004 813h0M1017 801h0M1012 804h0M988 825h0M993 795h0M994 808h0M1003 853h0M983 803h0M982 824h0M999 813h0M1010 821h0M987 813h0M991 807h0M1006 798h0M1001 822h0M1001 804h0M1018 802h0M989 811h0M971 838h0M1013 810h0M1000 805h0M1008 813h0M969 803h0M954 830h0M1006 814h0M988 823h0M981 817h0M992 803h0M975 801h0M945 825h0M993 829h0M989 800h0M1005 807h0M1002 809h0M1010 805h0M1016 800h0M986 828h0M995 819h0M982 802h0M999 818h0M967 812h0M990 816h0M993 803h0M1002 811h0M1002 830h0M956 805h0M1002 802h0M988 826h0M975 850h0M991 841h0M995 832h0M989 797h0M1007 813h0M1016 818h0M1009 822h0M1008 832h0M1018 819h0M1008 812h0M1001 805h0M1008 818h0M973 816h0M993 805h0M1015 821h0M997 799h0" stroke="#5a82c2" stroke-opacity="0.75" stroke-width="1.5" stroke-linecap="round" fill="none"/>
<text x="282" y="338.8" font-size="8.6" text-anchor="middle" fill="#222" font-style="italic">DLL3</text>
<text x="349.5" y="338.8" font-size="8.6" text-anchor="middle" fill="#222" font-style="italic">PDGFRA</text>
<text x="417" y="338.8" font-size="8.6" text-anchor="middle" fill="#222" font-style="italic">CD44</text>
<text x="484.6" y="338.8" font-size="8.6" text-anchor="middle" fill="#222" font-style="italic">CHI3L1</text>
<text x="359" y="455.3" font-size="7" text-anchor="middle" fill="#222" >Expression</text>
<rect x="341.6" y="457.7" width="33.6" height="5.8" fill="url(#grn)" stroke="#222" stroke-width="0.5"/>
<path d="M344.0 463.5V462.2M350.4 463.5V462.2M356.8 463.5V462.2M363.2 463.5V462.2M369.6 463.5V462.2" stroke="#333" stroke-width="0.5"/>
<text x="344.5" y="473" font-size="7" text-anchor="middle" fill="#222" >0</text>
<text x="375" y="473" font-size="7" text-anchor="middle" fill="#222" >Max</text>
<text x="399.4" y="456" font-size="7" text-anchor="start" fill="#222" >RNA velocity</text>
<circle cx="400.8" cy="461.7" r="2" fill="#a3405a"/>
<circle cx="400.8" cy="469.8" r="2" fill="#2d4580"/>
<text x="404" y="464.4" font-size="7.3" text-anchor="start" fill="#222" >Positive</text>
<text x="404" y="472.5" font-size="7.3" text-anchor="start" fill="#222" >Negative</text>
</svg></body></html>
